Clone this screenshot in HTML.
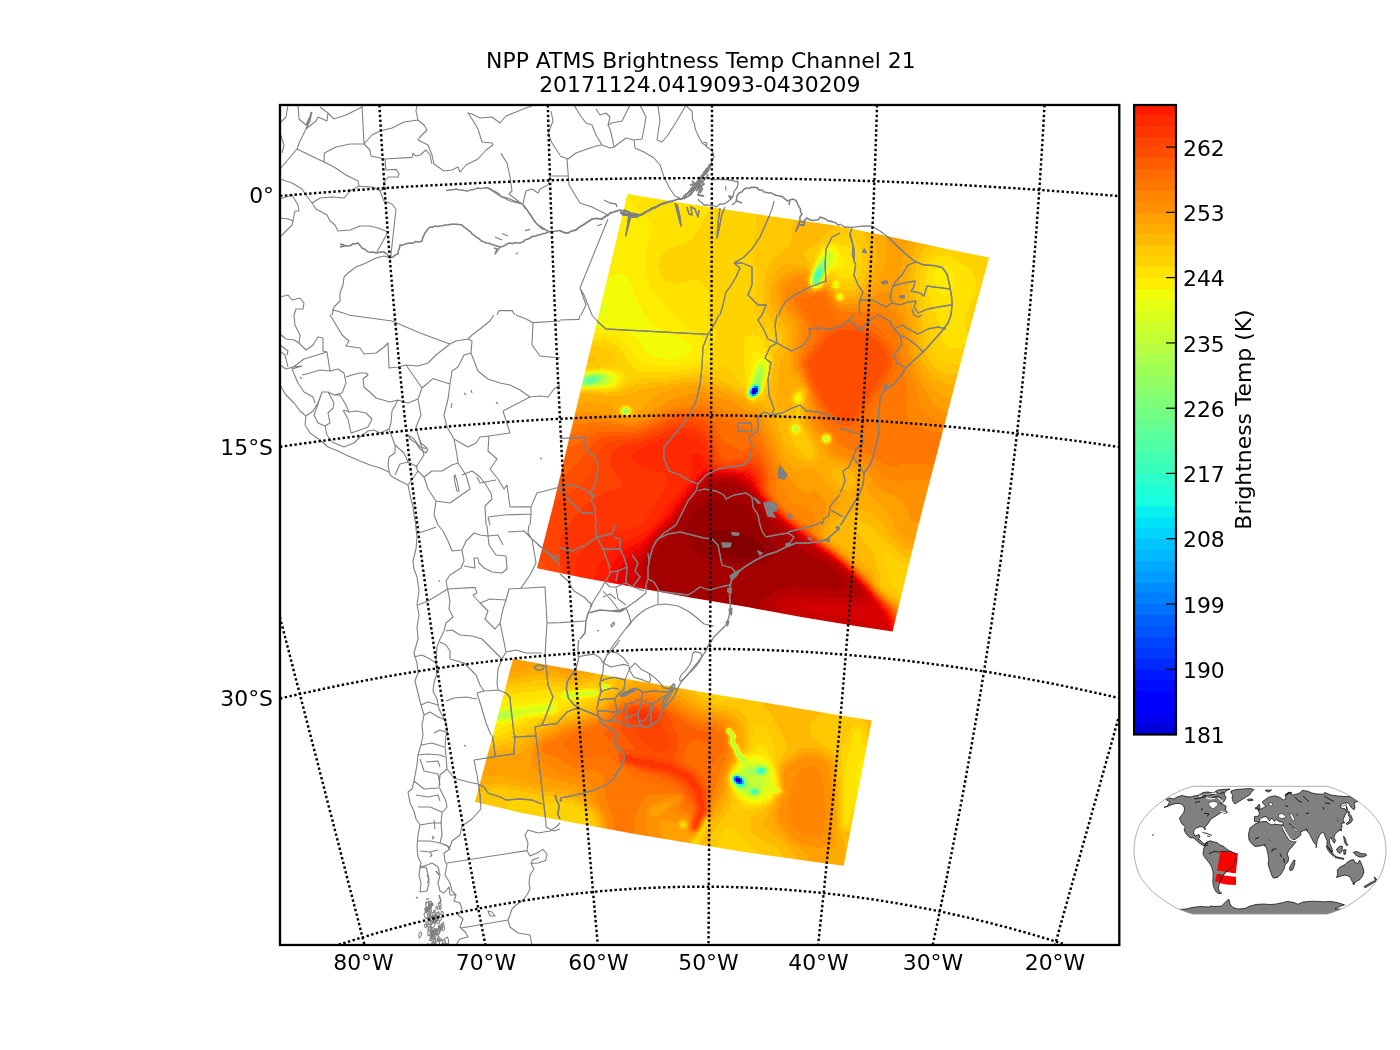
<!DOCTYPE html>
<html><head><meta charset="utf-8"><title>NPP ATMS Brightness Temp Channel 21</title>
<style>
html,body{margin:0;padding:0;background:#fff}
svg{display:block}
.t{font-family:"DejaVu Sans","Liberation Sans",sans-serif;font-size:21.9px;fill:#000}
</style></head><body>
<svg width="1400" height="1050" viewBox="0 0 1400 1050">
<rect width="1400" height="1050" fill="#fff"/>
<clipPath id="ax"><rect x="280" y="105" width="839.3" height="840"/></clipPath>
<g clip-path="url(#ax)">
<clipPath id="c1"><polygon points="627.3,194.0 674.3,201.8 728.6,210.0 782.9,218.1 837.2,225.7 891.4,237.1 945.7,248.8 989.2,257.6 966.8,339.2 944.5,424.6 918.5,524.9 892.6,631.6 855.7,626.1 801.4,616.9 747.2,607.1 692.9,597.9 638.6,588.1 584.3,578.1 537.0,568.2 553.4,504.5 572.0,426.5 590.6,348.4 609.2,270.4"/></clipPath>
<g clip-path="url(#c1)" shape-rendering="crispEdges">
<path fill="#0000bb" d="M754 390h2v2h-2z"/>
<path fill="#0000cd" d="M754 388h2v2h-2zM752 390h2v2h-2z"/>
<path fill="#0000da" d="M752 392h2v2h-2z"/>
<path fill="#0000ed" d="M754 392h2v2h-2z"/>
<path fill="#000cff" d="M756 388h2v2h-2zM756 390h2v2h-2z"/>
<path fill="#0028ff" d="M752 388h2v2h-2z"/>
<path fill="#0070ff" d="M754 386h2v2h-2z"/>
<path fill="#008cff" d="M756 386h2v2h-2zM750 392h2v2h-2zM752 394h2v2h-2z"/>
<path fill="#009cff" d="M750 390h2v2h-2zM756 392h2v2h-2z"/>
<path fill="#00c4ff" d="M754 394h2v2h-2z"/>
<path fill="#16ffe1" d="M752 386h2v2h-2zM758 388h2v2h-2zM750 394h2v2h-2z"/>
<path fill="#2cffca" d="M818 272h2v2h-2zM818 274h2v2h-2z"/>
<path fill="#39ffbe" d="M816 274h2v2h-2zM816 276h2v2h-2zM758 386h2v2h-2zM750 388h2v2h-2zM758 390h2v2h-2z"/>
<path fill="#43ffb4" d="M818 270h2v2h-2zM816 272h2v2h-2zM818 276h2v2h-2zM756 384h2v2h-2z"/>
<path fill="#50ffa7" d="M820 270h2v2h-2zM820 272h2v2h-2zM816 278h2v2h-2zM590 380h2v2h-2zM754 384h2v2h-2z"/>
<path fill="#5aff9d" d="M820 268h2v2h-2zM820 274h2v2h-2zM814 276h2v2h-2zM814 278h2v2h-2zM816 280h2v2h-2zM588 378h6v2h-6zM588 380h2v2h-2zM592 380h2v2h-2z"/>
<path fill="#66ff90" d="M818 268h2v2h-2zM818 278h2v2h-2zM814 280h2v2h-2zM586 378h2v2h-2zM594 378h2v2h-2zM586 380h2v2h-2zM594 380h2v2h-2z"/>
<path fill="#73ff83" d="M820 266h4v2h-4zM822 268h2v2h-2zM816 270h2v2h-2zM822 270h2v2h-2zM814 274h2v2h-2zM816 282h2v2h-2zM592 376h4v2h-4zM596 378h2v2h-2zM584 380h2v2h-2zM586 382h6v2h-6zM758 384h2v2h-2z"/>
<path fill="#7dff7a" d="M822 272h2v2h-2zM820 276h2v2h-2zM818 280h2v2h-2zM814 282h2v2h-2zM588 376h4v2h-4zM596 376h2v2h-2zM584 378h2v2h-2zM598 378h2v2h-2zM596 380h2v2h-2zM592 382h2v2h-2zM756 394h2v2h-2zM752 396h2v2h-2z"/>
<path fill="#8aff6d" d="M820 264h4v2h-4zM818 266h2v2h-2zM598 376h2v2h-2zM582 380h2v2h-2zM598 380h2v2h-2zM584 382h2v2h-2zM594 382h2v2h-2zM756 382h2v2h-2zM624 410h4v2h-4z"/>
<path fill="#94ff63" d="M822 262h2v2h-2zM824 264h2v2h-2zM824 266h2v2h-2zM816 268h2v2h-2zM814 272h2v2h-2zM818 282h2v2h-2zM586 376h2v2h-2zM600 376h2v2h-2zM758 376h2v2h-2zM582 378h2v2h-2zM600 378h2v2h-2zM758 378h2v2h-2zM582 382h2v2h-2zM596 382h2v2h-2zM758 382h2v2h-2zM752 384h2v2h-2zM748 392h2v2h-2zM758 392h2v2h-2z"/>
<path fill="#a0ff56" d="M824 262h2v2h-2zM824 268h2v2h-2zM822 274h2v2h-2zM812 278h2v2h-2zM820 278h2v2h-2zM812 280h2v2h-2zM816 284h2v2h-2zM760 372h2v2h-2zM592 374h6v2h-6zM758 374h4v2h-4zM602 376h2v2h-2zM760 376h2v2h-2zM602 378h2v2h-2zM756 378h2v2h-2zM580 380h2v2h-2zM600 380h2v2h-2zM756 380h4v2h-4zM754 382h2v2h-2zM586 384h6v2h-6zM750 386h2v2h-2zM750 396h2v2h-2z"/>
<path fill="#aaff4d" d="M822 260h4v2h-4zM820 262h2v2h-2zM818 264h2v2h-2zM824 270h2v2h-2zM812 276h2v2h-2zM812 282h2v2h-2zM814 284h2v2h-2zM760 370h2v2h-2zM758 372h2v2h-2zM590 374h2v2h-2zM598 374h4v2h-4zM584 376h2v2h-2zM756 376h2v2h-2zM760 378h2v2h-2zM602 380h2v2h-2zM580 382h2v2h-2zM598 382h2v2h-2zM584 384h2v2h-2zM592 384h2v2h-2zM748 390h2v2h-2zM748 394h2v2h-2zM754 396h2v2h-2zM794 428h2v2h-2z"/>
<path fill="#b7ff40" d="M824 258h2v2h-2zM826 260h2v2h-2zM826 262h2v2h-2zM826 264h2v2h-2zM814 270h2v2h-2zM820 280h2v2h-2zM818 284h2v2h-2zM760 368h4v2h-4zM758 370h2v2h-2zM762 370h2v2h-2zM762 372h2v2h-2zM588 374h2v2h-2zM602 374h2v2h-2zM756 374h2v2h-2zM762 374h2v2h-2zM582 376h2v2h-2zM604 376h2v2h-2zM580 378h2v2h-2zM604 378h2v2h-2zM754 378h2v2h-2zM578 380h2v2h-2zM604 380h2v2h-2zM754 380h2v2h-2zM760 380h2v2h-2zM600 382h2v2h-2zM760 382h2v2h-2zM582 384h2v2h-2zM594 384h2v2h-2zM760 384h2v2h-2zM760 386h2v2h-2zM624 408h4v2h-4zM624 412h4v2h-4zM796 428h2v2h-2zM826 438h2v2h-2z"/>
<path fill="#c4ff33" d="M826 256h2v2h-2zM822 258h2v2h-2zM826 258h4v2h-4zM820 260h2v2h-2zM816 266h2v2h-2zM826 266h2v2h-2zM824 272h2v2h-2zM822 276h2v2h-2zM760 366h4v2h-4zM758 368h2v2h-2zM756 372h2v2h-2zM586 374h2v2h-2zM604 374h2v2h-2zM606 376h2v2h-2zM754 376h2v2h-2zM762 376h2v2h-2zM606 378h2v2h-2zM606 380h2v2h-2zM578 382h2v2h-2zM602 382h2v2h-2zM752 382h2v2h-2zM580 384h2v2h-2zM596 384h4v2h-4zM760 388h2v2h-2zM622 410h2v2h-2zM628 410h2v2h-2zM826 436h2v2h-2zM824 438h2v2h-2z"/>
<path fill="#ceff29" d="M826 254h6v2h-6zM824 256h2v2h-2zM828 256h4v2h-4zM830 258h2v2h-2zM828 260h4v2h-4zM818 262h2v2h-2zM828 262h2v2h-2zM828 264h2v2h-2zM826 268h2v2h-2zM812 274h2v2h-2zM820 282h2v2h-2zM812 284h2v2h-2zM760 364h4v2h-4zM758 366h2v2h-2zM764 366h2v2h-2zM764 368h2v2h-2zM756 370h2v2h-2zM764 370h2v2h-2zM594 372h8v2h-8zM764 372h2v2h-2zM584 374h2v2h-2zM606 374h2v2h-2zM754 374h2v2h-2zM580 376h2v2h-2zM608 376h2v2h-2zM578 378h2v2h-2zM608 378h4v2h-4zM762 378h2v2h-2zM576 380h2v2h-2zM608 380h2v2h-2zM752 380h2v2h-2zM576 382h2v2h-2zM604 382h4v2h-4zM600 384h2v2h-2zM748 388h2v2h-2zM794 426h4v2h-4zM794 430h4v2h-4z"/>
<path fill="#dbff1c" d="M826 252h6v2h-6zM824 254h2v2h-2zM832 254h2v2h-2zM822 256h2v2h-2zM832 256h2v2h-2zM820 258h2v2h-2zM832 258h2v2h-2zM832 260h2v2h-2zM830 262h2v2h-2zM816 264h2v2h-2zM828 266h2v2h-2zM814 268h2v2h-2zM826 270h2v2h-2zM824 274h2v2h-2zM822 278h2v2h-2zM834 284h4v2h-4zM838 296h4v2h-4zM762 362h2v2h-2zM758 364h2v2h-2zM764 364h2v2h-2zM756 368h2v2h-2zM590 372h4v2h-4zM602 372h4v2h-4zM754 372h2v2h-2zM608 374h2v2h-2zM764 374h2v2h-2zM610 376h2v2h-2zM576 378h2v2h-2zM612 378h2v2h-2zM752 378h2v2h-2zM610 380h2v2h-2zM762 380h2v2h-2zM608 382h2v2h-2zM578 384h2v2h-2zM602 384h4v2h-4zM750 384h2v2h-2zM584 386h12v2h-12zM760 390h2v2h-2zM792 428h2v2h-2zM824 436h2v2h-2zM826 440h2v2h-2z"/>
<path fill="#e4ff13" d="M826 250h8v2h-8zM824 252h2v2h-2zM832 252h2v2h-2zM822 254h2v2h-2zM834 254h2v2h-2zM820 256h2v2h-2zM834 256h2v2h-2zM834 258h2v2h-2zM818 260h2v2h-2zM832 262h2v2h-2zM830 264h2v2h-2zM828 268h2v2h-2zM812 272h2v2h-2zM814 286h4v2h-4zM580 304h24v2h-24zM534 306h18v2h-18zM570 306h38v2h-38zM534 308h74v2h-74zM534 310h74v2h-74zM534 312h10v2h-10zM574 312h34v2h-34zM586 314h16v2h-16zM762 360h2v2h-2zM758 362h4v2h-4zM764 362h2v2h-2zM756 366h2v2h-2zM754 368h2v2h-2zM754 370h2v2h-2zM588 372h2v2h-2zM606 372h4v2h-4zM582 374h2v2h-2zM610 374h4v2h-4zM752 374h2v2h-2zM578 376h2v2h-2zM612 376h2v2h-2zM752 376h2v2h-2zM764 376h2v2h-2zM614 378h2v2h-2zM574 380h2v2h-2zM612 380h4v2h-4zM574 382h2v2h-2zM610 382h4v2h-4zM750 382h2v2h-2zM762 382h2v2h-2zM576 384h2v2h-2zM606 384h4v2h-4zM580 386h4v2h-4zM596 386h6v2h-6zM758 394h2v2h-2zM748 396h2v2h-2zM756 396h2v2h-2zM798 396h2v2h-2zM798 398h2v2h-2zM622 408h2v2h-2zM628 408h2v2h-2zM622 412h2v2h-2zM628 412h2v2h-2zM798 428h2v2h-2zM828 438h2v2h-2zM824 440h2v2h-2z"/>
<path fill="#f1fc06" d="M826 248h8v2h-8zM824 250h2v2h-2zM834 250h2v2h-2zM822 252h2v2h-2zM834 252h2v2h-2zM836 254h2v2h-2zM836 256h2v2h-2zM818 258h2v2h-2zM836 258h2v2h-2zM834 260h4v2h-4zM816 262h2v2h-2zM834 262h2v2h-2zM832 264h2v2h-2zM814 266h2v2h-2zM830 266h2v2h-2zM826 272h2v2h-2zM616 274h10v2h-10zM610 276h18v2h-18zM534 278h58v2h-58zM596 278h32v2h-32zM810 278h2v2h-2zM534 280h96v2h-96zM810 280h2v2h-2zM822 280h2v2h-2zM534 282h96v2h-96zM810 282h2v2h-2zM834 282h4v2h-4zM534 284h98v2h-98zM820 284h2v2h-2zM534 286h98v2h-98zM818 286h2v2h-2zM834 286h4v2h-4zM534 288h98v2h-98zM534 290h100v2h-100zM534 292h100v2h-100zM534 294h100v2h-100zM838 294h4v2h-4zM534 296h102v2h-102zM534 298h102v2h-102zM840 298h2v2h-2zM534 300h104v2h-104zM534 302h104v2h-104zM534 304h46v2h-46zM604 304h36v2h-36zM552 306h18v2h-18zM608 306h32v2h-32zM608 308h34v2h-34zM608 310h34v2h-34zM544 312h30v2h-30zM608 312h36v2h-36zM534 314h52v2h-52zM602 314h42v2h-42zM534 316h112v2h-112zM534 318h114v2h-114zM534 320h116v2h-116zM534 322h116v2h-116zM534 324h120v2h-120zM534 326h122v2h-122zM616 328h44v2h-44zM624 330h40v2h-40zM630 332h40v2h-40zM632 334h42v2h-42zM636 336h44v2h-44zM638 338h46v2h-46zM638 340h48v2h-48zM640 342h50v2h-50zM642 344h48v2h-48zM644 346h48v2h-48zM644 348h48v2h-48zM646 350h46v2h-46zM648 352h42v2h-42zM652 354h36v2h-36zM656 356h28v2h-28zM664 358h10v2h-10zM760 358h6v2h-6zM758 360h4v2h-4zM764 360h2v2h-2zM756 362h2v2h-2zM766 362h2v2h-2zM754 364h4v2h-4zM766 364h2v2h-2zM754 366h2v2h-2zM766 366h2v2h-2zM766 368h2v2h-2zM598 370h6v2h-6zM752 370h2v2h-2zM766 370h2v2h-2zM586 372h2v2h-2zM610 372h2v2h-2zM752 372h2v2h-2zM766 372h2v2h-2zM580 374h2v2h-2zM614 374h2v2h-2zM576 376h2v2h-2zM614 376h4v2h-4zM750 376h2v2h-2zM574 378h2v2h-2zM616 378h2v2h-2zM750 378h2v2h-2zM764 378h2v2h-2zM616 380h2v2h-2zM750 380h2v2h-2zM572 382h2v2h-2zM614 382h2v2h-2zM574 384h2v2h-2zM610 384h4v2h-4zM762 384h2v2h-2zM578 386h2v2h-2zM602 386h6v2h-6zM748 386h2v2h-2zM762 386h2v2h-2zM796 396h2v2h-2zM752 398h2v2h-2zM796 398h2v2h-2zM792 426h2v2h-2zM792 430h2v2h-2zM828 436h2v2h-2z"/>
<path fill="#feed00" d="M534 192h38v2h-38zM622 192h6v2h-6zM534 194h38v2h-38zM620 194h8v2h-8zM534 196h38v2h-38zM620 196h10v2h-10zM534 198h38v2h-38zM618 198h12v2h-12zM534 200h38v2h-38zM614 200h18v2h-18zM534 202h40v2h-40zM610 202h24v2h-24zM534 204h40v2h-40zM606 204h28v2h-28zM534 206h44v2h-44zM598 206h38v2h-38zM534 208h104v2h-104zM534 210h106v2h-106zM534 212h108v2h-108zM534 214h110v2h-110zM534 216h112v2h-112zM534 218h114v2h-114zM534 220h116v2h-116zM534 222h116v2h-116zM534 224h118v2h-118zM534 226h118v2h-118zM534 228h118v2h-118zM534 230h118v2h-118zM534 232h118v2h-118zM534 234h116v2h-116zM534 236h116v2h-116zM534 238h116v2h-116zM534 240h114v2h-114zM534 242h114v2h-114zM534 244h114v2h-114zM534 246h114v2h-114zM828 246h8v2h-8zM534 248h112v2h-112zM824 248h2v2h-2zM834 248h4v2h-4zM534 250h112v2h-112zM822 250h2v2h-2zM836 250h4v2h-4zM534 252h112v2h-112zM836 252h4v2h-4zM534 254h112v2h-112zM820 254h2v2h-2zM838 254h4v2h-4zM534 256h112v2h-112zM818 256h2v2h-2zM838 256h6v2h-6zM534 258h112v2h-112zM838 258h6v2h-6zM534 260h112v2h-112zM816 260h2v2h-2zM838 260h8v2h-8zM534 262h112v2h-112zM836 262h10v2h-10zM534 264h112v2h-112zM834 264h12v2h-12zM534 266h112v2h-112zM832 266h10v2h-10zM938 266h10v2h-10zM534 268h112v2h-112zM830 268h4v2h-4zM936 268h14v2h-14zM534 270h112v2h-112zM812 270h2v2h-2zM828 270h2v2h-2zM936 270h16v2h-16zM534 272h112v2h-112zM934 272h20v2h-20zM534 274h82v2h-82zM626 274h20v2h-20zM934 274h20v2h-20zM534 276h76v2h-76zM628 276h20v2h-20zM810 276h2v2h-2zM824 276h2v2h-2zM934 276h20v2h-20zM592 278h4v2h-4zM628 278h20v2h-20zM934 278h22v2h-22zM630 280h18v2h-18zM934 280h22v2h-22zM630 282h20v2h-20zM934 282h22v2h-22zM632 284h18v2h-18zM838 284h2v2h-2zM936 284h18v2h-18zM632 286h18v2h-18zM812 286h2v2h-2zM936 286h18v2h-18zM632 288h20v2h-20zM936 288h16v2h-16zM634 290h20v2h-20zM938 290h14v2h-14zM634 292h20v2h-20zM940 292h10v2h-10zM634 294h22v2h-22zM944 294h2v2h-2zM636 296h22v2h-22zM636 298h24v2h-24zM838 298h2v2h-2zM638 300h24v2h-24zM638 302h24v2h-24zM640 304h24v2h-24zM640 306h26v2h-26zM642 308h26v2h-26zM642 310h28v2h-28zM644 312h28v2h-28zM644 314h30v2h-30zM646 316h30v2h-30zM648 318h30v2h-30zM650 320h30v2h-30zM650 322h34v2h-34zM654 324h32v2h-32zM656 326h34v2h-34zM534 328h82v2h-82zM660 328h32v2h-32zM534 330h90v2h-90zM664 330h32v2h-32zM534 332h96v2h-96zM670 332h28v2h-28zM550 334h22v2h-22zM608 334h24v2h-24zM674 334h26v2h-26zM616 336h20v2h-20zM680 336h22v2h-22zM620 338h18v2h-18zM684 338h20v2h-20zM622 340h16v2h-16zM686 340h18v2h-18zM626 342h14v2h-14zM690 342h14v2h-14zM628 344h14v2h-14zM690 344h14v2h-14zM630 346h14v2h-14zM692 346h14v2h-14zM630 348h14v2h-14zM692 348h14v2h-14zM632 350h14v2h-14zM692 350h12v2h-12zM634 352h14v2h-14zM690 352h14v2h-14zM754 352h6v2h-6zM634 354h18v2h-18zM688 354h16v2h-16zM752 354h12v2h-12zM636 356h20v2h-20zM684 356h18v2h-18zM752 356h14v2h-14zM638 358h26v2h-26zM674 358h26v2h-26zM752 358h8v2h-8zM766 358h2v2h-2zM640 360h56v2h-56zM750 360h8v2h-8zM766 360h2v2h-2zM644 362h46v2h-46zM750 362h6v2h-6zM650 364h32v2h-32zM750 364h4v2h-4zM750 366h4v2h-4zM750 368h4v2h-4zM590 370h8v2h-8zM604 370h8v2h-8zM750 370h2v2h-2zM582 372h4v2h-4zM612 372h4v2h-4zM750 372h2v2h-2zM578 374h2v2h-2zM616 374h4v2h-4zM750 374h2v2h-2zM766 374h2v2h-2zM574 376h2v2h-2zM618 376h2v2h-2zM766 376h2v2h-2zM572 378h2v2h-2zM618 378h2v2h-2zM748 378h2v2h-2zM572 380h2v2h-2zM618 380h2v2h-2zM748 380h2v2h-2zM764 380h2v2h-2zM616 382h2v2h-2zM748 382h2v2h-2zM764 382h2v2h-2zM572 384h2v2h-2zM614 384h2v2h-2zM748 384h2v2h-2zM576 386h2v2h-2zM608 386h6v2h-6zM588 388h4v2h-4zM762 388h2v2h-2zM760 392h2v2h-2zM796 394h4v2h-4zM800 396h2v2h-2zM750 398h2v2h-2zM800 398h2v2h-2zM796 400h4v2h-4zM626 406h2v2h-2zM794 424h4v2h-4zM798 426h2v2h-2zM798 430h2v2h-2zM794 432h4v2h-4zM822 438h2v2h-2zM828 440h2v2h-2z"/>
<path fill="#ffe200" d="M572 192h50v2h-50zM628 192h84v2h-84zM572 194h48v2h-48zM628 194h84v2h-84zM572 196h48v2h-48zM630 196h82v2h-82zM572 198h46v2h-46zM630 198h82v2h-82zM572 200h42v2h-42zM632 200h80v2h-80zM574 202h36v2h-36zM634 202h78v2h-78zM574 204h32v2h-32zM634 204h76v2h-76zM578 206h20v2h-20zM636 206h74v2h-74zM638 208h72v2h-72zM640 210h68v2h-68zM642 212h66v2h-66zM644 214h62v2h-62zM646 216h60v2h-60zM648 218h56v2h-56zM650 220h54v2h-54zM650 222h52v2h-52zM652 224h50v2h-50zM652 226h48v2h-48zM652 228h48v2h-48zM652 230h46v2h-46zM652 232h44v2h-44zM650 234h44v2h-44zM650 236h44v2h-44zM650 238h42v2h-42zM648 240h40v2h-40zM648 242h36v2h-36zM648 244h32v2h-32zM828 244h14v2h-14zM648 246h26v2h-26zM824 246h4v2h-4zM836 246h12v2h-12zM646 248h24v2h-24zM822 248h2v2h-2zM838 248h14v2h-14zM646 250h20v2h-20zM820 250h2v2h-2zM840 250h12v2h-12zM646 252h18v2h-18zM820 252h2v2h-2zM840 252h14v2h-14zM646 254h16v2h-16zM818 254h2v2h-2zM842 254h12v2h-12zM646 256h14v2h-14zM844 256h12v2h-12zM936 256h14v2h-14zM646 258h14v2h-14zM816 258h2v2h-2zM844 258h12v2h-12zM934 258h22v2h-22zM646 260h14v2h-14zM846 260h10v2h-10zM932 260h28v2h-28zM646 262h12v2h-12zM814 262h2v2h-2zM846 262h10v2h-10zM930 262h32v2h-32zM646 264h12v2h-12zM814 264h2v2h-2zM846 264h10v2h-10zM928 264h36v2h-36zM646 266h12v2h-12zM842 266h14v2h-14zM928 266h10v2h-10zM948 266h20v2h-20zM646 268h14v2h-14zM812 268h2v2h-2zM834 268h22v2h-22zM928 268h8v2h-8zM950 268h20v2h-20zM646 270h14v2h-14zM830 270h24v2h-24zM926 270h10v2h-10zM952 270h20v2h-20zM646 272h14v2h-14zM828 272h2v2h-2zM836 272h18v2h-18zM926 272h8v2h-8zM954 272h18v2h-18zM646 274h16v2h-16zM826 274h2v2h-2zM838 274h14v2h-14zM926 274h8v2h-8zM954 274h20v2h-20zM648 276h14v2h-14zM842 276h8v2h-8zM926 276h8v2h-8zM954 276h20v2h-20zM648 278h16v2h-16zM824 278h2v2h-2zM926 278h8v2h-8zM956 278h20v2h-20zM648 280h18v2h-18zM688 280h10v2h-10zM834 280h4v2h-4zM926 280h8v2h-8zM956 280h20v2h-20zM650 282h22v2h-22zM678 282h24v2h-24zM822 282h2v2h-2zM832 282h2v2h-2zM838 282h2v2h-2zM926 282h8v2h-8zM956 282h20v2h-20zM650 284h54v2h-54zM810 284h2v2h-2zM832 284h2v2h-2zM926 284h10v2h-10zM954 284h22v2h-22zM650 286h56v2h-56zM838 286h2v2h-2zM926 286h10v2h-10zM954 286h22v2h-22zM652 288h54v2h-54zM928 288h8v2h-8zM952 288h24v2h-24zM654 290h54v2h-54zM928 290h10v2h-10zM952 290h24v2h-24zM654 292h54v2h-54zM928 292h12v2h-12zM950 292h26v2h-26zM656 294h52v2h-52zM928 294h16v2h-16zM946 294h28v2h-28zM658 296h52v2h-52zM836 296h2v2h-2zM842 296h2v2h-2zM930 296h44v2h-44zM660 298h48v2h-48zM930 298h44v2h-44zM662 300h46v2h-46zM930 300h42v2h-42zM662 302h46v2h-46zM932 302h40v2h-40zM664 304h44v2h-44zM932 304h38v2h-38zM666 306h42v2h-42zM932 306h38v2h-38zM668 308h40v2h-40zM934 308h36v2h-36zM670 310h38v2h-38zM934 310h34v2h-34zM672 312h36v2h-36zM936 312h32v2h-32zM674 314h34v2h-34zM936 314h30v2h-30zM676 316h32v2h-32zM936 316h30v2h-30zM678 318h30v2h-30zM938 318h28v2h-28zM680 320h30v2h-30zM938 320h28v2h-28zM684 322h26v2h-26zM940 322h26v2h-26zM686 324h26v2h-26zM940 324h24v2h-24zM690 326h24v2h-24zM940 326h26v2h-26zM692 328h22v2h-22zM940 328h26v2h-26zM696 330h20v2h-20zM942 330h24v2h-24zM698 332h18v2h-18zM942 332h24v2h-24zM534 334h16v2h-16zM572 334h36v2h-36zM700 334h16v2h-16zM750 334h4v2h-4zM942 334h26v2h-26zM534 336h82v2h-82zM702 336h14v2h-14zM746 336h14v2h-14zM942 336h26v2h-26zM534 338h86v2h-86zM704 338h12v2h-12zM744 338h18v2h-18zM942 338h26v2h-26zM534 340h44v2h-44zM606 340h16v2h-16zM704 340h12v2h-12zM744 340h20v2h-20zM944 340h24v2h-24zM612 342h14v2h-14zM704 342h10v2h-10zM744 342h20v2h-20zM944 342h24v2h-24zM616 344h12v2h-12zM704 344h10v2h-10zM744 344h20v2h-20zM946 344h18v2h-18zM618 346h12v2h-12zM706 346h8v2h-8zM744 346h20v2h-20zM948 346h14v2h-14zM620 348h10v2h-10zM706 348h8v2h-8zM744 348h22v2h-22zM622 350h10v2h-10zM704 350h10v2h-10zM744 350h22v2h-22zM624 352h10v2h-10zM704 352h8v2h-8zM744 352h10v2h-10zM760 352h8v2h-8zM624 354h10v2h-10zM704 354h8v2h-8zM744 354h8v2h-8zM764 354h4v2h-4zM626 356h10v2h-10zM702 356h10v2h-10zM744 356h8v2h-8zM766 356h4v2h-4zM626 358h12v2h-12zM700 358h10v2h-10zM744 358h8v2h-8zM768 358h2v2h-2zM628 360h12v2h-12zM696 360h14v2h-14zM744 360h6v2h-6zM768 360h2v2h-2zM628 362h16v2h-16zM690 362h16v2h-16zM744 362h6v2h-6zM768 362h2v2h-2zM630 364h20v2h-20zM682 364h22v2h-22zM744 364h6v2h-6zM768 364h2v2h-2zM632 366h66v2h-66zM744 366h6v2h-6zM768 366h2v2h-2zM600 368h8v2h-8zM634 368h56v2h-56zM744 368h6v2h-6zM768 368h2v2h-2zM586 370h4v2h-4zM612 370h8v2h-8zM638 370h42v2h-42zM744 370h6v2h-6zM768 370h2v2h-2zM580 372h2v2h-2zM616 372h6v2h-6zM744 372h6v2h-6zM576 374h2v2h-2zM620 374h4v2h-4zM746 374h4v2h-4zM572 376h2v2h-2zM620 376h4v2h-4zM746 376h4v2h-4zM570 378h2v2h-2zM620 378h4v2h-4zM746 378h2v2h-2zM766 378h2v2h-2zM568 380h4v2h-4zM620 380h4v2h-4zM746 380h2v2h-2zM568 382h4v2h-4zM618 382h4v2h-4zM746 382h2v2h-2zM570 384h2v2h-2zM616 384h4v2h-4zM746 384h2v2h-2zM764 384h2v2h-2zM572 386h4v2h-4zM614 386h4v2h-4zM746 386h2v2h-2zM578 388h10v2h-10zM592 388h20v2h-20zM746 388h2v2h-2zM746 390h2v2h-2zM762 390h2v2h-2zM746 392h2v2h-2zM798 392h2v2h-2zM746 394h2v2h-2zM800 394h2v2h-2zM794 396h2v2h-2zM754 398h2v2h-2zM794 398h2v2h-2zM794 400h2v2h-2zM800 400h2v2h-2zM796 402h4v2h-4zM624 406h2v2h-2zM620 410h2v2h-2zM630 410h2v2h-2zM624 414h4v2h-4zM792 424h2v2h-2zM790 428h2v2h-2zM792 432h2v2h-2zM798 432h2v2h-2zM826 434h2v2h-2zM822 436h2v2h-2zM948 572h12v2h-12zM944 574h20v2h-20zM912 576h14v2h-14zM944 576h20v2h-20zM910 578h20v2h-20zM944 578h22v2h-22zM910 580h20v2h-20zM946 580h20v2h-20zM912 582h18v2h-18zM954 582h8v2h-8zM912 584h16v2h-16zM914 586h12v2h-12z"/>
<path fill="#ffd300" d="M712 192h42v2h-42zM984 192h10v2h-10zM712 194h42v2h-42zM984 194h10v2h-10zM712 196h42v2h-42zM984 196h10v2h-10zM712 198h42v2h-42zM984 198h10v2h-10zM712 200h42v2h-42zM984 200h10v2h-10zM712 202h42v2h-42zM984 202h10v2h-10zM710 204h44v2h-44zM984 204h10v2h-10zM710 206h46v2h-46zM986 206h8v2h-8zM710 208h46v2h-46zM986 208h8v2h-8zM708 210h48v2h-48zM986 210h8v2h-8zM708 212h48v2h-48zM986 212h8v2h-8zM706 214h50v2h-50zM986 214h8v2h-8zM706 216h50v2h-50zM986 216h8v2h-8zM704 218h52v2h-52zM986 218h8v2h-8zM704 220h52v2h-52zM986 220h8v2h-8zM702 222h54v2h-54zM986 222h8v2h-8zM702 224h54v2h-54zM986 224h8v2h-8zM700 226h56v2h-56zM986 226h8v2h-8zM700 228h56v2h-56zM986 228h8v2h-8zM698 230h58v2h-58zM986 230h8v2h-8zM696 232h60v2h-60zM986 232h8v2h-8zM694 234h60v2h-60zM844 234h4v2h-4zM984 234h10v2h-10zM694 236h60v2h-60zM838 236h14v2h-14zM984 236h10v2h-10zM692 238h62v2h-62zM832 238h22v2h-22zM984 238h10v2h-10zM688 240h66v2h-66zM828 240h28v2h-28zM984 240h10v2h-10zM684 242h70v2h-70zM826 242h32v2h-32zM982 242h12v2h-12zM680 244h74v2h-74zM822 244h6v2h-6zM842 244h16v2h-16zM982 244h12v2h-12zM674 246h80v2h-80zM820 246h4v2h-4zM848 246h12v2h-12zM980 246h14v2h-14zM670 248h84v2h-84zM820 248h2v2h-2zM852 248h8v2h-8zM934 248h18v2h-18zM978 248h16v2h-16zM666 250h88v2h-88zM818 250h2v2h-2zM852 250h10v2h-10zM932 250h28v2h-28zM976 250h18v2h-18zM664 252h90v2h-90zM816 252h4v2h-4zM854 252h8v2h-8zM930 252h64v2h-64zM662 254h92v2h-92zM816 254h2v2h-2zM854 254h8v2h-8zM928 254h66v2h-66zM660 256h94v2h-94zM814 256h4v2h-4zM856 256h6v2h-6zM926 256h10v2h-10zM950 256h44v2h-44zM660 258h94v2h-94zM814 258h2v2h-2zM856 258h6v2h-6zM924 258h10v2h-10zM956 258h38v2h-38zM660 260h94v2h-94zM814 260h2v2h-2zM856 260h6v2h-6zM924 260h8v2h-8zM960 260h34v2h-34zM658 262h96v2h-96zM856 262h6v2h-6zM922 262h8v2h-8zM962 262h32v2h-32zM658 264h96v2h-96zM812 264h2v2h-2zM856 264h6v2h-6zM922 264h6v2h-6zM964 264h30v2h-30zM658 266h98v2h-98zM812 266h2v2h-2zM856 266h6v2h-6zM922 266h6v2h-6zM968 266h26v2h-26zM660 268h96v2h-96zM856 268h6v2h-6zM922 268h6v2h-6zM970 268h24v2h-24zM660 270h96v2h-96zM854 270h8v2h-8zM920 270h6v2h-6zM972 270h22v2h-22zM660 272h96v2h-96zM830 272h6v2h-6zM854 272h6v2h-6zM920 272h6v2h-6zM972 272h22v2h-22zM662 274h94v2h-94zM810 274h2v2h-2zM828 274h10v2h-10zM852 274h8v2h-8zM920 274h6v2h-6zM974 274h20v2h-20zM662 276h94v2h-94zM826 276h2v2h-2zM834 276h8v2h-8zM850 276h8v2h-8zM920 276h6v2h-6zM974 276h20v2h-20zM664 278h92v2h-92zM834 278h24v2h-24zM920 278h6v2h-6zM976 278h18v2h-18zM666 280h22v2h-22zM698 280h58v2h-58zM832 280h2v2h-2zM838 280h18v2h-18zM920 280h6v2h-6zM976 280h18v2h-18zM672 282h6v2h-6zM702 282h54v2h-54zM840 282h14v2h-14zM920 282h6v2h-6zM976 282h18v2h-18zM704 284h52v2h-52zM840 284h2v2h-2zM920 284h6v2h-6zM976 284h18v2h-18zM706 286h50v2h-50zM832 286h2v2h-2zM920 286h6v2h-6zM976 286h18v2h-18zM706 288h50v2h-50zM836 288h2v2h-2zM920 288h8v2h-8zM976 288h18v2h-18zM708 290h48v2h-48zM920 290h8v2h-8zM976 290h18v2h-18zM708 292h48v2h-48zM840 292h2v2h-2zM922 292h6v2h-6zM976 292h18v2h-18zM708 294h46v2h-46zM836 294h2v2h-2zM842 294h2v2h-2zM922 294h6v2h-6zM974 294h20v2h-20zM710 296h44v2h-44zM922 296h8v2h-8zM974 296h20v2h-20zM708 298h46v2h-46zM842 298h2v2h-2zM922 298h8v2h-8zM974 298h20v2h-20zM708 300h46v2h-46zM924 300h6v2h-6zM972 300h22v2h-22zM708 302h46v2h-46zM924 302h8v2h-8zM972 302h22v2h-22zM708 304h46v2h-46zM924 304h8v2h-8zM970 304h24v2h-24zM708 306h46v2h-46zM924 306h8v2h-8zM970 306h24v2h-24zM708 308h46v2h-46zM926 308h8v2h-8zM970 308h24v2h-24zM708 310h46v2h-46zM926 310h8v2h-8zM968 310h26v2h-26zM708 312h46v2h-46zM926 312h10v2h-10zM968 312h26v2h-26zM708 314h48v2h-48zM926 314h10v2h-10zM966 314h28v2h-28zM708 316h48v2h-48zM928 316h8v2h-8zM966 316h28v2h-28zM708 318h50v2h-50zM928 318h10v2h-10zM966 318h28v2h-28zM710 320h48v2h-48zM928 320h10v2h-10zM966 320h28v2h-28zM710 322h50v2h-50zM928 322h12v2h-12zM966 322h28v2h-28zM712 324h50v2h-50zM930 324h10v2h-10zM964 324h30v2h-30zM714 326h50v2h-50zM930 326h10v2h-10zM966 326h28v2h-28zM714 328h54v2h-54zM930 328h10v2h-10zM966 328h28v2h-28zM716 330h54v2h-54zM930 330h12v2h-12zM966 330h28v2h-28zM716 332h54v2h-54zM930 332h12v2h-12zM966 332h28v2h-28zM716 334h34v2h-34zM754 334h18v2h-18zM930 334h12v2h-12zM968 334h26v2h-26zM716 336h30v2h-30zM760 336h14v2h-14zM930 336h12v2h-12zM968 336h26v2h-26zM716 338h28v2h-28zM762 338h12v2h-12zM930 338h12v2h-12zM968 338h26v2h-26zM578 340h28v2h-28zM716 340h28v2h-28zM764 340h10v2h-10zM930 340h14v2h-14zM968 340h26v2h-26zM534 342h78v2h-78zM714 342h30v2h-30zM764 342h10v2h-10zM930 342h14v2h-14zM968 342h26v2h-26zM534 344h82v2h-82zM714 344h30v2h-30zM764 344h8v2h-8zM932 344h14v2h-14zM964 344h30v2h-30zM534 346h50v2h-50zM602 346h16v2h-16zM714 346h30v2h-30zM764 346h8v2h-8zM932 346h16v2h-16zM962 346h32v2h-32zM608 348h12v2h-12zM714 348h30v2h-30zM766 348h6v2h-6zM932 348h62v2h-62zM612 350h10v2h-10zM714 350h30v2h-30zM766 350h4v2h-4zM932 350h62v2h-62zM614 352h10v2h-10zM712 352h32v2h-32zM768 352h2v2h-2zM934 352h60v2h-60zM614 354h10v2h-10zM712 354h32v2h-32zM768 354h4v2h-4zM936 354h58v2h-58zM616 356h10v2h-10zM712 356h32v2h-32zM770 356h2v2h-2zM936 356h58v2h-58zM616 358h10v2h-10zM710 358h34v2h-34zM770 358h2v2h-2zM938 358h56v2h-56zM616 360h12v2h-12zM710 360h34v2h-34zM770 360h2v2h-2zM942 360h52v2h-52zM616 362h12v2h-12zM706 362h38v2h-38zM770 362h2v2h-2zM946 362h48v2h-48zM614 364h16v2h-16zM704 364h18v2h-18zM724 364h20v2h-20zM770 364h2v2h-2zM602 366h30v2h-30zM698 366h20v2h-20zM728 366h16v2h-16zM770 366h2v2h-2zM588 368h12v2h-12zM608 368h26v2h-26zM690 368h22v2h-22zM730 368h14v2h-14zM580 370h6v2h-6zM620 370h18v2h-18zM680 370h24v2h-24zM730 370h14v2h-14zM574 372h6v2h-6zM622 372h72v2h-72zM732 372h12v2h-12zM768 372h2v2h-2zM570 374h6v2h-6zM624 374h58v2h-58zM734 374h12v2h-12zM768 374h2v2h-2zM568 376h4v2h-4zM624 376h44v2h-44zM734 376h12v2h-12zM768 376h2v2h-2zM566 378h4v2h-4zM624 378h12v2h-12zM736 378h10v2h-10zM564 380h4v2h-4zM624 380h6v2h-6zM738 380h8v2h-8zM766 380h2v2h-2zM564 382h4v2h-4zM622 382h4v2h-4zM740 382h6v2h-6zM766 382h2v2h-2zM566 384h4v2h-4zM620 384h4v2h-4zM742 384h4v2h-4zM766 384h2v2h-2zM568 386h4v2h-4zM618 386h4v2h-4zM744 386h2v2h-2zM764 386h2v2h-2zM572 388h6v2h-6zM612 388h6v2h-6zM764 388h2v2h-2zM600 390h10v2h-10zM762 392h2v2h-2zM796 392h2v2h-2zM800 392h2v2h-2zM760 394h2v2h-2zM794 394h2v2h-2zM746 396h2v2h-2zM758 396h2v2h-2zM802 396h2v2h-2zM748 398h2v2h-2zM756 398h2v2h-2zM802 398h2v2h-2zM800 402h2v2h-2zM798 404h2v2h-2zM622 406h2v2h-2zM628 406h2v2h-2zM620 408h2v2h-2zM630 408h2v2h-2zM620 412h2v2h-2zM630 412h2v2h-2zM794 422h4v2h-4zM798 424h2v2h-2zM790 426h2v2h-2zM800 426h2v2h-2zM800 428h2v2h-2zM790 430h2v2h-2zM800 430h2v2h-2zM800 432h2v2h-2zM794 434h4v2h-4zM824 434h2v2h-2zM822 440h2v2h-2zM884 552h4v2h-4zM884 554h6v2h-6zM884 556h10v2h-10zM884 558h12v2h-12zM884 560h14v2h-14zM884 562h18v2h-18zM942 562h20v2h-20zM884 564h22v2h-22zM934 564h30v2h-30zM886 566h82v2h-82zM886 568h84v2h-84zM888 570h84v2h-84zM888 572h60v2h-60zM960 572h12v2h-12zM888 574h56v2h-56zM964 574h10v2h-10zM888 576h24v2h-24zM926 576h18v2h-18zM964 576h12v2h-12zM888 578h22v2h-22zM930 578h14v2h-14zM966 578h12v2h-12zM890 580h20v2h-20zM930 580h16v2h-16zM966 580h14v2h-14zM890 582h22v2h-22zM930 582h24v2h-24zM962 582h18v2h-18zM892 584h20v2h-20zM928 584h54v2h-54zM894 586h20v2h-20zM926 586h56v2h-56zM896 588h86v2h-86zM898 590h40v2h-40zM954 590h22v2h-22zM900 592h30v2h-30zM904 594h20v2h-20zM906 596h12v2h-12z"/>
<path fill="#ffc800" d="M754 192h76v2h-76zM972 192h12v2h-12zM754 194h76v2h-76zM972 194h12v2h-12zM754 196h76v2h-76zM972 196h12v2h-12zM754 198h76v2h-76zM972 198h12v2h-12zM754 200h76v2h-76zM972 200h12v2h-12zM754 202h76v2h-76zM972 202h12v2h-12zM754 204h74v2h-74zM972 204h12v2h-12zM756 206h70v2h-70zM972 206h14v2h-14zM756 208h68v2h-68zM972 208h14v2h-14zM756 210h62v2h-62zM972 210h14v2h-14zM756 212h52v2h-52zM974 212h12v2h-12zM756 214h46v2h-46zM974 214h12v2h-12zM756 216h42v2h-42zM974 216h12v2h-12zM756 218h40v2h-40zM844 218h14v2h-14zM974 218h12v2h-12zM756 220h40v2h-40zM840 220h20v2h-20zM974 220h12v2h-12zM756 222h38v2h-38zM836 222h24v2h-24zM974 222h12v2h-12zM756 224h38v2h-38zM834 224h28v2h-28zM974 224h12v2h-12zM756 226h36v2h-36zM834 226h28v2h-28zM974 226h12v2h-12zM756 228h36v2h-36zM832 228h30v2h-30zM974 228h12v2h-12zM756 230h36v2h-36zM830 230h34v2h-34zM974 230h12v2h-12zM756 232h36v2h-36zM828 232h36v2h-36zM972 232h14v2h-14zM754 234h38v2h-38zM826 234h18v2h-18zM848 234h16v2h-16zM972 234h12v2h-12zM754 236h38v2h-38zM824 236h14v2h-14zM852 236h14v2h-14zM970 236h14v2h-14zM754 238h38v2h-38zM822 238h10v2h-10zM854 238h12v2h-12zM936 238h14v2h-14zM968 238h16v2h-16zM754 240h38v2h-38zM820 240h8v2h-8zM856 240h10v2h-10zM932 240h52v2h-52zM754 242h36v2h-36zM818 242h8v2h-8zM858 242h8v2h-8zM930 242h52v2h-52zM754 244h36v2h-36zM814 244h8v2h-8zM858 244h10v2h-10zM928 244h54v2h-54zM754 246h34v2h-34zM810 246h10v2h-10zM860 246h8v2h-8zM926 246h54v2h-54zM754 248h32v2h-32zM808 248h12v2h-12zM860 248h8v2h-8zM924 248h10v2h-10zM952 248h26v2h-26zM754 250h30v2h-30zM806 250h12v2h-12zM862 250h6v2h-6zM922 250h10v2h-10zM960 250h16v2h-16zM754 252h26v2h-26zM804 252h12v2h-12zM862 252h6v2h-6zM922 252h8v2h-8zM754 254h24v2h-24zM804 254h12v2h-12zM862 254h6v2h-6zM920 254h8v2h-8zM754 256h22v2h-22zM806 256h8v2h-8zM862 256h6v2h-6zM920 256h6v2h-6zM754 258h20v2h-20zM806 258h8v2h-8zM862 258h6v2h-6zM918 258h6v2h-6zM754 260h18v2h-18zM808 260h6v2h-6zM862 260h6v2h-6zM918 260h6v2h-6zM754 262h16v2h-16zM810 262h4v2h-4zM862 262h6v2h-6zM916 262h6v2h-6zM754 264h16v2h-16zM810 264h2v2h-2zM862 264h6v2h-6zM916 264h6v2h-6zM756 266h12v2h-12zM810 266h2v2h-2zM862 266h6v2h-6zM916 266h6v2h-6zM756 268h12v2h-12zM810 268h2v2h-2zM862 268h6v2h-6zM916 268h6v2h-6zM756 270h10v2h-10zM810 270h2v2h-2zM862 270h6v2h-6zM916 270h4v2h-4zM756 272h10v2h-10zM810 272h2v2h-2zM860 272h6v2h-6zM914 272h6v2h-6zM756 274h10v2h-10zM860 274h6v2h-6zM914 274h6v2h-6zM756 276h10v2h-10zM828 276h6v2h-6zM858 276h8v2h-8zM914 276h6v2h-6zM756 278h8v2h-8zM826 278h8v2h-8zM858 278h6v2h-6zM914 278h6v2h-6zM756 280h8v2h-8zM824 280h2v2h-2zM856 280h8v2h-8zM914 280h6v2h-6zM756 282h8v2h-8zM854 282h8v2h-8zM914 282h6v2h-6zM756 284h8v2h-8zM822 284h2v2h-2zM842 284h18v2h-18zM914 284h6v2h-6zM756 286h8v2h-8zM810 286h2v2h-2zM820 286h2v2h-2zM840 286h18v2h-18zM914 286h6v2h-6zM756 288h8v2h-8zM814 288h4v2h-4zM834 288h2v2h-2zM838 288h18v2h-18zM914 288h6v2h-6zM756 290h8v2h-8zM914 290h6v2h-6zM756 292h8v2h-8zM838 292h2v2h-2zM842 292h2v2h-2zM916 292h6v2h-6zM754 294h10v2h-10zM916 294h6v2h-6zM754 296h10v2h-10zM916 296h6v2h-6zM754 298h10v2h-10zM836 298h2v2h-2zM916 298h6v2h-6zM754 300h10v2h-10zM916 300h8v2h-8zM754 302h10v2h-10zM918 302h6v2h-6zM754 304h10v2h-10zM918 304h6v2h-6zM754 306h12v2h-12zM918 306h6v2h-6zM754 308h12v2h-12zM918 308h8v2h-8zM754 310h12v2h-12zM920 310h6v2h-6zM754 312h14v2h-14zM920 312h6v2h-6zM756 314h12v2h-12zM920 314h6v2h-6zM756 316h14v2h-14zM920 316h8v2h-8zM758 318h12v2h-12zM922 318h6v2h-6zM758 320h14v2h-14zM922 320h6v2h-6zM760 322h14v2h-14zM922 322h6v2h-6zM762 324h14v2h-14zM922 324h8v2h-8zM764 326h14v2h-14zM922 326h8v2h-8zM768 328h10v2h-10zM922 328h8v2h-8zM770 330h10v2h-10zM924 330h6v2h-6zM770 332h10v2h-10zM924 332h6v2h-6zM772 334h10v2h-10zM924 334h6v2h-6zM774 336h8v2h-8zM924 336h6v2h-6zM774 338h8v2h-8zM924 338h6v2h-6zM774 340h8v2h-8zM924 340h6v2h-6zM774 342h8v2h-8zM924 342h6v2h-6zM772 344h8v2h-8zM924 344h8v2h-8zM584 346h18v2h-18zM772 346h8v2h-8zM924 346h8v2h-8zM534 348h74v2h-74zM772 348h6v2h-6zM924 348h8v2h-8zM534 350h78v2h-78zM770 350h6v2h-6zM926 350h6v2h-6zM534 352h80v2h-80zM770 352h4v2h-4zM926 352h8v2h-8zM534 354h80v2h-80zM772 354h2v2h-2zM926 354h10v2h-10zM534 356h82v2h-82zM772 356h2v2h-2zM928 356h8v2h-8zM534 358h54v2h-54zM596 358h20v2h-20zM772 358h2v2h-2zM928 358h10v2h-10zM534 360h54v2h-54zM594 360h22v2h-22zM772 360h2v2h-2zM930 360h12v2h-12zM534 362h82v2h-82zM772 362h2v2h-2zM930 362h16v2h-16zM534 364h80v2h-80zM722 364h2v2h-2zM772 364h2v2h-2zM932 364h62v2h-62zM534 366h68v2h-68zM718 366h10v2h-10zM772 366h2v2h-2zM934 366h60v2h-60zM534 368h54v2h-54zM712 368h18v2h-18zM770 368h2v2h-2zM936 368h58v2h-58zM534 370h46v2h-46zM704 370h26v2h-26zM770 370h2v2h-2zM940 370h54v2h-54zM534 372h40v2h-40zM694 372h38v2h-38zM770 372h2v2h-2zM944 372h50v2h-50zM534 374h36v2h-36zM682 374h52v2h-52zM770 374h2v2h-2zM986 374h8v2h-8zM534 376h34v2h-34zM668 376h30v2h-30zM712 376h22v2h-22zM770 376h2v2h-2zM534 378h32v2h-32zM636 378h46v2h-46zM718 378h18v2h-18zM768 378h4v2h-4zM534 380h30v2h-30zM630 380h38v2h-38zM722 380h16v2h-16zM768 380h2v2h-2zM534 382h30v2h-30zM626 382h22v2h-22zM726 382h14v2h-14zM768 382h2v2h-2zM534 384h32v2h-32zM624 384h10v2h-10zM730 384h12v2h-12zM768 384h2v2h-2zM534 386h34v2h-34zM622 386h6v2h-6zM734 386h10v2h-10zM766 386h4v2h-4zM534 388h38v2h-38zM618 388h6v2h-6zM738 388h8v2h-8zM766 388h4v2h-4zM564 390h36v2h-36zM610 390h10v2h-10zM744 390h2v2h-2zM764 390h4v2h-4zM796 390h8v2h-8zM604 392h6v2h-6zM744 392h2v2h-2zM764 392h4v2h-4zM794 392h2v2h-2zM802 392h2v2h-2zM762 394h4v2h-4zM802 394h2v2h-2zM760 396h6v2h-6zM792 396h2v2h-2zM758 398h6v2h-6zM792 398h2v2h-2zM750 400h6v2h-6zM792 400h2v2h-2zM802 400h2v2h-2zM794 402h2v2h-2zM802 402h2v2h-2zM794 404h4v2h-4zM800 404h2v2h-2zM796 406h6v2h-6zM796 408h4v2h-4zM796 410h4v2h-4zM796 412h4v2h-4zM622 414h2v2h-2zM628 414h2v2h-2zM794 414h6v2h-6zM794 416h6v2h-6zM792 418h8v2h-8zM792 420h8v2h-8zM790 422h4v2h-4zM798 422h2v2h-2zM788 424h4v2h-4zM800 424h2v2h-2zM788 426h2v2h-2zM788 428h2v2h-2zM802 428h2v2h-2zM788 430h2v2h-2zM802 430h2v2h-2zM788 432h4v2h-4zM802 432h4v2h-4zM790 434h4v2h-4zM798 434h8v2h-8zM828 434h2v2h-2zM790 436h18v2h-18zM792 438h16v2h-16zM830 438h2v2h-2zM792 440h18v2h-18zM794 442h16v2h-16zM824 442h4v2h-4zM794 444h18v2h-18zM796 446h16v2h-16zM798 448h14v2h-14zM800 450h14v2h-14zM802 452h12v2h-12zM804 454h10v2h-10zM806 456h8v2h-8zM858 522h4v2h-4zM854 524h14v2h-14zM854 526h18v2h-18zM854 528h20v2h-20zM856 530h20v2h-20zM856 532h22v2h-22zM860 534h20v2h-20zM862 536h20v2h-20zM864 538h20v2h-20zM864 540h22v2h-22zM866 542h22v2h-22zM868 544h22v2h-22zM868 546h26v2h-26zM870 548h26v2h-26zM872 550h26v2h-26zM872 552h12v2h-12zM888 552h12v2h-12zM874 554h10v2h-10zM890 554h12v2h-12zM942 554h14v2h-14zM874 556h10v2h-10zM894 556h12v2h-12zM932 556h32v2h-32zM874 558h10v2h-10zM896 558h18v2h-18zM924 558h42v2h-42zM876 560h8v2h-8zM898 560h72v2h-72zM876 562h8v2h-8zM902 562h40v2h-40zM962 562h10v2h-10zM876 564h8v2h-8zM906 564h28v2h-28zM964 564h10v2h-10zM876 566h10v2h-10zM968 566h8v2h-8zM878 568h8v2h-8zM970 568h6v2h-6zM878 570h10v2h-10zM972 570h6v2h-6zM878 572h10v2h-10zM972 572h8v2h-8zM880 574h8v2h-8zM974 574h8v2h-8zM880 576h8v2h-8zM976 576h8v2h-8zM880 578h8v2h-8zM978 578h10v2h-10zM880 580h10v2h-10zM980 580h12v2h-12zM880 582h10v2h-10zM980 582h14v2h-14zM880 584h12v2h-12zM982 584h12v2h-12zM882 586h12v2h-12zM982 586h12v2h-12zM884 588h12v2h-12zM982 588h12v2h-12zM886 590h12v2h-12zM938 590h16v2h-16zM976 590h18v2h-18zM890 592h10v2h-10zM930 592h64v2h-64zM892 594h12v2h-12zM924 594h70v2h-70zM896 596h10v2h-10zM918 596h14v2h-14zM984 596h10v2h-10zM898 598h28v2h-28zM900 600h22v2h-22zM904 602h16v2h-16zM906 604h12v2h-12zM906 606h10v2h-10zM910 608h2v2h-2z"/>
<path fill="#ffb900" d="M830 192h56v2h-56zM924 192h48v2h-48zM830 194h56v2h-56zM924 194h48v2h-48zM830 196h54v2h-54zM924 196h48v2h-48zM830 198h54v2h-54zM924 198h48v2h-48zM830 200h54v2h-54zM926 200h46v2h-46zM830 202h54v2h-54zM926 202h46v2h-46zM828 204h56v2h-56zM926 204h46v2h-46zM826 206h58v2h-58zM926 206h46v2h-46zM824 208h60v2h-60zM926 208h46v2h-46zM818 210h64v2h-64zM926 210h46v2h-46zM808 212h74v2h-74zM926 212h48v2h-48zM802 214h80v2h-80zM928 214h46v2h-46zM798 216h82v2h-82zM928 216h46v2h-46zM796 218h48v2h-48zM858 218h22v2h-22zM928 218h46v2h-46zM796 220h44v2h-44zM860 220h18v2h-18zM928 220h46v2h-46zM794 222h42v2h-42zM860 222h18v2h-18zM928 222h46v2h-46zM794 224h40v2h-40zM862 224h16v2h-16zM928 224h46v2h-46zM792 226h42v2h-42zM862 226h14v2h-14zM928 226h46v2h-46zM792 228h40v2h-40zM862 228h14v2h-14zM928 228h46v2h-46zM792 230h38v2h-38zM864 230h12v2h-12zM926 230h48v2h-48zM792 232h36v2h-36zM864 232h12v2h-12zM926 232h46v2h-46zM792 234h34v2h-34zM864 234h12v2h-12zM924 234h48v2h-48zM792 236h32v2h-32zM866 236h8v2h-8zM922 236h48v2h-48zM792 238h30v2h-30zM866 238h8v2h-8zM922 238h14v2h-14zM950 238h18v2h-18zM792 240h28v2h-28zM866 240h8v2h-8zM920 240h12v2h-12zM790 242h28v2h-28zM866 242h10v2h-10zM920 242h10v2h-10zM790 244h24v2h-24zM868 244h8v2h-8zM918 244h10v2h-10zM788 246h22v2h-22zM868 246h8v2h-8zM916 246h10v2h-10zM786 248h22v2h-22zM868 248h8v2h-8zM916 248h8v2h-8zM784 250h22v2h-22zM868 250h8v2h-8zM914 250h8v2h-8zM780 252h24v2h-24zM868 252h8v2h-8zM914 252h8v2h-8zM778 254h26v2h-26zM868 254h8v2h-8zM914 254h6v2h-6zM776 256h30v2h-30zM868 256h8v2h-8zM912 256h8v2h-8zM774 258h32v2h-32zM868 258h8v2h-8zM912 258h6v2h-6zM772 260h36v2h-36zM868 260h8v2h-8zM912 260h6v2h-6zM770 262h40v2h-40zM868 262h8v2h-8zM910 262h6v2h-6zM770 264h14v2h-14zM798 264h12v2h-12zM868 264h6v2h-6zM910 264h6v2h-6zM768 266h12v2h-12zM806 266h4v2h-4zM868 266h6v2h-6zM910 266h6v2h-6zM768 268h10v2h-10zM808 268h2v2h-2zM868 268h6v2h-6zM910 268h6v2h-6zM766 270h10v2h-10zM868 270h6v2h-6zM910 270h6v2h-6zM766 272h10v2h-10zM866 272h6v2h-6zM908 272h6v2h-6zM766 274h8v2h-8zM866 274h6v2h-6zM908 274h6v2h-6zM766 276h8v2h-8zM866 276h6v2h-6zM908 276h6v2h-6zM764 278h8v2h-8zM808 278h2v2h-2zM864 278h6v2h-6zM908 278h6v2h-6zM764 280h8v2h-8zM808 280h2v2h-2zM826 280h6v2h-6zM864 280h6v2h-6zM908 280h6v2h-6zM764 282h8v2h-8zM808 282h2v2h-2zM824 282h2v2h-2zM828 282h4v2h-4zM862 282h6v2h-6zM908 282h6v2h-6zM764 284h6v2h-6zM830 284h2v2h-2zM860 284h6v2h-6zM908 284h6v2h-6zM764 286h6v2h-6zM830 286h2v2h-2zM858 286h8v2h-8zM908 286h6v2h-6zM764 288h6v2h-6zM812 288h2v2h-2zM818 288h2v2h-2zM832 288h2v2h-2zM856 288h8v2h-8zM908 288h6v2h-6zM764 290h6v2h-6zM836 290h26v2h-26zM908 290h6v2h-6zM764 292h6v2h-6zM836 292h2v2h-2zM844 292h14v2h-14zM910 292h6v2h-6zM764 294h6v2h-6zM844 294h10v2h-10zM910 294h6v2h-6zM764 296h6v2h-6zM844 296h2v2h-2zM910 296h6v2h-6zM764 298h6v2h-6zM910 298h6v2h-6zM764 300h6v2h-6zM838 300h4v2h-4zM910 300h6v2h-6zM764 302h8v2h-8zM912 302h6v2h-6zM764 304h8v2h-8zM912 304h6v2h-6zM766 306h6v2h-6zM912 306h6v2h-6zM766 308h8v2h-8zM912 308h6v2h-6zM766 310h8v2h-8zM914 310h6v2h-6zM768 312h8v2h-8zM914 312h6v2h-6zM768 314h10v2h-10zM914 314h6v2h-6zM770 316h8v2h-8zM916 316h4v2h-4zM770 318h10v2h-10zM916 318h6v2h-6zM772 320h10v2h-10zM916 320h6v2h-6zM774 322h10v2h-10zM916 322h6v2h-6zM776 324h8v2h-8zM916 324h6v2h-6zM778 326h8v2h-8zM916 326h6v2h-6zM778 328h8v2h-8zM918 328h4v2h-4zM780 330h8v2h-8zM918 330h6v2h-6zM780 332h8v2h-8zM918 332h6v2h-6zM782 334h6v2h-6zM918 334h6v2h-6zM782 336h6v2h-6zM918 336h6v2h-6zM782 338h6v2h-6zM918 338h6v2h-6zM782 340h6v2h-6zM918 340h6v2h-6zM782 342h6v2h-6zM918 342h6v2h-6zM780 344h8v2h-8zM918 344h6v2h-6zM780 346h6v2h-6zM918 346h6v2h-6zM778 348h8v2h-8zM918 348h6v2h-6zM776 350h10v2h-10zM920 350h6v2h-6zM774 352h10v2h-10zM920 352h6v2h-6zM774 354h10v2h-10zM920 354h6v2h-6zM774 356h8v2h-8zM920 356h8v2h-8zM588 358h8v2h-8zM774 358h8v2h-8zM922 358h6v2h-6zM588 360h6v2h-6zM774 360h6v2h-6zM922 360h8v2h-8zM774 362h6v2h-6zM924 362h6v2h-6zM774 364h6v2h-6zM924 364h8v2h-8zM774 366h6v2h-6zM926 366h8v2h-8zM772 368h8v2h-8zM928 368h8v2h-8zM772 370h6v2h-6zM928 370h12v2h-12zM772 372h6v2h-6zM930 372h14v2h-14zM772 374h6v2h-6zM932 374h54v2h-54zM698 376h14v2h-14zM772 376h6v2h-6zM934 376h60v2h-60zM682 378h36v2h-36zM772 378h6v2h-6zM936 378h58v2h-58zM668 380h54v2h-54zM770 380h8v2h-8zM940 380h54v2h-54zM648 382h32v2h-32zM712 382h14v2h-14zM770 382h8v2h-8zM944 382h50v2h-50zM634 384h34v2h-34zM718 384h12v2h-12zM770 384h8v2h-8zM954 384h10v2h-10zM628 386h28v2h-28zM722 386h12v2h-12zM770 386h6v2h-6zM624 388h22v2h-22zM728 388h10v2h-10zM770 388h6v2h-6zM794 388h10v2h-10zM534 390h30v2h-30zM620 390h18v2h-18zM732 390h12v2h-12zM768 390h8v2h-8zM794 390h2v2h-2zM804 390h2v2h-2zM534 392h70v2h-70zM610 392h22v2h-22zM738 392h6v2h-6zM768 392h8v2h-8zM792 392h2v2h-2zM804 392h2v2h-2zM534 394h46v2h-46zM596 394h30v2h-30zM742 394h4v2h-4zM766 394h10v2h-10zM792 394h2v2h-2zM804 394h2v2h-2zM534 396h40v2h-40zM744 396h2v2h-2zM766 396h10v2h-10zM790 396h2v2h-2zM804 396h2v2h-2zM534 398h8v2h-8zM746 398h2v2h-2zM764 398h12v2h-12zM790 398h2v2h-2zM804 398h2v2h-2zM748 400h2v2h-2zM756 400h20v2h-20zM790 400h2v2h-2zM804 400h2v2h-2zM750 402h26v2h-26zM792 402h2v2h-2zM622 404h8v2h-8zM762 404h14v2h-14zM792 404h2v2h-2zM802 404h2v2h-2zM620 406h2v2h-2zM630 406h2v2h-2zM766 406h12v2h-12zM792 406h4v2h-4zM802 406h2v2h-2zM618 408h2v2h-2zM632 408h2v2h-2zM770 408h12v2h-12zM790 408h6v2h-6zM800 408h4v2h-4zM618 410h2v2h-2zM632 410h2v2h-2zM772 410h24v2h-24zM800 410h4v2h-4zM632 412h2v2h-2zM774 412h22v2h-22zM800 412h4v2h-4zM630 414h2v2h-2zM774 414h20v2h-20zM800 414h4v2h-4zM776 416h18v2h-18zM800 416h4v2h-4zM776 418h16v2h-16zM800 418h4v2h-4zM776 420h16v2h-16zM800 420h4v2h-4zM778 422h12v2h-12zM800 422h4v2h-4zM778 424h10v2h-10zM802 424h2v2h-2zM778 426h10v2h-10zM802 426h4v2h-4zM780 428h8v2h-8zM804 428h2v2h-2zM780 430h8v2h-8zM804 430h4v2h-4zM780 432h8v2h-8zM806 432h4v2h-4zM782 434h8v2h-8zM806 434h4v2h-4zM822 434h2v2h-2zM782 436h8v2h-8zM808 436h4v2h-4zM830 436h2v2h-2zM782 438h10v2h-10zM808 438h4v2h-4zM820 438h2v2h-2zM784 440h8v2h-8zM810 440h4v2h-4zM830 440h2v2h-2zM784 442h10v2h-10zM810 442h4v2h-4zM822 442h2v2h-2zM828 442h2v2h-2zM786 444h8v2h-8zM812 444h4v2h-4zM786 446h10v2h-10zM812 446h4v2h-4zM786 448h12v2h-12zM812 448h6v2h-6zM788 450h12v2h-12zM814 450h4v2h-4zM790 452h12v2h-12zM814 452h4v2h-4zM792 454h12v2h-12zM814 454h4v2h-4zM794 456h12v2h-12zM814 456h4v2h-4zM796 458h22v2h-22zM802 460h14v2h-14zM834 468h10v2h-10zM832 470h18v2h-18zM832 472h20v2h-20zM832 474h22v2h-22zM832 476h22v2h-22zM834 478h22v2h-22zM834 480h22v2h-22zM836 482h20v2h-20zM838 484h16v2h-16zM840 486h14v2h-14zM844 488h8v2h-8zM856 510h10v2h-10zM848 512h24v2h-24zM844 514h30v2h-30zM840 516h38v2h-38zM838 518h40v2h-40zM836 520h44v2h-44zM834 522h24v2h-24zM862 522h20v2h-20zM832 524h22v2h-22zM868 524h16v2h-16zM830 526h24v2h-24zM872 526h12v2h-12zM830 528h24v2h-24zM874 528h12v2h-12zM830 530h26v2h-26zM876 530h12v2h-12zM830 532h26v2h-26zM878 532h10v2h-10zM830 534h30v2h-30zM880 534h10v2h-10zM830 536h32v2h-32zM882 536h10v2h-10zM832 538h32v2h-32zM884 538h10v2h-10zM834 540h30v2h-30zM886 540h10v2h-10zM838 542h28v2h-28zM888 542h10v2h-10zM840 544h28v2h-28zM890 544h10v2h-10zM844 546h24v2h-24zM894 546h8v2h-8zM846 548h24v2h-24zM896 548h10v2h-10zM932 548h26v2h-26zM848 550h24v2h-24zM898 550h14v2h-14zM922 550h42v2h-42zM852 552h20v2h-20zM900 552h68v2h-68zM854 554h20v2h-20zM902 554h40v2h-40zM956 554h14v2h-14zM856 556h18v2h-18zM906 556h26v2h-26zM964 556h10v2h-10zM858 558h16v2h-16zM914 558h10v2h-10zM966 558h10v2h-10zM860 560h16v2h-16zM970 560h6v2h-6zM862 562h14v2h-14zM972 562h6v2h-6zM864 564h12v2h-12zM974 564h6v2h-6zM866 566h10v2h-10zM976 566h6v2h-6zM870 568h8v2h-8zM976 568h8v2h-8zM872 570h6v2h-6zM978 570h8v2h-8zM872 572h6v2h-6zM980 572h8v2h-8zM874 574h6v2h-6zM982 574h10v2h-10zM874 576h6v2h-6zM984 576h10v2h-10zM876 578h4v2h-4zM988 578h6v2h-6zM876 580h4v2h-4zM992 580h2v2h-2zM876 582h4v2h-4zM878 584h2v2h-2zM880 586h2v2h-2zM880 588h4v2h-4zM882 590h4v2h-4zM886 592h4v2h-4zM888 594h4v2h-4zM890 596h6v2h-6zM932 596h52v2h-52zM894 598h4v2h-4zM926 598h20v2h-20zM950 598h44v2h-44zM896 600h4v2h-4zM922 600h10v2h-10zM986 600h8v2h-8zM898 602h6v2h-6zM920 602h6v2h-6zM900 604h6v2h-6zM918 604h6v2h-6zM902 606h4v2h-4zM916 606h6v2h-6zM904 608h6v2h-6zM912 608h8v2h-8zM906 610h12v2h-12zM908 612h8v2h-8z"/>
<path fill="#ffab00" d="M886 192h10v2h-10zM914 192h10v2h-10zM886 194h10v2h-10zM914 194h10v2h-10zM884 196h12v2h-12zM914 196h10v2h-10zM884 198h12v2h-12zM914 198h10v2h-10zM884 200h12v2h-12zM914 200h12v2h-12zM884 202h12v2h-12zM914 202h12v2h-12zM884 204h12v2h-12zM914 204h12v2h-12zM884 206h12v2h-12zM914 206h12v2h-12zM884 208h12v2h-12zM914 208h12v2h-12zM882 210h12v2h-12zM914 210h12v2h-12zM882 212h12v2h-12zM914 212h12v2h-12zM882 214h12v2h-12zM914 214h14v2h-14zM880 216h14v2h-14zM914 216h14v2h-14zM880 218h12v2h-12zM914 218h14v2h-14zM878 220h14v2h-14zM914 220h14v2h-14zM878 222h14v2h-14zM914 222h14v2h-14zM878 224h12v2h-12zM914 224h14v2h-14zM876 226h14v2h-14zM914 226h14v2h-14zM876 228h14v2h-14zM914 228h14v2h-14zM876 230h12v2h-12zM912 230h14v2h-14zM876 232h12v2h-12zM912 232h14v2h-14zM876 234h12v2h-12zM912 234h12v2h-12zM874 236h14v2h-14zM910 236h12v2h-12zM874 238h12v2h-12zM910 238h12v2h-12zM874 240h12v2h-12zM910 240h10v2h-10zM876 242h10v2h-10zM908 242h12v2h-12zM876 244h10v2h-10zM908 244h10v2h-10zM876 246h10v2h-10zM906 246h10v2h-10zM876 248h10v2h-10zM906 248h10v2h-10zM876 250h10v2h-10zM906 250h8v2h-8zM876 252h10v2h-10zM904 252h10v2h-10zM876 254h10v2h-10zM904 254h10v2h-10zM876 256h10v2h-10zM904 256h8v2h-8zM876 258h10v2h-10zM902 258h10v2h-10zM876 260h10v2h-10zM902 260h10v2h-10zM876 262h10v2h-10zM902 262h8v2h-8zM784 264h14v2h-14zM874 264h10v2h-10zM902 264h8v2h-8zM780 266h26v2h-26zM874 266h10v2h-10zM900 266h10v2h-10zM778 268h30v2h-30zM874 268h10v2h-10zM900 268h10v2h-10zM776 270h16v2h-16zM806 270h4v2h-4zM874 270h8v2h-8zM900 270h10v2h-10zM776 272h10v2h-10zM808 272h2v2h-2zM872 272h10v2h-10zM900 272h8v2h-8zM774 274h10v2h-10zM808 274h2v2h-2zM872 274h8v2h-8zM900 274h8v2h-8zM774 276h8v2h-8zM808 276h2v2h-2zM872 276h8v2h-8zM900 276h8v2h-8zM772 278h8v2h-8zM870 278h8v2h-8zM900 278h8v2h-8zM772 280h6v2h-6zM870 280h8v2h-8zM900 280h8v2h-8zM772 282h6v2h-6zM826 282h2v2h-2zM868 282h8v2h-8zM900 282h8v2h-8zM770 284h6v2h-6zM808 284h2v2h-2zM824 284h6v2h-6zM866 284h8v2h-8zM900 284h8v2h-8zM770 286h6v2h-6zM822 286h2v2h-2zM866 286h6v2h-6zM900 286h8v2h-8zM770 288h6v2h-6zM810 288h2v2h-2zM830 288h2v2h-2zM864 288h8v2h-8zM902 288h6v2h-6zM770 290h6v2h-6zM834 290h2v2h-2zM862 290h8v2h-8zM902 290h6v2h-6zM770 292h6v2h-6zM834 292h2v2h-2zM858 292h10v2h-10zM902 292h8v2h-8zM770 294h6v2h-6zM834 294h2v2h-2zM854 294h10v2h-10zM902 294h8v2h-8zM770 296h6v2h-6zM834 296h2v2h-2zM846 296h16v2h-16zM904 296h6v2h-6zM770 298h6v2h-6zM844 298h12v2h-12zM904 298h6v2h-6zM770 300h6v2h-6zM842 300h2v2h-2zM904 300h6v2h-6zM772 302h6v2h-6zM904 302h8v2h-8zM772 304h6v2h-6zM906 304h6v2h-6zM772 306h8v2h-8zM906 306h6v2h-6zM774 308h6v2h-6zM906 308h6v2h-6zM774 310h8v2h-8zM908 310h6v2h-6zM776 312h6v2h-6zM908 312h6v2h-6zM778 314h6v2h-6zM908 314h6v2h-6zM778 316h8v2h-8zM910 316h6v2h-6zM780 318h8v2h-8zM910 318h6v2h-6zM782 320h8v2h-8zM910 320h6v2h-6zM784 322h6v2h-6zM910 322h6v2h-6zM784 324h8v2h-8zM912 324h4v2h-4zM786 326h6v2h-6zM912 326h4v2h-4zM786 328h6v2h-6zM912 328h6v2h-6zM788 330h4v2h-4zM912 330h6v2h-6zM788 332h4v2h-4zM912 332h6v2h-6zM788 334h4v2h-4zM912 334h6v2h-6zM788 336h4v2h-4zM912 336h6v2h-6zM788 338h4v2h-4zM914 338h4v2h-4zM788 340h4v2h-4zM914 340h4v2h-4zM788 342h4v2h-4zM914 342h4v2h-4zM788 344h4v2h-4zM914 344h4v2h-4zM786 346h6v2h-6zM914 346h4v2h-4zM786 348h6v2h-6zM914 348h4v2h-4zM786 350h6v2h-6zM914 350h6v2h-6zM784 352h6v2h-6zM914 352h6v2h-6zM784 354h6v2h-6zM916 354h4v2h-4zM782 356h8v2h-8zM916 356h4v2h-4zM782 358h8v2h-8zM916 358h6v2h-6zM780 360h10v2h-10zM916 360h6v2h-6zM780 362h10v2h-10zM918 362h6v2h-6zM780 364h10v2h-10zM918 364h6v2h-6zM780 366h10v2h-10zM920 366h6v2h-6zM780 368h10v2h-10zM920 368h8v2h-8zM778 370h14v2h-14zM922 370h6v2h-6zM778 372h14v2h-14zM922 372h8v2h-8zM778 374h16v2h-16zM924 374h8v2h-8zM778 376h18v2h-18zM926 376h8v2h-8zM778 378h20v2h-20zM926 378h10v2h-10zM778 380h20v2h-20zM928 380h12v2h-12zM680 382h32v2h-32zM778 382h22v2h-22zM930 382h14v2h-14zM668 384h50v2h-50zM778 384h24v2h-24zM932 384h22v2h-22zM964 384h30v2h-30zM656 386h30v2h-30zM706 386h16v2h-16zM776 386h28v2h-28zM932 386h62v2h-62zM646 388h28v2h-28zM714 388h14v2h-14zM776 388h18v2h-18zM804 388h2v2h-2zM934 388h60v2h-60zM638 390h30v2h-30zM720 390h12v2h-12zM776 390h18v2h-18zM936 390h58v2h-58zM632 392h30v2h-30zM726 392h12v2h-12zM776 392h16v2h-16zM940 392h54v2h-54zM580 394h16v2h-16zM626 394h32v2h-32zM732 394h10v2h-10zM776 394h16v2h-16zM942 394h52v2h-52zM574 396h80v2h-80zM738 396h6v2h-6zM776 396h14v2h-14zM946 396h40v2h-40zM542 398h110v2h-110zM742 398h4v2h-4zM776 398h14v2h-14zM950 398h26v2h-26zM534 400h116v2h-116zM744 400h4v2h-4zM776 400h14v2h-14zM534 402h50v2h-50zM594 402h54v2h-54zM746 402h4v2h-4zM776 402h16v2h-16zM804 402h2v2h-2zM534 404h28v2h-28zM606 404h16v2h-16zM630 404h16v2h-16zM746 404h16v2h-16zM776 404h16v2h-16zM804 404h4v2h-4zM610 406h10v2h-10zM632 406h12v2h-12zM752 406h14v2h-14zM778 406h14v2h-14zM804 406h4v2h-4zM614 408h4v2h-4zM634 408h8v2h-8zM758 408h12v2h-12zM782 408h8v2h-8zM804 408h2v2h-2zM616 410h2v2h-2zM634 410h4v2h-4zM760 410h12v2h-12zM804 410h2v2h-2zM618 412h2v2h-2zM634 412h2v2h-2zM762 412h12v2h-12zM804 412h2v2h-2zM620 414h2v2h-2zM632 414h2v2h-2zM764 414h10v2h-10zM804 414h2v2h-2zM624 416h6v2h-6zM766 416h10v2h-10zM804 416h2v2h-2zM768 418h8v2h-8zM804 418h2v2h-2zM770 420h6v2h-6zM804 420h2v2h-2zM770 422h8v2h-8zM804 422h2v2h-2zM772 424h6v2h-6zM804 424h4v2h-4zM772 426h6v2h-6zM806 426h4v2h-4zM774 428h6v2h-6zM806 428h4v2h-4zM774 430h6v2h-6zM808 430h4v2h-4zM774 432h6v2h-6zM810 432h2v2h-2zM776 434h6v2h-6zM810 434h4v2h-4zM776 436h6v2h-6zM812 436h4v2h-4zM820 436h2v2h-2zM776 438h6v2h-6zM812 438h4v2h-4zM778 440h6v2h-6zM814 440h8v2h-8zM778 442h6v2h-6zM814 442h8v2h-8zM780 444h6v2h-6zM816 444h4v2h-4zM824 444h2v2h-2zM780 446h6v2h-6zM816 446h6v2h-6zM780 448h6v2h-6zM818 448h4v2h-4zM782 450h6v2h-6zM818 450h6v2h-6zM782 452h8v2h-8zM818 452h6v2h-6zM784 454h8v2h-8zM818 454h8v2h-8zM784 456h10v2h-10zM818 456h10v2h-10zM786 458h10v2h-10zM818 458h12v2h-12zM786 460h16v2h-16zM816 460h18v2h-18zM788 462h54v2h-54zM790 464h58v2h-58zM792 466h60v2h-60zM794 468h40v2h-40zM844 468h12v2h-12zM816 470h16v2h-16zM850 470h8v2h-8zM818 472h14v2h-14zM852 472h8v2h-8zM820 474h12v2h-12zM854 474h8v2h-8zM822 476h10v2h-10zM854 476h8v2h-8zM824 478h10v2h-10zM856 478h8v2h-8zM824 480h10v2h-10zM856 480h8v2h-8zM826 482h10v2h-10zM856 482h8v2h-8zM828 484h10v2h-10zM854 484h12v2h-12zM828 486h12v2h-12zM854 486h12v2h-12zM830 488h14v2h-14zM852 488h14v2h-14zM832 490h34v2h-34zM834 492h34v2h-34zM834 494h36v2h-36zM836 496h36v2h-36zM838 498h36v2h-36zM838 500h38v2h-38zM840 502h40v2h-40zM838 504h44v2h-44zM838 506h46v2h-46zM836 508h50v2h-50zM834 510h22v2h-22zM866 510h22v2h-22zM834 512h14v2h-14zM872 512h16v2h-16zM832 514h12v2h-12zM874 514h16v2h-16zM830 516h10v2h-10zM878 516h12v2h-12zM830 518h8v2h-8zM878 518h14v2h-14zM828 520h8v2h-8zM880 520h12v2h-12zM826 522h8v2h-8zM882 522h12v2h-12zM826 524h6v2h-6zM884 524h10v2h-10zM824 526h6v2h-6zM884 526h10v2h-10zM824 528h6v2h-6zM886 528h10v2h-10zM824 530h6v2h-6zM888 530h10v2h-10zM824 532h6v2h-6zM888 532h10v2h-10zM824 534h6v2h-6zM890 534h10v2h-10zM824 536h6v2h-6zM892 536h10v2h-10zM826 538h6v2h-6zM894 538h10v2h-10zM828 540h6v2h-6zM896 540h12v2h-12zM926 540h26v2h-26zM832 542h6v2h-6zM898 542h62v2h-62zM834 544h6v2h-6zM900 544h66v2h-66zM838 546h6v2h-6zM902 546h68v2h-68zM840 548h6v2h-6zM906 548h26v2h-26zM958 548h16v2h-16zM842 550h6v2h-6zM912 550h10v2h-10zM964 550h12v2h-12zM844 552h8v2h-8zM968 552h10v2h-10zM848 554h6v2h-6zM970 554h10v2h-10zM850 556h6v2h-6zM974 556h6v2h-6zM852 558h6v2h-6zM976 558h6v2h-6zM854 560h6v2h-6zM976 560h8v2h-8zM856 562h6v2h-6zM978 562h6v2h-6zM858 564h6v2h-6zM980 564h6v2h-6zM860 566h6v2h-6zM982 566h6v2h-6zM862 568h8v2h-8zM984 568h6v2h-6zM866 570h6v2h-6zM986 570h8v2h-8zM868 572h4v2h-4zM988 572h6v2h-6zM870 574h4v2h-4zM992 574h2v2h-2zM872 576h2v2h-2zM872 578h4v2h-4zM874 580h2v2h-2zM874 582h2v2h-2zM876 584h2v2h-2zM878 586h2v2h-2zM878 588h2v2h-2zM880 590h2v2h-2zM882 592h4v2h-4zM886 594h2v2h-2zM888 596h2v2h-2zM890 598h4v2h-4zM946 598h4v2h-4zM892 600h4v2h-4zM932 600h54v2h-54zM896 602h2v2h-2zM926 602h10v2h-10zM966 602h28v2h-28zM898 604h2v2h-2zM924 604h6v2h-6zM900 606h2v2h-2zM922 606h4v2h-4zM902 608h2v2h-2zM920 608h4v2h-4zM902 610h4v2h-4zM918 610h4v2h-4zM904 612h4v2h-4zM916 612h4v2h-4zM906 614h10v2h-10zM906 616h8v2h-8z"/>
<path fill="#ff9f00" d="M896 192h18v2h-18zM896 194h18v2h-18zM896 196h18v2h-18zM896 198h18v2h-18zM896 200h18v2h-18zM896 202h18v2h-18zM896 204h18v2h-18zM896 206h18v2h-18zM896 208h18v2h-18zM894 210h20v2h-20zM894 212h20v2h-20zM894 214h20v2h-20zM894 216h20v2h-20zM892 218h22v2h-22zM892 220h22v2h-22zM892 222h22v2h-22zM890 224h24v2h-24zM890 226h24v2h-24zM890 228h24v2h-24zM888 230h24v2h-24zM888 232h24v2h-24zM888 234h24v2h-24zM888 236h22v2h-22zM886 238h24v2h-24zM886 240h24v2h-24zM886 242h22v2h-22zM886 244h22v2h-22zM886 246h20v2h-20zM886 248h20v2h-20zM886 250h20v2h-20zM886 252h18v2h-18zM886 254h18v2h-18zM886 256h18v2h-18zM886 258h16v2h-16zM886 260h16v2h-16zM886 262h16v2h-16zM884 264h18v2h-18zM884 266h16v2h-16zM884 268h16v2h-16zM792 270h14v2h-14zM882 270h18v2h-18zM786 272h22v2h-22zM882 272h18v2h-18zM784 274h12v2h-12zM806 274h2v2h-2zM880 274h20v2h-20zM782 276h8v2h-8zM806 276h2v2h-2zM880 276h20v2h-20zM780 278h8v2h-8zM806 278h2v2h-2zM878 278h22v2h-22zM778 280h8v2h-8zM806 280h2v2h-2zM878 280h22v2h-22zM778 282h6v2h-6zM876 282h24v2h-24zM776 284h6v2h-6zM874 284h26v2h-26zM776 286h6v2h-6zM808 286h2v2h-2zM824 286h6v2h-6zM872 286h28v2h-28zM776 288h4v2h-4zM820 288h2v2h-2zM828 288h2v2h-2zM872 288h30v2h-30zM776 290h4v2h-4zM812 290h4v2h-4zM830 290h4v2h-4zM870 290h12v2h-12zM888 290h14v2h-14zM776 292h4v2h-4zM832 292h2v2h-2zM868 292h10v2h-10zM890 292h12v2h-12zM776 294h4v2h-4zM864 294h10v2h-10zM892 294h10v2h-10zM776 296h4v2h-4zM862 296h10v2h-10zM894 296h10v2h-10zM776 298h6v2h-6zM834 298h2v2h-2zM856 298h12v2h-12zM894 298h10v2h-10zM776 300h6v2h-6zM836 300h2v2h-2zM844 300h20v2h-20zM896 300h8v2h-8zM778 302h4v2h-4zM840 302h18v2h-18zM896 302h8v2h-8zM778 304h6v2h-6zM898 304h8v2h-8zM780 306h6v2h-6zM898 306h8v2h-8zM780 308h6v2h-6zM900 308h6v2h-6zM782 310h6v2h-6zM900 310h8v2h-8zM782 312h8v2h-8zM902 312h6v2h-6zM784 314h6v2h-6zM902 314h6v2h-6zM786 316h6v2h-6zM904 316h6v2h-6zM788 318h6v2h-6zM904 318h6v2h-6zM790 320h6v2h-6zM904 320h6v2h-6zM790 322h6v2h-6zM906 322h4v2h-4zM792 324h6v2h-6zM906 324h6v2h-6zM792 326h6v2h-6zM906 326h6v2h-6zM792 328h6v2h-6zM908 328h4v2h-4zM792 330h6v2h-6zM908 330h4v2h-4zM792 332h6v2h-6zM908 332h4v2h-4zM792 334h6v2h-6zM908 334h4v2h-4zM792 336h6v2h-6zM908 336h4v2h-4zM792 338h4v2h-4zM908 338h6v2h-6zM792 340h4v2h-4zM908 340h6v2h-6zM792 342h4v2h-4zM910 342h4v2h-4zM792 344h4v2h-4zM910 344h4v2h-4zM792 346h4v2h-4zM910 346h4v2h-4zM792 348h4v2h-4zM910 348h4v2h-4zM792 350h4v2h-4zM910 350h4v2h-4zM790 352h6v2h-6zM910 352h4v2h-4zM790 354h4v2h-4zM910 354h6v2h-6zM790 356h4v2h-4zM912 356h4v2h-4zM790 358h4v2h-4zM912 358h4v2h-4zM790 360h4v2h-4zM912 360h4v2h-4zM790 362h4v2h-4zM912 362h6v2h-6zM790 364h4v2h-4zM914 364h4v2h-4zM790 366h6v2h-6zM914 366h6v2h-6zM790 368h6v2h-6zM914 368h6v2h-6zM792 370h4v2h-4zM916 370h6v2h-6zM792 372h6v2h-6zM916 372h6v2h-6zM794 374h6v2h-6zM918 374h6v2h-6zM796 376h4v2h-4zM918 376h8v2h-8zM798 378h4v2h-4zM918 378h8v2h-8zM798 380h4v2h-4zM920 380h8v2h-8zM800 382h4v2h-4zM922 382h8v2h-8zM802 384h2v2h-2zM922 384h10v2h-10zM686 386h20v2h-20zM804 386h2v2h-2zM924 386h8v2h-8zM674 388h40v2h-40zM806 388h2v2h-2zM924 388h10v2h-10zM668 390h52v2h-52zM806 390h2v2h-2zM926 390h10v2h-10zM662 392h36v2h-36zM706 392h20v2h-20zM806 392h2v2h-2zM926 392h14v2h-14zM658 394h30v2h-30zM714 394h18v2h-18zM806 394h2v2h-2zM928 394h14v2h-14zM654 396h26v2h-26zM718 396h20v2h-20zM806 396h2v2h-2zM928 396h18v2h-18zM986 396h8v2h-8zM652 398h22v2h-22zM724 398h18v2h-18zM806 398h2v2h-2zM930 398h20v2h-20zM976 398h18v2h-18zM650 400h18v2h-18zM730 400h14v2h-14zM806 400h2v2h-2zM932 400h62v2h-62zM584 402h10v2h-10zM648 402h16v2h-16zM734 402h12v2h-12zM806 402h4v2h-4zM932 402h62v2h-62zM562 404h44v2h-44zM646 404h16v2h-16zM738 404h8v2h-8zM808 404h2v2h-2zM934 404h60v2h-60zM534 406h76v2h-76zM644 406h14v2h-14zM740 406h12v2h-12zM808 406h2v2h-2zM938 406h56v2h-56zM534 408h80v2h-80zM642 408h12v2h-12zM744 408h14v2h-14zM806 408h4v2h-4zM940 408h54v2h-54zM534 410h82v2h-82zM638 410h14v2h-14zM748 410h12v2h-12zM806 410h4v2h-4zM944 410h50v2h-50zM598 412h20v2h-20zM636 412h12v2h-12zM754 412h8v2h-8zM806 412h4v2h-4zM952 412h42v2h-42zM612 414h8v2h-8zM634 414h10v2h-10zM758 414h6v2h-6zM806 414h4v2h-4zM966 414h28v2h-28zM618 416h6v2h-6zM630 416h10v2h-10zM760 416h6v2h-6zM806 416h4v2h-4zM762 418h6v2h-6zM806 418h4v2h-4zM764 420h6v2h-6zM806 420h4v2h-4zM764 422h6v2h-6zM806 422h4v2h-4zM766 424h6v2h-6zM808 424h4v2h-4zM766 426h6v2h-6zM810 426h4v2h-4zM768 428h6v2h-6zM810 428h4v2h-4zM768 430h6v2h-6zM812 430h4v2h-4zM770 432h4v2h-4zM812 432h6v2h-6zM824 432h4v2h-4zM770 434h6v2h-6zM814 434h8v2h-8zM830 434h2v2h-2zM772 436h4v2h-4zM816 436h4v2h-4zM772 438h4v2h-4zM816 438h4v2h-4zM772 440h6v2h-6zM774 442h4v2h-4zM830 442h2v2h-2zM774 444h6v2h-6zM820 444h4v2h-4zM826 444h4v2h-4zM774 446h6v2h-6zM822 446h6v2h-6zM776 448h4v2h-4zM822 448h6v2h-6zM776 450h6v2h-6zM824 450h4v2h-4zM778 452h4v2h-4zM824 452h6v2h-6zM778 454h6v2h-6zM826 454h8v2h-8zM778 456h6v2h-6zM828 456h10v2h-10zM780 458h6v2h-6zM830 458h12v2h-12zM780 460h6v2h-6zM834 460h14v2h-14zM782 462h6v2h-6zM842 462h12v2h-12zM782 464h8v2h-8zM848 464h12v2h-12zM784 466h8v2h-8zM852 466h10v2h-10zM784 468h10v2h-10zM856 468h8v2h-8zM786 470h30v2h-30zM858 470h8v2h-8zM788 472h30v2h-30zM860 472h8v2h-8zM788 474h32v2h-32zM862 474h8v2h-8zM790 476h32v2h-32zM862 476h8v2h-8zM790 478h34v2h-34zM864 478h8v2h-8zM792 480h32v2h-32zM864 480h8v2h-8zM794 482h32v2h-32zM864 482h10v2h-10zM796 484h32v2h-32zM866 484h10v2h-10zM796 486h32v2h-32zM866 486h12v2h-12zM800 488h30v2h-30zM866 488h14v2h-14zM802 490h10v2h-10zM816 490h16v2h-16zM866 490h18v2h-18zM818 492h16v2h-16zM868 492h20v2h-20zM820 494h14v2h-14zM870 494h22v2h-22zM822 496h14v2h-14zM872 496h24v2h-24zM824 498h14v2h-14zM874 498h24v2h-24zM824 500h14v2h-14zM876 500h26v2h-26zM826 502h14v2h-14zM880 502h24v2h-24zM942 502h22v2h-22zM826 504h12v2h-12zM882 504h22v2h-22zM936 504h28v2h-28zM826 506h12v2h-12zM884 506h22v2h-22zM932 506h26v2h-26zM974 506h20v2h-20zM826 508h10v2h-10zM886 508h22v2h-22zM928 508h26v2h-26zM976 508h18v2h-18zM826 510h8v2h-8zM888 510h20v2h-20zM928 510h22v2h-22zM976 510h18v2h-18zM826 512h8v2h-8zM888 512h20v2h-20zM926 512h22v2h-22zM978 512h16v2h-16zM824 514h8v2h-8zM890 514h18v2h-18zM924 514h24v2h-24zM978 514h16v2h-16zM824 516h6v2h-6zM890 516h20v2h-20zM924 516h22v2h-22zM980 516h14v2h-14zM824 518h6v2h-6zM892 518h18v2h-18zM922 518h24v2h-24zM980 518h14v2h-14zM822 520h6v2h-6zM892 520h18v2h-18zM920 520h26v2h-26zM982 520h12v2h-12zM822 522h4v2h-4zM894 522h54v2h-54zM982 522h12v2h-12zM820 524h6v2h-6zM894 524h54v2h-54zM984 524h10v2h-10zM820 526h4v2h-4zM894 526h56v2h-56zM984 526h10v2h-10zM820 528h4v2h-4zM896 528h56v2h-56zM984 528h10v2h-10zM820 530h4v2h-4zM898 530h56v2h-56zM986 530h8v2h-8zM820 532h4v2h-4zM898 532h60v2h-60zM988 532h6v2h-6zM820 534h4v2h-4zM900 534h64v2h-64zM822 536h2v2h-2zM902 536h72v2h-72zM824 538h2v2h-2zM904 538h76v2h-76zM826 540h2v2h-2zM908 540h18v2h-18zM952 540h30v2h-30zM828 542h4v2h-4zM960 542h24v2h-24zM832 544h2v2h-2zM966 544h18v2h-18zM834 546h4v2h-4zM970 546h14v2h-14zM838 548h2v2h-2zM974 548h12v2h-12zM840 550h2v2h-2zM976 550h10v2h-10zM842 552h2v2h-2zM978 552h8v2h-8zM844 554h4v2h-4zM980 554h8v2h-8zM848 556h2v2h-2zM980 556h8v2h-8zM850 558h2v2h-2zM982 558h8v2h-8zM852 560h2v2h-2zM984 560h6v2h-6zM854 562h2v2h-2zM984 562h8v2h-8zM856 564h2v2h-2zM986 564h8v2h-8zM858 566h2v2h-2zM988 566h6v2h-6zM860 568h2v2h-2zM990 568h4v2h-4zM862 570h4v2h-4zM864 572h4v2h-4zM866 574h4v2h-4zM868 576h4v2h-4zM870 578h2v2h-2zM872 580h2v2h-2zM872 582h2v2h-2zM874 584h2v2h-2zM876 586h2v2h-2zM884 594h2v2h-2zM886 596h2v2h-2zM888 598h2v2h-2zM890 600h2v2h-2zM894 602h2v2h-2zM936 602h30v2h-30zM896 604h2v2h-2zM930 604h64v2h-64zM898 606h2v2h-2zM926 606h6v2h-6zM986 606h8v2h-8zM900 608h2v2h-2zM924 608h4v2h-4zM900 610h2v2h-2zM922 610h4v2h-4zM902 612h2v2h-2zM920 612h2v2h-2zM902 614h4v2h-4zM916 614h4v2h-4zM904 616h2v2h-2zM914 616h4v2h-4zM906 618h8v2h-8z"/>
<path fill="#ff9100" d="M796 274h10v2h-10zM790 276h16v2h-16zM788 278h18v2h-18zM786 280h8v2h-8zM804 280h2v2h-2zM784 282h8v2h-8zM806 282h2v2h-2zM782 284h8v2h-8zM806 284h2v2h-2zM782 286h6v2h-6zM806 286h2v2h-2zM780 288h6v2h-6zM808 288h2v2h-2zM822 288h6v2h-6zM780 290h6v2h-6zM808 290h4v2h-4zM816 290h4v2h-4zM828 290h2v2h-2zM882 290h6v2h-6zM780 292h6v2h-6zM828 292h4v2h-4zM878 292h12v2h-12zM780 294h6v2h-6zM830 294h4v2h-4zM874 294h18v2h-18zM780 296h6v2h-6zM832 296h2v2h-2zM872 296h22v2h-22zM782 298h4v2h-4zM868 298h26v2h-26zM782 300h6v2h-6zM834 300h2v2h-2zM864 300h32v2h-32zM782 302h6v2h-6zM836 302h4v2h-4zM858 302h38v2h-38zM784 304h6v2h-6zM838 304h30v2h-30zM886 304h12v2h-12zM786 306h4v2h-4zM842 306h18v2h-18zM888 306h10v2h-10zM786 308h6v2h-6zM890 308h10v2h-10zM788 310h6v2h-6zM892 310h8v2h-8zM790 312h6v2h-6zM894 312h8v2h-8zM790 314h6v2h-6zM896 314h6v2h-6zM792 316h6v2h-6zM896 316h8v2h-8zM794 318h6v2h-6zM898 318h6v2h-6zM796 320h6v2h-6zM898 320h6v2h-6zM796 322h6v2h-6zM900 322h6v2h-6zM798 324h4v2h-4zM900 324h6v2h-6zM798 326h4v2h-4zM902 326h4v2h-4zM798 328h4v2h-4zM902 328h6v2h-6zM798 330h4v2h-4zM902 330h6v2h-6zM798 332h4v2h-4zM904 332h4v2h-4zM798 334h4v2h-4zM904 334h4v2h-4zM798 336h4v2h-4zM904 336h4v2h-4zM796 338h6v2h-6zM904 338h4v2h-4zM796 340h6v2h-6zM904 340h4v2h-4zM796 342h4v2h-4zM904 342h6v2h-6zM796 344h4v2h-4zM904 344h6v2h-6zM796 346h4v2h-4zM906 346h4v2h-4zM796 348h4v2h-4zM906 348h4v2h-4zM796 350h4v2h-4zM906 350h4v2h-4zM796 352h2v2h-2zM906 352h4v2h-4zM794 354h4v2h-4zM906 354h4v2h-4zM794 356h4v2h-4zM906 356h6v2h-6zM794 358h4v2h-4zM906 358h6v2h-6zM794 360h4v2h-4zM908 360h4v2h-4zM794 362h4v2h-4zM908 362h4v2h-4zM794 364h4v2h-4zM908 364h6v2h-6zM796 366h2v2h-2zM908 366h6v2h-6zM796 368h2v2h-2zM910 368h4v2h-4zM796 370h4v2h-4zM910 370h6v2h-6zM798 372h2v2h-2zM910 372h6v2h-6zM800 374h2v2h-2zM912 374h6v2h-6zM800 376h4v2h-4zM912 376h6v2h-6zM802 378h2v2h-2zM912 378h6v2h-6zM802 380h2v2h-2zM914 380h6v2h-6zM804 382h2v2h-2zM914 382h8v2h-8zM804 384h2v2h-2zM914 384h8v2h-8zM806 386h2v2h-2zM916 386h8v2h-8zM916 388h8v2h-8zM808 390h2v2h-2zM916 390h10v2h-10zM698 392h8v2h-8zM808 392h2v2h-2zM916 392h10v2h-10zM688 394h26v2h-26zM808 394h2v2h-2zM918 394h10v2h-10zM680 396h38v2h-38zM808 396h2v2h-2zM918 396h10v2h-10zM674 398h50v2h-50zM808 398h2v2h-2zM918 398h12v2h-12zM668 400h32v2h-32zM710 400h20v2h-20zM808 400h4v2h-4zM918 400h14v2h-14zM664 402h30v2h-30zM714 402h20v2h-20zM810 402h2v2h-2zM920 402h12v2h-12zM662 404h18v2h-18zM716 404h22v2h-22zM810 404h2v2h-2zM920 404h14v2h-14zM658 406h14v2h-14zM720 406h20v2h-20zM810 406h2v2h-2zM922 406h16v2h-16zM654 408h12v2h-12zM724 408h20v2h-20zM810 408h4v2h-4zM922 408h18v2h-18zM652 410h8v2h-8zM730 410h18v2h-18zM810 410h4v2h-4zM924 410h20v2h-20zM534 412h64v2h-64zM648 412h8v2h-8zM740 412h14v2h-14zM810 412h4v2h-4zM926 412h26v2h-26zM534 414h78v2h-78zM644 414h8v2h-8zM748 414h10v2h-10zM810 414h4v2h-4zM928 414h38v2h-38zM548 416h70v2h-70zM640 416h8v2h-8zM752 416h8v2h-8zM810 416h4v2h-4zM930 416h64v2h-64zM610 418h34v2h-34zM756 418h6v2h-6zM810 418h4v2h-4zM934 418h60v2h-60zM620 420h18v2h-18zM758 420h6v2h-6zM810 420h4v2h-4zM942 420h52v2h-52zM760 422h4v2h-4zM810 422h6v2h-6zM954 422h40v2h-40zM760 424h6v2h-6zM812 424h4v2h-4zM966 424h28v2h-28zM762 426h4v2h-4zM814 426h4v2h-4zM972 426h22v2h-22zM762 428h6v2h-6zM814 428h6v2h-6zM974 428h20v2h-20zM764 430h4v2h-4zM816 430h4v2h-4zM976 430h18v2h-18zM764 432h6v2h-6zM818 432h6v2h-6zM828 432h2v2h-2zM978 432h16v2h-16zM766 434h4v2h-4zM980 434h14v2h-14zM766 436h6v2h-6zM832 436h2v2h-2zM980 436h14v2h-14zM768 438h4v2h-4zM832 438h2v2h-2zM982 438h12v2h-12zM768 440h4v2h-4zM832 440h2v2h-2zM982 440h12v2h-12zM768 442h6v2h-6zM982 442h12v2h-12zM770 444h4v2h-4zM830 444h2v2h-2zM984 444h10v2h-10zM770 446h4v2h-4zM828 446h4v2h-4zM984 446h10v2h-10zM770 448h6v2h-6zM828 448h6v2h-6zM984 448h10v2h-10zM772 450h4v2h-4zM828 450h8v2h-8zM986 450h8v2h-8zM772 452h6v2h-6zM830 452h10v2h-10zM986 452h8v2h-8zM774 454h4v2h-4zM834 454h10v2h-10zM986 454h8v2h-8zM774 456h4v2h-4zM838 456h12v2h-12zM988 456h6v2h-6zM774 458h6v2h-6zM842 458h16v2h-16zM988 458h6v2h-6zM776 460h4v2h-4zM848 460h16v2h-16zM990 460h4v2h-4zM776 462h6v2h-6zM854 462h14v2h-14zM992 462h2v2h-2zM778 464h4v2h-4zM860 464h10v2h-10zM778 466h6v2h-6zM862 466h10v2h-10zM778 468h6v2h-6zM864 468h10v2h-10zM780 470h6v2h-6zM866 470h10v2h-10zM780 472h8v2h-8zM868 472h10v2h-10zM780 474h8v2h-8zM870 474h10v2h-10zM782 476h8v2h-8zM870 476h12v2h-12zM782 478h8v2h-8zM872 478h14v2h-14zM782 480h10v2h-10zM872 480h22v2h-22zM900 480h74v2h-74zM784 482h10v2h-10zM874 482h108v2h-108zM784 484h12v2h-12zM876 484h112v2h-112zM784 486h12v2h-12zM878 486h116v2h-116zM786 488h14v2h-14zM880 488h114v2h-114zM786 490h16v2h-16zM812 490h4v2h-4zM884 490h110v2h-110zM788 492h30v2h-30zM888 492h106v2h-106zM788 494h32v2h-32zM892 494h102v2h-102zM790 496h32v2h-32zM896 496h98v2h-98zM790 498h34v2h-34zM898 498h96v2h-96zM792 500h32v2h-32zM902 500h92v2h-92zM794 502h32v2h-32zM904 502h38v2h-38zM964 502h30v2h-30zM798 504h28v2h-28zM904 504h32v2h-32zM964 504h30v2h-30zM802 506h24v2h-24zM906 506h26v2h-26zM958 506h16v2h-16zM808 508h18v2h-18zM908 508h20v2h-20zM954 508h22v2h-22zM812 510h14v2h-14zM908 510h20v2h-20zM950 510h26v2h-26zM814 512h12v2h-12zM908 512h18v2h-18zM948 512h30v2h-30zM814 514h10v2h-10zM908 514h16v2h-16zM948 514h30v2h-30zM814 516h10v2h-10zM910 516h14v2h-14zM946 516h34v2h-34zM814 518h10v2h-10zM910 518h12v2h-12zM946 518h34v2h-34zM814 520h8v2h-8zM910 520h10v2h-10zM946 520h36v2h-36zM814 522h8v2h-8zM948 522h34v2h-34zM814 524h6v2h-6zM948 524h36v2h-36zM814 526h6v2h-6zM950 526h34v2h-34zM814 528h6v2h-6zM952 528h32v2h-32zM816 530h4v2h-4zM954 530h32v2h-32zM816 532h4v2h-4zM958 532h30v2h-30zM818 534h2v2h-2zM964 534h30v2h-30zM820 536h2v2h-2zM974 536h20v2h-20zM822 538h2v2h-2zM980 538h14v2h-14zM824 540h2v2h-2zM982 540h12v2h-12zM826 542h2v2h-2zM984 542h10v2h-10zM830 544h2v2h-2zM984 544h10v2h-10zM832 546h2v2h-2zM984 546h10v2h-10zM836 548h2v2h-2zM986 548h8v2h-8zM838 550h2v2h-2zM986 550h8v2h-8zM840 552h2v2h-2zM986 552h8v2h-8zM842 554h2v2h-2zM988 554h6v2h-6zM846 556h2v2h-2zM988 556h6v2h-6zM848 558h2v2h-2zM990 558h4v2h-4zM850 560h2v2h-2zM990 560h4v2h-4zM852 562h2v2h-2zM992 562h2v2h-2zM854 564h2v2h-2zM856 566h2v2h-2zM858 568h2v2h-2zM860 570h2v2h-2zM862 572h2v2h-2zM864 574h2v2h-2zM866 576h2v2h-2zM868 578h2v2h-2zM870 580h2v2h-2zM874 586h2v2h-2zM876 588h2v2h-2zM878 590h2v2h-2zM880 592h2v2h-2zM882 594h2v2h-2zM884 596h2v2h-2zM886 598h2v2h-2zM888 600h2v2h-2zM892 602h2v2h-2zM894 604h2v2h-2zM896 606h2v2h-2zM932 606h54v2h-54zM898 608h2v2h-2zM928 608h6v2h-6zM972 608h22v2h-22zM898 610h2v2h-2zM926 610h4v2h-4zM900 612h2v2h-2zM922 612h4v2h-4zM900 614h2v2h-2zM920 614h4v2h-4zM902 616h2v2h-2zM918 616h4v2h-4zM902 618h4v2h-4zM914 618h4v2h-4zM904 620h10v2h-10z"/>
<path fill="#ff8600" d="M794 280h10v2h-10zM792 282h14v2h-14zM790 284h16v2h-16zM788 286h18v2h-18zM786 288h22v2h-22zM786 290h16v2h-16zM804 290h4v2h-4zM820 290h8v2h-8zM786 292h12v2h-12zM808 292h8v2h-8zM826 292h2v2h-2zM786 294h10v2h-10zM828 294h2v2h-2zM786 296h8v2h-8zM828 296h4v2h-4zM786 298h8v2h-8zM830 298h4v2h-4zM788 300h6v2h-6zM832 300h2v2h-2zM788 302h6v2h-6zM832 302h4v2h-4zM790 304h4v2h-4zM834 304h4v2h-4zM868 304h18v2h-18zM790 306h6v2h-6zM836 306h6v2h-6zM860 306h28v2h-28zM792 308h6v2h-6zM838 308h52v2h-52zM794 310h4v2h-4zM840 310h52v2h-52zM796 312h4v2h-4zM880 312h14v2h-14zM796 314h6v2h-6zM884 314h12v2h-12zM798 316h6v2h-6zM886 316h10v2h-10zM800 318h4v2h-4zM888 318h10v2h-10zM802 320h4v2h-4zM890 320h8v2h-8zM802 322h4v2h-4zM892 322h8v2h-8zM802 324h6v2h-6zM892 324h8v2h-8zM802 326h6v2h-6zM894 326h8v2h-8zM802 328h6v2h-6zM896 328h6v2h-6zM802 330h6v2h-6zM896 330h6v2h-6zM802 332h6v2h-6zM896 332h8v2h-8zM802 334h6v2h-6zM898 334h6v2h-6zM802 336h6v2h-6zM898 336h6v2h-6zM802 338h6v2h-6zM898 338h6v2h-6zM802 340h6v2h-6zM898 340h6v2h-6zM800 342h8v2h-8zM900 342h4v2h-4zM800 344h6v2h-6zM900 344h4v2h-4zM800 346h6v2h-6zM900 346h6v2h-6zM800 348h4v2h-4zM900 348h6v2h-6zM800 350h4v2h-4zM900 350h6v2h-6zM798 352h4v2h-4zM900 352h6v2h-6zM798 354h4v2h-4zM900 354h6v2h-6zM798 356h4v2h-4zM902 356h4v2h-4zM798 358h2v2h-2zM902 358h4v2h-4zM798 360h2v2h-2zM902 360h6v2h-6zM798 362h2v2h-2zM902 362h6v2h-6zM798 364h2v2h-2zM902 364h6v2h-6zM798 366h2v2h-2zM902 366h6v2h-6zM798 368h4v2h-4zM904 368h6v2h-6zM800 370h2v2h-2zM904 370h6v2h-6zM800 372h4v2h-4zM904 372h6v2h-6zM802 374h2v2h-2zM904 374h8v2h-8zM904 376h8v2h-8zM804 378h2v2h-2zM906 378h6v2h-6zM804 380h2v2h-2zM906 380h8v2h-8zM806 382h2v2h-2zM906 382h8v2h-8zM806 384h2v2h-2zM906 384h8v2h-8zM808 386h2v2h-2zM906 386h10v2h-10zM808 388h2v2h-2zM908 388h8v2h-8zM908 390h8v2h-8zM810 392h2v2h-2zM908 392h8v2h-8zM810 394h2v2h-2zM908 394h10v2h-10zM810 396h2v2h-2zM908 396h10v2h-10zM810 398h4v2h-4zM906 398h12v2h-12zM700 400h10v2h-10zM812 400h2v2h-2zM906 400h12v2h-12zM694 402h20v2h-20zM812 402h2v2h-2zM906 402h14v2h-14zM680 404h36v2h-36zM812 404h4v2h-4zM906 404h14v2h-14zM672 406h26v2h-26zM708 406h12v2h-12zM812 406h4v2h-4zM906 406h16v2h-16zM666 408h14v2h-14zM712 408h12v2h-12zM814 408h2v2h-2zM906 408h16v2h-16zM660 410h10v2h-10zM716 410h14v2h-14zM814 410h2v2h-2zM906 410h18v2h-18zM656 412h8v2h-8zM718 412h22v2h-22zM814 412h4v2h-4zM906 412h20v2h-20zM652 414h8v2h-8zM724 414h24v2h-24zM814 414h4v2h-4zM906 414h22v2h-22zM534 416h14v2h-14zM648 416h8v2h-8zM736 416h16v2h-16zM814 416h4v2h-4zM906 416h24v2h-24zM534 418h76v2h-76zM644 418h8v2h-8zM746 418h10v2h-10zM814 418h6v2h-6zM908 418h26v2h-26zM534 420h86v2h-86zM638 420h10v2h-10zM750 420h8v2h-8zM814 420h6v2h-6zM910 420h32v2h-32zM548 422h40v2h-40zM612 422h30v2h-30zM752 422h8v2h-8zM816 422h6v2h-6zM912 422h42v2h-42zM624 424h10v2h-10zM754 424h6v2h-6zM816 424h8v2h-8zM914 424h52v2h-52zM756 426h6v2h-6zM818 426h6v2h-6zM918 426h54v2h-54zM758 428h4v2h-4zM820 428h6v2h-6zM924 428h50v2h-50zM758 430h6v2h-6zM820 430h10v2h-10zM932 430h44v2h-44zM760 432h4v2h-4zM830 432h2v2h-2zM962 432h16v2h-16zM760 434h6v2h-6zM832 434h2v2h-2zM966 434h14v2h-14zM762 436h4v2h-4zM834 436h2v2h-2zM968 436h12v2h-12zM762 438h6v2h-6zM834 438h2v2h-2zM970 438h12v2h-12zM764 440h4v2h-4zM834 440h2v2h-2zM972 440h10v2h-10zM764 442h4v2h-4zM832 442h6v2h-6zM972 442h10v2h-10zM764 444h6v2h-6zM832 444h8v2h-8zM974 444h10v2h-10zM766 446h4v2h-4zM832 446h12v2h-12zM974 446h10v2h-10zM766 448h4v2h-4zM834 448h14v2h-14zM974 448h10v2h-10zM768 450h4v2h-4zM836 450h18v2h-18zM974 450h12v2h-12zM768 452h4v2h-4zM840 452h22v2h-22zM974 452h12v2h-12zM770 454h4v2h-4zM844 454h26v2h-26zM974 454h12v2h-12zM770 456h4v2h-4zM850 456h24v2h-24zM974 456h14v2h-14zM770 458h4v2h-4zM858 458h18v2h-18zM974 458h14v2h-14zM772 460h4v2h-4zM864 460h16v2h-16zM972 460h18v2h-18zM772 462h4v2h-4zM868 462h14v2h-14zM972 462h20v2h-20zM772 464h6v2h-6zM870 464h18v2h-18zM900 464h34v2h-34zM968 464h26v2h-26zM774 466h4v2h-4zM872 466h78v2h-78zM960 466h34v2h-34zM774 468h4v2h-4zM874 468h120v2h-120zM774 470h6v2h-6zM876 470h118v2h-118zM774 472h6v2h-6zM878 472h116v2h-116zM776 474h4v2h-4zM880 474h114v2h-114zM776 476h6v2h-6zM882 476h112v2h-112zM776 478h6v2h-6zM886 478h108v2h-108zM776 480h6v2h-6zM894 480h6v2h-6zM974 480h20v2h-20zM776 482h8v2h-8zM982 482h12v2h-12zM776 484h8v2h-8zM988 484h6v2h-6zM776 486h8v2h-8zM776 488h10v2h-10zM776 490h10v2h-10zM776 492h12v2h-12zM776 494h12v2h-12zM778 496h12v2h-12zM778 498h12v2h-12zM780 500h12v2h-12zM782 502h12v2h-12zM782 504h16v2h-16zM784 506h18v2h-18zM786 508h22v2h-22zM788 510h24v2h-24zM792 512h22v2h-22zM794 514h20v2h-20zM796 516h18v2h-18zM798 518h16v2h-16zM802 520h12v2h-12zM804 522h10v2h-10zM806 524h8v2h-8zM810 526h4v2h-4zM812 528h2v2h-2zM812 530h4v2h-4zM814 532h2v2h-2zM816 534h2v2h-2zM818 536h2v2h-2zM820 538h2v2h-2zM822 540h2v2h-2zM824 542h2v2h-2zM828 544h2v2h-2zM830 546h2v2h-2zM834 548h2v2h-2zM836 550h2v2h-2zM838 552h2v2h-2zM844 556h2v2h-2zM846 558h2v2h-2zM848 560h2v2h-2zM850 562h2v2h-2zM852 564h2v2h-2zM854 566h2v2h-2zM856 568h2v2h-2zM858 570h2v2h-2zM860 572h2v2h-2zM868 580h2v2h-2zM870 582h2v2h-2zM872 584h2v2h-2zM876 590h2v2h-2zM878 592h2v2h-2zM880 594h2v2h-2zM882 596h2v2h-2zM884 598h2v2h-2zM890 602h2v2h-2zM892 604h2v2h-2zM894 606h2v2h-2zM896 608h2v2h-2zM934 608h38v2h-38zM930 610h10v2h-10zM958 610h36v2h-36zM898 612h2v2h-2zM926 612h6v2h-6zM924 614h4v2h-4zM900 616h2v2h-2zM922 616h2v2h-2zM918 618h4v2h-4zM902 620h2v2h-2zM914 620h4v2h-4zM904 622h10v2h-10z"/>
<path fill="#ff7700" d="M802 290h2v2h-2zM798 292h10v2h-10zM816 292h10v2h-10zM796 294h22v2h-22zM822 294h6v2h-6zM794 296h18v2h-18zM824 296h4v2h-4zM794 298h8v2h-8zM826 298h4v2h-4zM794 300h6v2h-6zM826 300h6v2h-6zM794 302h6v2h-6zM828 302h4v2h-4zM794 304h6v2h-6zM828 304h6v2h-6zM796 306h6v2h-6zM830 306h6v2h-6zM798 308h6v2h-6zM830 308h8v2h-8zM798 310h6v2h-6zM832 310h8v2h-8zM800 312h6v2h-6zM832 312h48v2h-48zM802 314h6v2h-6zM832 314h52v2h-52zM804 316h6v2h-6zM834 316h52v2h-52zM804 318h6v2h-6zM834 318h54v2h-54zM806 320h6v2h-6zM864 320h26v2h-26zM806 322h6v2h-6zM870 322h22v2h-22zM808 324h6v2h-6zM874 324h18v2h-18zM808 326h6v2h-6zM878 326h16v2h-16zM808 328h6v2h-6zM880 328h16v2h-16zM808 330h8v2h-8zM882 330h14v2h-14zM808 332h8v2h-8zM884 332h12v2h-12zM808 334h8v2h-8zM886 334h12v2h-12zM808 336h8v2h-8zM886 336h12v2h-12zM808 338h8v2h-8zM888 338h10v2h-10zM808 340h6v2h-6zM890 340h8v2h-8zM808 342h6v2h-6zM890 342h10v2h-10zM806 344h6v2h-6zM892 344h8v2h-8zM806 346h4v2h-4zM892 346h8v2h-8zM804 348h6v2h-6zM894 348h6v2h-6zM804 350h4v2h-4zM894 350h6v2h-6zM802 352h4v2h-4zM894 352h6v2h-6zM802 354h4v2h-4zM896 354h4v2h-4zM802 356h2v2h-2zM896 356h6v2h-6zM800 358h2v2h-2zM896 358h6v2h-6zM800 360h2v2h-2zM896 360h6v2h-6zM800 362h2v2h-2zM896 362h6v2h-6zM800 364h2v2h-2zM896 364h6v2h-6zM800 366h2v2h-2zM896 366h6v2h-6zM802 368h2v2h-2zM896 368h8v2h-8zM802 370h2v2h-2zM894 370h10v2h-10zM804 372h2v2h-2zM894 372h10v2h-10zM804 374h2v2h-2zM894 374h10v2h-10zM804 376h2v2h-2zM892 376h12v2h-12zM806 378h2v2h-2zM892 378h14v2h-14zM806 380h2v2h-2zM890 380h16v2h-16zM890 382h16v2h-16zM808 384h2v2h-2zM888 384h18v2h-18zM886 386h20v2h-20zM810 388h2v2h-2zM886 388h22v2h-22zM810 390h2v2h-2zM884 390h24v2h-24zM882 392h26v2h-26zM812 394h2v2h-2zM882 394h26v2h-26zM812 396h2v2h-2zM880 396h28v2h-28zM814 398h2v2h-2zM878 398h28v2h-28zM814 400h2v2h-2zM878 400h28v2h-28zM814 402h4v2h-4zM876 402h30v2h-30zM816 404h2v2h-2zM876 404h30v2h-30zM698 406h10v2h-10zM816 406h4v2h-4zM874 406h32v2h-32zM680 408h32v2h-32zM816 408h4v2h-4zM874 408h32v2h-32zM670 410h24v2h-24zM702 410h14v2h-14zM816 410h6v2h-6zM872 410h34v2h-34zM664 412h10v2h-10zM710 412h8v2h-8zM818 412h4v2h-4zM872 412h34v2h-34zM660 414h8v2h-8zM712 414h12v2h-12zM818 414h6v2h-6zM872 414h34v2h-34zM656 416h6v2h-6zM716 416h20v2h-20zM818 416h8v2h-8zM870 416h36v2h-36zM652 418h6v2h-6zM720 418h26v2h-26zM820 418h6v2h-6zM870 418h38v2h-38zM648 420h6v2h-6zM724 420h26v2h-26zM820 420h8v2h-8zM870 420h40v2h-40zM534 422h14v2h-14zM588 422h24v2h-24zM642 422h8v2h-8zM730 422h22v2h-22zM822 422h8v2h-8zM870 422h42v2h-42zM534 424h90v2h-90zM634 424h12v2h-12zM738 424h16v2h-16zM824 424h8v2h-8zM868 424h46v2h-46zM534 426h62v2h-62zM612 426h28v2h-28zM744 426h12v2h-12zM824 426h10v2h-10zM868 426h50v2h-50zM544 428h44v2h-44zM748 428h10v2h-10zM826 428h12v2h-12zM866 428h58v2h-58zM556 430h26v2h-26zM750 430h8v2h-8zM830 430h12v2h-12zM864 430h68v2h-68zM564 432h12v2h-12zM752 432h8v2h-8zM832 432h16v2h-16zM860 432h102v2h-102zM754 434h6v2h-6zM834 434h132v2h-132zM756 436h6v2h-6zM836 436h132v2h-132zM756 438h6v2h-6zM836 438h134v2h-134zM758 440h6v2h-6zM836 440h136v2h-136zM760 442h4v2h-4zM838 442h134v2h-134zM760 444h4v2h-4zM840 444h134v2h-134zM762 446h4v2h-4zM844 446h130v2h-130zM762 448h4v2h-4zM848 448h126v2h-126zM764 450h4v2h-4zM854 450h120v2h-120zM764 452h4v2h-4zM862 452h112v2h-112zM764 454h6v2h-6zM870 454h104v2h-104zM766 456h4v2h-4zM874 456h100v2h-100zM766 458h4v2h-4zM876 458h98v2h-98zM768 460h4v2h-4zM880 460h92v2h-92zM768 462h4v2h-4zM882 462h90v2h-90zM768 464h4v2h-4zM888 464h12v2h-12zM934 464h34v2h-34zM770 466h4v2h-4zM950 466h10v2h-10zM770 468h4v2h-4zM770 470h4v2h-4zM770 472h4v2h-4zM772 474h4v2h-4zM772 476h4v2h-4zM772 478h4v2h-4zM772 480h4v2h-4zM770 482h6v2h-6zM770 484h6v2h-6zM770 486h6v2h-6zM770 488h6v2h-6zM770 490h6v2h-6zM772 492h4v2h-4zM772 494h4v2h-4zM774 496h4v2h-4zM774 498h4v2h-4zM776 500h4v2h-4zM778 502h4v2h-4zM780 504h2v2h-2zM782 506h2v2h-2zM784 508h2v2h-2zM786 510h2v2h-2zM788 512h4v2h-4zM790 514h4v2h-4zM792 516h4v2h-4zM794 518h4v2h-4zM798 520h4v2h-4zM800 522h4v2h-4zM804 524h2v2h-2zM806 526h4v2h-4zM808 528h4v2h-4zM810 530h2v2h-2zM812 532h2v2h-2zM814 534h2v2h-2zM816 536h2v2h-2zM818 538h2v2h-2zM826 544h2v2h-2zM832 548h2v2h-2zM834 550h2v2h-2zM840 554h2v2h-2zM842 556h2v2h-2zM844 558h2v2h-2zM862 574h2v2h-2zM864 576h2v2h-2zM866 578h2v2h-2zM870 584h2v2h-2zM872 586h2v2h-2zM874 588h2v2h-2zM886 600h2v2h-2zM888 602h2v2h-2zM890 604h2v2h-2zM892 606h2v2h-2zM894 608h2v2h-2zM896 610h2v2h-2zM940 610h18v2h-18zM896 612h2v2h-2zM932 612h62v2h-62zM898 614h2v2h-2zM928 614h6v2h-6zM984 614h10v2h-10zM898 616h2v2h-2zM924 616h4v2h-4zM900 618h2v2h-2zM922 618h4v2h-4zM900 620h2v2h-2zM918 620h4v2h-4zM902 622h2v2h-2zM914 622h4v2h-4zM904 624h10v2h-10z"/>
<path fill="#ff6c00" d="M818 294h4v2h-4zM812 296h12v2h-12zM802 298h24v2h-24zM800 300h26v2h-26zM800 302h28v2h-28zM800 304h28v2h-28zM802 306h28v2h-28zM804 308h26v2h-26zM804 310h28v2h-28zM806 312h26v2h-26zM808 314h24v2h-24zM810 316h24v2h-24zM810 318h24v2h-24zM812 320h52v2h-52zM812 322h58v2h-58zM814 324h30v2h-30zM856 324h18v2h-18zM814 326h22v2h-22zM864 326h14v2h-14zM814 328h16v2h-16zM868 328h12v2h-12zM816 330h12v2h-12zM872 330h10v2h-10zM816 332h8v2h-8zM874 332h10v2h-10zM816 334h6v2h-6zM878 334h8v2h-8zM816 336h6v2h-6zM880 336h6v2h-6zM816 338h4v2h-4zM882 338h6v2h-6zM814 340h4v2h-4zM884 340h6v2h-6zM814 342h4v2h-4zM886 342h4v2h-4zM812 344h4v2h-4zM886 344h6v2h-6zM810 346h4v2h-4zM888 346h4v2h-4zM810 348h4v2h-4zM890 348h4v2h-4zM808 350h4v2h-4zM890 350h4v2h-4zM806 352h4v2h-4zM890 352h4v2h-4zM806 354h2v2h-2zM892 354h4v2h-4zM804 356h4v2h-4zM892 356h4v2h-4zM802 358h4v2h-4zM892 358h4v2h-4zM802 360h2v2h-2zM892 360h4v2h-4zM802 362h2v2h-2zM892 362h4v2h-4zM802 364h2v2h-2zM892 364h4v2h-4zM802 366h2v2h-2zM892 366h4v2h-4zM804 368h2v2h-2zM890 368h6v2h-6zM804 370h2v2h-2zM890 370h4v2h-4zM806 372h2v2h-2zM888 372h6v2h-6zM806 374h2v2h-2zM888 374h6v2h-6zM806 376h2v2h-2zM886 376h6v2h-6zM808 378h2v2h-2zM886 378h6v2h-6zM808 380h2v2h-2zM884 380h6v2h-6zM808 382h4v2h-4zM882 382h8v2h-8zM810 384h2v2h-2zM882 384h6v2h-6zM810 386h2v2h-2zM880 386h6v2h-6zM812 388h2v2h-2zM878 388h8v2h-8zM812 390h2v2h-2zM878 390h6v2h-6zM812 392h4v2h-4zM876 392h6v2h-6zM814 394h2v2h-2zM874 394h8v2h-8zM814 396h4v2h-4zM874 396h6v2h-6zM816 398h2v2h-2zM872 398h6v2h-6zM816 400h4v2h-4zM872 400h6v2h-6zM818 402h2v2h-2zM870 402h6v2h-6zM818 404h4v2h-4zM868 404h8v2h-8zM820 406h2v2h-2zM868 406h6v2h-6zM820 408h4v2h-4zM866 408h8v2h-8zM694 410h8v2h-8zM822 410h4v2h-4zM864 410h8v2h-8zM674 412h36v2h-36zM822 412h4v2h-4zM864 412h8v2h-8zM668 414h12v2h-12zM702 414h10v2h-10zM824 414h4v2h-4zM862 414h10v2h-10zM662 416h10v2h-10zM706 416h10v2h-10zM826 416h4v2h-4zM860 416h10v2h-10zM658 418h8v2h-8zM710 418h10v2h-10zM826 418h6v2h-6zM858 418h12v2h-12zM654 420h8v2h-8zM712 420h12v2h-12zM828 420h6v2h-6zM856 420h14v2h-14zM650 422h8v2h-8zM712 422h18v2h-18zM830 422h6v2h-6zM854 422h16v2h-16zM646 424h8v2h-8zM714 424h24v2h-24zM832 424h8v2h-8zM852 424h16v2h-16zM596 426h16v2h-16zM640 426h10v2h-10zM716 426h28v2h-28zM834 426h34v2h-34zM534 428h10v2h-10zM588 428h56v2h-56zM716 428h32v2h-32zM838 428h28v2h-28zM534 430h22v2h-22zM582 430h54v2h-54zM718 430h32v2h-32zM842 430h22v2h-22zM534 432h30v2h-30zM576 432h20v2h-20zM718 432h34v2h-34zM848 432h12v2h-12zM534 434h58v2h-58zM720 434h34v2h-34zM546 436h42v2h-42zM720 436h36v2h-36zM552 438h34v2h-34zM722 438h34v2h-34zM556 440h26v2h-26zM724 440h34v2h-34zM560 442h20v2h-20zM726 442h34v2h-34zM566 444h8v2h-8zM730 444h30v2h-30zM734 446h28v2h-28zM738 448h8v2h-8zM756 448h6v2h-6zM758 450h6v2h-6zM760 452h4v2h-4zM760 454h4v2h-4zM762 456h4v2h-4zM762 458h4v2h-4zM764 460h4v2h-4zM764 462h4v2h-4zM766 464h2v2h-2zM766 466h4v2h-4zM766 468h4v2h-4zM768 470h2v2h-2zM768 472h2v2h-2zM768 474h4v2h-4zM768 476h4v2h-4zM768 478h4v2h-4zM768 480h4v2h-4zM768 482h2v2h-2zM768 484h2v2h-2zM768 486h2v2h-2zM768 488h2v2h-2zM768 490h2v2h-2zM770 492h2v2h-2zM770 494h2v2h-2zM772 496h2v2h-2zM772 498h2v2h-2zM774 500h2v2h-2zM776 502h2v2h-2zM778 504h2v2h-2zM780 506h2v2h-2zM782 508h2v2h-2zM784 510h2v2h-2zM786 512h2v2h-2zM788 514h2v2h-2zM790 516h2v2h-2zM792 518h2v2h-2zM796 520h2v2h-2zM798 522h2v2h-2zM800 524h4v2h-4zM804 526h2v2h-2zM806 528h2v2h-2zM808 530h2v2h-2zM810 532h2v2h-2zM812 534h2v2h-2zM820 540h2v2h-2zM822 542h2v2h-2zM828 546h2v2h-2zM830 548h2v2h-2zM836 552h2v2h-2zM838 554h2v2h-2zM846 560h2v2h-2zM848 562h2v2h-2zM850 564h2v2h-2zM852 566h2v2h-2zM854 568h2v2h-2zM856 570h2v2h-2zM858 572h2v2h-2zM860 574h2v2h-2zM862 576h2v2h-2zM864 578h2v2h-2zM866 580h2v2h-2zM868 582h2v2h-2zM874 590h2v2h-2zM876 592h2v2h-2zM878 594h2v2h-2zM880 596h2v2h-2zM882 598h2v2h-2zM884 600h2v2h-2zM886 602h2v2h-2zM888 604h2v2h-2zM890 606h2v2h-2zM892 608h2v2h-2zM894 610h2v2h-2zM896 614h2v2h-2zM934 614h50v2h-50zM928 616h12v2h-12zM960 616h34v2h-34zM898 618h2v2h-2zM926 618h4v2h-4zM922 620h4v2h-4zM900 622h2v2h-2zM918 622h4v2h-4zM900 624h4v2h-4zM914 624h4v2h-4zM902 626h12v2h-12z"/>
<path fill="#ff5d00" d="M844 324h12v2h-12zM836 326h28v2h-28zM830 328h38v2h-38zM828 330h10v2h-10zM862 330h10v2h-10zM824 332h10v2h-10zM866 332h8v2h-8zM822 334h8v2h-8zM870 334h8v2h-8zM822 336h6v2h-6zM872 336h8v2h-8zM820 338h6v2h-6zM874 338h8v2h-8zM818 340h6v2h-6zM878 340h6v2h-6zM818 342h4v2h-4zM880 342h6v2h-6zM816 344h6v2h-6zM880 344h6v2h-6zM814 346h6v2h-6zM882 346h6v2h-6zM814 348h4v2h-4zM884 348h6v2h-6zM812 350h6v2h-6zM886 350h4v2h-4zM810 352h6v2h-6zM886 352h4v2h-4zM808 354h6v2h-6zM886 354h6v2h-6zM808 356h4v2h-4zM888 356h4v2h-4zM806 358h4v2h-4zM888 358h4v2h-4zM804 360h6v2h-6zM888 360h4v2h-4zM804 362h4v2h-4zM888 362h4v2h-4zM804 364h4v2h-4zM888 364h4v2h-4zM804 366h4v2h-4zM886 366h6v2h-6zM806 368h4v2h-4zM886 368h4v2h-4zM806 370h4v2h-4zM886 370h4v2h-4zM808 372h2v2h-2zM884 372h4v2h-4zM808 374h4v2h-4zM882 374h6v2h-6zM808 376h4v2h-4zM882 376h4v2h-4zM810 378h4v2h-4zM880 378h6v2h-6zM810 380h4v2h-4zM878 380h6v2h-6zM812 382h2v2h-2zM878 382h4v2h-4zM812 384h4v2h-4zM876 384h6v2h-6zM812 386h4v2h-4zM874 386h6v2h-6zM814 388h4v2h-4zM874 388h4v2h-4zM814 390h4v2h-4zM872 390h6v2h-6zM816 392h4v2h-4zM870 392h6v2h-6zM816 394h4v2h-4zM870 394h4v2h-4zM818 396h4v2h-4zM868 396h6v2h-6zM818 398h4v2h-4zM866 398h6v2h-6zM820 400h4v2h-4zM866 400h6v2h-6zM820 402h4v2h-4zM864 402h6v2h-6zM822 404h4v2h-4zM864 404h4v2h-4zM822 406h6v2h-6zM862 406h6v2h-6zM824 408h6v2h-6zM860 408h6v2h-6zM826 410h4v2h-4zM860 410h4v2h-4zM826 412h6v2h-6zM858 412h6v2h-6zM680 414h22v2h-22zM828 414h6v2h-6zM856 414h6v2h-6zM672 416h34v2h-34zM830 416h6v2h-6zM854 416h6v2h-6zM666 418h10v2h-10zM698 418h12v2h-12zM832 418h6v2h-6zM852 418h6v2h-6zM662 420h8v2h-8zM704 420h8v2h-8zM834 420h8v2h-8zM848 420h8v2h-8zM658 422h8v2h-8zM706 422h6v2h-6zM836 422h18v2h-18zM654 424h8v2h-8zM708 424h6v2h-6zM840 424h12v2h-12zM650 426h8v2h-8zM710 426h6v2h-6zM644 428h8v2h-8zM710 428h6v2h-6zM636 430h12v2h-12zM712 430h6v2h-6zM596 432h46v2h-46zM712 432h6v2h-6zM592 434h40v2h-40zM714 434h6v2h-6zM534 436h12v2h-12zM588 436h18v2h-18zM714 436h6v2h-6zM534 438h18v2h-18zM586 438h14v2h-14zM714 438h8v2h-8zM534 440h22v2h-22zM582 440h14v2h-14zM716 440h8v2h-8zM534 442h26v2h-26zM580 442h14v2h-14zM716 442h10v2h-10zM534 444h32v2h-32zM574 444h18v2h-18zM716 444h14v2h-14zM534 446h56v2h-56zM718 446h16v2h-16zM534 448h54v2h-54zM718 448h20v2h-20zM746 448h10v2h-10zM534 450h54v2h-54zM718 450h40v2h-40zM534 452h52v2h-52zM720 452h40v2h-40zM534 454h50v2h-50zM720 454h40v2h-40zM534 456h48v2h-48zM722 456h24v2h-24zM756 456h6v2h-6zM534 458h48v2h-48zM726 458h8v2h-8zM758 458h4v2h-4zM534 460h46v2h-46zM760 460h4v2h-4zM534 462h44v2h-44zM760 462h4v2h-4zM534 464h42v2h-42zM762 464h4v2h-4zM534 466h40v2h-40zM762 466h4v2h-4zM534 468h38v2h-38zM764 468h2v2h-2zM534 470h36v2h-36zM764 470h4v2h-4zM534 472h34v2h-34zM764 472h4v2h-4zM534 474h30v2h-30zM766 474h2v2h-2zM534 476h28v2h-28zM766 476h2v2h-2zM534 478h26v2h-26zM766 478h2v2h-2zM534 480h22v2h-22zM766 480h2v2h-2zM534 482h20v2h-20zM766 482h2v2h-2zM534 484h16v2h-16zM766 484h2v2h-2zM534 486h10v2h-10zM766 486h2v2h-2zM766 488h2v2h-2zM766 490h2v2h-2zM768 492h2v2h-2zM768 494h2v2h-2zM770 496h2v2h-2zM772 500h2v2h-2zM774 502h2v2h-2zM776 504h2v2h-2zM778 506h2v2h-2zM780 508h2v2h-2zM782 510h2v2h-2zM784 512h2v2h-2zM786 514h2v2h-2zM788 516h2v2h-2zM790 518h2v2h-2zM794 520h2v2h-2zM796 522h2v2h-2zM798 524h2v2h-2zM802 526h2v2h-2zM804 528h2v2h-2zM806 530h2v2h-2zM814 536h2v2h-2zM816 538h2v2h-2zM818 540h2v2h-2zM824 544h2v2h-2zM826 546h2v2h-2zM832 550h2v2h-2zM840 556h2v2h-2zM842 558h2v2h-2zM870 586h2v2h-2zM872 588h2v2h-2zM892 610h2v2h-2zM894 612h2v2h-2zM896 616h2v2h-2zM940 616h20v2h-20zM896 618h2v2h-2zM930 618h64v2h-64zM898 620h2v2h-2zM926 620h10v2h-10zM978 620h16v2h-16zM898 622h2v2h-2zM922 622h6v2h-6zM918 624h6v2h-6zM900 626h2v2h-2zM914 626h6v2h-6zM902 628h14v2h-14zM906 630h4v2h-4z"/>
<path fill="#ff4e00" d="M838 330h24v2h-24zM834 332h32v2h-32zM830 334h40v2h-40zM828 336h44v2h-44zM826 338h48v2h-48zM824 340h54v2h-54zM822 342h58v2h-58zM822 344h58v2h-58zM820 346h62v2h-62zM818 348h66v2h-66zM818 350h68v2h-68zM816 352h70v2h-70zM814 354h72v2h-72zM812 356h76v2h-76zM810 358h78v2h-78zM810 360h78v2h-78zM808 362h80v2h-80zM808 364h80v2h-80zM808 366h78v2h-78zM810 368h76v2h-76zM810 370h76v2h-76zM810 372h74v2h-74zM812 374h70v2h-70zM812 376h70v2h-70zM814 378h66v2h-66zM814 380h64v2h-64zM814 382h64v2h-64zM816 384h60v2h-60zM816 386h58v2h-58zM818 388h56v2h-56zM818 390h54v2h-54zM820 392h50v2h-50zM820 394h50v2h-50zM822 396h46v2h-46zM822 398h44v2h-44zM824 400h42v2h-42zM824 402h40v2h-40zM826 404h38v2h-38zM828 406h34v2h-34zM830 408h30v2h-30zM830 410h30v2h-30zM832 412h26v2h-26zM834 414h22v2h-22zM836 416h18v2h-18zM676 418h22v2h-22zM838 418h14v2h-14zM670 420h34v2h-34zM842 420h6v2h-6zM666 422h12v2h-12zM694 422h12v2h-12zM662 424h8v2h-8zM700 424h8v2h-8zM658 426h8v2h-8zM702 426h8v2h-8zM652 428h10v2h-10zM704 428h6v2h-6zM648 430h10v2h-10zM706 430h6v2h-6zM642 432h12v2h-12zM708 432h4v2h-4zM632 434h16v2h-16zM708 434h6v2h-6zM606 436h36v2h-36zM710 436h4v2h-4zM600 438h32v2h-32zM710 438h4v2h-4zM596 440h20v2h-20zM712 440h4v2h-4zM594 442h14v2h-14zM712 442h4v2h-4zM592 444h12v2h-12zM712 444h4v2h-4zM590 446h12v2h-12zM714 446h4v2h-4zM588 448h12v2h-12zM714 448h4v2h-4zM588 450h12v2h-12zM714 450h4v2h-4zM586 452h12v2h-12zM714 452h6v2h-6zM584 454h14v2h-14zM716 454h4v2h-4zM582 456h14v2h-14zM716 456h6v2h-6zM746 456h10v2h-10zM582 458h14v2h-14zM716 458h10v2h-10zM734 458h24v2h-24zM580 460h16v2h-16zM718 460h30v2h-30zM752 460h8v2h-8zM578 462h16v2h-16zM722 462h8v2h-8zM756 462h4v2h-4zM576 464h18v2h-18zM758 464h4v2h-4zM574 466h20v2h-20zM760 466h2v2h-2zM572 468h20v2h-20zM760 468h4v2h-4zM570 470h22v2h-22zM762 470h2v2h-2zM568 472h22v2h-22zM762 472h2v2h-2zM564 474h26v2h-26zM762 474h4v2h-4zM562 476h26v2h-26zM764 476h2v2h-2zM560 478h26v2h-26zM764 478h2v2h-2zM556 480h28v2h-28zM764 480h2v2h-2zM554 482h28v2h-28zM764 482h2v2h-2zM550 484h30v2h-30zM764 484h2v2h-2zM544 486h34v2h-34zM764 486h2v2h-2zM534 488h42v2h-42zM764 488h2v2h-2zM534 490h38v2h-38zM534 492h36v2h-36zM766 492h2v2h-2zM534 494h34v2h-34zM534 496h30v2h-30zM768 496h2v2h-2zM534 498h26v2h-26zM770 498h2v2h-2zM534 500h22v2h-22zM534 502h18v2h-18zM534 504h10v2h-10zM774 504h2v2h-2zM776 506h2v2h-2zM778 508h2v2h-2zM780 510h2v2h-2zM782 512h2v2h-2zM784 514h2v2h-2zM786 516h2v2h-2zM792 520h2v2h-2zM794 522h2v2h-2zM796 524h2v2h-2zM800 526h2v2h-2zM802 528h2v2h-2zM808 532h2v2h-2zM810 534h2v2h-2zM812 536h2v2h-2zM820 542h2v2h-2zM822 544h2v2h-2zM828 548h2v2h-2zM834 552h2v2h-2zM836 554h2v2h-2zM534 556h2v2h-2zM838 556h2v2h-2zM534 558h6v2h-6zM534 560h8v2h-8zM844 560h2v2h-2zM534 562h10v2h-10zM846 562h2v2h-2zM534 564h10v2h-10zM848 564h2v2h-2zM534 566h12v2h-12zM850 566h2v2h-2zM534 568h12v2h-12zM852 568h2v2h-2zM534 570h12v2h-12zM854 570h2v2h-2zM534 572h12v2h-12zM856 572h2v2h-2zM534 574h12v2h-12zM858 574h2v2h-2zM534 576h14v2h-14zM860 576h2v2h-2zM534 578h14v2h-14zM862 578h2v2h-2zM534 580h12v2h-12zM864 580h2v2h-2zM534 582h12v2h-12zM866 582h2v2h-2zM534 584h12v2h-12zM868 584h2v2h-2zM534 586h12v2h-12zM534 588h12v2h-12zM534 590h12v2h-12zM534 592h12v2h-12zM874 592h2v2h-2zM534 594h10v2h-10zM876 594h2v2h-2zM534 596h10v2h-10zM878 596h2v2h-2zM534 598h10v2h-10zM880 598h2v2h-2zM534 600h10v2h-10zM882 600h2v2h-2zM534 602h10v2h-10zM884 602h2v2h-2zM534 604h10v2h-10zM886 604h2v2h-2zM534 606h10v2h-10zM888 606h2v2h-2zM534 608h10v2h-10zM890 608h2v2h-2zM534 610h10v2h-10zM534 612h10v2h-10zM892 612h2v2h-2zM534 614h10v2h-10zM894 614h2v2h-2zM534 616h10v2h-10zM894 616h2v2h-2zM534 618h10v2h-10zM534 620h10v2h-10zM896 620h2v2h-2zM936 620h42v2h-42zM534 622h10v2h-10zM928 622h66v2h-66zM534 624h10v2h-10zM898 624h2v2h-2zM924 624h12v2h-12zM966 624h28v2h-28zM534 626h12v2h-12zM898 626h2v2h-2zM920 626h8v2h-8zM534 628h12v2h-12zM900 628h2v2h-2zM916 628h8v2h-8zM534 630h12v2h-12zM902 630h4v2h-4zM910 630h10v2h-10zM534 632h12v2h-12zM904 632h12v2h-12zM534 634h12v2h-12z"/>
<path fill="#ff4300" d="M678 422h16v2h-16zM670 424h30v2h-30zM666 426h36v2h-36zM662 428h12v2h-12zM694 428h10v2h-10zM658 430h10v2h-10zM698 430h8v2h-8zM654 432h10v2h-10zM702 432h6v2h-6zM648 434h12v2h-12zM704 434h4v2h-4zM642 436h12v2h-12zM706 436h4v2h-4zM632 438h16v2h-16zM706 438h4v2h-4zM616 440h26v2h-26zM708 440h4v2h-4zM608 442h28v2h-28zM708 442h4v2h-4zM604 444h22v2h-22zM708 444h4v2h-4zM602 446h18v2h-18zM710 446h4v2h-4zM600 448h16v2h-16zM710 448h4v2h-4zM600 450h14v2h-14zM710 450h4v2h-4zM598 452h14v2h-14zM712 452h2v2h-2zM598 454h14v2h-14zM712 454h4v2h-4zM596 456h14v2h-14zM712 456h4v2h-4zM596 458h14v2h-14zM712 458h4v2h-4zM596 460h14v2h-14zM714 460h4v2h-4zM748 460h4v2h-4zM594 462h16v2h-16zM714 462h8v2h-8zM730 462h26v2h-26zM594 464h16v2h-16zM718 464h20v2h-20zM752 464h6v2h-6zM594 466h18v2h-18zM754 466h6v2h-6zM592 468h20v2h-20zM756 468h4v2h-4zM592 470h22v2h-22zM758 470h4v2h-4zM590 472h26v2h-26zM760 472h2v2h-2zM590 474h26v2h-26zM760 474h2v2h-2zM588 476h30v2h-30zM760 476h4v2h-4zM586 478h34v2h-34zM762 478h2v2h-2zM584 480h38v2h-38zM762 480h2v2h-2zM582 482h40v2h-40zM762 482h2v2h-2zM580 484h42v2h-42zM762 484h2v2h-2zM578 486h42v2h-42zM762 486h2v2h-2zM576 488h40v2h-40zM762 488h2v2h-2zM572 490h38v2h-38zM764 490h2v2h-2zM570 492h34v2h-34zM764 492h2v2h-2zM568 494h32v2h-32zM766 494h2v2h-2zM564 496h34v2h-34zM560 498h34v2h-34zM768 498h2v2h-2zM556 500h36v2h-36zM770 500h2v2h-2zM552 502h36v2h-36zM772 502h2v2h-2zM544 504h42v2h-42zM534 506h50v2h-50zM534 508h48v2h-48zM534 510h46v2h-46zM534 512h46v2h-46zM780 512h2v2h-2zM534 514h44v2h-44zM534 516h42v2h-42zM534 518h40v2h-40zM788 518h2v2h-2zM534 520h38v2h-38zM790 520h2v2h-2zM534 522h38v2h-38zM792 522h2v2h-2zM534 524h36v2h-36zM534 526h34v2h-34zM798 526h2v2h-2zM534 528h32v2h-32zM800 528h2v2h-2zM534 530h30v2h-30zM804 530h2v2h-2zM534 532h30v2h-30zM806 532h2v2h-2zM534 534h28v2h-28zM808 534h2v2h-2zM534 536h28v2h-28zM534 538h26v2h-26zM814 538h2v2h-2zM534 540h26v2h-26zM816 540h2v2h-2zM534 542h26v2h-26zM818 542h2v2h-2zM534 544h26v2h-26zM534 546h26v2h-26zM824 546h2v2h-2zM534 548h26v2h-26zM534 550h26v2h-26zM830 550h2v2h-2zM534 552h26v2h-26zM832 552h2v2h-2zM534 554h26v2h-26zM536 556h24v2h-24zM540 558h20v2h-20zM840 558h2v2h-2zM542 560h18v2h-18zM842 560h2v2h-2zM544 562h16v2h-16zM544 564h16v2h-16zM546 566h16v2h-16zM546 568h16v2h-16zM546 570h16v2h-16zM546 572h16v2h-16zM546 574h16v2h-16zM548 576h14v2h-14zM548 578h16v2h-16zM546 580h18v2h-18zM546 582h18v2h-18zM546 584h18v2h-18zM546 586h18v2h-18zM546 588h18v2h-18zM870 588h2v2h-2zM546 590h18v2h-18zM872 590h2v2h-2zM546 592h16v2h-16zM544 594h18v2h-18zM544 596h18v2h-18zM544 598h16v2h-16zM544 600h16v2h-16zM544 602h14v2h-14zM544 604h14v2h-14zM544 606h14v2h-14zM886 606h2v2h-2zM544 608h12v2h-12zM888 608h2v2h-2zM544 610h12v2h-12zM890 610h2v2h-2zM544 612h12v2h-12zM544 614h10v2h-10zM892 614h2v2h-2zM544 616h10v2h-10zM544 618h10v2h-10zM894 618h2v2h-2zM544 620h10v2h-10zM544 622h10v2h-10zM896 622h2v2h-2zM544 624h10v2h-10zM896 624h2v2h-2zM936 624h30v2h-30zM546 626h8v2h-8zM928 626h66v2h-66zM546 628h8v2h-8zM898 628h2v2h-2zM924 628h70v2h-70zM546 630h6v2h-6zM900 630h2v2h-2zM920 630h74v2h-74zM546 632h6v2h-6zM900 632h4v2h-4zM916 632h76v2h-76zM546 634h6v2h-6zM902 634h38v2h-38zM952 634h28v2h-28z"/>
<path fill="#ff3400" d="M674 428h20v2h-20zM668 430h30v2h-30zM664 432h38v2h-38zM660 434h18v2h-18zM686 434h18v2h-18zM654 436h16v2h-16zM694 436h12v2h-12zM648 438h16v2h-16zM698 438h8v2h-8zM642 440h16v2h-16zM700 440h8v2h-8zM636 442h18v2h-18zM702 442h6v2h-6zM626 444h22v2h-22zM704 444h4v2h-4zM620 446h24v2h-24zM706 446h4v2h-4zM616 448h24v2h-24zM706 448h4v2h-4zM614 450h22v2h-22zM706 450h4v2h-4zM612 452h22v2h-22zM708 452h4v2h-4zM612 454h20v2h-20zM708 454h4v2h-4zM610 456h22v2h-22zM708 456h4v2h-4zM610 458h22v2h-22zM710 458h2v2h-2zM610 460h24v2h-24zM710 460h4v2h-4zM610 462h26v2h-26zM712 462h2v2h-2zM610 464h30v2h-30zM712 464h6v2h-6zM738 464h14v2h-14zM612 466h34v2h-34zM716 466h38v2h-38zM612 468h40v2h-40zM752 468h4v2h-4zM614 470h42v2h-42zM754 470h4v2h-4zM616 472h46v2h-46zM756 472h4v2h-4zM616 474h48v2h-48zM756 474h4v2h-4zM618 476h48v2h-48zM758 476h2v2h-2zM620 478h48v2h-48zM758 478h4v2h-4zM622 480h46v2h-46zM760 480h2v2h-2zM622 482h46v2h-46zM760 482h2v2h-2zM622 484h46v2h-46zM760 484h2v2h-2zM620 486h46v2h-46zM760 486h2v2h-2zM616 488h50v2h-50zM610 490h54v2h-54zM762 490h2v2h-2zM604 492h58v2h-58zM600 494h62v2h-62zM764 494h2v2h-2zM598 496h62v2h-62zM766 496h2v2h-2zM594 498h66v2h-66zM592 500h66v2h-66zM588 502h68v2h-68zM770 502h2v2h-2zM586 504h70v2h-70zM772 504h2v2h-2zM584 506h70v2h-70zM774 506h2v2h-2zM582 508h70v2h-70zM776 508h2v2h-2zM580 510h72v2h-72zM778 510h2v2h-2zM580 512h70v2h-70zM578 514h72v2h-72zM782 514h2v2h-2zM576 516h72v2h-72zM784 516h2v2h-2zM574 518h72v2h-72zM786 518h2v2h-2zM572 520h72v2h-72zM572 522h70v2h-70zM570 524h70v2h-70zM794 524h2v2h-2zM568 526h68v2h-68zM796 526h2v2h-2zM566 528h66v2h-66zM564 530h60v2h-60zM802 530h2v2h-2zM564 532h48v2h-48zM804 532h2v2h-2zM562 534h42v2h-42zM562 536h40v2h-40zM810 536h2v2h-2zM560 538h38v2h-38zM812 538h2v2h-2zM560 540h36v2h-36zM560 542h32v2h-32zM560 544h30v2h-30zM820 544h2v2h-2zM560 546h26v2h-26zM560 548h24v2h-24zM826 548h2v2h-2zM560 550h22v2h-22zM560 552h20v2h-20zM560 554h18v2h-18zM834 554h2v2h-2zM560 556h16v2h-16zM836 556h2v2h-2zM560 558h16v2h-16zM560 560h16v2h-16zM560 562h16v2h-16zM844 562h2v2h-2zM560 564h14v2h-14zM846 564h2v2h-2zM562 566h14v2h-14zM848 566h2v2h-2zM562 568h14v2h-14zM850 568h2v2h-2zM562 570h14v2h-14zM852 570h2v2h-2zM562 572h14v2h-14zM854 572h2v2h-2zM562 574h14v2h-14zM856 574h2v2h-2zM562 576h14v2h-14zM858 576h2v2h-2zM564 578h14v2h-14zM860 578h2v2h-2zM564 580h14v2h-14zM862 580h2v2h-2zM564 582h14v2h-14zM864 582h2v2h-2zM564 584h14v2h-14zM866 584h2v2h-2zM564 586h14v2h-14zM868 586h2v2h-2zM564 588h14v2h-14zM564 590h12v2h-12zM562 592h14v2h-14zM562 594h12v2h-12zM874 594h2v2h-2zM562 596h12v2h-12zM876 596h2v2h-2zM560 598h12v2h-12zM878 598h2v2h-2zM560 600h12v2h-12zM880 600h2v2h-2zM558 602h12v2h-12zM882 602h2v2h-2zM558 604h10v2h-10zM884 604h2v2h-2zM558 606h8v2h-8zM556 608h10v2h-10zM556 610h8v2h-8zM888 610h2v2h-2zM556 612h8v2h-8zM890 612h2v2h-2zM554 614h8v2h-8zM554 616h8v2h-8zM892 616h2v2h-2zM554 618h8v2h-8zM554 620h6v2h-6zM894 620h2v2h-2zM554 622h6v2h-6zM894 622h2v2h-2zM554 624h6v2h-6zM554 626h6v2h-6zM896 626h2v2h-2zM554 628h6v2h-6zM552 630h8v2h-8zM898 630h2v2h-2zM552 632h8v2h-8zM898 632h2v2h-2zM992 632h2v2h-2zM552 634h6v2h-6zM900 634h2v2h-2zM940 634h12v2h-12zM980 634h14v2h-14z"/>
<path fill="#ff2900" d="M678 434h8v2h-8zM670 436h24v2h-24zM664 438h34v2h-34zM658 440h42v2h-42zM654 442h48v2h-48zM648 444h56v2h-56zM644 446h62v2h-62zM640 448h66v2h-66zM636 450h70v2h-70zM634 452h74v2h-74zM632 454h58v2h-58zM700 454h8v2h-8zM632 456h58v2h-58zM702 456h6v2h-6zM632 458h60v2h-60zM704 458h6v2h-6zM634 460h58v2h-58zM704 460h6v2h-6zM636 462h56v2h-56zM706 462h6v2h-6zM640 464h52v2h-52zM708 464h4v2h-4zM646 466h46v2h-46zM710 466h6v2h-6zM652 468h40v2h-40zM730 468h22v2h-22zM656 470h36v2h-36zM748 470h6v2h-6zM662 472h30v2h-30zM752 472h4v2h-4zM664 474h26v2h-26zM754 474h2v2h-2zM666 476h24v2h-24zM754 476h4v2h-4zM668 478h20v2h-20zM756 478h2v2h-2zM668 480h20v2h-20zM758 480h2v2h-2zM668 482h18v2h-18zM758 482h2v2h-2zM668 484h16v2h-16zM758 484h2v2h-2zM666 486h16v2h-16zM666 488h16v2h-16zM760 488h2v2h-2zM664 490h16v2h-16zM760 490h2v2h-2zM662 492h16v2h-16zM762 492h2v2h-2zM662 494h14v2h-14zM660 496h14v2h-14zM764 496h2v2h-2zM660 498h14v2h-14zM766 498h2v2h-2zM658 500h14v2h-14zM768 500h2v2h-2zM656 502h14v2h-14zM656 504h12v2h-12zM654 506h14v2h-14zM652 508h14v2h-14zM774 508h2v2h-2zM652 510h12v2h-12zM776 510h2v2h-2zM650 512h14v2h-14zM778 512h2v2h-2zM650 514h12v2h-12zM780 514h2v2h-2zM648 516h12v2h-12zM782 516h2v2h-2zM646 518h12v2h-12zM644 520h12v2h-12zM788 520h2v2h-2zM642 522h14v2h-14zM790 522h2v2h-2zM640 524h14v2h-14zM792 524h2v2h-2zM636 526h16v2h-16zM632 528h16v2h-16zM798 528h2v2h-2zM624 530h22v2h-22zM800 530h2v2h-2zM612 532h32v2h-32zM604 534h36v2h-36zM806 534h2v2h-2zM602 536h34v2h-34zM808 536h2v2h-2zM598 538h34v2h-34zM596 540h30v2h-30zM814 540h2v2h-2zM592 542h30v2h-30zM816 542h2v2h-2zM590 544h28v2h-28zM586 546h30v2h-30zM822 546h2v2h-2zM584 548h28v2h-28zM824 548h2v2h-2zM582 550h28v2h-28zM828 550h2v2h-2zM580 552h28v2h-28zM830 552h2v2h-2zM578 554h28v2h-28zM576 556h30v2h-30zM576 558h28v2h-28zM838 558h2v2h-2zM576 560h26v2h-26zM840 560h2v2h-2zM576 562h24v2h-24zM574 564h26v2h-26zM576 566h22v2h-22zM576 568h22v2h-22zM576 570h20v2h-20zM576 572h20v2h-20zM576 574h20v2h-20zM576 576h18v2h-18zM578 578h16v2h-16zM578 580h16v2h-16zM578 582h16v2h-16zM578 584h14v2h-14zM578 586h14v2h-14zM578 588h14v2h-14zM868 588h2v2h-2zM576 590h16v2h-16zM870 590h2v2h-2zM576 592h14v2h-14zM872 592h2v2h-2zM574 594h16v2h-16zM574 596h14v2h-14zM572 598h16v2h-16zM572 600h14v2h-14zM570 602h14v2h-14zM568 604h14v2h-14zM882 604h2v2h-2zM566 606h12v2h-12zM884 606h2v2h-2zM566 608h10v2h-10zM886 608h2v2h-2zM564 610h10v2h-10zM564 612h8v2h-8zM888 612h2v2h-2zM562 614h8v2h-8zM890 614h2v2h-2zM562 616h8v2h-8zM562 618h6v2h-6zM892 618h2v2h-2zM560 620h8v2h-8zM892 620h2v2h-2zM560 622h6v2h-6zM560 624h6v2h-6zM894 624h2v2h-2zM560 626h6v2h-6zM894 626h2v2h-2zM560 628h6v2h-6zM896 628h2v2h-2zM560 630h6v2h-6zM896 630h2v2h-2zM560 632h6v2h-6zM558 634h8v2h-8zM898 634h2v2h-2z"/>
<path fill="#ff1a00" d="M690 454h10v2h-10zM690 456h12v2h-12zM692 458h12v2h-12zM692 460h12v2h-12zM692 462h14v2h-14zM692 464h16v2h-16zM692 466h18v2h-18zM692 468h38v2h-38zM692 470h10v2h-10zM736 470h12v2h-12zM692 472h8v2h-8zM746 472h6v2h-6zM690 474h8v2h-8zM750 474h4v2h-4zM690 476h6v2h-6zM752 476h2v2h-2zM688 478h8v2h-8zM754 478h2v2h-2zM688 480h6v2h-6zM754 480h4v2h-4zM686 482h6v2h-6zM756 482h2v2h-2zM684 484h6v2h-6zM756 484h2v2h-2zM682 486h6v2h-6zM758 486h2v2h-2zM682 488h4v2h-4zM758 488h2v2h-2zM680 490h6v2h-6zM678 492h6v2h-6zM760 492h2v2h-2zM676 494h6v2h-6zM762 494h2v2h-2zM674 496h6v2h-6zM674 498h6v2h-6zM672 500h6v2h-6zM766 500h2v2h-2zM670 502h6v2h-6zM768 502h2v2h-2zM668 504h6v2h-6zM770 504h2v2h-2zM668 506h6v2h-6zM772 506h2v2h-2zM666 508h6v2h-6zM664 510h6v2h-6zM664 512h6v2h-6zM662 514h6v2h-6zM660 516h6v2h-6zM658 518h6v2h-6zM784 518h2v2h-2zM656 520h6v2h-6zM786 520h2v2h-2zM656 522h4v2h-4zM788 522h2v2h-2zM654 524h4v2h-4zM652 526h4v2h-4zM794 526h2v2h-2zM648 528h6v2h-6zM796 528h2v2h-2zM646 530h6v2h-6zM644 532h6v2h-6zM802 532h2v2h-2zM640 534h8v2h-8zM804 534h2v2h-2zM636 536h10v2h-10zM632 538h12v2h-12zM810 538h2v2h-2zM626 540h16v2h-16zM812 540h2v2h-2zM622 542h16v2h-16zM618 544h16v2h-16zM818 544h2v2h-2zM616 546h14v2h-14zM820 546h2v2h-2zM612 548h14v2h-14zM610 550h14v2h-14zM826 550h2v2h-2zM608 552h14v2h-14zM606 554h14v2h-14zM832 554h2v2h-2zM606 556h12v2h-12zM834 556h2v2h-2zM604 558h12v2h-12zM602 560h12v2h-12zM600 562h14v2h-14zM842 562h2v2h-2zM600 564h12v2h-12zM844 564h2v2h-2zM598 566h14v2h-14zM846 566h2v2h-2zM598 568h12v2h-12zM848 568h2v2h-2zM596 570h14v2h-14zM850 570h2v2h-2zM596 572h14v2h-14zM852 572h2v2h-2zM596 574h12v2h-12zM854 574h2v2h-2zM594 576h14v2h-14zM856 576h2v2h-2zM594 578h14v2h-14zM858 578h2v2h-2zM594 580h14v2h-14zM860 580h2v2h-2zM594 582h12v2h-12zM862 582h2v2h-2zM592 584h14v2h-14zM864 584h2v2h-2zM592 586h14v2h-14zM866 586h2v2h-2zM592 588h14v2h-14zM592 590h14v2h-14zM590 592h16v2h-16zM590 594h14v2h-14zM872 594h2v2h-2zM588 596h16v2h-16zM874 596h2v2h-2zM588 598h16v2h-16zM876 598h2v2h-2zM586 600h18v2h-18zM878 600h2v2h-2zM584 602h20v2h-20zM880 602h2v2h-2zM582 604h22v2h-22zM578 606h26v2h-26zM882 606h2v2h-2zM576 608h28v2h-28zM884 608h2v2h-2zM574 610h30v2h-30zM886 610h2v2h-2zM572 612h32v2h-32zM570 614h34v2h-34zM888 614h2v2h-2zM570 616h34v2h-34zM890 616h2v2h-2zM568 618h14v2h-14zM596 618h8v2h-8zM890 618h2v2h-2zM568 620h10v2h-10zM598 620h6v2h-6zM566 622h10v2h-10zM600 622h4v2h-4zM892 622h2v2h-2zM566 624h8v2h-8zM602 624h2v2h-2zM892 624h2v2h-2zM566 626h8v2h-8zM602 626h4v2h-4zM566 628h8v2h-8zM602 628h4v2h-4zM894 628h2v2h-2zM566 630h6v2h-6zM602 630h4v2h-4zM894 630h2v2h-2zM566 632h6v2h-6zM602 632h4v2h-4zM896 632h2v2h-2zM566 634h6v2h-6zM602 634h4v2h-4zM896 634h2v2h-2z"/>
<path fill="#f60b00" d="M702 470h34v2h-34zM700 472h4v2h-4zM736 472h10v2h-10zM698 474h4v2h-4zM744 474h6v2h-6zM696 476h4v2h-4zM746 476h6v2h-6zM696 478h2v2h-2zM750 478h4v2h-4zM694 480h2v2h-2zM752 480h2v2h-2zM692 482h4v2h-4zM754 482h2v2h-2zM690 484h4v2h-4zM754 484h2v2h-2zM688 486h4v2h-4zM756 486h2v2h-2zM686 488h4v2h-4zM686 490h2v2h-2zM758 490h2v2h-2zM684 492h2v2h-2zM682 494h4v2h-4zM760 494h2v2h-2zM680 496h4v2h-4zM762 496h2v2h-2zM680 498h2v2h-2zM764 498h2v2h-2zM678 500h4v2h-4zM676 502h4v2h-4zM674 504h4v2h-4zM674 506h2v2h-2zM770 506h2v2h-2zM672 508h4v2h-4zM772 508h2v2h-2zM670 510h4v2h-4zM774 510h2v2h-2zM670 512h2v2h-2zM776 512h2v2h-2zM668 514h4v2h-4zM778 514h2v2h-2zM666 516h4v2h-4zM780 516h2v2h-2zM664 518h4v2h-4zM782 518h2v2h-2zM662 520h4v2h-4zM784 520h2v2h-2zM660 522h4v2h-4zM658 524h4v2h-4zM790 524h2v2h-2zM656 526h4v2h-4zM792 526h2v2h-2zM654 528h4v2h-4zM794 528h2v2h-2zM652 530h4v2h-4zM798 530h2v2h-2zM650 532h4v2h-4zM800 532h2v2h-2zM648 534h4v2h-4zM646 536h4v2h-4zM806 536h2v2h-2zM644 538h4v2h-4zM808 538h2v2h-2zM642 540h4v2h-4zM638 542h6v2h-6zM814 542h2v2h-2zM634 544h8v2h-8zM816 544h2v2h-2zM630 546h10v2h-10zM626 548h12v2h-12zM822 548h2v2h-2zM624 550h10v2h-10zM824 550h2v2h-2zM622 552h10v2h-10zM828 552h2v2h-2zM620 554h10v2h-10zM830 554h2v2h-2zM618 556h10v2h-10zM616 558h10v2h-10zM836 558h2v2h-2zM614 560h10v2h-10zM838 560h2v2h-2zM614 562h8v2h-8zM840 562h2v2h-2zM612 564h10v2h-10zM612 566h8v2h-8zM610 568h10v2h-10zM610 570h10v2h-10zM610 572h8v2h-8zM608 574h10v2h-10zM608 576h10v2h-10zM608 578h10v2h-10zM608 580h10v2h-10zM606 582h12v2h-12zM606 584h12v2h-12zM606 586h12v2h-12zM606 588h12v2h-12zM866 588h2v2h-2zM606 590h12v2h-12zM868 590h2v2h-2zM606 592h14v2h-14zM870 592h2v2h-2zM604 594h16v2h-16zM604 596h16v2h-16zM604 598h16v2h-16zM874 598h2v2h-2zM604 600h16v2h-16zM876 600h2v2h-2zM604 602h18v2h-18zM878 602h2v2h-2zM604 604h18v2h-18zM880 604h2v2h-2zM604 606h18v2h-18zM880 606h2v2h-2zM604 608h18v2h-18zM882 608h2v2h-2zM604 610h18v2h-18zM884 610h2v2h-2zM604 612h18v2h-18zM886 612h2v2h-2zM604 614h18v2h-18zM886 614h2v2h-2zM604 616h18v2h-18zM888 616h2v2h-2zM582 618h14v2h-14zM604 618h18v2h-18zM888 618h2v2h-2zM578 620h20v2h-20zM604 620h20v2h-20zM890 620h2v2h-2zM576 622h24v2h-24zM604 622h20v2h-20zM890 622h2v2h-2zM574 624h28v2h-28zM604 624h20v2h-20zM890 624h2v2h-2zM574 626h28v2h-28zM606 626h18v2h-18zM892 626h2v2h-2zM574 628h28v2h-28zM606 628h18v2h-18zM892 628h2v2h-2zM572 630h30v2h-30zM606 630h18v2h-18zM572 632h30v2h-30zM606 632h18v2h-18zM894 632h2v2h-2zM572 634h30v2h-30zM606 634h18v2h-18zM894 634h2v2h-2z"/>
<path fill="#e80000" d="M704 472h32v2h-32zM702 474h4v2h-4zM736 474h8v2h-8zM700 476h2v2h-2zM742 476h4v2h-4zM698 478h4v2h-4zM746 478h4v2h-4zM696 480h4v2h-4zM748 480h4v2h-4zM696 482h2v2h-2zM750 482h4v2h-4zM694 484h2v2h-2zM752 484h2v2h-2zM692 486h2v2h-2zM754 486h2v2h-2zM690 488h2v2h-2zM756 488h2v2h-2zM688 490h4v2h-4zM756 490h2v2h-2zM686 492h4v2h-4zM758 492h2v2h-2zM686 494h2v2h-2zM684 496h2v2h-2zM682 498h4v2h-4zM762 498h2v2h-2zM682 500h2v2h-2zM764 500h2v2h-2zM680 502h2v2h-2zM766 502h2v2h-2zM678 504h2v2h-2zM768 504h2v2h-2zM676 506h4v2h-4zM676 508h2v2h-2zM674 510h2v2h-2zM772 510h2v2h-2zM672 512h4v2h-4zM774 512h2v2h-2zM672 514h2v2h-2zM776 514h2v2h-2zM670 516h2v2h-2zM778 516h2v2h-2zM668 518h4v2h-4zM780 518h2v2h-2zM666 520h4v2h-4zM664 522h4v2h-4zM786 522h2v2h-2zM662 524h4v2h-4zM788 524h2v2h-2zM660 526h2v2h-2zM790 526h2v2h-2zM658 528h2v2h-2zM656 530h2v2h-2zM796 530h2v2h-2zM654 532h2v2h-2zM798 532h2v2h-2zM652 534h2v2h-2zM802 534h2v2h-2zM650 536h2v2h-2zM804 536h2v2h-2zM648 538h2v2h-2zM806 538h2v2h-2zM646 540h4v2h-4zM810 540h2v2h-2zM644 542h4v2h-4zM812 542h2v2h-2zM642 544h4v2h-4zM814 544h2v2h-2zM640 546h4v2h-4zM818 546h2v2h-2zM638 548h6v2h-6zM820 548h2v2h-2zM634 550h8v2h-8zM632 552h8v2h-8zM826 552h2v2h-2zM630 554h8v2h-8zM628 556h8v2h-8zM832 556h2v2h-2zM626 558h8v2h-8zM834 558h2v2h-2zM624 560h8v2h-8zM836 560h2v2h-2zM622 562h8v2h-8zM622 564h8v2h-8zM842 564h2v2h-2zM620 566h8v2h-8zM844 566h2v2h-2zM620 568h8v2h-8zM846 568h2v2h-2zM620 570h8v2h-8zM848 570h2v2h-2zM618 572h10v2h-10zM850 572h2v2h-2zM618 574h10v2h-10zM852 574h2v2h-2zM618 576h10v2h-10zM854 576h2v2h-2zM618 578h10v2h-10zM856 578h2v2h-2zM618 580h10v2h-10zM858 580h2v2h-2zM618 582h10v2h-10zM860 582h2v2h-2zM618 584h12v2h-12zM862 584h2v2h-2zM618 586h12v2h-12zM864 586h2v2h-2zM618 588h14v2h-14zM618 590h14v2h-14zM620 592h14v2h-14zM868 592h2v2h-2zM620 594h14v2h-14zM870 594h2v2h-2zM620 596h16v2h-16zM872 596h2v2h-2zM620 598h16v2h-16zM620 600h18v2h-18zM874 600h2v2h-2zM622 602h16v2h-16zM876 602h2v2h-2zM622 604h16v2h-16zM878 604h2v2h-2zM622 606h16v2h-16zM878 606h2v2h-2zM622 608h16v2h-16zM880 608h2v2h-2zM622 610h14v2h-14zM880 610h4v2h-4zM622 612h14v2h-14zM882 612h4v2h-4zM622 614h14v2h-14zM882 614h4v2h-4zM622 616h14v2h-14zM884 616h4v2h-4zM622 618h14v2h-14zM884 618h4v2h-4zM624 620h10v2h-10zM886 620h4v2h-4zM624 622h10v2h-10zM888 622h2v2h-2zM624 624h10v2h-10zM888 624h2v2h-2zM624 626h10v2h-10zM890 626h2v2h-2zM624 628h10v2h-10zM890 628h2v2h-2zM624 630h10v2h-10zM892 630h2v2h-2zM624 632h10v2h-10zM892 632h2v2h-2zM624 634h10v2h-10zM892 634h2v2h-2z"/>
<path fill="#d60000" d="M706 474h12v2h-12zM726 474h10v2h-10zM702 476h4v2h-4zM736 476h6v2h-6zM702 478h2v2h-2zM740 478h6v2h-6zM700 480h2v2h-2zM744 480h4v2h-4zM698 482h2v2h-2zM746 482h4v2h-4zM696 484h2v2h-2zM750 484h2v2h-2zM694 486h4v2h-4zM752 486h2v2h-2zM692 488h4v2h-4zM754 488h2v2h-2zM692 490h2v2h-2zM754 490h2v2h-2zM690 492h2v2h-2zM756 492h2v2h-2zM688 494h2v2h-2zM758 494h2v2h-2zM686 496h2v2h-2zM760 496h2v2h-2zM686 498h2v2h-2zM684 500h2v2h-2zM762 500h2v2h-2zM682 502h2v2h-2zM764 502h2v2h-2zM680 504h4v2h-4zM766 504h2v2h-2zM680 506h2v2h-2zM768 506h2v2h-2zM678 508h2v2h-2zM770 508h2v2h-2zM676 510h4v2h-4zM676 512h2v2h-2zM674 514h2v2h-2zM774 514h2v2h-2zM672 516h2v2h-2zM776 516h2v2h-2zM672 518h2v2h-2zM778 518h2v2h-2zM670 520h2v2h-2zM782 520h2v2h-2zM668 522h2v2h-2zM784 522h2v2h-2zM666 524h2v2h-2zM786 524h2v2h-2zM662 526h4v2h-4zM788 526h2v2h-2zM660 528h4v2h-4zM790 528h4v2h-4zM658 530h4v2h-4zM794 530h2v2h-2zM656 532h4v2h-4zM796 532h2v2h-2zM654 534h4v2h-4zM800 534h2v2h-2zM652 536h2v2h-2zM802 536h2v2h-2zM650 538h4v2h-4zM804 538h2v2h-2zM650 540h2v2h-2zM808 540h2v2h-2zM648 542h2v2h-2zM810 542h2v2h-2zM646 544h4v2h-4zM812 544h2v2h-2zM644 546h4v2h-4zM816 546h2v2h-2zM644 548h2v2h-2zM818 548h2v2h-2zM642 550h4v2h-4zM822 550h2v2h-2zM640 552h4v2h-4zM824 552h2v2h-2zM638 554h4v2h-4zM828 554h2v2h-2zM636 556h6v2h-6zM830 556h2v2h-2zM634 558h6v2h-6zM832 558h2v2h-2zM632 560h6v2h-6zM834 560h2v2h-2zM630 562h8v2h-8zM838 562h2v2h-2zM630 564h8v2h-8zM840 564h2v2h-2zM628 566h8v2h-8zM842 566h2v2h-2zM628 568h8v2h-8zM844 568h2v2h-2zM628 570h8v2h-8zM846 570h2v2h-2zM628 572h8v2h-8zM848 572h2v2h-2zM628 574h8v2h-8zM850 574h2v2h-2zM628 576h8v2h-8zM852 576h2v2h-2zM628 578h10v2h-10zM854 578h2v2h-2zM628 580h10v2h-10zM856 580h2v2h-2zM628 582h12v2h-12zM858 582h2v2h-2zM630 584h12v2h-12zM860 584h2v2h-2zM630 586h12v2h-12zM862 586h2v2h-2zM632 588h12v2h-12zM864 588h2v2h-2zM632 590h12v2h-12zM866 590h2v2h-2zM634 592h10v2h-10zM866 592h2v2h-2zM634 594h12v2h-12zM868 594h2v2h-2zM636 596h10v2h-10zM870 596h2v2h-2zM636 598h10v2h-10zM870 598h4v2h-4zM638 600h6v2h-6zM872 600h2v2h-2zM638 602h6v2h-6zM870 602h6v2h-6zM638 604h6v2h-6zM810 604h14v2h-14zM866 604h12v2h-12zM638 606h6v2h-6zM804 606h74v2h-74zM638 608h6v2h-6zM808 608h72v2h-72zM636 610h8v2h-8zM814 610h66v2h-66zM636 612h8v2h-8zM822 612h60v2h-60zM636 614h6v2h-6zM830 614h52v2h-52zM636 616h6v2h-6zM840 616h44v2h-44zM636 618h6v2h-6zM848 618h36v2h-36zM634 620h8v2h-8zM856 620h30v2h-30zM634 622h6v2h-6zM864 622h24v2h-24zM634 624h6v2h-6zM872 624h16v2h-16zM634 626h6v2h-6zM880 626h10v2h-10zM634 628h6v2h-6zM884 628h6v2h-6zM634 630h6v2h-6zM888 630h4v2h-4zM634 632h6v2h-6zM888 632h4v2h-4zM634 634h6v2h-6zM890 634h2v2h-2z"/>
<path fill="#c80000" d="M718 474h8v2h-8zM706 476h30v2h-30zM704 478h4v2h-4zM734 478h6v2h-6zM702 480h4v2h-4zM738 480h6v2h-6zM700 482h4v2h-4zM742 482h4v2h-4zM698 484h4v2h-4zM746 484h4v2h-4zM698 486h2v2h-2zM748 486h4v2h-4zM696 488h2v2h-2zM750 488h4v2h-4zM694 490h2v2h-2zM752 490h2v2h-2zM692 492h4v2h-4zM754 492h2v2h-2zM690 494h4v2h-4zM756 494h2v2h-2zM688 496h4v2h-4zM758 496h2v2h-2zM688 498h2v2h-2zM758 498h4v2h-4zM686 500h2v2h-2zM760 500h2v2h-2zM684 502h4v2h-4zM762 502h2v2h-2zM684 504h2v2h-2zM764 504h2v2h-2zM682 506h2v2h-2zM766 506h2v2h-2zM680 508h4v2h-4zM768 508h2v2h-2zM680 510h2v2h-2zM768 510h4v2h-4zM678 512h2v2h-2zM770 512h4v2h-4zM676 514h4v2h-4zM772 514h2v2h-2zM674 516h4v2h-4zM774 516h2v2h-2zM674 518h2v2h-2zM776 518h2v2h-2zM672 520h2v2h-2zM778 520h4v2h-4zM670 522h4v2h-4zM780 522h4v2h-4zM668 524h4v2h-4zM784 524h2v2h-2zM666 526h4v2h-4zM786 526h2v2h-2zM664 528h4v2h-4zM788 528h2v2h-2zM662 530h2v2h-2zM790 530h4v2h-4zM660 532h2v2h-2zM792 532h4v2h-4zM658 534h2v2h-2zM796 534h4v2h-4zM654 536h4v2h-4zM798 536h4v2h-4zM654 538h2v2h-2zM802 538h2v2h-2zM652 540h2v2h-2zM804 540h4v2h-4zM650 542h4v2h-4zM806 542h4v2h-4zM650 544h2v2h-2zM810 544h2v2h-2zM648 546h4v2h-4zM812 546h4v2h-4zM646 548h4v2h-4zM816 548h2v2h-2zM646 550h2v2h-2zM818 550h4v2h-4zM644 552h4v2h-4zM820 552h4v2h-4zM642 554h4v2h-4zM824 554h4v2h-4zM642 556h4v2h-4zM826 556h4v2h-4zM640 558h4v2h-4zM830 558h2v2h-2zM638 560h6v2h-6zM832 560h2v2h-2zM638 562h6v2h-6zM834 562h4v2h-4zM638 564h4v2h-4zM838 564h2v2h-2zM636 566h6v2h-6zM840 566h2v2h-2zM636 568h6v2h-6zM842 568h2v2h-2zM636 570h6v2h-6zM844 570h2v2h-2zM636 572h6v2h-6zM846 572h2v2h-2zM636 574h8v2h-8zM848 574h2v2h-2zM636 576h8v2h-8zM850 576h2v2h-2zM638 578h6v2h-6zM852 578h2v2h-2zM638 580h8v2h-8zM854 580h2v2h-2zM640 582h6v2h-6zM856 582h2v2h-2zM642 584h6v2h-6zM858 584h2v2h-2zM642 586h6v2h-6zM860 586h2v2h-2zM644 588h4v2h-4zM860 588h4v2h-4zM644 590h6v2h-6zM862 590h4v2h-4zM644 592h6v2h-6zM864 592h2v2h-2zM646 594h4v2h-4zM864 594h4v2h-4zM646 596h4v2h-4zM786 596h32v2h-32zM862 596h8v2h-8zM646 598h4v2h-4zM782 598h88v2h-88zM644 600h4v2h-4zM778 600h94v2h-94zM644 602h4v2h-4zM776 602h94v2h-94zM644 604h4v2h-4zM776 604h34v2h-34zM824 604h42v2h-42zM644 606h4v2h-4zM776 606h28v2h-28zM644 608h4v2h-4zM778 608h30v2h-30zM644 610h4v2h-4zM782 610h32v2h-32zM644 612h2v2h-2zM786 612h36v2h-36zM642 614h4v2h-4zM794 614h36v2h-36zM642 616h4v2h-4zM804 616h36v2h-36zM642 618h4v2h-4zM814 618h34v2h-34zM642 620h4v2h-4zM822 620h34v2h-34zM640 622h6v2h-6zM832 622h32v2h-32zM640 624h4v2h-4zM840 624h32v2h-32zM640 626h4v2h-4zM848 626h32v2h-32zM640 628h4v2h-4zM858 628h26v2h-26zM640 630h4v2h-4zM866 630h22v2h-22zM640 632h4v2h-4zM874 632h14v2h-14zM640 634h4v2h-4zM882 634h8v2h-8z"/>
<path fill="#b60000" d="M708 478h26v2h-26zM706 480h32v2h-32zM704 482h12v2h-12zM730 482h12v2h-12zM702 484h8v2h-8zM736 484h10v2h-10zM700 486h8v2h-8zM740 486h8v2h-8zM698 488h8v2h-8zM744 488h6v2h-6zM696 490h8v2h-8zM748 490h4v2h-4zM696 492h6v2h-6zM750 492h4v2h-4zM694 494h6v2h-6zM752 494h4v2h-4zM692 496h6v2h-6zM754 496h4v2h-4zM690 498h6v2h-6zM754 498h4v2h-4zM688 500h6v2h-6zM756 500h4v2h-4zM688 502h4v2h-4zM758 502h4v2h-4zM686 504h4v2h-4zM760 504h4v2h-4zM684 506h4v2h-4zM760 506h6v2h-6zM684 508h4v2h-4zM762 508h6v2h-6zM682 510h4v2h-4zM764 510h4v2h-4zM680 512h4v2h-4zM766 512h4v2h-4zM680 514h4v2h-4zM766 514h6v2h-6zM678 516h4v2h-4zM768 516h6v2h-6zM676 518h4v2h-4zM770 518h6v2h-6zM674 520h6v2h-6zM772 520h6v2h-6zM674 522h4v2h-4zM774 522h6v2h-6zM672 524h4v2h-4zM774 524h10v2h-10zM670 526h6v2h-6zM776 526h10v2h-10zM668 528h6v2h-6zM778 528h10v2h-10zM664 530h8v2h-8zM780 530h10v2h-10zM662 532h8v2h-8zM782 532h10v2h-10zM660 534h8v2h-8zM784 534h12v2h-12zM658 536h10v2h-10zM786 536h12v2h-12zM656 538h8v2h-8zM788 538h14v2h-14zM654 540h8v2h-8zM792 540h12v2h-12zM654 542h6v2h-6zM794 542h12v2h-12zM652 544h6v2h-6zM796 544h14v2h-14zM652 546h6v2h-6zM798 546h14v2h-14zM650 548h6v2h-6zM802 548h14v2h-14zM648 550h6v2h-6zM804 550h14v2h-14zM648 552h6v2h-6zM808 552h12v2h-12zM646 554h6v2h-6zM812 554h12v2h-12zM646 556h6v2h-6zM816 556h10v2h-10zM644 558h6v2h-6zM818 558h12v2h-12zM644 560h6v2h-6zM822 560h10v2h-10zM644 562h6v2h-6zM826 562h8v2h-8zM642 564h6v2h-6zM830 564h8v2h-8zM642 566h6v2h-6zM832 566h8v2h-8zM642 568h6v2h-6zM834 568h8v2h-8zM642 570h8v2h-8zM836 570h8v2h-8zM642 572h8v2h-8zM838 572h8v2h-8zM644 574h6v2h-6zM840 574h8v2h-8zM644 576h8v2h-8zM842 576h8v2h-8zM644 578h8v2h-8zM844 578h8v2h-8zM646 580h6v2h-6zM846 580h8v2h-8zM646 582h8v2h-8zM846 582h10v2h-10zM648 584h6v2h-6zM846 584h12v2h-12zM648 586h6v2h-6zM792 586h8v2h-8zM846 586h14v2h-14zM648 588h8v2h-8zM782 588h44v2h-44zM840 588h20v2h-20zM650 590h6v2h-6zM776 590h86v2h-86zM650 592h6v2h-6zM772 592h92v2h-92zM650 594h6v2h-6zM770 594h94v2h-94zM650 596h6v2h-6zM766 596h20v2h-20zM818 596h44v2h-44zM650 598h6v2h-6zM764 598h18v2h-18zM648 600h8v2h-8zM762 600h16v2h-16zM648 602h8v2h-8zM762 602h14v2h-14zM648 604h6v2h-6zM760 604h16v2h-16zM648 606h6v2h-6zM760 606h16v2h-16zM648 608h6v2h-6zM760 608h18v2h-18zM648 610h6v2h-6zM762 610h20v2h-20zM646 612h8v2h-8zM762 612h24v2h-24zM646 614h8v2h-8zM764 614h30v2h-30zM646 616h6v2h-6zM766 616h38v2h-38zM646 618h6v2h-6zM768 618h46v2h-46zM646 620h6v2h-6zM772 620h50v2h-50zM646 622h6v2h-6zM778 622h54v2h-54zM644 624h6v2h-6zM784 624h56v2h-56zM644 626h6v2h-6zM792 626h56v2h-56zM644 628h6v2h-6zM802 628h56v2h-56zM644 630h6v2h-6zM812 630h54v2h-54zM644 632h6v2h-6zM818 632h56v2h-56zM644 634h6v2h-6zM826 634h56v2h-56z"/>
<path fill="#a40000" d="M716 482h14v2h-14zM710 484h26v2h-26zM708 486h32v2h-32zM706 488h38v2h-38zM704 490h44v2h-44zM702 492h48v2h-48zM700 494h52v2h-52zM698 496h56v2h-56zM696 498h20v2h-20zM728 498h26v2h-26zM694 500h16v2h-16zM734 500h22v2h-22zM692 502h14v2h-14zM738 502h20v2h-20zM690 504h14v2h-14zM740 504h20v2h-20zM688 506h12v2h-12zM744 506h16v2h-16zM688 508h10v2h-10zM746 508h16v2h-16zM686 510h10v2h-10zM748 510h16v2h-16zM684 512h10v2h-10zM750 512h16v2h-16zM684 514h8v2h-8zM752 514h14v2h-14zM682 516h10v2h-10zM752 516h16v2h-16zM680 518h10v2h-10zM754 518h16v2h-16zM680 520h8v2h-8zM756 520h16v2h-16zM678 522h10v2h-10zM758 522h16v2h-16zM676 524h10v2h-10zM760 524h14v2h-14zM676 526h10v2h-10zM760 526h16v2h-16zM674 528h10v2h-10zM762 528h16v2h-16zM672 530h12v2h-12zM764 530h16v2h-16zM670 532h14v2h-14zM766 532h16v2h-16zM668 534h16v2h-16zM768 534h16v2h-16zM668 536h18v2h-18zM768 536h18v2h-18zM664 538h22v2h-22zM770 538h18v2h-18zM662 540h26v2h-26zM772 540h20v2h-20zM660 542h30v2h-30zM772 542h22v2h-22zM658 544h32v2h-32zM774 544h22v2h-22zM658 546h34v2h-34zM774 546h24v2h-24zM656 548h38v2h-38zM774 548h28v2h-28zM654 550h42v2h-42zM774 550h30v2h-30zM654 552h44v2h-44zM774 552h34v2h-34zM652 554h48v2h-48zM774 554h38v2h-38zM652 556h52v2h-52zM772 556h44v2h-44zM650 558h60v2h-60zM770 558h48v2h-48zM650 560h68v2h-68zM768 560h54v2h-54zM650 562h76v2h-76zM764 562h62v2h-62zM648 564h94v2h-94zM756 564h74v2h-74zM648 566h184v2h-184zM648 568h186v2h-186zM650 570h186v2h-186zM650 572h188v2h-188zM650 574h190v2h-190zM652 576h190v2h-190zM652 578h192v2h-192zM652 580h194v2h-194zM654 582h192v2h-192zM654 584h192v2h-192zM654 586h138v2h-138zM800 586h46v2h-46zM656 588h126v2h-126zM826 588h14v2h-14zM656 590h120v2h-120zM656 592h116v2h-116zM656 594h114v2h-114zM656 596h110v2h-110zM656 598h108v2h-108zM656 600h106v2h-106zM656 602h106v2h-106zM654 604h106v2h-106zM654 606h106v2h-106zM654 608h106v2h-106zM654 610h108v2h-108zM654 612h108v2h-108zM654 614h110v2h-110zM652 616h114v2h-114zM652 618h116v2h-116zM652 620h120v2h-120zM652 622h126v2h-126zM650 624h134v2h-134zM650 626h142v2h-142zM650 628h152v2h-152zM650 630h162v2h-162zM650 632h168v2h-168zM650 634h176v2h-176z"/>
<path fill="#960000" d="M716 498h12v2h-12zM710 500h24v2h-24zM706 502h32v2h-32zM704 504h36v2h-36zM700 506h44v2h-44zM698 508h48v2h-48zM696 510h52v2h-52zM694 512h56v2h-56zM692 514h60v2h-60zM692 516h60v2h-60zM690 518h64v2h-64zM688 520h68v2h-68zM688 522h70v2h-70zM686 524h74v2h-74zM686 526h74v2h-74zM684 528h78v2h-78zM684 530h30v2h-30zM732 530h32v2h-32zM684 532h26v2h-26zM740 532h26v2h-26zM684 534h24v2h-24zM746 534h22v2h-22zM686 536h22v2h-22zM750 536h18v2h-18zM686 538h22v2h-22zM754 538h16v2h-16zM688 540h20v2h-20zM758 540h14v2h-14zM690 542h20v2h-20zM760 542h12v2h-12zM690 544h20v2h-20zM762 544h12v2h-12zM692 546h22v2h-22zM762 546h12v2h-12zM694 548h22v2h-22zM764 548h10v2h-10zM696 550h24v2h-24zM764 550h10v2h-10zM698 552h26v2h-26zM762 552h12v2h-12zM700 554h28v2h-28zM762 554h12v2h-12zM704 556h32v2h-32zM758 556h14v2h-14zM710 558h60v2h-60zM718 560h50v2h-50zM726 562h38v2h-38zM742 564h14v2h-14z"/>
<path fill="#840000" d="M714 530h18v2h-18zM710 532h30v2h-30zM708 534h38v2h-38zM708 536h42v2h-42zM708 538h46v2h-46zM708 540h50v2h-50zM710 542h50v2h-50zM710 544h22v2h-22zM742 544h20v2h-20zM714 546h20v2h-20zM744 546h18v2h-18zM716 548h48v2h-48zM720 550h44v2h-44zM724 552h38v2h-38zM728 554h34v2h-34zM736 556h22v2h-22z"/>
<path fill="#800000" d="M732 544h10v2h-10zM734 546h10v2h-10z"/>
</g>
<clipPath id="c2"><polygon points="513.1,658.8 554.3,666.3 608.6,675.8 662.9,685.3 717.2,694.8 771.4,703.7 825.7,713.0 871.8,720.5 843.7,865.7 807.9,860.9 750.7,852.9 693.6,843.7 636.4,834.3 579.3,823.7 522.1,812.9 475.0,802.0"/></clipPath>
<g clip-path="url(#c2)" shape-rendering="crispEdges">
<path fill="#0000bb" d="M738 780h2v2h-2z"/>
<path fill="#0000cd" d="M736 778h4v2h-4z"/>
<path fill="#0000da" d="M736 780h2v2h-2z"/>
<path fill="#0000ff" d="M740 780h2v2h-2z"/>
<path fill="#0028ff" d="M738 782h2v2h-2z"/>
<path fill="#0044ff" d="M734 778h2v2h-2zM740 782h2v2h-2z"/>
<path fill="#0054ff" d="M740 778h2v2h-2z"/>
<path fill="#0060ff" d="M736 776h2v2h-2z"/>
<path fill="#009cff" d="M734 780h2v2h-2zM736 782h2v2h-2z"/>
<path fill="#00a8ff" d="M738 776h2v2h-2z"/>
<path fill="#00b8ff" d="M734 776h2v2h-2z"/>
<path fill="#00c4ff" d="M742 780h2v2h-2zM742 782h2v2h-2z"/>
<path fill="#16ffe1" d="M740 784h2v2h-2z"/>
<path fill="#1fffd7" d="M760 770h2v2h-2z"/>
<path fill="#2cffca" d="M762 770h2v2h-2zM738 784h2v2h-2zM742 784h2v2h-2zM754 790h2v2h-2z"/>
<path fill="#39ffbe" d="M760 768h2v2h-2zM758 770h2v2h-2zM742 778h2v2h-2zM754 792h2v2h-2z"/>
<path fill="#43ffb4" d="M762 768h2v2h-2zM740 776h2v2h-2zM752 790h2v2h-2z"/>
<path fill="#50ffa7" d="M758 768h2v2h-2zM760 772h2v2h-2zM744 782h2v2h-2zM756 790h2v2h-2zM752 792h2v2h-2z"/>
<path fill="#5aff9d" d="M762 772h2v2h-2zM732 778h2v2h-2zM734 782h2v2h-2zM744 784h2v2h-2zM756 792h2v2h-2z"/>
<path fill="#66ff90" d="M756 770h2v2h-2zM764 770h2v2h-2zM758 772h2v2h-2zM744 780h2v2h-2z"/>
<path fill="#73ff83" d="M764 768h2v2h-2zM736 774h2v2h-2zM732 776h2v2h-2zM736 784h2v2h-2zM740 786h4v2h-4zM754 788h2v2h-2z"/>
<path fill="#7dff7a" d="M756 768h2v2h-2zM756 772h2v2h-2zM764 772h2v2h-2zM744 786h2v2h-2zM750 790h2v2h-2z"/>
<path fill="#8aff6d" d="M760 766h4v2h-4zM734 774h2v2h-2zM738 774h2v2h-2zM732 780h2v2h-2zM746 782h2v2h-2zM746 784h2v2h-2zM738 786h2v2h-2zM752 788h2v2h-2zM756 788h2v2h-2zM758 790h2v2h-2zM750 792h2v2h-2z"/>
<path fill="#94ff63" d="M758 766h2v2h-2zM754 770h2v2h-2zM766 770h2v2h-2zM760 774h2v2h-2zM742 776h2v2h-2zM744 778h2v2h-2zM746 786h2v2h-2zM758 792h2v2h-2zM754 794h2v2h-2z"/>
<path fill="#a0ff56" d="M756 766h2v2h-2zM754 768h2v2h-2zM766 768h2v2h-2zM752 770h2v2h-2zM754 772h2v2h-2zM758 774h2v2h-2zM762 774h2v2h-2zM746 780h2v2h-2zM742 788h4v2h-4zM750 788h2v2h-2zM752 794h2v2h-2zM756 794h2v2h-2z"/>
<path fill="#aaff4d" d="M502 714h6v2h-6zM728 730h2v2h-2zM732 736h2v2h-2zM734 746h2v2h-2zM736 750h2v2h-2zM738 754h2v2h-2zM740 756h2v2h-2zM742 758h2v2h-2zM764 766h2v2h-2zM750 768h4v2h-4zM748 770h4v2h-4zM748 772h6v2h-6zM766 772h2v2h-2zM740 774h2v2h-2zM754 774h4v2h-4zM764 774h2v2h-2zM744 776h2v2h-2zM746 778h2v2h-2zM748 782h2v2h-2zM734 784h2v2h-2zM748 784h2v2h-2zM736 786h2v2h-2zM748 786h2v2h-2zM740 788h2v2h-2zM746 788h4v2h-4zM758 788h2v2h-2zM748 790h2v2h-2z"/>
<path fill="#b7ff40" d="M502 712h8v2h-8zM498 714h4v2h-4zM508 714h4v2h-4zM498 716h10v2h-10zM730 732h2v2h-2zM732 734h2v2h-2zM732 738h2v2h-2zM732 742h2v2h-2zM734 744h2v2h-2zM736 748h2v2h-2zM736 752h2v2h-2zM744 758h2v2h-2zM742 760h4v2h-4zM752 766h4v2h-4zM746 768h4v2h-4zM744 770h4v2h-4zM744 772h4v2h-4zM742 774h12v2h-12zM746 776h6v2h-6zM748 778h2v2h-2zM748 780h2v2h-2zM758 782h4v2h-4zM750 784h2v2h-2zM756 784h6v2h-6zM750 786h10v2h-10zM738 788h2v2h-2zM744 790h4v2h-4zM760 790h2v2h-2zM748 792h2v2h-2zM750 794h2v2h-2z"/>
<path fill="#c4ff33" d="M604 686h4v2h-4zM498 712h4v2h-4zM510 712h4v2h-4zM496 714h2v2h-2zM512 714h2v2h-2zM496 716h2v2h-2zM508 716h2v2h-2zM730 734h2v2h-2zM732 740h2v2h-2zM732 744h2v2h-2zM738 752h2v2h-2zM740 754h2v2h-2zM742 756h2v2h-2zM740 758h2v2h-2zM756 764h8v2h-8zM746 766h6v2h-6zM766 766h2v2h-2zM744 768h2v2h-2zM742 770h2v2h-2zM768 770h2v2h-2zM740 772h4v2h-4zM732 774h2v2h-2zM766 774h2v2h-2zM752 776h12v2h-12zM750 778h12v2h-12zM750 780h14v2h-14zM732 782h2v2h-2zM750 782h8v2h-8zM762 782h2v2h-2zM752 784h4v2h-4zM762 784h2v2h-2zM760 786h4v2h-4zM760 788h2v2h-2zM742 790h2v2h-2zM760 792h2v2h-2zM758 794h2v2h-2z"/>
<path fill="#ceff29" d="M582 692h12v2h-12zM566 694h14v2h-14zM502 710h12v2h-12zM496 712h2v2h-2zM514 712h8v2h-8zM494 714h2v2h-2zM514 714h4v2h-4zM494 716h2v2h-2zM510 716h4v2h-4zM496 718h12v2h-12zM728 732h2v2h-2zM730 740h2v2h-2zM736 746h2v2h-2zM734 748h2v2h-2zM736 754h2v2h-2zM738 756h2v2h-2zM744 762h2v2h-2zM746 764h10v2h-10zM764 764h2v2h-2zM744 766h2v2h-2zM742 768h2v2h-2zM768 768h2v2h-2zM740 770h2v2h-2zM736 772h4v2h-4zM768 772h2v2h-2zM764 776h2v2h-2zM762 778h4v2h-4zM764 780h2v2h-2zM764 782h4v2h-4zM764 784h4v2h-4zM764 786h2v2h-2zM736 788h2v2h-2zM762 788h2v2h-2zM740 790h2v2h-2zM762 790h2v2h-2zM744 792h4v2h-4zM748 794h2v2h-2zM752 796h4v2h-4z"/>
<path fill="#dbff1c" d="M574 692h8v2h-8zM594 692h2v2h-2zM564 694h2v2h-2zM580 694h10v2h-10zM564 696h10v2h-10zM540 706h14v2h-14zM526 708h28v2h-28zM498 710h4v2h-4zM514 710h32v2h-32zM494 712h2v2h-2zM522 712h12v2h-12zM492 714h2v2h-2zM518 714h4v2h-4zM492 716h2v2h-2zM514 716h2v2h-2zM494 718h2v2h-2zM508 718h2v2h-2zM730 730h2v2h-2zM730 738h2v2h-2zM730 742h2v2h-2zM746 758h2v2h-2zM746 760h2v2h-2zM742 762h2v2h-2zM746 762h16v2h-16zM742 764h4v2h-4zM766 764h2v2h-2zM742 766h2v2h-2zM768 766h2v2h-2zM740 768h2v2h-2zM738 770h2v2h-2zM734 772h2v2h-2zM768 774h2v2h-2zM766 776h4v2h-4zM766 778h4v2h-4zM766 780h4v2h-4zM768 782h2v2h-2zM768 784h2v2h-2zM734 786h2v2h-2zM766 786h4v2h-4zM764 788h6v2h-6zM772 788h4v2h-4zM738 790h2v2h-2zM764 790h4v2h-4zM774 790h4v2h-4zM740 792h4v2h-4zM762 792h4v2h-4zM746 794h2v2h-2zM760 794h2v2h-2zM750 796h2v2h-2zM756 796h4v2h-4z"/>
<path fill="#e4ff13" d="M604 684h4v2h-4zM602 686h2v2h-2zM608 686h2v2h-2zM604 688h4v2h-4zM588 690h8v2h-8zM568 692h6v2h-6zM590 694h6v2h-6zM574 696h4v2h-4zM544 704h10v2h-10zM528 706h12v2h-12zM554 706h2v2h-2zM500 708h26v2h-26zM554 708h2v2h-2zM492 710h6v2h-6zM546 710h8v2h-8zM472 712h6v2h-6zM490 712h4v2h-4zM534 712h8v2h-8zM472 714h10v2h-10zM490 714h2v2h-2zM522 714h6v2h-6zM472 716h8v2h-8zM490 716h2v2h-2zM516 716h4v2h-4zM490 718h4v2h-4zM510 718h4v2h-4zM494 720h12v2h-12zM732 732h2v2h-2zM730 736h2v2h-2zM734 742h2v2h-2zM734 750h2v2h-2zM738 750h2v2h-2zM744 756h2v2h-2zM740 760h2v2h-2zM748 760h14v2h-14zM762 762h4v2h-4zM740 764h2v2h-2zM740 766h2v2h-2zM738 768h2v2h-2zM770 768h2v2h-2zM736 770h2v2h-2zM770 770h2v2h-2zM770 772h2v2h-2zM770 774h2v2h-2zM730 776h2v2h-2zM770 776h2v2h-2zM730 778h2v2h-2zM770 778h2v2h-2zM770 780h4v2h-4zM770 782h4v2h-4zM732 784h2v2h-2zM770 784h4v2h-4zM770 786h4v2h-4zM770 788h2v2h-2zM776 788h2v2h-2zM736 790h2v2h-2zM768 790h6v2h-6zM778 790h2v2h-2zM738 792h2v2h-2zM766 792h4v2h-4zM742 794h4v2h-4zM762 794h6v2h-6zM744 796h6v2h-6zM760 796h6v2h-6zM748 798h12v2h-12z"/>
<path fill="#f1fc06" d="M578 690h10v2h-10zM564 692h4v2h-4zM596 692h2v2h-2zM562 694h2v2h-2zM562 696h2v2h-2zM578 696h8v2h-8zM564 698h8v2h-8zM472 702h18v2h-18zM546 702h8v2h-8zM472 704h26v2h-26zM530 704h14v2h-14zM554 704h2v2h-2zM472 706h56v2h-56zM556 706h2v2h-2zM472 708h28v2h-28zM472 710h20v2h-20zM554 710h2v2h-2zM478 712h12v2h-12zM542 712h8v2h-8zM482 714h8v2h-8zM528 714h8v2h-8zM480 716h10v2h-10zM520 716h6v2h-6zM472 718h18v2h-18zM514 718h4v2h-4zM472 720h22v2h-22zM506 720h6v2h-6zM472 722h32v2h-32zM472 724h22v2h-22zM472 726h16v2h-16zM728 728h2v2h-2zM726 730h2v2h-2zM734 736h2v2h-2zM732 746h2v2h-2zM742 754h2v2h-2zM752 756h6v2h-6zM738 758h2v2h-2zM748 758h16v2h-16zM762 760h4v2h-4zM740 762h2v2h-2zM766 762h2v2h-2zM768 764h2v2h-2zM738 766h2v2h-2zM770 766h2v2h-2zM874 766h2v2h-2zM736 768h2v2h-2zM872 768h4v2h-4zM772 770h2v2h-2zM872 770h4v2h-4zM732 772h2v2h-2zM772 772h2v2h-2zM872 772h4v2h-4zM772 774h2v2h-2zM772 776h2v2h-2zM772 778h2v2h-2zM730 780h2v2h-2zM774 782h2v2h-2zM774 784h2v2h-2zM774 786h2v2h-2zM734 788h2v2h-2zM770 792h4v2h-4zM740 794h2v2h-2zM768 794h2v2h-2zM742 796h2v2h-2zM766 796h4v2h-4zM744 798h4v2h-4zM760 798h6v2h-6zM748 800h14v2h-14z"/>
<path fill="#feed00" d="M602 684h2v2h-2zM608 684h2v2h-2zM602 688h2v2h-2zM608 688h2v2h-2zM572 690h6v2h-6zM596 690h2v2h-2zM562 692h2v2h-2zM560 694h2v2h-2zM596 694h2v2h-2zM472 696h20v2h-20zM560 696h2v2h-2zM586 696h8v2h-8zM472 698h36v2h-36zM540 698h14v2h-14zM560 698h4v2h-4zM572 698h6v2h-6zM472 700h86v2h-86zM562 700h8v2h-8zM490 702h56v2h-56zM554 702h4v2h-4zM498 704h32v2h-32zM556 704h4v2h-4zM556 708h2v2h-2zM556 710h2v2h-2zM550 712h4v2h-4zM536 714h8v2h-8zM526 716h8v2h-8zM518 718h6v2h-6zM512 720h6v2h-6zM504 722h8v2h-8zM494 724h14v2h-14zM488 726h16v2h-16zM472 728h28v2h-28zM472 730h24v2h-24zM472 732h16v2h-16zM734 734h2v2h-2zM736 744h2v2h-2zM738 748h2v2h-2zM740 752h2v2h-2zM752 754h12v2h-12zM868 754h8v2h-8zM746 756h6v2h-6zM758 756h8v2h-8zM864 756h12v2h-12zM764 758h4v2h-4zM862 758h14v2h-14zM766 760h4v2h-4zM860 760h16v2h-16zM768 762h4v2h-4zM860 762h16v2h-16zM738 764h2v2h-2zM770 764h2v2h-2zM858 764h18v2h-18zM736 766h2v2h-2zM772 766h2v2h-2zM858 766h16v2h-16zM772 768h2v2h-2zM858 768h14v2h-14zM734 770h2v2h-2zM858 770h14v2h-14zM856 772h16v2h-16zM730 774h2v2h-2zM774 774h2v2h-2zM856 774h20v2h-20zM774 776h2v2h-2zM856 776h20v2h-20zM774 778h2v2h-2zM856 778h20v2h-20zM774 780h2v2h-2zM856 780h20v2h-20zM730 782h2v2h-2zM856 782h20v2h-20zM854 784h22v2h-22zM732 786h2v2h-2zM776 786h2v2h-2zM856 786h20v2h-20zM778 788h2v2h-2zM856 788h20v2h-20zM734 790h2v2h-2zM856 790h16v2h-16zM736 792h2v2h-2zM774 792h4v2h-4zM858 792h8v2h-8zM738 794h2v2h-2zM770 794h2v2h-2zM738 796h4v2h-4zM770 796h2v2h-2zM740 798h4v2h-4zM766 798h4v2h-4zM744 800h4v2h-4zM762 800h4v2h-4zM748 802h14v2h-14z"/>
<path fill="#ffe200" d="M600 686h2v2h-2zM610 686h2v2h-2zM582 688h14v2h-14zM538 690h16v2h-16zM562 690h10v2h-10zM472 692h34v2h-34zM520 692h42v2h-42zM472 694h88v2h-88zM492 696h68v2h-68zM594 696h2v2h-2zM508 698h32v2h-32zM554 698h6v2h-6zM578 698h10v2h-10zM558 700h4v2h-4zM570 700h12v2h-12zM558 702h20v2h-20zM560 704h14v2h-14zM558 706h10v2h-10zM558 708h4v2h-4zM558 710h2v2h-2zM554 712h4v2h-4zM544 714h10v2h-10zM534 716h10v2h-10zM524 718h10v2h-10zM518 720h10v2h-10zM512 722h12v2h-12zM508 724h12v2h-12zM504 726h12v2h-12zM500 728h12v2h-12zM856 728h4v2h-4zM496 730h14v2h-14zM854 730h6v2h-6zM488 732h18v2h-18zM854 732h8v2h-8zM472 734h28v2h-28zM854 734h8v2h-8zM472 736h20v2h-20zM854 736h8v2h-8zM734 738h2v2h-2zM852 738h10v2h-10zM852 740h10v2h-10zM852 742h10v2h-10zM730 744h2v2h-2zM760 744h2v2h-2zM852 744h12v2h-12zM758 746h8v2h-8zM850 746h22v2h-22zM756 748h10v2h-10zM850 748h26v2h-26zM754 750h14v2h-14zM850 750h26v2h-26zM734 752h2v2h-2zM750 752h18v2h-18zM848 752h28v2h-28zM744 754h8v2h-8zM764 754h6v2h-6zM848 754h20v2h-20zM736 756h2v2h-2zM766 756h4v2h-4zM848 756h16v2h-16zM768 758h4v2h-4zM846 758h16v2h-16zM738 760h2v2h-2zM770 760h2v2h-2zM846 760h14v2h-14zM738 762h2v2h-2zM772 762h2v2h-2zM846 762h14v2h-14zM736 764h2v2h-2zM772 764h2v2h-2zM846 764h12v2h-12zM846 766h12v2h-12zM734 768h2v2h-2zM774 768h2v2h-2zM846 768h12v2h-12zM732 770h2v2h-2zM774 770h2v2h-2zM844 770h14v2h-14zM774 772h2v2h-2zM844 772h12v2h-12zM844 774h12v2h-12zM844 776h12v2h-12zM776 778h2v2h-2zM844 778h12v2h-12zM776 780h2v2h-2zM844 780h12v2h-12zM776 782h2v2h-2zM844 782h12v2h-12zM730 784h2v2h-2zM776 784h2v2h-2zM844 784h10v2h-10zM844 786h12v2h-12zM732 788h2v2h-2zM844 788h12v2h-12zM780 790h2v2h-2zM844 790h12v2h-12zM872 790h4v2h-4zM734 792h2v2h-2zM778 792h2v2h-2zM844 792h14v2h-14zM866 792h10v2h-10zM736 794h2v2h-2zM772 794h2v2h-2zM844 794h32v2h-32zM736 796h2v2h-2zM772 796h2v2h-2zM844 796h32v2h-32zM738 798h2v2h-2zM770 798h2v2h-2zM844 798h32v2h-32zM740 800h4v2h-4zM766 800h4v2h-4zM844 800h30v2h-30zM742 802h6v2h-6zM762 802h4v2h-4zM844 802h22v2h-22zM746 804h16v2h-16zM844 804h16v2h-16zM844 806h12v2h-12zM844 808h10v2h-10zM844 810h8v2h-8zM844 812h8v2h-8zM844 814h6v2h-6zM844 816h6v2h-6zM844 818h6v2h-6zM844 820h4v2h-4zM522 822h8v2h-8zM844 822h4v2h-4zM520 824h16v2h-16zM682 824h4v2h-4zM518 826h20v2h-20zM518 828h22v2h-22zM518 830h24v2h-24zM518 832h24v2h-24zM520 834h20v2h-20zM522 836h16v2h-16zM472 858h6v2h-6zM472 860h10v2h-10zM472 862h8v2h-8z"/>
<path fill="#ffd300" d="M622 656h74v2h-74zM622 658h74v2h-74zM622 660h74v2h-74zM622 662h74v2h-74zM624 664h72v2h-72zM626 666h70v2h-70zM630 668h66v2h-66zM680 670h14v2h-14zM706 680h22v2h-22zM602 682h6v2h-6zM706 682h28v2h-28zM600 684h2v2h-2zM610 684h2v2h-2zM706 684h30v2h-30zM526 686h38v2h-38zM590 686h6v2h-6zM598 686h2v2h-2zM706 686h32v2h-32zM472 688h110v2h-110zM596 688h6v2h-6zM610 688h2v2h-2zM708 688h32v2h-32zM472 690h66v2h-66zM554 690h8v2h-8zM598 690h10v2h-10zM708 690h32v2h-32zM506 692h14v2h-14zM598 692h2v2h-2zM710 692h32v2h-32zM598 694h2v2h-2zM712 694h30v2h-30zM596 696h2v2h-2zM716 696h24v2h-24zM588 698h8v2h-8zM720 698h18v2h-18zM582 700h12v2h-12zM578 702h12v2h-12zM574 704h12v2h-12zM568 706h14v2h-14zM562 708h16v2h-16zM560 710h12v2h-12zM558 712h8v2h-8zM554 714h6v2h-6zM544 716h10v2h-10zM534 718h12v2h-12zM528 720h12v2h-12zM524 722h12v2h-12zM520 724h12v2h-12zM854 724h8v2h-8zM516 726h12v2h-12zM756 726h8v2h-8zM852 726h12v2h-12zM512 728h12v2h-12zM730 728h2v2h-2zM756 728h10v2h-10zM850 728h6v2h-6zM860 728h4v2h-4zM510 730h12v2h-12zM754 730h14v2h-14zM850 730h4v2h-4zM860 730h6v2h-6zM506 732h12v2h-12zM754 732h14v2h-14zM848 732h6v2h-6zM862 732h4v2h-4zM500 734h14v2h-14zM728 734h2v2h-2zM754 734h16v2h-16zM848 734h6v2h-6zM862 734h4v2h-4zM492 736h18v2h-18zM754 736h16v2h-16zM848 736h6v2h-6zM862 736h6v2h-6zM472 738h32v2h-32zM752 738h20v2h-20zM846 738h6v2h-6zM862 738h8v2h-8zM472 740h24v2h-24zM734 740h2v2h-2zM752 740h20v2h-20zM846 740h6v2h-6zM862 740h14v2h-14zM752 742h20v2h-20zM846 742h6v2h-6zM862 742h14v2h-14zM752 744h8v2h-8zM762 744h12v2h-12zM844 744h8v2h-8zM864 744h12v2h-12zM738 746h2v2h-2zM750 746h8v2h-8zM766 746h8v2h-8zM844 746h6v2h-6zM872 746h4v2h-4zM750 748h6v2h-6zM766 748h8v2h-8zM842 748h8v2h-8zM748 750h6v2h-6zM768 750h6v2h-6zM842 750h8v2h-8zM746 752h4v2h-4zM768 752h8v2h-8zM842 752h6v2h-6zM770 754h6v2h-6zM842 754h6v2h-6zM770 756h6v2h-6zM842 756h6v2h-6zM772 758h4v2h-4zM842 758h4v2h-4zM772 760h4v2h-4zM842 760h4v2h-4zM736 762h2v2h-2zM774 762h2v2h-2zM842 762h4v2h-4zM774 764h2v2h-2zM842 764h4v2h-4zM734 766h2v2h-2zM774 766h2v2h-2zM842 766h4v2h-4zM732 768h2v2h-2zM842 768h4v2h-4zM842 770h2v2h-2zM730 772h2v2h-2zM776 772h2v2h-2zM842 772h2v2h-2zM776 774h2v2h-2zM842 774h2v2h-2zM776 776h2v2h-2zM842 776h2v2h-2zM728 778h2v2h-2zM842 778h2v2h-2zM842 780h2v2h-2zM842 782h2v2h-2zM842 784h2v2h-2zM730 786h2v2h-2zM778 786h2v2h-2zM842 786h2v2h-2zM842 788h2v2h-2zM732 790h2v2h-2zM842 790h2v2h-2zM732 792h2v2h-2zM842 792h2v2h-2zM734 794h2v2h-2zM774 794h2v2h-2zM842 794h2v2h-2zM734 796h2v2h-2zM842 796h2v2h-2zM736 798h2v2h-2zM772 798h2v2h-2zM842 798h2v2h-2zM510 800h16v2h-16zM736 800h4v2h-4zM770 800h2v2h-2zM842 800h2v2h-2zM874 800h2v2h-2zM508 802h28v2h-28zM546 802h16v2h-16zM738 802h4v2h-4zM766 802h4v2h-4zM842 802h2v2h-2zM866 802h10v2h-10zM508 804h64v2h-64zM738 804h8v2h-8zM762 804h4v2h-4zM842 804h2v2h-2zM860 804h16v2h-16zM508 806h68v2h-68zM740 806h22v2h-22zM842 806h2v2h-2zM856 806h20v2h-20zM508 808h72v2h-72zM744 808h12v2h-12zM842 808h2v2h-2zM854 808h22v2h-22zM508 810h74v2h-74zM842 810h2v2h-2zM852 810h24v2h-24zM508 812h76v2h-76zM842 812h2v2h-2zM852 812h12v2h-12zM508 814h78v2h-78zM842 814h2v2h-2zM850 814h10v2h-10zM508 816h80v2h-80zM842 816h2v2h-2zM850 816h8v2h-8zM506 818h84v2h-84zM842 818h2v2h-2zM850 818h6v2h-6zM506 820h84v2h-84zM842 820h2v2h-2zM848 820h6v2h-6zM506 822h16v2h-16zM530 822h60v2h-60zM682 822h4v2h-4zM706 822h2v2h-2zM842 822h2v2h-2zM848 822h6v2h-6zM504 824h16v2h-16zM536 824h54v2h-54zM680 824h2v2h-2zM704 824h4v2h-4zM842 824h10v2h-10zM504 826h14v2h-14zM538 826h48v2h-48zM682 826h2v2h-2zM704 826h2v2h-2zM844 826h6v2h-6zM502 828h16v2h-16zM540 828h38v2h-38zM702 828h4v2h-4zM728 828h6v2h-6zM502 830h16v2h-16zM542 830h32v2h-32zM702 830h2v2h-2zM724 830h12v2h-12zM500 832h18v2h-18zM542 832h30v2h-30zM700 832h4v2h-4zM722 832h16v2h-16zM500 834h20v2h-20zM540 834h32v2h-32zM698 834h4v2h-4zM722 834h18v2h-18zM498 836h24v2h-24zM538 836h32v2h-32zM698 836h4v2h-4zM720 836h22v2h-22zM494 838h76v2h-76zM696 838h4v2h-4zM720 838h24v2h-24zM490 840h80v2h-80zM694 840h6v2h-6zM718 840h28v2h-28zM472 842h98v2h-98zM694 842h4v2h-4zM718 842h30v2h-30zM472 844h96v2h-96zM716 844h34v2h-34zM472 846h96v2h-96zM716 846h36v2h-36zM472 848h96v2h-96zM716 848h38v2h-38zM472 850h96v2h-96zM714 850h42v2h-42zM472 852h96v2h-96zM714 852h44v2h-44zM472 854h96v2h-96zM714 854h46v2h-46zM472 856h96v2h-96zM714 856h46v2h-46zM478 858h90v2h-90zM714 858h48v2h-48zM482 860h86v2h-86zM714 860h48v2h-48zM480 862h88v2h-88zM714 862h48v2h-48zM472 864h96v2h-96zM714 864h48v2h-48zM472 866h96v2h-96zM714 866h46v2h-46zM472 868h96v2h-96zM714 868h46v2h-46z"/>
<path fill="#ffc800" d="M610 656h12v2h-12zM696 656h80v2h-80zM610 658h12v2h-12zM696 658h80v2h-80zM610 660h12v2h-12zM696 660h80v2h-80zM610 662h12v2h-12zM696 662h80v2h-80zM610 664h14v2h-14zM696 664h80v2h-80zM610 666h16v2h-16zM696 666h80v2h-80zM610 668h20v2h-20zM696 668h78v2h-78zM608 670h72v2h-72zM694 670h78v2h-78zM608 672h164v2h-164zM606 674h164v2h-164zM604 676h34v2h-34zM654 676h114v2h-114zM602 678h20v2h-20zM670 678h96v2h-96zM532 680h20v2h-20zM596 680h20v2h-20zM676 680h30v2h-30zM728 680h36v2h-36zM472 682h18v2h-18zM518 682h48v2h-48zM586 682h16v2h-16zM608 682h6v2h-6zM682 682h24v2h-24zM734 682h30v2h-30zM472 684h128v2h-128zM612 684h2v2h-2zM686 684h20v2h-20zM736 684h26v2h-26zM472 686h54v2h-54zM564 686h26v2h-26zM596 686h2v2h-2zM612 686h2v2h-2zM688 686h18v2h-18zM738 686h24v2h-24zM612 688h2v2h-2zM692 688h16v2h-16zM740 688h22v2h-22zM608 690h4v2h-4zM694 690h14v2h-14zM740 690h20v2h-20zM600 692h8v2h-8zM696 692h14v2h-14zM742 692h18v2h-18zM600 694h6v2h-6zM698 694h14v2h-14zM742 694h18v2h-18zM598 696h6v2h-6zM702 696h14v2h-14zM740 696h20v2h-20zM596 698h6v2h-6zM704 698h16v2h-16zM738 698h24v2h-24zM594 700h6v2h-6zM708 700h54v2h-54zM590 702h8v2h-8zM712 702h50v2h-50zM586 704h10v2h-10zM718 704h46v2h-46zM582 706h10v2h-10zM728 706h36v2h-36zM578 708h10v2h-10zM734 708h32v2h-32zM572 710h12v2h-12zM740 710h28v2h-28zM566 712h12v2h-12zM742 712h28v2h-28zM824 712h28v2h-28zM560 714h12v2h-12zM744 714h26v2h-26zM820 714h38v2h-38zM554 716h10v2h-10zM746 716h26v2h-26zM816 716h44v2h-44zM546 718h12v2h-12zM746 718h28v2h-28zM814 718h48v2h-48zM540 720h14v2h-14zM746 720h28v2h-28zM812 720h52v2h-52zM536 722h12v2h-12zM748 722h28v2h-28zM812 722h54v2h-54zM532 724h12v2h-12zM748 724h30v2h-30zM810 724h44v2h-44zM862 724h6v2h-6zM528 726h12v2h-12zM748 726h8v2h-8zM764 726h14v2h-14zM810 726h42v2h-42zM864 726h4v2h-4zM524 728h12v2h-12zM726 728h2v2h-2zM748 728h8v2h-8zM766 728h14v2h-14zM810 728h40v2h-40zM864 728h6v2h-6zM522 730h10v2h-10zM732 730h2v2h-2zM748 730h6v2h-6zM768 730h12v2h-12zM810 730h40v2h-40zM866 730h6v2h-6zM518 732h10v2h-10zM726 732h2v2h-2zM748 732h6v2h-6zM768 732h14v2h-14zM810 732h38v2h-38zM866 732h8v2h-8zM514 734h12v2h-12zM748 734h6v2h-6zM770 734h12v2h-12zM812 734h36v2h-36zM866 734h10v2h-10zM510 736h12v2h-12zM748 736h6v2h-6zM770 736h14v2h-14zM812 736h36v2h-36zM868 736h8v2h-8zM504 738h14v2h-14zM748 738h4v2h-4zM772 738h12v2h-12zM814 738h32v2h-32zM870 738h6v2h-6zM496 740h18v2h-18zM748 740h4v2h-4zM772 740h14v2h-14zM818 740h28v2h-28zM472 742h36v2h-36zM748 742h4v2h-4zM772 742h14v2h-14zM820 742h26v2h-26zM472 744h28v2h-28zM748 744h4v2h-4zM774 744h12v2h-12zM822 744h22v2h-22zM746 746h4v2h-4zM774 746h12v2h-12zM826 746h18v2h-18zM732 748h2v2h-2zM746 748h4v2h-4zM774 748h12v2h-12zM828 748h14v2h-14zM740 750h2v2h-2zM744 750h4v2h-4zM774 750h12v2h-12zM832 750h10v2h-10zM742 752h4v2h-4zM776 752h8v2h-8zM834 752h8v2h-8zM734 754h2v2h-2zM776 754h8v2h-8zM836 754h6v2h-6zM776 756h6v2h-6zM836 756h6v2h-6zM736 758h2v2h-2zM776 758h6v2h-6zM838 758h4v2h-4zM736 760h2v2h-2zM776 760h4v2h-4zM838 760h4v2h-4zM776 762h2v2h-2zM838 762h4v2h-4zM734 764h2v2h-2zM776 764h2v2h-2zM838 764h4v2h-4zM732 766h2v2h-2zM776 766h2v2h-2zM838 766h4v2h-4zM776 768h2v2h-2zM838 768h4v2h-4zM730 770h2v2h-2zM776 770h2v2h-2zM838 770h4v2h-4zM838 772h4v2h-4zM728 774h2v2h-2zM838 774h4v2h-4zM728 776h2v2h-2zM778 776h2v2h-2zM838 776h4v2h-4zM778 778h2v2h-2zM840 778h2v2h-2zM728 780h2v2h-2zM778 780h2v2h-2zM840 780h2v2h-2zM728 782h2v2h-2zM778 782h2v2h-2zM840 782h2v2h-2zM728 784h2v2h-2zM778 784h2v2h-2zM840 784h2v2h-2zM840 786h2v2h-2zM492 788h16v2h-16zM730 788h2v2h-2zM780 788h2v2h-2zM840 788h2v2h-2zM484 790h36v2h-36zM730 790h2v2h-2zM840 790h2v2h-2zM480 792h48v2h-48zM730 792h2v2h-2zM780 792h2v2h-2zM840 792h2v2h-2zM478 794h60v2h-60zM730 794h4v2h-4zM776 794h2v2h-2zM840 794h2v2h-2zM478 796h76v2h-76zM732 796h2v2h-2zM774 796h2v2h-2zM840 796h2v2h-2zM478 798h88v2h-88zM732 798h4v2h-4zM840 798h2v2h-2zM478 800h32v2h-32zM526 800h48v2h-48zM732 800h4v2h-4zM772 800h2v2h-2zM840 800h2v2h-2zM480 802h28v2h-28zM536 802h10v2h-10zM562 802h16v2h-16zM732 802h6v2h-6zM770 802h2v2h-2zM840 802h2v2h-2zM484 804h24v2h-24zM572 804h10v2h-10zM730 804h8v2h-8zM766 804h4v2h-4zM840 804h2v2h-2zM488 806h20v2h-20zM576 806h8v2h-8zM730 806h10v2h-10zM762 806h6v2h-6zM840 806h2v2h-2zM492 808h16v2h-16zM580 808h6v2h-6zM730 808h14v2h-14zM756 808h10v2h-10zM840 808h2v2h-2zM494 810h14v2h-14zM582 810h8v2h-8zM728 810h34v2h-34zM840 810h2v2h-2zM496 812h12v2h-12zM584 812h8v2h-8zM726 812h34v2h-34zM840 812h2v2h-2zM864 812h12v2h-12zM496 814h12v2h-12zM586 814h8v2h-8zM726 814h30v2h-30zM840 814h2v2h-2zM860 814h16v2h-16zM498 816h10v2h-10zM588 816h6v2h-6zM724 816h28v2h-28zM840 816h2v2h-2zM858 816h18v2h-18zM496 818h10v2h-10zM590 818h6v2h-6zM722 818h28v2h-28zM840 818h2v2h-2zM856 818h20v2h-20zM496 820h10v2h-10zM590 820h6v2h-6zM706 820h4v2h-4zM720 820h30v2h-30zM840 820h2v2h-2zM854 820h22v2h-22zM496 822h10v2h-10zM590 822h8v2h-8zM680 822h2v2h-2zM704 822h2v2h-2zM708 822h2v2h-2zM720 822h30v2h-30zM840 822h2v2h-2zM854 822h22v2h-22zM494 824h10v2h-10zM590 824h8v2h-8zM708 824h2v2h-2zM718 824h32v2h-32zM840 824h2v2h-2zM852 824h14v2h-14zM492 826h12v2h-12zM586 826h10v2h-10zM680 826h2v2h-2zM684 826h2v2h-2zM702 826h2v2h-2zM706 826h2v2h-2zM716 826h34v2h-34zM840 826h4v2h-4zM850 826h10v2h-10zM490 828h12v2h-12zM578 828h18v2h-18zM706 828h2v2h-2zM716 828h12v2h-12zM734 828h16v2h-16zM842 828h16v2h-16zM488 830h14v2h-14zM574 830h18v2h-18zM700 830h2v2h-2zM704 830h2v2h-2zM714 830h10v2h-10zM736 830h16v2h-16zM844 830h10v2h-10zM484 832h16v2h-16zM572 832h12v2h-12zM698 832h2v2h-2zM704 832h2v2h-2zM712 832h10v2h-10zM738 832h14v2h-14zM472 834h28v2h-28zM572 834h10v2h-10zM702 834h4v2h-4zM712 834h10v2h-10zM740 834h14v2h-14zM472 836h26v2h-26zM570 836h10v2h-10zM696 836h2v2h-2zM702 836h2v2h-2zM710 836h10v2h-10zM742 836h16v2h-16zM472 838h22v2h-22zM570 838h8v2h-8zM694 838h2v2h-2zM700 838h4v2h-4zM710 838h10v2h-10zM744 838h16v2h-16zM472 840h18v2h-18zM570 840h8v2h-8zM692 840h2v2h-2zM700 840h2v2h-2zM708 840h10v2h-10zM746 840h18v2h-18zM570 842h8v2h-8zM692 842h2v2h-2zM698 842h2v2h-2zM708 842h10v2h-10zM748 842h20v2h-20zM568 844h10v2h-10zM694 844h6v2h-6zM706 844h10v2h-10zM750 844h22v2h-22zM568 846h10v2h-10zM706 846h10v2h-10zM752 846h24v2h-24zM568 848h10v2h-10zM706 848h10v2h-10zM754 848h24v2h-24zM568 850h10v2h-10zM704 850h10v2h-10zM756 850h24v2h-24zM568 852h10v2h-10zM704 852h10v2h-10zM758 852h24v2h-24zM568 854h10v2h-10zM704 854h10v2h-10zM760 854h22v2h-22zM568 856h10v2h-10zM704 856h10v2h-10zM760 856h24v2h-24zM568 858h10v2h-10zM704 858h10v2h-10zM762 858h22v2h-22zM568 860h10v2h-10zM704 860h10v2h-10zM762 860h22v2h-22zM568 862h10v2h-10zM704 862h10v2h-10zM762 862h22v2h-22zM568 864h10v2h-10zM704 864h10v2h-10zM762 864h22v2h-22zM568 866h10v2h-10zM704 866h10v2h-10zM760 866h24v2h-24zM568 868h10v2h-10zM704 868h10v2h-10zM760 868h22v2h-22z"/>
<path fill="#ffb900" d="M602 656h8v2h-8zM776 656h78v2h-78zM602 658h8v2h-8zM776 658h78v2h-78zM602 660h8v2h-8zM776 660h78v2h-78zM602 662h8v2h-8zM776 662h78v2h-78zM600 664h10v2h-10zM776 664h78v2h-78zM600 666h10v2h-10zM776 666h44v2h-44zM826 666h26v2h-26zM600 668h10v2h-10zM774 668h42v2h-42zM834 668h16v2h-16zM598 670h10v2h-10zM772 670h42v2h-42zM874 670h2v2h-2zM596 672h12v2h-12zM772 672h40v2h-40zM868 672h8v2h-8zM534 674h14v2h-14zM594 674h12v2h-12zM770 674h40v2h-40zM864 674h12v2h-12zM524 676h32v2h-32zM590 676h14v2h-14zM638 676h16v2h-16zM768 676h40v2h-40zM862 676h14v2h-14zM472 678h94v2h-94zM582 678h20v2h-20zM622 678h48v2h-48zM766 678h40v2h-40zM860 678h16v2h-16zM472 680h60v2h-60zM552 680h44v2h-44zM616 680h60v2h-60zM764 680h40v2h-40zM860 680h16v2h-16zM490 682h28v2h-28zM566 682h20v2h-20zM614 682h18v2h-18zM660 682h22v2h-22zM764 682h38v2h-38zM858 682h18v2h-18zM614 684h12v2h-12zM668 684h18v2h-18zM762 684h38v2h-38zM858 684h18v2h-18zM614 686h8v2h-8zM674 686h14v2h-14zM762 686h36v2h-36zM858 686h18v2h-18zM614 688h6v2h-6zM678 688h14v2h-14zM762 688h34v2h-34zM856 688h20v2h-20zM612 690h6v2h-6zM682 690h12v2h-12zM760 690h34v2h-34zM856 690h20v2h-20zM608 692h8v2h-8zM686 692h10v2h-10zM760 692h32v2h-32zM856 692h20v2h-20zM606 694h8v2h-8zM688 694h10v2h-10zM760 694h32v2h-32zM854 694h22v2h-22zM604 696h8v2h-8zM690 696h12v2h-12zM760 696h34v2h-34zM852 696h24v2h-24zM602 698h6v2h-6zM694 698h10v2h-10zM762 698h56v2h-56zM848 698h28v2h-28zM600 700h6v2h-6zM696 700h12v2h-12zM762 700h114v2h-114zM598 702h6v2h-6zM700 702h12v2h-12zM762 702h114v2h-114zM596 704h6v2h-6zM704 704h14v2h-14zM764 704h112v2h-112zM592 706h6v2h-6zM710 706h18v2h-18zM764 706h112v2h-112zM588 708h8v2h-8zM716 708h18v2h-18zM766 708h110v2h-110zM584 710h8v2h-8zM724 710h16v2h-16zM768 710h108v2h-108zM578 712h10v2h-10zM730 712h12v2h-12zM770 712h54v2h-54zM852 712h24v2h-24zM572 714h10v2h-10zM734 714h10v2h-10zM770 714h50v2h-50zM858 714h18v2h-18zM564 716h12v2h-12zM736 716h10v2h-10zM772 716h44v2h-44zM860 716h16v2h-16zM558 718h12v2h-12zM738 718h8v2h-8zM774 718h40v2h-40zM862 718h14v2h-14zM554 720h10v2h-10zM740 720h6v2h-6zM774 720h38v2h-38zM864 720h12v2h-12zM548 722h10v2h-10zM742 722h6v2h-6zM776 722h36v2h-36zM866 722h10v2h-10zM544 724h8v2h-8zM742 724h6v2h-6zM778 724h32v2h-32zM868 724h8v2h-8zM540 726h8v2h-8zM742 726h6v2h-6zM778 726h32v2h-32zM868 726h8v2h-8zM536 728h8v2h-8zM744 728h4v2h-4zM780 728h30v2h-30zM870 728h6v2h-6zM532 730h8v2h-8zM744 730h4v2h-4zM780 730h30v2h-30zM872 730h4v2h-4zM528 732h8v2h-8zM734 732h2v2h-2zM744 732h4v2h-4zM782 732h28v2h-28zM874 732h2v2h-2zM526 734h8v2h-8zM744 734h4v2h-4zM782 734h30v2h-30zM522 736h10v2h-10zM744 736h4v2h-4zM784 736h28v2h-28zM518 738h12v2h-12zM744 738h4v2h-4zM784 738h30v2h-30zM514 740h12v2h-12zM728 740h2v2h-2zM744 740h4v2h-4zM786 740h32v2h-32zM508 742h16v2h-16zM728 742h2v2h-2zM736 742h2v2h-2zM744 742h4v2h-4zM786 742h34v2h-34zM500 744h20v2h-20zM738 744h2v2h-2zM744 744h4v2h-4zM786 744h36v2h-36zM472 746h44v2h-44zM744 746h2v2h-2zM786 746h40v2h-40zM472 748h36v2h-36zM740 748h6v2h-6zM786 748h14v2h-14zM818 748h10v2h-10zM472 750h16v2h-16zM742 750h2v2h-2zM786 750h10v2h-10zM822 750h10v2h-10zM784 752h10v2h-10zM826 752h8v2h-8zM784 754h8v2h-8zM830 754h6v2h-6zM782 756h6v2h-6zM832 756h4v2h-4zM782 758h4v2h-4zM834 758h4v2h-4zM780 760h4v2h-4zM834 760h4v2h-4zM734 762h2v2h-2zM778 762h4v2h-4zM836 762h2v2h-2zM732 764h2v2h-2zM778 764h2v2h-2zM836 764h2v2h-2zM778 766h2v2h-2zM836 766h2v2h-2zM730 768h2v2h-2zM778 768h2v2h-2zM836 768h2v2h-2zM778 770h2v2h-2zM836 770h2v2h-2zM728 772h2v2h-2zM778 772h2v2h-2zM836 772h2v2h-2zM778 774h2v2h-2zM836 774h2v2h-2zM836 776h2v2h-2zM836 778h4v2h-4zM836 780h4v2h-4zM780 782h2v2h-2zM836 782h4v2h-4zM484 784h30v2h-30zM780 784h2v2h-2zM838 784h2v2h-2zM476 786h46v2h-46zM728 786h2v2h-2zM780 786h2v2h-2zM838 786h2v2h-2zM472 788h20v2h-20zM508 788h24v2h-24zM728 788h2v2h-2zM838 788h2v2h-2zM472 790h12v2h-12zM520 790h20v2h-20zM728 790h2v2h-2zM838 790h2v2h-2zM472 792h8v2h-8zM528 792h26v2h-26zM728 792h2v2h-2zM838 792h2v2h-2zM472 794h6v2h-6zM538 794h28v2h-28zM728 794h2v2h-2zM778 794h2v2h-2zM838 794h2v2h-2zM472 796h6v2h-6zM554 796h18v2h-18zM728 796h4v2h-4zM776 796h2v2h-2zM838 796h2v2h-2zM472 798h6v2h-6zM566 798h12v2h-12zM728 798h4v2h-4zM774 798h2v2h-2zM838 798h2v2h-2zM472 800h6v2h-6zM574 800h6v2h-6zM726 800h6v2h-6zM774 800h2v2h-2zM838 800h2v2h-2zM472 802h8v2h-8zM578 802h6v2h-6zM726 802h6v2h-6zM772 802h2v2h-2zM838 802h2v2h-2zM472 804h12v2h-12zM582 804h4v2h-4zM724 804h6v2h-6zM770 804h4v2h-4zM838 804h2v2h-2zM472 806h16v2h-16zM584 806h4v2h-4zM724 806h6v2h-6zM768 806h4v2h-4zM838 806h2v2h-2zM476 808h16v2h-16zM586 808h6v2h-6zM722 808h8v2h-8zM766 808h4v2h-4zM838 808h2v2h-2zM480 810h14v2h-14zM590 810h4v2h-4zM722 810h6v2h-6zM762 810h8v2h-8zM838 810h2v2h-2zM484 812h12v2h-12zM592 812h4v2h-4zM720 812h6v2h-6zM760 812h8v2h-8zM838 812h2v2h-2zM486 814h10v2h-10zM594 814h4v2h-4zM718 814h8v2h-8zM756 814h12v2h-12zM838 814h2v2h-2zM486 816h12v2h-12zM594 816h4v2h-4zM716 816h8v2h-8zM752 816h14v2h-14zM838 816h2v2h-2zM486 818h10v2h-10zM596 818h4v2h-4zM706 818h4v2h-4zM716 818h6v2h-6zM750 818h16v2h-16zM838 818h2v2h-2zM484 820h12v2h-12zM596 820h4v2h-4zM682 820h2v2h-2zM704 820h2v2h-2zM710 820h10v2h-10zM750 820h14v2h-14zM838 820h2v2h-2zM482 822h14v2h-14zM598 822h2v2h-2zM710 822h10v2h-10zM750 822h14v2h-14zM838 822h2v2h-2zM472 824h22v2h-22zM598 824h2v2h-2zM686 824h2v2h-2zM702 824h2v2h-2zM710 824h8v2h-8zM750 824h14v2h-14zM838 824h2v2h-2zM866 824h10v2h-10zM472 826h20v2h-20zM596 826h4v2h-4zM708 826h8v2h-8zM750 826h16v2h-16zM838 826h2v2h-2zM860 826h16v2h-16zM472 828h18v2h-18zM596 828h4v2h-4zM682 828h2v2h-2zM700 828h2v2h-2zM708 828h8v2h-8zM750 828h18v2h-18zM838 828h4v2h-4zM858 828h18v2h-18zM472 830h16v2h-16zM592 830h6v2h-6zM706 830h8v2h-8zM752 830h18v2h-18zM840 830h4v2h-4zM854 830h22v2h-22zM472 832h12v2h-12zM584 832h12v2h-12zM706 832h6v2h-6zM752 832h20v2h-20zM840 832h36v2h-36zM582 834h8v2h-8zM696 834h2v2h-2zM706 834h6v2h-6zM754 834h20v2h-20zM842 834h34v2h-34zM580 836h8v2h-8zM694 836h2v2h-2zM704 836h6v2h-6zM758 836h20v2h-20zM842 836h34v2h-34zM578 838h8v2h-8zM692 838h2v2h-2zM704 838h6v2h-6zM760 838h20v2h-20zM842 838h34v2h-34zM578 840h6v2h-6zM690 840h2v2h-2zM702 840h6v2h-6zM764 840h18v2h-18zM844 840h32v2h-32zM578 842h6v2h-6zM690 842h2v2h-2zM700 842h8v2h-8zM768 842h16v2h-16zM844 842h32v2h-32zM578 844h6v2h-6zM692 844h2v2h-2zM700 844h6v2h-6zM772 844h14v2h-14zM844 844h32v2h-32zM578 846h6v2h-6zM692 846h14v2h-14zM776 846h12v2h-12zM844 846h32v2h-32zM578 848h6v2h-6zM694 848h12v2h-12zM778 848h12v2h-12zM846 848h30v2h-30zM578 850h6v2h-6zM694 850h10v2h-10zM780 850h12v2h-12zM846 850h28v2h-28zM578 852h6v2h-6zM694 852h10v2h-10zM782 852h12v2h-12zM846 852h28v2h-28zM578 854h6v2h-6zM694 854h10v2h-10zM782 854h12v2h-12zM846 854h28v2h-28zM578 856h6v2h-6zM694 856h10v2h-10zM784 856h12v2h-12zM846 856h28v2h-28zM578 858h6v2h-6zM694 858h10v2h-10zM784 858h12v2h-12zM846 858h28v2h-28zM578 860h6v2h-6zM694 860h10v2h-10zM784 860h12v2h-12zM846 860h26v2h-26zM578 862h6v2h-6zM694 862h10v2h-10zM784 862h12v2h-12zM846 862h26v2h-26zM578 864h6v2h-6zM694 864h10v2h-10zM784 864h12v2h-12zM846 864h28v2h-28zM578 866h6v2h-6zM694 866h10v2h-10zM784 866h12v2h-12zM846 866h28v2h-28zM578 868h6v2h-6zM694 868h10v2h-10zM782 868h14v2h-14zM846 868h28v2h-28z"/>
<path fill="#ffab00" d="M594 656h8v2h-8zM854 656h22v2h-22zM594 658h8v2h-8zM854 658h22v2h-22zM594 660h8v2h-8zM854 660h22v2h-22zM594 662h8v2h-8zM854 662h22v2h-22zM592 664h8v2h-8zM854 664h22v2h-22zM532 666h14v2h-14zM592 666h8v2h-8zM820 666h6v2h-6zM852 666h24v2h-24zM528 668h22v2h-22zM590 668h10v2h-10zM816 668h18v2h-18zM850 668h26v2h-26zM522 670h32v2h-32zM588 670h10v2h-10zM814 670h60v2h-60zM472 672h22v2h-22zM512 672h48v2h-48zM584 672h12v2h-12zM812 672h56v2h-56zM472 674h62v2h-62zM548 674h20v2h-20zM578 674h16v2h-16zM810 674h54v2h-54zM472 676h52v2h-52zM556 676h34v2h-34zM808 676h54v2h-54zM566 678h16v2h-16zM806 678h54v2h-54zM804 680h56v2h-56zM632 682h28v2h-28zM802 682h56v2h-56zM626 684h42v2h-42zM800 684h58v2h-58zM622 686h14v2h-14zM656 686h18v2h-18zM798 686h60v2h-60zM620 688h8v2h-8zM664 688h14v2h-14zM796 688h60v2h-60zM618 690h8v2h-8zM670 690h12v2h-12zM794 690h62v2h-62zM616 692h6v2h-6zM674 692h12v2h-12zM792 692h64v2h-64zM614 694h6v2h-6zM678 694h10v2h-10zM792 694h62v2h-62zM612 696h4v2h-4zM682 696h8v2h-8zM794 696h58v2h-58zM608 698h6v2h-6zM684 698h10v2h-10zM818 698h30v2h-30zM606 700h6v2h-6zM688 700h8v2h-8zM604 702h4v2h-4zM690 702h10v2h-10zM602 704h4v2h-4zM694 704h10v2h-10zM598 706h6v2h-6zM698 706h12v2h-12zM596 708h6v2h-6zM702 708h14v2h-14zM592 710h6v2h-6zM708 710h16v2h-16zM588 712h8v2h-8zM716 712h14v2h-14zM582 714h10v2h-10zM724 714h10v2h-10zM576 716h10v2h-10zM728 716h8v2h-8zM570 718h10v2h-10zM732 718h6v2h-6zM564 720h10v2h-10zM734 720h6v2h-6zM558 722h8v2h-8zM736 722h6v2h-6zM552 724h10v2h-10zM738 724h4v2h-4zM548 726h8v2h-8zM728 726h2v2h-2zM738 726h4v2h-4zM544 728h8v2h-8zM738 728h6v2h-6zM540 730h8v2h-8zM740 730h4v2h-4zM536 732h8v2h-8zM740 732h4v2h-4zM534 734h6v2h-6zM736 734h2v2h-2zM740 734h4v2h-4zM532 736h6v2h-6zM736 736h2v2h-2zM740 736h4v2h-4zM530 738h6v2h-6zM728 738h2v2h-2zM736 738h2v2h-2zM740 738h4v2h-4zM526 740h8v2h-8zM740 740h4v2h-4zM524 742h8v2h-8zM738 742h6v2h-6zM520 744h10v2h-10zM740 744h4v2h-4zM516 746h12v2h-12zM730 746h2v2h-2zM740 746h4v2h-4zM508 748h18v2h-18zM800 748h18v2h-18zM488 750h36v2h-36zM732 750h2v2h-2zM796 750h26v2h-26zM472 752h50v2h-50zM794 752h8v2h-8zM818 752h8v2h-8zM472 754h44v2h-44zM792 754h6v2h-6zM824 754h6v2h-6zM486 756h20v2h-20zM734 756h2v2h-2zM788 756h6v2h-6zM826 756h6v2h-6zM734 758h2v2h-2zM786 758h6v2h-6zM830 758h4v2h-4zM734 760h2v2h-2zM784 760h6v2h-6zM832 760h2v2h-2zM732 762h2v2h-2zM782 762h4v2h-4zM832 762h4v2h-4zM780 764h4v2h-4zM832 764h4v2h-4zM730 766h2v2h-2zM780 766h2v2h-2zM834 766h2v2h-2zM780 768h2v2h-2zM834 768h2v2h-2zM728 770h2v2h-2zM780 770h2v2h-2zM834 770h2v2h-2zM780 772h2v2h-2zM834 772h2v2h-2zM726 774h2v2h-2zM780 774h2v2h-2zM834 774h2v2h-2zM472 776h36v2h-36zM726 776h2v2h-2zM780 776h2v2h-2zM834 776h2v2h-2zM472 778h46v2h-46zM726 778h2v2h-2zM780 778h2v2h-2zM834 778h2v2h-2zM472 780h52v2h-52zM726 780h2v2h-2zM780 780h2v2h-2zM834 780h2v2h-2zM472 782h58v2h-58zM726 782h2v2h-2zM834 782h2v2h-2zM472 784h12v2h-12zM514 784h24v2h-24zM726 784h2v2h-2zM834 784h4v2h-4zM472 786h4v2h-4zM522 786h26v2h-26zM726 786h2v2h-2zM834 786h4v2h-4zM532 788h32v2h-32zM726 788h2v2h-2zM782 788h2v2h-2zM836 788h2v2h-2zM540 790h32v2h-32zM726 790h2v2h-2zM782 790h2v2h-2zM836 790h2v2h-2zM554 792h22v2h-22zM724 792h4v2h-4zM782 792h2v2h-2zM836 792h2v2h-2zM566 794h14v2h-14zM724 794h4v2h-4zM780 794h2v2h-2zM836 794h2v2h-2zM572 796h10v2h-10zM724 796h4v2h-4zM778 796h2v2h-2zM836 796h2v2h-2zM578 798h6v2h-6zM722 798h6v2h-6zM776 798h2v2h-2zM836 798h2v2h-2zM580 800h6v2h-6zM722 800h4v2h-4zM776 800h2v2h-2zM836 800h2v2h-2zM584 802h4v2h-4zM720 802h6v2h-6zM774 802h2v2h-2zM836 802h2v2h-2zM586 804h4v2h-4zM720 804h4v2h-4zM774 804h2v2h-2zM836 804h2v2h-2zM588 806h6v2h-6zM718 806h6v2h-6zM772 806h4v2h-4zM836 806h2v2h-2zM472 808h4v2h-4zM592 808h4v2h-4zM718 808h4v2h-4zM770 808h4v2h-4zM836 808h2v2h-2zM472 810h8v2h-8zM594 810h4v2h-4zM716 810h6v2h-6zM770 810h4v2h-4zM836 810h2v2h-2zM472 812h12v2h-12zM596 812h2v2h-2zM714 812h6v2h-6zM768 812h6v2h-6zM836 812h2v2h-2zM472 814h14v2h-14zM598 814h2v2h-2zM714 814h4v2h-4zM768 814h6v2h-6zM836 814h2v2h-2zM472 816h14v2h-14zM598 816h2v2h-2zM712 816h4v2h-4zM766 816h8v2h-8zM836 816h2v2h-2zM472 818h14v2h-14zM600 818h2v2h-2zM710 818h6v2h-6zM766 818h8v2h-8zM836 818h2v2h-2zM472 820h12v2h-12zM600 820h2v2h-2zM680 820h2v2h-2zM684 820h2v2h-2zM764 820h10v2h-10zM836 820h2v2h-2zM472 822h10v2h-10zM600 822h2v2h-2zM678 822h2v2h-2zM686 822h2v2h-2zM764 822h10v2h-10zM836 822h2v2h-2zM600 824h2v2h-2zM678 824h2v2h-2zM764 824h12v2h-12zM836 824h2v2h-2zM600 826h2v2h-2zM678 826h2v2h-2zM686 826h2v2h-2zM766 826h10v2h-10zM836 826h2v2h-2zM600 828h2v2h-2zM680 828h2v2h-2zM684 828h2v2h-2zM768 828h10v2h-10zM836 828h2v2h-2zM598 830h4v2h-4zM698 830h2v2h-2zM770 830h10v2h-10zM836 830h4v2h-4zM596 832h4v2h-4zM696 832h2v2h-2zM772 832h10v2h-10zM836 832h4v2h-4zM590 834h8v2h-8zM694 834h2v2h-2zM774 834h8v2h-8zM836 834h6v2h-6zM588 836h6v2h-6zM690 836h4v2h-4zM778 836h6v2h-6zM836 836h6v2h-6zM586 838h6v2h-6zM688 838h4v2h-4zM780 838h6v2h-6zM836 838h6v2h-6zM584 840h8v2h-8zM686 840h4v2h-4zM782 840h6v2h-6zM836 840h8v2h-8zM584 842h6v2h-6zM684 842h6v2h-6zM784 842h6v2h-6zM836 842h8v2h-8zM584 844h6v2h-6zM684 844h8v2h-8zM786 844h8v2h-8zM836 844h8v2h-8zM584 846h6v2h-6zM682 846h10v2h-10zM788 846h10v2h-10zM836 846h8v2h-8zM584 848h6v2h-6zM682 848h12v2h-12zM790 848h10v2h-10zM834 848h12v2h-12zM584 850h6v2h-6zM682 850h12v2h-12zM792 850h12v2h-12zM832 850h14v2h-14zM874 850h2v2h-2zM584 852h6v2h-6zM680 852h14v2h-14zM794 852h12v2h-12zM832 852h14v2h-14zM874 852h2v2h-2zM584 854h6v2h-6zM680 854h14v2h-14zM794 854h14v2h-14zM830 854h16v2h-16zM874 854h2v2h-2zM584 856h6v2h-6zM680 856h14v2h-14zM796 856h12v2h-12zM828 856h18v2h-18zM874 856h2v2h-2zM584 858h6v2h-6zM680 858h14v2h-14zM796 858h12v2h-12zM828 858h18v2h-18zM874 858h2v2h-2zM584 860h6v2h-6zM680 860h14v2h-14zM796 860h14v2h-14zM828 860h18v2h-18zM872 860h4v2h-4zM584 862h6v2h-6zM680 862h14v2h-14zM796 862h14v2h-14zM828 862h18v2h-18zM872 862h4v2h-4zM584 864h6v2h-6zM680 864h14v2h-14zM796 864h14v2h-14zM828 864h18v2h-18zM874 864h2v2h-2zM584 866h6v2h-6zM680 866h14v2h-14zM796 866h12v2h-12zM828 866h18v2h-18zM874 866h2v2h-2zM584 868h6v2h-6zM680 868h14v2h-14zM796 868h12v2h-12zM828 868h18v2h-18zM874 868h2v2h-2z"/>
<path fill="#ff9f00" d="M472 656h22v2h-22zM510 656h48v2h-48zM586 656h8v2h-8zM472 658h22v2h-22zM510 658h48v2h-48zM586 658h8v2h-8zM472 660h24v2h-24zM510 660h48v2h-48zM586 660h8v2h-8zM472 662h86v2h-86zM586 662h8v2h-8zM472 664h88v2h-88zM584 664h8v2h-8zM472 666h60v2h-60zM546 666h16v2h-16zM582 666h10v2h-10zM472 668h56v2h-56zM550 668h16v2h-16zM578 668h12v2h-12zM472 670h50v2h-50zM554 670h34v2h-34zM494 672h18v2h-18zM560 672h24v2h-24zM568 674h10v2h-10zM636 686h20v2h-20zM628 688h36v2h-36zM626 690h10v2h-10zM656 690h14v2h-14zM622 692h8v2h-8zM662 692h12v2h-12zM620 694h6v2h-6zM668 694h10v2h-10zM616 696h6v2h-6zM672 696h10v2h-10zM614 698h6v2h-6zM676 698h8v2h-8zM612 700h4v2h-4zM680 700h8v2h-8zM608 702h6v2h-6zM682 702h8v2h-8zM606 704h4v2h-4zM686 704h8v2h-8zM604 706h4v2h-4zM688 706h10v2h-10zM602 708h4v2h-4zM692 708h10v2h-10zM598 710h6v2h-6zM696 710h12v2h-12zM596 712h6v2h-6zM702 712h14v2h-14zM592 714h6v2h-6zM708 714h16v2h-16zM586 716h8v2h-8zM716 716h12v2h-12zM580 718h8v2h-8zM724 718h8v2h-8zM574 720h8v2h-8zM728 720h6v2h-6zM566 722h10v2h-10zM730 722h6v2h-6zM562 724h8v2h-8zM732 724h6v2h-6zM556 726h8v2h-8zM730 726h8v2h-8zM552 728h8v2h-8zM732 728h6v2h-6zM548 730h8v2h-8zM734 730h6v2h-6zM544 732h8v2h-8zM736 732h4v2h-4zM540 734h8v2h-8zM738 734h2v2h-2zM538 736h6v2h-6zM728 736h2v2h-2zM738 736h2v2h-2zM536 738h4v2h-4zM738 738h2v2h-2zM534 740h4v2h-4zM736 740h4v2h-4zM532 742h4v2h-4zM530 744h4v2h-4zM528 746h6v2h-6zM526 748h8v2h-8zM524 750h8v2h-8zM522 752h10v2h-10zM732 752h2v2h-2zM802 752h16v2h-16zM516 754h16v2h-16zM732 754h2v2h-2zM798 754h26v2h-26zM472 756h14v2h-14zM506 756h26v2h-26zM794 756h8v2h-8zM818 756h8v2h-8zM472 758h60v2h-60zM732 758h2v2h-2zM792 758h6v2h-6zM822 758h8v2h-8zM472 760h60v2h-60zM732 760h2v2h-2zM790 760h6v2h-6zM826 760h6v2h-6zM472 762h60v2h-60zM730 762h2v2h-2zM786 762h6v2h-6zM828 762h4v2h-4zM472 764h60v2h-60zM730 764h2v2h-2zM784 764h6v2h-6zM828 764h4v2h-4zM472 766h60v2h-60zM728 766h2v2h-2zM782 766h6v2h-6zM830 766h4v2h-4zM472 768h62v2h-62zM728 768h2v2h-2zM782 768h4v2h-4zM830 768h4v2h-4zM472 770h64v2h-64zM726 770h2v2h-2zM782 770h2v2h-2zM830 770h4v2h-4zM472 772h66v2h-66zM726 772h2v2h-2zM782 772h2v2h-2zM830 772h4v2h-4zM472 774h70v2h-70zM782 774h2v2h-2zM830 774h4v2h-4zM508 776h38v2h-38zM724 776h2v2h-2zM782 776h2v2h-2zM830 776h4v2h-4zM518 778h34v2h-34zM724 778h2v2h-2zM782 778h2v2h-2zM832 778h2v2h-2zM524 780h36v2h-36zM724 780h2v2h-2zM782 780h2v2h-2zM832 780h2v2h-2zM530 782h40v2h-40zM724 782h2v2h-2zM782 782h2v2h-2zM832 782h2v2h-2zM538 784h38v2h-38zM724 784h2v2h-2zM782 784h2v2h-2zM832 784h2v2h-2zM548 786h32v2h-32zM724 786h2v2h-2zM782 786h2v2h-2zM832 786h2v2h-2zM564 788h18v2h-18zM722 788h4v2h-4zM832 788h4v2h-4zM572 790h12v2h-12zM722 790h4v2h-4zM784 790h2v2h-2zM832 790h4v2h-4zM576 792h10v2h-10zM722 792h2v2h-2zM784 792h2v2h-2zM832 792h4v2h-4zM580 794h8v2h-8zM720 794h4v2h-4zM782 794h2v2h-2zM832 794h4v2h-4zM582 796h8v2h-8zM720 796h4v2h-4zM780 796h2v2h-2zM832 796h4v2h-4zM584 798h6v2h-6zM718 798h4v2h-4zM778 798h4v2h-4zM832 798h4v2h-4zM586 800h6v2h-6zM718 800h4v2h-4zM778 800h2v2h-2zM832 800h4v2h-4zM588 802h6v2h-6zM664 802h8v2h-8zM716 802h4v2h-4zM776 802h4v2h-4zM834 802h2v2h-2zM590 804h6v2h-6zM658 804h12v2h-12zM716 804h4v2h-4zM776 804h4v2h-4zM834 804h2v2h-2zM594 806h4v2h-4zM654 806h14v2h-14zM714 806h4v2h-4zM776 806h4v2h-4zM832 806h4v2h-4zM596 808h4v2h-4zM650 808h16v2h-16zM714 808h4v2h-4zM774 808h4v2h-4zM832 808h4v2h-4zM598 810h2v2h-2zM650 810h14v2h-14zM712 810h4v2h-4zM774 810h4v2h-4zM832 810h4v2h-4zM598 812h4v2h-4zM648 812h14v2h-14zM712 812h2v2h-2zM774 812h4v2h-4zM832 812h4v2h-4zM600 814h2v2h-2zM650 814h8v2h-8zM710 814h4v2h-4zM774 814h4v2h-4zM832 814h4v2h-4zM600 816h4v2h-4zM708 816h4v2h-4zM774 816h4v2h-4zM832 816h4v2h-4zM602 818h2v2h-2zM680 818h4v2h-4zM704 818h2v2h-2zM774 818h4v2h-4zM832 818h4v2h-4zM602 820h2v2h-2zM662 820h8v2h-8zM678 820h2v2h-2zM686 820h2v2h-2zM774 820h6v2h-6zM832 820h4v2h-4zM602 822h2v2h-2zM660 822h18v2h-18zM702 822h2v2h-2zM774 822h6v2h-6zM832 822h4v2h-4zM602 824h4v2h-4zM660 824h18v2h-18zM776 824h6v2h-6zM832 824h4v2h-4zM602 826h4v2h-4zM660 826h18v2h-18zM700 826h2v2h-2zM776 826h6v2h-6zM832 826h4v2h-4zM602 828h4v2h-4zM660 828h20v2h-20zM686 828h2v2h-2zM778 828h6v2h-6zM832 828h4v2h-4zM602 830h2v2h-2zM660 830h28v2h-28zM780 830h6v2h-6zM832 830h4v2h-4zM600 832h4v2h-4zM660 832h28v2h-28zM782 832h6v2h-6zM832 832h4v2h-4zM598 834h4v2h-4zM662 834h32v2h-32zM782 834h6v2h-6zM832 834h4v2h-4zM594 836h8v2h-8zM662 836h28v2h-28zM784 836h6v2h-6zM832 836h4v2h-4zM592 838h6v2h-6zM662 838h26v2h-26zM786 838h8v2h-8zM832 838h4v2h-4zM592 840h6v2h-6zM662 840h24v2h-24zM788 840h8v2h-8zM832 840h4v2h-4zM590 842h6v2h-6zM664 842h20v2h-20zM790 842h10v2h-10zM830 842h6v2h-6zM590 844h6v2h-6zM664 844h20v2h-20zM794 844h12v2h-12zM828 844h8v2h-8zM590 846h6v2h-6zM664 846h18v2h-18zM798 846h16v2h-16zM822 846h14v2h-14zM590 848h6v2h-6zM664 848h18v2h-18zM800 848h34v2h-34zM590 850h6v2h-6zM666 850h16v2h-16zM804 850h28v2h-28zM590 852h6v2h-6zM666 852h14v2h-14zM806 852h26v2h-26zM590 854h6v2h-6zM666 854h14v2h-14zM808 854h22v2h-22zM590 856h6v2h-6zM666 856h14v2h-14zM808 856h20v2h-20zM590 858h6v2h-6zM666 858h14v2h-14zM808 858h20v2h-20zM590 860h6v2h-6zM666 860h14v2h-14zM810 860h18v2h-18zM590 862h6v2h-6zM666 862h14v2h-14zM810 862h18v2h-18zM590 864h6v2h-6zM666 864h14v2h-14zM810 864h18v2h-18zM590 866h6v2h-6zM666 866h14v2h-14zM808 866h20v2h-20zM590 868h6v2h-6zM666 868h14v2h-14zM808 868h20v2h-20z"/>
<path fill="#ff9100" d="M494 656h16v2h-16zM558 656h28v2h-28zM494 658h16v2h-16zM558 658h28v2h-28zM496 660h14v2h-14zM558 660h28v2h-28zM558 662h28v2h-28zM560 664h24v2h-24zM562 666h20v2h-20zM566 668h12v2h-12zM636 690h20v2h-20zM630 692h32v2h-32zM626 694h10v2h-10zM654 694h14v2h-14zM622 696h8v2h-8zM662 696h10v2h-10zM620 698h6v2h-6zM666 698h10v2h-10zM616 700h6v2h-6zM670 700h10v2h-10zM614 702h4v2h-4zM674 702h8v2h-8zM610 704h4v2h-4zM678 704h8v2h-8zM608 706h4v2h-4zM680 706h8v2h-8zM606 708h4v2h-4zM684 708h8v2h-8zM604 710h4v2h-4zM688 710h8v2h-8zM602 712h4v2h-4zM692 712h10v2h-10zM598 714h6v2h-6zM696 714h12v2h-12zM594 716h8v2h-8zM700 716h16v2h-16zM588 718h10v2h-10zM708 718h16v2h-16zM582 720h10v2h-10zM718 720h10v2h-10zM576 722h10v2h-10zM722 722h8v2h-8zM570 724h10v2h-10zM726 724h6v2h-6zM564 726h10v2h-10zM726 726h2v2h-2zM560 728h8v2h-8zM724 728h2v2h-2zM556 730h6v2h-6zM724 730h2v2h-2zM552 732h6v2h-6zM548 734h6v2h-6zM726 734h2v2h-2zM544 736h6v2h-6zM540 738h6v2h-6zM538 740h4v2h-4zM536 742h4v2h-4zM534 744h4v2h-4zM728 744h2v2h-2zM534 746h4v2h-4zM534 748h4v2h-4zM730 748h2v2h-2zM532 750h6v2h-6zM532 752h6v2h-6zM532 754h6v2h-6zM532 756h8v2h-8zM730 756h4v2h-4zM802 756h16v2h-16zM532 758h8v2h-8zM730 758h2v2h-2zM798 758h24v2h-24zM532 760h10v2h-10zM728 760h4v2h-4zM796 760h30v2h-30zM532 762h14v2h-14zM728 762h2v2h-2zM792 762h36v2h-36zM532 764h16v2h-16zM726 764h4v2h-4zM790 764h38v2h-38zM532 766h20v2h-20zM726 766h2v2h-2zM788 766h18v2h-18zM816 766h14v2h-14zM534 768h20v2h-20zM726 768h2v2h-2zM786 768h16v2h-16zM818 768h12v2h-12zM536 770h22v2h-22zM724 770h2v2h-2zM784 770h16v2h-16zM820 770h10v2h-10zM538 772h24v2h-24zM724 772h2v2h-2zM784 772h14v2h-14zM820 772h10v2h-10zM542 774h28v2h-28zM724 774h2v2h-2zM784 774h14v2h-14zM822 774h8v2h-8zM546 776h30v2h-30zM722 776h2v2h-2zM784 776h12v2h-12zM822 776h8v2h-8zM552 778h30v2h-30zM722 778h2v2h-2zM784 778h12v2h-12zM822 778h10v2h-10zM560 780h26v2h-26zM722 780h2v2h-2zM784 780h10v2h-10zM822 780h10v2h-10zM570 782h18v2h-18zM720 782h4v2h-4zM784 782h10v2h-10zM822 782h10v2h-10zM576 784h14v2h-14zM720 784h4v2h-4zM784 784h10v2h-10zM824 784h8v2h-8zM580 786h12v2h-12zM720 786h4v2h-4zM784 786h8v2h-8zM824 786h8v2h-8zM582 788h12v2h-12zM718 788h4v2h-4zM784 788h8v2h-8zM824 788h8v2h-8zM584 790h10v2h-10zM718 790h4v2h-4zM786 790h6v2h-6zM824 790h8v2h-8zM586 792h10v2h-10zM718 792h4v2h-4zM786 792h6v2h-6zM824 792h8v2h-8zM588 794h8v2h-8zM716 794h4v2h-4zM784 794h6v2h-6zM824 794h8v2h-8zM590 796h6v2h-6zM672 796h8v2h-8zM716 796h4v2h-4zM782 796h8v2h-8zM824 796h8v2h-8zM590 798h8v2h-8zM664 798h16v2h-16zM714 798h4v2h-4zM782 798h8v2h-8zM824 798h8v2h-8zM592 800h6v2h-6zM658 800h22v2h-22zM714 800h4v2h-4zM780 800h10v2h-10zM824 800h8v2h-8zM594 802h6v2h-6zM654 802h10v2h-10zM672 802h4v2h-4zM712 802h4v2h-4zM780 802h8v2h-8zM824 802h10v2h-10zM596 804h4v2h-4zM650 804h8v2h-8zM670 804h6v2h-6zM712 804h4v2h-4zM780 804h8v2h-8zM826 804h8v2h-8zM598 806h4v2h-4zM648 806h6v2h-6zM668 806h6v2h-6zM712 806h2v2h-2zM780 806h8v2h-8zM826 806h6v2h-6zM600 808h4v2h-4zM646 808h4v2h-4zM666 808h8v2h-8zM712 808h2v2h-2zM778 808h10v2h-10zM826 808h6v2h-6zM600 810h4v2h-4zM646 810h4v2h-4zM664 810h10v2h-10zM710 810h2v2h-2zM778 810h10v2h-10zM826 810h6v2h-6zM602 812h4v2h-4zM646 812h2v2h-2zM662 812h14v2h-14zM710 812h2v2h-2zM778 812h10v2h-10zM826 812h6v2h-6zM602 814h4v2h-4zM646 814h4v2h-4zM658 814h20v2h-20zM708 814h2v2h-2zM778 814h10v2h-10zM826 814h6v2h-6zM604 816h2v2h-2zM646 816h40v2h-40zM706 816h2v2h-2zM778 816h10v2h-10zM826 816h6v2h-6zM604 818h2v2h-2zM646 818h34v2h-34zM684 818h4v2h-4zM778 818h10v2h-10zM826 818h6v2h-6zM604 820h4v2h-4zM646 820h16v2h-16zM670 820h8v2h-8zM702 820h2v2h-2zM780 820h10v2h-10zM824 820h8v2h-8zM604 822h4v2h-4zM646 822h14v2h-14zM688 822h2v2h-2zM780 822h10v2h-10zM824 822h8v2h-8zM606 824h2v2h-2zM646 824h14v2h-14zM688 824h2v2h-2zM782 824h10v2h-10zM824 824h8v2h-8zM606 826h2v2h-2zM646 826h14v2h-14zM782 826h12v2h-12zM824 826h8v2h-8zM606 828h2v2h-2zM648 828h12v2h-12zM784 828h10v2h-10zM824 828h8v2h-8zM604 830h4v2h-4zM648 830h12v2h-12zM688 830h2v2h-2zM786 830h12v2h-12zM824 830h8v2h-8zM604 832h4v2h-4zM648 832h12v2h-12zM688 832h8v2h-8zM788 832h12v2h-12zM822 832h10v2h-10zM602 834h4v2h-4zM648 834h14v2h-14zM788 834h16v2h-16zM822 834h10v2h-10zM602 836h4v2h-4zM648 836h14v2h-14zM790 836h42v2h-42zM598 838h6v2h-6zM648 838h14v2h-14zM794 838h38v2h-38zM598 840h6v2h-6zM650 840h12v2h-12zM796 840h36v2h-36zM596 842h8v2h-8zM650 842h14v2h-14zM800 842h30v2h-30zM596 844h6v2h-6zM650 844h14v2h-14zM806 844h22v2h-22zM596 846h6v2h-6zM650 846h14v2h-14zM814 846h8v2h-8zM596 848h6v2h-6zM650 848h14v2h-14zM596 850h6v2h-6zM652 850h14v2h-14zM596 852h6v2h-6zM652 852h14v2h-14zM596 854h6v2h-6zM652 854h14v2h-14zM596 856h6v2h-6zM652 856h14v2h-14zM596 858h6v2h-6zM652 858h14v2h-14zM596 860h6v2h-6zM652 860h14v2h-14zM596 862h6v2h-6zM652 862h14v2h-14zM596 864h6v2h-6zM652 864h14v2h-14zM596 866h6v2h-6zM652 866h14v2h-14zM596 868h6v2h-6zM652 868h14v2h-14z"/>
<path fill="#ff8600" d="M636 694h18v2h-18zM630 696h32v2h-32zM626 698h8v2h-8zM654 698h12v2h-12zM622 700h6v2h-6zM662 700h8v2h-8zM618 702h4v2h-4zM666 702h8v2h-8zM614 704h6v2h-6zM670 704h8v2h-8zM612 706h4v2h-4zM674 706h6v2h-6zM610 708h4v2h-4zM678 708h6v2h-6zM608 710h4v2h-4zM680 710h8v2h-8zM606 712h4v2h-4zM684 712h8v2h-8zM604 714h6v2h-6zM688 714h8v2h-8zM602 716h6v2h-6zM690 716h10v2h-10zM598 718h6v2h-6zM694 718h14v2h-14zM592 720h10v2h-10zM700 720h18v2h-18zM586 722h10v2h-10zM708 722h14v2h-14zM580 724h10v2h-10zM716 724h10v2h-10zM574 726h10v2h-10zM722 726h4v2h-4zM568 728h10v2h-10zM562 730h10v2h-10zM558 732h8v2h-8zM724 732h2v2h-2zM554 734h8v2h-8zM550 736h8v2h-8zM726 736h2v2h-2zM546 738h10v2h-10zM542 740h10v2h-10zM726 740h2v2h-2zM540 742h8v2h-8zM726 742h2v2h-2zM538 744h6v2h-6zM538 746h4v2h-4zM728 746h2v2h-2zM538 748h4v2h-4zM728 748h2v2h-2zM538 750h4v2h-4zM728 750h4v2h-4zM538 752h6v2h-6zM728 752h4v2h-4zM538 754h12v2h-12zM726 754h6v2h-6zM540 756h16v2h-16zM726 756h4v2h-4zM540 758h20v2h-20zM726 758h4v2h-4zM542 760h20v2h-20zM724 760h4v2h-4zM546 762h18v2h-18zM724 762h4v2h-4zM548 764h20v2h-20zM722 764h4v2h-4zM552 766h20v2h-20zM722 766h4v2h-4zM806 766h10v2h-10zM554 768h28v2h-28zM720 768h6v2h-6zM802 768h16v2h-16zM558 770h38v2h-38zM720 770h4v2h-4zM800 770h20v2h-20zM562 772h38v2h-38zM720 772h4v2h-4zM798 772h22v2h-22zM570 774h32v2h-32zM718 774h6v2h-6zM798 774h24v2h-24zM576 776h28v2h-28zM718 776h4v2h-4zM796 776h26v2h-26zM582 778h22v2h-22zM718 778h4v2h-4zM796 778h26v2h-26zM586 780h18v2h-18zM716 780h6v2h-6zM794 780h28v2h-28zM588 782h16v2h-16zM716 782h4v2h-4zM794 782h28v2h-28zM590 784h14v2h-14zM716 784h4v2h-4zM794 784h30v2h-30zM592 786h12v2h-12zM716 786h4v2h-4zM792 786h32v2h-32zM594 788h10v2h-10zM714 788h4v2h-4zM792 788h32v2h-32zM594 790h12v2h-12zM714 790h4v2h-4zM792 790h32v2h-32zM596 792h10v2h-10zM714 792h4v2h-4zM792 792h32v2h-32zM596 794h10v2h-10zM650 794h30v2h-30zM712 794h4v2h-4zM790 794h34v2h-34zM596 796h10v2h-10zM646 796h26v2h-26zM680 796h2v2h-2zM712 796h4v2h-4zM790 796h34v2h-34zM598 798h8v2h-8zM644 798h20v2h-20zM680 798h2v2h-2zM712 798h2v2h-2zM790 798h34v2h-34zM598 800h10v2h-10zM642 800h16v2h-16zM680 800h2v2h-2zM710 800h4v2h-4zM790 800h34v2h-34zM600 802h8v2h-8zM640 802h14v2h-14zM676 802h6v2h-6zM710 802h2v2h-2zM788 802h36v2h-36zM600 804h8v2h-8zM640 804h10v2h-10zM676 804h4v2h-4zM710 804h2v2h-2zM788 804h38v2h-38zM602 806h8v2h-8zM638 806h10v2h-10zM674 806h6v2h-6zM710 806h2v2h-2zM788 806h38v2h-38zM604 808h6v2h-6zM638 808h8v2h-8zM674 808h8v2h-8zM710 808h2v2h-2zM788 808h38v2h-38zM604 810h6v2h-6zM638 810h8v2h-8zM674 810h10v2h-10zM788 810h38v2h-38zM606 812h6v2h-6zM636 812h10v2h-10zM676 812h12v2h-12zM708 812h2v2h-2zM788 812h38v2h-38zM606 814h6v2h-6zM636 814h10v2h-10zM678 814h12v2h-12zM788 814h38v2h-38zM606 816h6v2h-6zM636 816h10v2h-10zM686 816h4v2h-4zM788 816h38v2h-38zM606 818h6v2h-6zM636 818h10v2h-10zM688 818h2v2h-2zM788 818h38v2h-38zM608 820h6v2h-6zM634 820h12v2h-12zM688 820h2v2h-2zM790 820h34v2h-34zM608 822h6v2h-6zM634 822h12v2h-12zM790 822h34v2h-34zM608 824h6v2h-6zM634 824h12v2h-12zM700 824h2v2h-2zM792 824h32v2h-32zM608 826h6v2h-6zM634 826h12v2h-12zM688 826h2v2h-2zM794 826h30v2h-30zM608 828h6v2h-6zM634 828h14v2h-14zM688 828h2v2h-2zM698 828h2v2h-2zM794 828h30v2h-30zM608 830h6v2h-6zM634 830h14v2h-14zM690 830h2v2h-2zM696 830h2v2h-2zM798 830h26v2h-26zM608 832h6v2h-6zM634 832h14v2h-14zM800 832h22v2h-22zM606 834h8v2h-8zM634 834h14v2h-14zM804 834h18v2h-18zM606 836h8v2h-8zM634 836h14v2h-14zM604 838h10v2h-10zM634 838h14v2h-14zM604 840h10v2h-10zM634 840h16v2h-16zM604 842h10v2h-10zM634 842h16v2h-16zM602 844h10v2h-10zM634 844h16v2h-16zM602 846h10v2h-10zM634 846h16v2h-16zM602 848h10v2h-10zM634 848h16v2h-16zM602 850h10v2h-10zM636 850h16v2h-16zM602 852h10v2h-10zM636 852h16v2h-16zM602 854h10v2h-10zM636 854h16v2h-16zM602 856h10v2h-10zM636 856h16v2h-16zM602 858h10v2h-10zM636 858h16v2h-16zM602 860h10v2h-10zM636 860h16v2h-16zM602 862h10v2h-10zM636 862h16v2h-16zM602 864h10v2h-10zM636 864h16v2h-16zM602 866h10v2h-10zM636 866h16v2h-16zM602 868h10v2h-10zM636 868h16v2h-16z"/>
<path fill="#ff7700" d="M634 698h20v2h-20zM628 700h12v2h-12zM646 700h16v2h-16zM622 702h8v2h-8zM656 702h10v2h-10zM620 704h4v2h-4zM662 704h8v2h-8zM616 706h4v2h-4zM666 706h8v2h-8zM614 708h4v2h-4zM670 708h8v2h-8zM612 710h4v2h-4zM674 710h6v2h-6zM610 712h4v2h-4zM678 712h6v2h-6zM610 714h4v2h-4zM680 714h8v2h-8zM608 716h4v2h-4zM684 716h6v2h-6zM604 718h6v2h-6zM688 718h6v2h-6zM602 720h6v2h-6zM690 720h10v2h-10zM596 722h10v2h-10zM694 722h14v2h-14zM590 724h12v2h-12zM700 724h16v2h-16zM584 726h12v2h-12zM708 726h14v2h-14zM578 728h14v2h-14zM714 728h10v2h-10zM572 730h14v2h-14zM718 730h6v2h-6zM566 732h14v2h-14zM720 732h4v2h-4zM562 734h14v2h-14zM722 734h4v2h-4zM558 736h14v2h-14zM722 736h4v2h-4zM556 738h12v2h-12zM724 738h4v2h-4zM552 740h14v2h-14zM724 740h2v2h-2zM548 742h16v2h-16zM724 742h2v2h-2zM544 744h20v2h-20zM724 744h4v2h-4zM542 746h24v2h-24zM724 746h4v2h-4zM542 748h26v2h-26zM724 748h4v2h-4zM542 750h28v2h-28zM722 750h6v2h-6zM544 752h28v2h-28zM722 752h6v2h-6zM550 754h24v2h-24zM720 754h6v2h-6zM556 756h22v2h-22zM592 756h14v2h-14zM718 756h8v2h-8zM560 758h52v2h-52zM716 758h10v2h-10zM562 760h52v2h-52zM716 760h8v2h-8zM564 762h52v2h-52zM714 762h10v2h-10zM568 764h50v2h-50zM714 764h8v2h-8zM572 766h48v2h-48zM712 766h10v2h-10zM582 768h42v2h-42zM712 768h8v2h-8zM596 770h30v2h-30zM712 770h8v2h-8zM600 772h28v2h-28zM712 772h8v2h-8zM602 774h28v2h-28zM712 774h6v2h-6zM604 776h28v2h-28zM712 776h6v2h-6zM604 778h32v2h-32zM712 778h6v2h-6zM604 780h36v2h-36zM712 780h4v2h-4zM604 782h50v2h-50zM710 782h6v2h-6zM604 784h58v2h-58zM710 784h6v2h-6zM604 786h62v2h-62zM710 786h6v2h-6zM604 788h64v2h-64zM710 788h4v2h-4zM606 790h70v2h-70zM710 790h4v2h-4zM606 792h76v2h-76zM710 792h4v2h-4zM606 794h44v2h-44zM680 794h4v2h-4zM710 794h2v2h-2zM606 796h40v2h-40zM682 796h2v2h-2zM710 796h2v2h-2zM606 798h38v2h-38zM682 798h2v2h-2zM710 798h2v2h-2zM608 800h34v2h-34zM682 800h4v2h-4zM708 800h2v2h-2zM608 802h32v2h-32zM682 802h4v2h-4zM708 802h2v2h-2zM608 804h32v2h-32zM680 804h6v2h-6zM708 804h2v2h-2zM610 806h28v2h-28zM680 806h10v2h-10zM708 806h2v2h-2zM610 808h28v2h-28zM682 808h10v2h-10zM708 808h2v2h-2zM610 810h28v2h-28zM684 810h8v2h-8zM708 810h2v2h-2zM612 812h24v2h-24zM688 812h4v2h-4zM612 814h24v2h-24zM690 814h2v2h-2zM706 814h2v2h-2zM612 816h24v2h-24zM690 816h2v2h-2zM704 816h2v2h-2zM612 818h24v2h-24zM690 818h2v2h-2zM702 818h2v2h-2zM614 820h20v2h-20zM690 820h2v2h-2zM614 822h20v2h-20zM700 822h2v2h-2zM614 824h20v2h-20zM614 826h20v2h-20zM614 828h20v2h-20zM690 828h2v2h-2zM614 830h20v2h-20zM692 830h4v2h-4zM614 832h20v2h-20zM614 834h20v2h-20zM614 836h20v2h-20zM614 838h20v2h-20zM614 840h20v2h-20zM614 842h20v2h-20zM612 844h22v2h-22zM612 846h22v2h-22zM612 848h22v2h-22zM612 850h24v2h-24zM612 852h24v2h-24zM612 854h24v2h-24zM612 856h24v2h-24zM612 858h24v2h-24zM612 860h24v2h-24zM612 862h24v2h-24zM612 864h24v2h-24zM612 866h24v2h-24zM612 868h24v2h-24z"/>
<path fill="#ff6c00" d="M640 700h6v2h-6zM630 702h26v2h-26zM624 704h6v2h-6zM652 704h10v2h-10zM620 706h4v2h-4zM660 706h6v2h-6zM618 708h4v2h-4zM664 708h6v2h-6zM616 710h4v2h-4zM668 710h6v2h-6zM614 712h4v2h-4zM672 712h6v2h-6zM614 714h4v2h-4zM674 714h6v2h-6zM612 716h4v2h-4zM678 716h6v2h-6zM610 718h6v2h-6zM680 718h8v2h-8zM608 720h8v2h-8zM682 720h8v2h-8zM606 722h8v2h-8zM686 722h8v2h-8zM602 724h10v2h-10zM688 724h12v2h-12zM596 726h14v2h-14zM692 726h16v2h-16zM592 728h16v2h-16zM696 728h18v2h-18zM586 730h20v2h-20zM702 730h16v2h-16zM580 732h24v2h-24zM708 732h12v2h-12zM576 734h28v2h-28zM712 734h10v2h-10zM572 736h34v2h-34zM712 736h10v2h-10zM568 738h40v2h-40zM712 738h12v2h-12zM566 740h44v2h-44zM690 740h12v2h-12zM712 740h12v2h-12zM564 742h50v2h-50zM690 742h34v2h-34zM564 744h54v2h-54zM688 744h36v2h-36zM566 746h52v2h-52zM688 746h36v2h-36zM568 748h50v2h-50zM686 748h38v2h-38zM570 750h48v2h-48zM686 750h36v2h-36zM572 752h46v2h-46zM686 752h36v2h-36zM574 754h44v2h-44zM684 754h36v2h-36zM578 756h14v2h-14zM606 756h12v2h-12zM684 756h34v2h-34zM612 758h6v2h-6zM684 758h32v2h-32zM614 760h4v2h-4zM684 760h32v2h-32zM616 762h4v2h-4zM686 762h28v2h-28zM618 764h4v2h-4zM688 764h26v2h-26zM620 766h8v2h-8zM692 766h20v2h-20zM624 768h10v2h-10zM696 768h16v2h-16zM626 770h12v2h-12zM698 770h14v2h-14zM628 772h16v2h-16zM700 772h12v2h-12zM630 774h22v2h-22zM702 774h10v2h-10zM632 776h28v2h-28zM704 776h8v2h-8zM636 778h30v2h-30zM704 778h8v2h-8zM640 780h30v2h-30zM706 780h6v2h-6zM654 782h20v2h-20zM706 782h4v2h-4zM662 784h14v2h-14zM706 784h4v2h-4zM666 786h12v2h-12zM706 786h4v2h-4zM668 788h12v2h-12zM708 788h2v2h-2zM676 790h8v2h-8zM708 790h2v2h-2zM682 792h2v2h-2zM708 792h2v2h-2zM684 794h2v2h-2zM708 794h2v2h-2zM684 796h4v2h-4zM708 796h2v2h-2zM684 798h6v2h-6zM708 798h2v2h-2zM686 800h4v2h-4zM686 802h6v2h-6zM686 804h8v2h-8zM690 806h4v2h-4zM692 808h2v2h-2zM692 810h2v2h-2zM692 812h2v2h-2zM706 812h2v2h-2zM692 814h2v2h-2zM692 816h2v2h-2zM690 822h2v2h-2zM690 824h2v2h-2zM690 826h2v2h-2zM698 826h2v2h-2z"/>
<path fill="#ff5d00" d="M630 704h22v2h-22zM624 706h6v2h-6zM650 706h10v2h-10zM622 708h4v2h-4zM658 708h6v2h-6zM620 710h4v2h-4zM662 710h6v2h-6zM618 712h4v2h-4zM666 712h6v2h-6zM618 714h4v2h-4zM668 714h6v2h-6zM616 716h6v2h-6zM670 716h8v2h-8zM616 718h6v2h-6zM670 718h10v2h-10zM616 720h6v2h-6zM672 720h10v2h-10zM614 722h8v2h-8zM672 722h14v2h-14zM612 724h10v2h-10zM672 724h16v2h-16zM610 726h10v2h-10zM674 726h18v2h-18zM608 728h12v2h-12zM674 728h22v2h-22zM606 730h14v2h-14zM676 730h26v2h-26zM604 732h18v2h-18zM678 732h30v2h-30zM604 734h20v2h-20zM678 734h34v2h-34zM606 736h20v2h-20zM678 736h34v2h-34zM608 738h20v2h-20zM678 738h34v2h-34zM610 740h20v2h-20zM678 740h12v2h-12zM702 740h10v2h-10zM614 742h16v2h-16zM678 742h12v2h-12zM618 744h14v2h-14zM678 744h10v2h-10zM618 746h16v2h-16zM678 746h10v2h-10zM618 748h16v2h-16zM678 748h8v2h-8zM618 750h6v2h-6zM676 750h10v2h-10zM618 752h4v2h-4zM676 752h10v2h-10zM618 754h2v2h-2zM674 754h10v2h-10zM618 756h2v2h-2zM674 756h10v2h-10zM618 758h2v2h-2zM676 758h8v2h-8zM618 760h2v2h-2zM676 760h8v2h-8zM620 762h4v2h-4zM678 762h8v2h-8zM622 764h6v2h-6zM682 764h6v2h-6zM628 766h6v2h-6zM684 766h8v2h-8zM634 768h6v2h-6zM688 768h8v2h-8zM638 770h10v2h-10zM692 770h6v2h-6zM644 772h14v2h-14zM696 772h4v2h-4zM652 774h14v2h-14zM696 774h6v2h-6zM660 776h12v2h-12zM698 776h6v2h-6zM666 778h8v2h-8zM700 778h4v2h-4zM670 780h8v2h-8zM700 780h6v2h-6zM674 782h8v2h-8zM702 782h4v2h-4zM676 784h8v2h-8zM704 784h2v2h-2zM678 786h8v2h-8zM704 786h2v2h-2zM680 788h6v2h-6zM704 788h4v2h-4zM684 790h4v2h-4zM706 790h2v2h-2zM684 792h6v2h-6zM706 792h2v2h-2zM686 794h4v2h-4zM706 794h2v2h-2zM688 796h4v2h-4zM706 796h2v2h-2zM690 798h4v2h-4zM706 798h2v2h-2zM690 800h4v2h-4zM706 800h2v2h-2zM692 802h2v2h-2zM706 802h2v2h-2zM694 804h2v2h-2zM706 804h2v2h-2zM694 806h2v2h-2zM706 806h2v2h-2zM694 808h2v2h-2zM706 808h2v2h-2zM694 810h2v2h-2zM706 810h2v2h-2zM694 812h2v2h-2zM694 814h2v2h-2zM704 814h2v2h-2zM702 816h2v2h-2zM692 818h2v2h-2zM692 820h2v2h-2zM700 820h2v2h-2zM698 824h2v2h-2zM692 828h2v2h-2zM696 828h2v2h-2z"/>
<path fill="#ff4e00" d="M630 706h20v2h-20zM626 708h6v2h-6zM650 708h8v2h-8zM624 710h4v2h-4zM656 710h6v2h-6zM622 712h4v2h-4zM660 712h6v2h-6zM622 714h4v2h-4zM662 714h6v2h-6zM622 716h4v2h-4zM662 716h8v2h-8zM622 718h4v2h-4zM662 718h8v2h-8zM622 720h6v2h-6zM662 720h10v2h-10zM622 722h8v2h-8zM662 722h10v2h-10zM622 724h8v2h-8zM662 724h10v2h-10zM620 726h12v2h-12zM662 726h12v2h-12zM620 728h12v2h-12zM664 728h10v2h-10zM620 730h14v2h-14zM664 730h12v2h-12zM622 732h14v2h-14zM666 732h12v2h-12zM624 734h12v2h-12zM668 734h10v2h-10zM626 736h12v2h-12zM668 736h10v2h-10zM628 738h12v2h-12zM668 738h10v2h-10zM630 740h12v2h-12zM668 740h10v2h-10zM630 742h14v2h-14zM668 742h10v2h-10zM632 744h14v2h-14zM668 744h10v2h-10zM634 746h14v2h-14zM668 746h10v2h-10zM634 748h18v2h-18zM666 748h12v2h-12zM624 750h30v2h-30zM664 750h12v2h-12zM622 752h54v2h-54zM620 754h2v2h-2zM636 754h38v2h-38zM620 756h2v2h-2zM656 756h18v2h-18zM620 758h2v2h-2zM664 758h12v2h-12zM620 760h4v2h-4zM668 760h8v2h-8zM624 762h4v2h-4zM674 762h4v2h-4zM628 764h6v2h-6zM676 764h6v2h-6zM634 766h6v2h-6zM680 766h4v2h-4zM640 768h10v2h-10zM684 768h4v2h-4zM648 770h10v2h-10zM688 770h4v2h-4zM658 772h10v2h-10zM692 772h4v2h-4zM666 774h6v2h-6zM694 774h2v2h-2zM672 776h4v2h-4zM696 776h2v2h-2zM674 778h6v2h-6zM696 778h4v2h-4zM678 780h6v2h-6zM698 780h2v2h-2zM682 782h4v2h-4zM700 782h2v2h-2zM684 784h4v2h-4zM700 784h4v2h-4zM686 786h2v2h-2zM702 786h2v2h-2zM686 788h4v2h-4zM702 788h2v2h-2zM688 790h4v2h-4zM704 790h2v2h-2zM690 792h2v2h-2zM704 792h2v2h-2zM690 794h4v2h-4zM704 794h2v2h-2zM692 796h4v2h-4zM704 796h2v2h-2zM694 798h2v2h-2zM704 798h2v2h-2zM694 800h2v2h-2zM704 800h2v2h-2zM694 802h2v2h-2zM704 802h2v2h-2zM696 804h2v2h-2zM704 804h2v2h-2zM696 806h2v2h-2zM704 806h2v2h-2zM696 808h2v2h-2zM696 810h2v2h-2zM704 810h2v2h-2zM696 812h2v2h-2zM704 812h2v2h-2zM702 814h2v2h-2zM694 816h2v2h-2zM694 818h2v2h-2zM700 818h2v2h-2zM692 822h2v2h-2zM698 822h2v2h-2zM692 824h2v2h-2zM692 826h2v2h-2zM696 826h2v2h-2zM694 828h2v2h-2z"/>
<path fill="#ff4300" d="M632 708h18v2h-18zM628 710h6v2h-6zM646 710h10v2h-10zM626 712h6v2h-6zM654 712h6v2h-6zM626 714h4v2h-4zM656 714h6v2h-6zM626 716h6v2h-6zM658 716h4v2h-4zM626 718h6v2h-6zM658 718h4v2h-4zM628 720h8v2h-8zM658 720h4v2h-4zM630 722h10v2h-10zM656 722h6v2h-6zM630 724h14v2h-14zM654 724h8v2h-8zM632 726h30v2h-30zM632 728h32v2h-32zM634 730h30v2h-30zM636 732h30v2h-30zM636 734h32v2h-32zM638 736h30v2h-30zM640 738h28v2h-28zM642 740h26v2h-26zM644 742h24v2h-24zM646 744h22v2h-22zM648 746h20v2h-20zM652 748h14v2h-14zM654 750h10v2h-10zM622 754h14v2h-14zM622 756h2v2h-2zM632 756h24v2h-24zM622 758h2v2h-2zM640 758h24v2h-24zM624 760h4v2h-4zM654 760h14v2h-14zM628 762h6v2h-6zM664 762h10v2h-10zM634 764h8v2h-8zM672 764h4v2h-4zM640 766h10v2h-10zM674 766h6v2h-6zM650 768h10v2h-10zM678 768h6v2h-6zM658 770h12v2h-12zM682 770h6v2h-6zM668 772h6v2h-6zM686 772h6v2h-6zM672 774h6v2h-6zM690 774h4v2h-4zM676 776h6v2h-6zM692 776h4v2h-4zM680 778h6v2h-6zM694 778h2v2h-2zM684 780h4v2h-4zM696 780h2v2h-2zM686 782h4v2h-4zM696 782h4v2h-4zM688 784h2v2h-2zM698 784h2v2h-2zM688 786h4v2h-4zM700 786h2v2h-2zM690 788h4v2h-4zM700 788h2v2h-2zM692 790h2v2h-2zM702 790h2v2h-2zM692 792h4v2h-4zM702 792h2v2h-2zM694 794h4v2h-4zM702 794h2v2h-2zM696 796h2v2h-2zM702 796h2v2h-2zM696 798h2v2h-2zM702 798h2v2h-2zM696 800h2v2h-2zM696 802h2v2h-2zM698 804h2v2h-2zM698 806h2v2h-2zM698 808h2v2h-2zM704 808h2v2h-2zM698 810h2v2h-2zM698 812h2v2h-2zM702 812h2v2h-2zM696 814h2v2h-2zM696 816h2v2h-2zM700 816h2v2h-2zM696 818h2v2h-2zM694 820h2v2h-2zM698 820h2v2h-2zM694 822h2v2h-2zM694 824h4v2h-4zM694 826h2v2h-2z"/>
<path fill="#ff3400" d="M634 710h12v2h-12zM632 712h22v2h-22zM630 714h10v2h-10zM648 714h8v2h-8zM632 716h8v2h-8zM650 716h8v2h-8zM632 718h26v2h-26zM636 720h22v2h-22zM640 722h16v2h-16zM644 724h10v2h-10zM624 756h8v2h-8zM624 758h16v2h-16zM628 760h26v2h-26zM634 762h30v2h-30zM642 764h30v2h-30zM650 766h24v2h-24zM660 768h18v2h-18zM670 770h12v2h-12zM674 772h12v2h-12zM678 774h12v2h-12zM682 776h10v2h-10zM686 778h8v2h-8zM688 780h8v2h-8zM690 782h6v2h-6zM690 784h8v2h-8zM692 786h8v2h-8zM694 788h6v2h-6zM694 790h8v2h-8zM696 792h6v2h-6zM698 794h4v2h-4zM698 796h4v2h-4zM698 798h4v2h-4zM698 800h6v2h-6zM698 802h6v2h-6zM700 804h4v2h-4zM700 806h4v2h-4zM700 808h4v2h-4zM700 810h4v2h-4zM700 812h2v2h-2zM698 814h4v2h-4zM698 816h2v2h-2zM698 818h2v2h-2zM696 820h2v2h-2zM696 822h2v2h-2z"/>
<path fill="#ff2900" d="M640 714h8v2h-8zM640 716h10v2h-10z"/>
</g>
<path d="M340.0 247.0L342.6 246.4L345.3 245.8L348.0 246.0L350.6 245.5L352.8 243.9L355.5 243.8L358.0 243.0L360.1 245.4L362.0 248.0L365.3 249.5L368.0 252.0L370.7 252.3L373.4 252.0L376.0 253.0L378.7 252.6L381.3 251.7L384.0 252.0L386.4 253.6L388.1 255.9L390.0 258.0L392.9 257.1L395.1 254.9L398.0 254.0L398.3 250.9L399.5 248.0L400.0 245.0L402.6 245.1L405.0 244.1L407.5 243.4L410.0 243.0L413.1 243.2L415.9 241.4L419.1 242.0L422.0 241.0L422.7 237.9L424.0 235.0L425.1 232.7L426.6 230.7L428.3 228.8L430.0 227.0L432.5 227.2L435.0 226.1L437.5 226.4L440.0 226.0L442.5 225.8L445.0 225.1L447.5 225.0L450.0 224.6L453.0 224.1L456.0 224.2L459.0 224.5L462.0 225.0L463.8 226.9L466.1 228.3L468.0 230.0L470.2 231.6L471.9 233.6L474.0 235.2L476.0 237.0L478.8 238.4L481.1 240.7L484.0 242.0L486.4 243.0L489.1 243.2L491.5 244.3L494.0 245.0L497.0 246.0L500.0 247.0L502.7 246.5L505.1 245.3L507.4 243.7L510.0 243.0L512.5 243.7L515.0 242.5L517.5 242.9L520.0 243.0L522.7 242.1L524.8 240.1L527.5 239.2L530.0 238.0L532.4 236.4L535.4 236.2L538.0 235.0L540.6 234.6L543.0 233.6L545.7 233.3L548.0 232.0L551.0 231.4L554.0 231.6L557.0 231.1L560.0 230.6M736.0 201.0L736.7 198.2L737.2 195.4L739.0 193.0L741.7 191.9L743.7 189.7L746.0 188.0L748.7 188.5L751.3 187.2L754.0 187.4L756.9 187.6L759.1 189.9L762.0 190.0L764.1 192.0L766.7 192.4L769.3 193.0L772.0 193.0L774.4 194.8L777.1 195.6L780.0 196.0L783.0 197.1L785.3 199.4L788.0 201.0L790.4 199.7L793.0 199.0L795.5 200.3L797.0 202.3L798.0 204.7L799.0 207.0L800.6 209.1L800.5 211.9L802.0 214.0L799.9 217.2L800.0 221.0L803.0 222.0L804.9 219.9L807.0 218.0L809.8 219.8L812.7 220.6L816.0 220.0L818.7 219.4L820.0 217.0L822.8 218.0L825.7 219.0L828.0 221.0L830.6 221.1L833.0 221.9L835.4 222.7L837.5 224.5L840.0 225.0" fill="none" stroke="#808080" stroke-width="1.56" stroke-linejoin="round"/>
<path d="M340.0 247.0L344.0 244.6L340.0 244.0M500.0 247.0L495.0 254.0L497.0 249.0L494.0 248.0M446.0 190.6L448.5 190.3L451.0 189.8L453.6 189.7L456.0 189.0L458.9 189.9L462.0 190.0L465.0 190.7L468.0 191.0L470.4 189.8L473.1 189.7L475.5 188.9L478.0 188.0L480.5 188.5L483.0 188.3L485.5 187.8L488.0 188.0L490.7 189.2L493.3 190.8L496.0 192.0L498.3 193.3L500.0 195.3L502.0 197.0L504.6 197.4L507.1 198.1L509.6 198.8L512.0 200.0L514.4 201.2L517.1 201.7L519.6 202.8L522.0 204.0L523.7 205.9L524.9 208.2L527.1 209.7L528.4 212.0L530.0 214.0L531.6 216.2L532.9 218.6L534.5 220.8L536.1 223.0L538.0 225.0L540.6 226.4L543.0 228.1L545.6 229.7L548.0 231.4M427.0 875.0L429.0 879.0L427.6 883.0M436.0 871.0L439.0 875.0M555.0 795.0L557.0 801.0L559.0 805.0L558.0 815.0L560.0 819.0M732.0 205.0L737.0 201.0L742.0 203.0M800.0 221.0L796.0 231.0L799.0 225.0L804.0 225.0L805.0 220.0M789.0 205.0L790.0 201.0M604.0 200.0L610.0 203.0L616.0 204.0L617.0 207.0M840.0 528.0L834.0 533.0L826.0 540.0L816.0 542.0L808.0 543.0L796.0 543.0L786.0 547.0L776.0 552.0L766.0 555.0L756.0 560.0L746.0 566.0L738.0 572.0L732.0 578.0L730.0 587.0L729.6 597.0L730.4 607.0L729.0 617.0L726.0 625.0L720.0 631.0L714.0 637.0L709.0 645.0M888.0 388.0L886.0 384.0L884.0 385.0L885.0 390.0Z" fill="none" stroke="#808080" stroke-width="1.38" stroke-linejoin="round"/>
<path d="M488.0 188.0L500.0 196.0L510.0 201.0L522.0 204.0M524.0 205.0L534.0 221.0L542.0 229.0L549.0 231.0M501.0 153.4L507.0 163.0L510.0 177.0L512.0 191.0L509.0 194.0L522.0 204.0M396.0 209.0L390.6 258.0M312.0 203.0L316.0 209.0L327.0 215.0L330.0 221.0L335.0 225.0L338.0 231.0L350.0 230.0L360.0 226.0L370.0 226.0L378.0 228.0L388.0 232.0L377.0 252.0M280.0 179.0L292.0 183.0L302.0 189.0L306.0 195.0L312.0 203.0L320.0 198.0L332.0 197.0L344.0 198.0L350.0 191.0L359.0 186.0L358.0 181.0L346.0 175.0L334.0 167.0L324.0 162.0L297.0 149.0M297.0 149.0L300.0 141.0L306.0 129.0L310.0 117.0L311.0 112.0M324.0 162.0L324.4 153.0L336.0 147.0L350.0 144.0L364.0 144.0L372.0 135.0L380.0 131.0L392.0 128.0L404.0 122.0L418.0 120.0L424.0 125.0L427.0 130.0L420.0 137.0L418.0 140.0L428.0 145.0L432.0 155.0L434.0 164.0L444.0 171.0L452.0 170.0L458.0 167.0L460.0 172.0L466.0 165.0L478.0 159.0L486.0 150.0L493.0 145.0L492.0 143.0L482.0 142.0L478.0 129.0L472.0 119.0L468.0 113.0L472.0 114.0L480.0 118.0L492.0 117.0L500.0 123.0L506.0 116.0L516.0 112.0L526.0 108.0L532.0 106.0M418.0 120.0L416.0 111.0L417.0 105.0M364.0 144.0L362.0 105.0M364.0 144.0L370.0 150.0L371.0 156.0L380.0 158.0L385.0 159.0L412.0 157.4L413.0 153.4L416.0 156.0L420.0 155.0L426.0 150.0L430.0 155.0L432.0 164.0M385.0 159.0L386.0 170.0L396.0 169.4L399.0 174.0L398.0 177.0L388.0 177.0L384.0 182.0L384.0 189.0L380.0 191.0L384.0 201.0L392.0 204.0L396.0 209.0M359.0 186.0L374.0 187.4L380.0 191.0M280.0 133.0L284.0 145.0L282.0 153.0M280.0 169.0L297.0 149.0M280.0 123.0L286.0 117.0L288.0 105.0M298.0 105.0L299.0 119.0L306.0 125.0L312.0 112.0L310.0 121.0L307.0 127.0M320.0 107.0L328.0 113.0L327.0 121.0L318.0 117.0L316.0 121.0L306.0 129.0M328.0 113.0L334.0 119.0L346.0 115.0L362.0 107.0M280.0 199.0L292.0 195.0L298.0 205.0L299.0 211.0L295.0 211.0L292.0 225.0L280.0 237.0M280.0 218.0L288.0 219.0L294.0 221.0M390.0 258.0L384.0 256.0L376.0 258.0L366.0 263.0L356.0 267.0L348.0 273.0L344.0 277.0L343.0 285.0L340.0 293.0L340.0 301.0L334.0 307.0L332.0 315.0M280.0 297.0L288.0 295.0L292.0 300.0L300.0 298.0L304.0 303.0L303.0 309.0L296.0 309.0L294.0 315.0M332.0 309.4L348.0 314.6M497.0 315.0L499.0 310.6L512.0 310.6L515.0 315.0M495.0 237.0L502.0 240.0M502.0 233.6L508.0 236.0M525.0 230.6L530.0 229.4M516.0 254.0L518.0 252.6M548.0 133.0L552.0 143.0L560.0 155.0M551.0 111.0L553.0 121.0L549.0 131.0L548.0 133.0M560.0 176.0L550.0 176.0L548.0 185.0L540.0 189.0L538.0 193.0L532.0 189.0L526.0 191.0L524.0 199.0L523.0 204.0M280.0 385.0L286.0 395.0L294.0 403.0L300.0 411.0L306.0 416.0L305.0 425.0L310.0 433.0L320.0 440.0L328.0 447.0L338.0 451.0L346.0 455.0L360.0 461.0L370.0 465.0L380.0 468.0L389.0 472.0L391.0 476.0L400.0 481.0L408.0 485.0L410.0 495.0L413.0 507.0L414.4 517.0L416.0 525.0M348.0 315.0L392.0 321.0L420.0 333.0L450.0 344.0M330.0 315.0L335.0 323.0L342.0 335.0L349.0 341.0L346.0 346.0L360.0 348.0L364.0 354.0L376.0 353.0L384.0 347.0L388.0 343.0L389.0 368.0L398.0 367.0L406.0 365.0L418.0 366.0L428.0 363.0L436.0 355.0L450.0 344.0M450.0 344.0L456.0 341.0L468.0 339.0L472.0 341.0L471.0 353.0L464.0 355.0L458.0 367.0L452.0 371.0L450.0 384.0M471.0 353.0L478.0 371.0L488.0 379.0L500.0 383.0L510.0 385.0L520.0 390.0L530.0 397.0L540.0 396.0L548.0 397.0L554.0 389.0L560.0 385.0M494.0 315.0L490.0 321.0L480.0 329.0L472.0 335.0L468.0 339.0M516.0 315.0L526.0 319.0L533.0 322.6L560.0 321.0M533.0 322.6L532.0 345.0L540.0 356.0L560.0 358.0M406.0 365.0L422.0 388.0L418.0 399.0L421.0 415.0L416.0 427.0L418.0 435.0L424.0 455.0L416.0 467.0L418.0 471.0M422.0 388.0L433.0 378.6L450.0 384.0M408.0 485.0L418.0 471.0L424.0 477.0L428.0 489.0L436.0 501.0L434.0 515.0L438.0 525.0M450.0 384.0L448.0 399.0L444.0 415.0L447.0 427.0L454.0 439.0L457.0 455.0L458.0 463.0L452.0 465.0L442.0 471.0L432.0 471.0L424.0 477.0M454.0 439.0L468.0 447.0L476.0 443.0L480.0 437.0L489.0 436.0L510.0 433.0L503.0 411.0L530.0 397.0M489.0 436.0L488.0 451.0L497.0 459.0L490.0 469.0L498.0 479.0L504.0 489.0L507.0 485.0L510.0 507.0L531.0 506.6M458.0 463.0L466.0 475.0L470.0 489.0L450.0 503.0L436.0 501.0M462.0 475.0L472.0 471.0L480.0 477.0L486.0 485.0L491.0 493.0L492.0 499.0L485.0 506.0L486.0 525.0M477.0 477.0L480.0 483.0L496.0 480.0M531.0 506.6L537.0 493.0L560.0 487.0M531.0 506.6L531.0 515.0L530.0 525.0M488.0 517.0L504.0 515.0L531.0 514.0M488.0 517.0L490.0 525.0M408.0 435.0L414.0 439.0L420.0 447.0L428.0 449.0L426.0 453.0L420.0 449.0L416.0 443.0L410.0 439.0ZM418.0 435.0L421.0 443.0L427.0 448.0M455.0 475.0L457.0 481.0L459.0 491.0L457.0 491.0L455.0 483.0L454.0 476.0ZM280.0 334.0L286.0 339.0L294.0 340.0L299.0 343.0L300.0 335.0L295.0 325.0L294.0 315.0M299.0 343.0L306.0 350.0L313.0 345.0L318.0 337.0L323.0 338.0L323.0 351.0L327.0 352.0L330.0 371.0L338.0 369.0L344.0 373.0L346.0 383.0L342.0 393.0L334.0 395.0L328.0 392.0L322.0 392.0L318.0 403.0L313.0 411.0L306.0 416.0M280.0 365.0L286.0 369.0L293.0 367.0L302.0 366.0L292.0 369.0L298.0 383.0L304.0 392.0L313.0 397.0L315.0 403.0M302.0 375.0L310.0 373.0L320.0 370.0L330.0 371.0M327.0 352.0L304.0 359.0L292.0 368.0M280.0 351.0L285.0 355.0L288.0 367.0M280.0 345.0L288.0 351.0L287.0 355.0M346.0 377.0L352.0 375.0L360.0 373.0L366.0 373.0L368.0 375.0L363.0 379.0L364.0 387.0L372.0 394.0L376.0 398.0L390.0 402.0L398.0 400.0L408.0 403.0L418.0 399.0M398.0 400.0L392.0 411.0L391.0 423.0L389.0 429.0L395.0 445.0L395.0 453.0L389.0 457.0L388.0 465.0L390.0 475.0M395.0 445.0L404.0 453.0L408.0 462.0L418.0 467.0M408.0 462.0L400.0 464.0L395.0 475.0M328.0 392.0L334.0 403.0L333.0 408.0L328.0 413.0L330.0 423.0L325.0 426.0L327.0 435.0L332.0 442.0L344.0 447.0L354.0 443.0L360.0 437.0L368.0 431.0L374.0 430.0L380.0 433.0L389.0 429.0M343.0 410.0L348.0 419.0L351.0 433.0L360.0 430.0L368.0 427.0L372.0 419.0L366.0 413.0L356.0 411.0L349.0 412.0L344.0 410.0M322.0 392.0L317.0 407.0L314.0 415.0L318.0 423.0L325.0 426.0M334.0 395.0L340.0 395.0L346.0 405.0L349.0 412.0M452.0 403.0L451.0 408.0M464.0 393.0L466.0 395.0M471.0 390.0L472.0 393.0M496.0 402.0L498.0 404.0M540.0 458.0L542.0 459.0M300.0 377.0L302.0 378.6M415.6 525.0L417.0 537.0L416.0 549.0L413.0 561.0L414.0 569.0L417.0 577.0L419.0 591.0L417.0 605.0L419.0 615.0L417.0 627.0L418.0 639.0L414.0 653.0L417.0 663.0L418.0 673.0L415.0 681.0L418.0 693.0L421.0 705.0L424.0 715.0L422.0 725.0L423.0 735.0M418.0 533.0L428.0 530.0L436.0 527.0M438.0 525.0L443.0 531.0L448.0 541.0L452.0 551.0L462.0 550.0L464.0 561.0L461.0 568.0L450.0 575.0L446.0 581.0L447.6 589.0L450.0 601.0L449.0 609.0L453.0 617.0L446.0 623.0L444.0 631.0L440.0 639.0L437.0 647.0L436.0 661.0L437.0 673.0L434.0 683.0L433.0 691.0L437.0 699.0L439.0 709.0L446.0 723.0L448.0 735.0M418.0 605.0L428.0 601.0L438.0 595.0L447.6 589.0M414.0 657.0L422.0 655.0L430.0 659.0L436.0 663.0M421.0 705.0L428.0 702.0L438.0 705.0M424.0 715.0L430.0 712.0L438.0 717.0L445.0 720.0M434.0 733.0L440.0 730.0L448.0 733.0M462.0 550.0L466.0 541.0L474.0 533.0L480.0 535.0L488.0 536.0L489.0 545.0L496.0 555.0L506.0 556.0L507.0 569.0L502.0 573.0L492.0 572.0L484.0 568.0L479.0 563.0L478.0 558.0L474.0 558.0L475.0 568.0L464.0 566.0M488.0 536.0L487.0 525.0M488.0 536.0L498.0 535.0L503.0 545.0M508.0 532.0L524.0 531.0L532.0 539.0M529.0 525.0L528.0 533.0L532.0 539.0L550.0 555.0L560.0 565.0M532.0 539.0L536.0 563.0L530.0 575.0L521.0 588.0M447.6 589.0L475.0 587.4L477.0 593.0L473.0 595.0L480.0 603.0L490.0 599.0L506.0 600.0M480.0 603.0L488.0 611.0L485.0 619.0L495.0 629.0L500.0 623.0L503.0 609.0L506.0 600.0L509.0 589.0L545.0 587.0L547.0 623.0L560.0 622.6M547.0 623.0L545.0 655.0L546.0 665.0M446.0 631.0L452.0 630.0L460.0 635.0L472.0 636.0L482.0 639.0L492.0 649.0L502.0 659.0L506.0 652.0L516.0 650.0L526.0 653.0L542.0 653.0M500.0 623.0L503.0 637.0L506.0 652.0M440.0 642.0L446.0 645.0L450.0 651.0L450.0 659.0L464.0 663.0L476.0 675.0L480.0 685.0L484.0 691.0L498.0 690.0L506.0 693.0M502.0 659.0L498.0 669.0L497.0 683.0L498.0 690.0M477.0 693.0L484.0 691.0M477.0 693.0L482.0 709.0L486.0 723.0L491.0 735.0M446.0 701.0L454.0 698.0L466.0 697.0L477.0 699.0M506.0 693.0L510.0 697.0L511.0 709.0L513.0 725.0L514.0 735.0M546.0 665.0L548.0 685.0L553.0 697.0L547.0 713.0L542.0 725.0M542.0 725.0L535.0 727.0L536.0 735.0M538.0 545.0L546.0 551.0L554.0 557.0L560.0 555.0M554.0 557.0L560.0 560.0M439.0 580.0L439.4 582.0M534.0 667.4L538.0 665.0L544.0 666.0L543.0 669.0L538.0 670.6ZM423.0 735.0L421.0 745.0L418.0 755.0L417.0 765.0L414.0 781.0L412.0 789.0L408.0 792.0L410.0 803.0L414.0 811.0L416.0 819.0L420.0 825.0L418.0 835.0L417.0 847.0L418.0 857.0L421.0 863.0L420.0 867.0L427.0 865.0L432.0 863.0M420.0 868.0L426.0 867.0L428.0 875.0L429.0 883.0L427.0 891.0L420.0 892.0L421.0 883.0L419.0 875.0ZM432.0 863.0L438.0 867.0L440.0 875.0L438.0 883.0L440.0 891.0L444.0 893.0L449.0 887.0L450.0 895.0L456.0 895.0L454.0 901.0L460.0 903.0L462.0 909.0L458.0 915.0L463.0 919.0L460.0 927.0L466.0 933.0L468.0 937.0L460.0 939.0L456.0 945.0M421.0 745.0L432.0 743.0L444.0 747.0M418.0 755.0L428.0 754.0L440.0 755.0L445.0 757.0M420.0 759.0L424.0 771.0L438.0 774.0L440.0 785.0M414.0 781.0L424.0 789.0L438.0 788.0M416.0 795.0L428.0 797.0L438.0 795.0L440.0 801.0M418.0 807.0L430.0 807.0L442.0 812.0M420.0 825.0L432.0 823.0L442.0 823.0M418.0 841.0L430.0 841.0L440.0 843.0M420.0 851.0L430.0 852.0L438.0 850.0M426.0 762.0L438.0 761.0L440.0 767.0M446.0 735.0L445.0 747.0L446.0 757.0L447.0 769.0L440.0 775.0L439.0 787.0L446.0 801.0L447.0 807.0L442.0 813.0L441.0 823.0L442.0 835.0L440.0 843.0L446.0 845.0L450.0 849.0L444.0 853.0L445.0 861.0L447.0 865.0L445.0 875.0L450.0 883.0L452.0 891.0L456.0 895.0M447.0 769.0L454.0 778.0L468.0 782.0L478.0 784.0L484.0 787.0L488.0 793.0L500.0 797.0L506.0 800.0L520.0 799.0L532.0 800.0L542.0 804.0M474.0 760.0L495.0 756.6L514.0 754.0L515.0 735.0M474.0 760.0L477.0 775.0L480.0 795.0L481.0 809.0L472.0 819.0L462.0 826.0L460.0 835.0L452.0 841.0L450.0 847.0M495.0 756.6L494.0 745.0L492.0 735.0M513.0 737.0L536.0 736.0L546.0 823.0L546.0 827.0L554.0 831.0L560.0 829.0M447.0 863.0L527.0 850.6M560.0 823.0L556.0 827.0L550.0 831.0L538.0 833.0L528.0 830.0L525.0 835.0L528.0 843.0L527.0 850.6L530.0 856.0L537.0 853.0L543.0 849.4L547.0 854.0L545.6 860.6L538.0 863.0L531.0 863.4L532.4 860.0L539.0 857.4M531.0 863.4L534.0 869.0L530.0 875.0L529.0 883.0L530.0 889.0L527.0 895.0L522.0 901.0L516.0 905.0L512.0 909.0L510.0 915.0L508.0 920.0L510.0 927.0L518.0 933.0L530.0 935.0L532.0 945.0M461.0 928.0L508.0 920.0M464.0 745.0L466.0 746.6M434.0 820.0L435.0 829.0M432.0 836.0L434.0 838.0L432.0 839.0M442.0 844.0L450.0 847.0L448.0 849.0M488.0 911.0L492.0 912.0L495.0 916.0L490.0 916.0ZM430.0 852.0L432.0 855.0L430.0 857.0M686.0 105.0L687.7 107.3L689.7 109.3L692.0 111.0L692.3 113.5L692.3 116.0L692.4 118.5L693.0 121.0L694.5 123.6L694.8 126.7L695.5 129.6L696.7 132.3L698.0 135.0L699.1 137.8L700.7 140.3L702.0 143.0L704.7 144.7L707.0 147.0L709.3 148.8L712.0 150.0L713.2 153.4L714.0 157.0L712.7 159.5L711.5 162.1L711.0 165.0L709.6 168.1L708.0 171.0M703.0 142.0L707.0 143.0L706.0 147.0M725.6 186.0L726.0 190.6M774.0 201.0L772.0 209.0L768.0 219.0L760.0 237.0L752.0 249.0L744.0 257.0L734.0 263.0M734.0 263.0L742.0 263.0L752.0 267.0L752.0 285.0L748.0 295.0L758.0 305.0L766.0 305.0L762.0 315.0M734.0 263.0L740.0 268.0L736.0 277.0L730.0 287.0L726.0 292.0L723.0 305.0L720.0 315.0M840.0 233.0L832.0 237.0L826.0 249.0L825.0 265.0L826.0 281.0L810.0 287.0L796.0 294.0L786.0 301.0L781.0 309.0L779.0 315.0M634.0 140.0L635.0 148.0L644.0 152.0L654.0 158.0L660.0 165.0L664.0 177.0L670.0 189.0L675.0 196.0L680.0 198.0M640.0 105.0L646.0 117.0L644.0 129.0L642.0 139.0L634.0 140.0M658.0 105.0L660.0 121.0L658.0 133.0L657.0 140.0L662.0 142.0L668.0 135.0L678.0 119.0L686.0 105.0M574.0 105.0L580.0 115.0L586.0 123.0L592.0 125.0L596.0 135.0L602.0 145.0L610.0 148.0L614.0 147.0L612.0 137.0L610.0 129.0L608.0 125.0L612.0 123.0L622.0 121.0L626.0 113.0L630.0 105.0M596.0 109.0L600.0 115.0L606.0 113.0L610.0 117.0L608.0 125.0M560.0 156.0L568.0 159.0L576.0 153.0L590.0 148.0L596.0 146.0L602.0 145.0M614.0 147.0L626.0 138.0L634.0 140.0M567.0 159.0L569.0 185.0L580.0 203.0L592.0 207.0L608.0 215.0M608.0 219.0L580.0 288.0L584.0 295.0L592.0 315.0M560.0 176.0L568.0 176.0M580.0 288.0L586.0 305.0L581.0 315.0M597.0 226.0L602.0 224.0M592.0 315.0L598.0 322.0L606.0 329.0L708.0 334.4M560.0 320.0L579.0 319.4L580.0 315.0M719.0 315.0L714.0 325.0L708.0 334.4L703.0 347.0L702.0 367.0L700.0 385.0L696.0 401.0L690.0 414.0L684.0 423.0L674.0 435.0L664.0 447.0L664.0 459.0L669.0 471.0L680.0 475.0L690.0 481.0L698.0 484.0M698.0 484.0L706.0 475.0L718.0 469.0L730.0 467.0L744.0 465.0L750.0 459.0L752.0 445.0L749.0 437.0L758.0 431.0L758.0 417.0L764.0 412.0L772.0 415.0L774.0 409.0L769.0 395.0L768.0 379.0L771.0 363.0L765.0 358.0L770.0 347.0L777.0 343.0M762.0 315.0L758.0 320.0L764.0 330.0L768.0 339.0L777.0 343.0L775.0 325.0L777.0 315.0M777.0 343.0L784.0 347.0L792.0 351.0L804.0 345.0L810.0 335.0L809.0 329.0L818.0 328.0L830.0 329.0L840.0 326.0M772.0 415.0L782.0 413.0L790.0 409.0L800.0 405.0L806.0 411.0L818.0 412.0L828.0 415.0L836.0 419.0L840.0 424.0M738.0 423.0L751.0 423.0L752.0 431.0L738.0 431.4ZM698.0 484.0L696.0 491.0L688.0 501.0L682.0 513.0L676.0 525.0M698.0 491.0L704.0 489.0L716.0 491.0L724.0 495.0L726.0 499.0L734.0 495.0L746.0 493.0L752.0 497.0L753.0 507.0L758.0 515.0L760.0 525.0M560.0 438.4L585.0 437.4L585.0 447.0L590.0 453.0L595.0 456.0L598.0 467.0L596.0 481.0L590.0 495.0L595.0 495.0L591.0 501.0L595.0 507.0L596.0 525.0M560.0 486.0L572.0 485.0L584.0 489.0L590.0 493.0M560.0 489.0L568.0 499.0L576.0 507.0L582.0 513.0L593.0 513.0M840.0 495.0L834.0 501.0L830.0 507.0L829.0 515.0L824.0 519.0L822.0 525.0M760.0 525.0L762.0 531.0L766.0 537.0L776.0 535.0L788.0 533.0L794.0 537.0L790.0 543.0M714.0 626.0L704.0 624.0L696.0 617.0L688.0 611.0L678.0 606.0L666.0 604.0L656.0 605.0L646.0 609.0L638.0 615.0L630.0 623.0L624.0 631.0L618.0 639.0L612.0 647.0L608.0 653.0L603.0 663.0M693.0 592.0L700.0 587.0L710.0 590.0L720.0 587.0L730.0 585.0M693.0 592.0L688.0 595.0L672.0 593.0L658.0 591.0M648.0 579.0L654.0 582.0L658.0 589.0L658.0 604.0M653.0 547.0L658.0 539.0L668.0 534.0L680.0 532.0L692.0 535.0L704.0 538.0L712.0 539.0L718.0 545.0L720.0 555.0L722.0 565.0L732.0 568.0L736.0 573.0M676.0 525.0L664.0 533.0L656.0 541.0L653.0 547.0L650.0 557.0L648.0 569.0L648.0 579.0L646.0 585.0M595.0 525.0L597.0 537.0L603.0 549.0L609.0 565.0L610.0 574.0L605.0 582.0M597.0 537.0L612.0 534.0L615.0 525.0M614.0 537.0L620.0 539.0L620.0 549.0L603.0 549.0M620.0 549.0L624.0 557.0L627.0 567.0L618.0 571.0L609.0 572.0M627.0 567.0L626.0 583.0M618.0 571.0L616.0 581.0M560.0 548.0L572.0 551.0L586.0 545.0L597.0 537.0M632.0 555.0L638.0 563.0L635.0 571.0L640.0 577.0L634.0 585.0L633.0 587.0M648.0 553.0L649.0 561.0L648.0 569.0M560.0 574.0L568.0 581.0L574.0 591.0L584.0 597.0L592.0 605.0L588.0 613.0M560.0 622.6L586.0 621.0M626.0 608.0L636.0 601.0L646.0 593.0L646.0 585.0M626.0 608.0L629.0 615.0L631.0 623.0L624.0 631.0M605.0 582.0L600.0 591.0L596.0 597.0L590.0 607.0M603.0 591.0L612.0 601.0L618.0 609.0M605.0 582.0L610.0 587.0L616.0 587.0L626.0 583.0L633.0 587.0L644.0 591.0M616.0 587.0L618.0 599.0L626.0 605.0M603.0 597.0L610.0 594.0L616.0 599.0M611.0 625.0L614.0 622.0L614.4 624.6L611.6 627.0ZM597.0 631.0L599.0 630.4M618.0 735.0L615.0 741.0L617.0 748.0L623.0 750.0L624.4 759.0L620.0 769.0L615.0 775.0L614.0 779.0L606.0 785.0L594.0 790.0L580.0 794.0L568.0 796.6L560.0 798.0M852.0 228.0L849.6 235.0L853.0 245.0L852.4 255.0L855.6 265.0L854.0 275.0L858.0 285.0L863.0 292.0L860.0 300.0L859.0 305.0M850.0 233.0L854.0 249.0L854.4 263.0M916.0 262.0L908.0 265.0L902.0 275.0L896.0 281.0L893.0 286.0L890.0 297.0L892.0 303.0L886.0 307.0L878.0 303.0L872.0 300.0L860.0 300.0M860.0 300.0L859.0 309.0L860.0 315.0M893.0 286.0L904.0 283.0L915.0 281.0L914.0 287.0L911.0 291.0L920.0 293.0L924.0 296.0L927.0 286.0L934.0 287.0L950.0 289.0M892.0 303.0L900.0 305.0L908.0 302.0L916.0 301.0L914.0 307.0L918.0 313.0L928.0 309.0L938.0 307.0L951.0 305.0M912.0 309.0L914.0 315.0M900.0 335.0L894.0 329.0L902.0 325.0L912.0 331.0L918.0 334.0L928.0 329.0L938.0 327.0L946.0 329.0M900.0 335.0L902.0 345.0L894.0 355.0L897.0 363.0L906.0 368.0M900.0 335.0L908.0 339.0L916.0 345.0L923.0 352.0M840.0 327.0L848.0 321.0L856.0 325.0L859.0 331.0L866.0 324.0L872.0 319.0L878.0 315.0M878.0 315.0L890.0 321.0L894.0 329.0M848.0 321.0L854.0 315.0M914.0 315.0L918.0 317.0L922.0 315.0M840.0 429.0L848.0 430.0L862.0 435.0L863.0 443.0L856.0 449.0L853.0 457.0L859.0 465.0L864.0 473.0M849.0 467.0L843.0 471.0L845.0 481.0L842.0 489.0L840.0 493.0M831.0 510.0L836.0 513.0L843.0 517.0M822.0 522.0L812.0 526.0L800.0 529.0L788.0 532.0M856.0 449.0L853.0 457.0L849.0 467.0M600.4 681.1L606.9 678.6L614.6 677.3L624.9 679.9L624.2 688.9L618.4 694.0L614.6 699.1M601.1 691.4L606.9 689.5L612.0 688.2L618.4 688.9M598.5 700.4L604.3 699.1L610.7 698.5L614.6 699.1L615.9 704.3L617.1 712.0L615.9 715.9L609.4 721.0M597.9 711.4L604.3 710.7L612.0 712.0L617.1 712.0M617.1 712.0L622.3 712.0L624.9 708.1L625.5 704.3L632.6 703.0L637.7 700.4L641.6 699.1L642.9 692.7L639.0 689.5L636.4 688.9M625.5 704.3L626.1 717.1L628.7 726.8M626.1 717.1L632.6 715.9L637.7 713.3L640.3 706.9L641.6 699.1M637.7 713.3L639.0 722.3L641.6 726.1M639.0 722.3L645.4 719.7L649.3 713.3L651.9 704.3L650.6 703.0L642.9 701.7M650.6 725.5L651.2 714.6L653.1 703.0L658.3 700.4L663.4 696.6L668.6 694.0M642.9 692.7L649.3 691.4L655.7 690.8L663.4 692.1L669.9 691.4L673.7 688.9M661.5 713.3L662.1 704.3L665.4 696.6M603.6 663.1L610.7 667.0L617.1 665.7L623.6 664.4L628.7 665.7L630.0 669.6L628.7 670.9L624.9 679.9M628.7 669.6L635.1 663.1L641.6 669.6L649.3 673.4L650.6 679.9L649.3 682.4M630.0 670.9L633.9 677.3L642.9 679.9L649.3 682.4M649.3 673.4L655.7 678.6L659.6 682.4L663.4 687.6L668.6 688.9L673.7 683.7M603.6 663.1L606.9 655.4L612.0 650.3L617.1 643.9L619.7 640.0M612.0 651.6L617.1 652.9L623.6 658.0L628.7 664.4M578.6 656.7L585.0 655.4L594.0 654.1L600.4 658.0L603.0 663.1M679.5 678.6L681.4 674.7L685.3 670.9L689.1 665.7L691.7 660.6L692.4 654.1L694.3 651.6L700.7 652.9L702.0 656.7L699.4 661.9L694.3 668.3L689.1 673.4L684.0 678.6L680.1 681.1ZM578.6 708.1L573.4 709.4L567.0 712.0L556.7 723.6L540.0 725.5" fill="none" stroke="#808080" stroke-width="1.10" stroke-linejoin="round"/>
<path d="M439.0 895.0L441.0 901.0L438.0 904.0M416.0 898.0L418.0 897.4M426.0 899.4L429.0 898.6M682.0 199.0L688.0 193.0L694.0 185.0L700.0 179.0L708.0 171.0L712.0 163.0M620.0 212.0L622.8 212.6L625.4 213.5L628.0 214.6L630.7 214.6L633.3 215.2L636.0 215.4L639.0 214.7L642.0 214.6M622.0 214.6L624.7 215.0L627.4 215.2L630.0 216.2L632.6 217.0L635.4 216.6L638.0 217.0M588.0 613.0L586.0 621.0L585.0 633.0L580.0 639.0" fill="none" stroke="#808080" stroke-width="1.47" stroke-linejoin="round"/>
<path d="M560.0 230.6L562.5 231.9L565.1 232.8L568.0 233.0L570.5 231.5L573.2 230.6L576.0 230.0L578.3 227.9L580.8 226.2L583.5 224.7L586.0 223.0L589.1 221.1L592.0 219.0L594.5 218.7L597.0 218.3L599.5 218.9L602.0 219.0L603.9 217.4L606.1 216.1L608.4 215.0L610.0 213.0L612.6 212.5L615.0 211.5L617.5 210.9L620.0 210.0L622.6 210.9L625.5 210.7L628.0 212.0L630.9 213.3L633.9 213.9L636.9 214.8L640.0 215.0L642.9 214.0L645.3 212.2L648.0 211.0L650.4 209.6L652.8 208.0L655.6 207.4L658.0 206.0L660.6 204.4L663.4 203.4L666.3 202.6L669.0 201.6L672.0 201.0L674.5 200.3L676.9 199.4L679.4 198.8L682.0 199.0L683.7 196.7L685.6 194.6L687.9 192.9L690.0 191.0L691.5 188.5L694.4 187.4L696.1 185.1L698.0 183.0L699.1 180.2L700.7 177.8L702.3 175.4L704.0 173.0L705.3 170.9L706.6 168.7L708.9 167.3L710.0 165.0M692.0 181.0L700.0 189.0L698.0 195.0L704.0 196.0M698.0 177.0L704.0 184.0L700.0 187.0L696.0 191.0M690.0 185.0L696.0 184.0L702.0 175.0M620.0 213.0L626.0 215.0L636.0 214.0L640.0 216.0M684.0 199.0L685.9 197.2L688.5 196.2L690.0 194.0L691.8 192.2L692.6 189.7L694.0 187.6L696.0 186.0L697.2 183.0L699.9 181.0L701.0 178.0L703.1 175.6L703.9 172.4L706.0 170.0L708.4 167.3L710.0 164.0M688.0 196.0L690.7 194.6L692.4 192.2L694.4 190.0L696.1 187.2L698.2 184.7L700.0 182.0L701.2 179.0L702.7 176.3L705.0 174.0L707.0 172.0L707.9 169.5L709.0 167.0M560.0 799.4L561.6 801.0" fill="none" stroke="#808080" stroke-width="1.84" stroke-linejoin="round"/>
<path d="M629.0 214.0L627.0 229.0L625.6 236.0L628.0 227.0L631.0 215.0M675.0 203.0L678.0 215.0L681.0 226.0L680.0 217.0L677.0 204.0M687.0 207.0L689.0 214.0L692.0 215.0L691.0 207.0L695.0 209.0L698.0 217.0L699.0 210.0M720.0 208.0L718.0 223.0L717.0 238.0L719.0 229.0L722.0 214.0L725.0 207.0M603.6 663.1L603.0 672.1L600.4 681.1L599.8 683.7L601.1 691.4L598.5 700.4L597.2 708.1L597.9 714.6L599.1 717.1M599.1 717.1L603.0 720.4L609.4 721.0L615.9 720.4L622.3 723.6L628.7 726.8L635.1 725.5L641.6 726.1L645.4 727.4L650.6 725.5L655.7 722.3L659.6 718.4L661.5 713.3L664.1 708.1L667.3 704.3L671.1 700.4L674.4 695.3L676.3 691.4L675.0 687.6" fill="none" stroke="#808080" stroke-width="1.20" stroke-linejoin="round"/>
<path d="M712.0 179.0L714.6 179.9L717.3 179.2L720.0 179.4L722.6 179.7L725.2 179.3L727.8 179.6L730.3 180.3L732.9 180.5L735.4 181.6L738.0 181.4L737.9 184.1L737.4 186.7L736.0 189.0L734.1 191.2L733.5 194.0L732.8 196.8L731.0 199.0L728.5 200.9L726.0 203.0L723.1 204.2L720.0 204.0L718.0 205.5L716.0 207.0L713.7 205.7L711.0 206.0L707.6 204.9L704.0 205.0L702.2 202.8L699.7 201.3L698.0 199.0M840.0 224.0L845.0 227.0L852.0 227.4L864.0 225.8L872.0 226.2L880.0 231.0L888.0 237.0L898.0 247.0L908.0 256.0L916.0 262.0L924.0 265.0L934.0 265.6L942.0 267.4L947.0 274.0L949.6 285.0L951.6 297.0L952.0 305.0L951.0 315.0M951.0 315.0L948.0 323.0L942.0 331.0L934.0 340.0L926.0 349.0L920.0 355.0L912.0 362.0L906.0 368.0L900.0 377.0L894.0 384.0L888.0 388.0L883.0 392.0L880.0 399.0L879.0 409.0L878.0 421.0L879.0 433.0L876.0 445.0L873.0 457.0L870.0 465.0L864.0 473.0L863.0 485.0L859.0 495.0L854.0 503.0L848.0 513.0L842.0 523.0L840.0 525.0M673.7 683.7L671.1 688.9L667.9 694.0L664.1 699.1L662.1 704.3L664.1 706.9L666.6 700.4L669.9 695.3L673.1 690.1L675.0 685.6ZM676.3 691.4L680.1 683.7L685.3 677.3L691.7 669.6L698.1 661.9L704.6 652.9L708.4 645.1L711.0 640.0M578.6 640.0L577.9 650.3L578.6 659.3L576.0 668.3L570.9 676.0L567.0 682.4L566.4 688.9L568.3 697.9L573.4 704.3L578.6 708.1L585.0 710.7L591.4 713.3L597.9 715.9L599.1 717.1M599.1 717.1L600.4 722.3L605.6 726.1L612.0 730.0L617.1 735.1L614.6 741.6L617.1 748.0L622.9 750.6L624.2 758.3L622.3 764.7L618.4 771.1L615.9 775.0" fill="none" stroke="#808080" stroke-width="1.29" stroke-linejoin="round"/>
<path d="M731.0 199.0L729.0 196.0L732.0 197.0M691.0 189.0L694.5 188.0L698.0 187.0L700.2 185.4L701.3 182.9L703.0 181.0L705.2 179.0L706.8 176.6L708.0 174.0M693.0 184.0L696.5 184.2L700.0 185.0L702.4 189.0L700.0 193.0M588.0 613.0L600.0 610.0L612.0 611.0L620.0 610.0L626.0 608.0" fill="none" stroke="#808080" stroke-width="1.66" stroke-linejoin="round"/>
<path d="M780.0 466.0L782.0 469.0L787.0 475.0L784.0 479.0L779.0 478.0L778.0 473.0ZM764.0 503.0L770.0 502.0L776.0 504.0L777.0 510.0L772.0 512.0L775.0 517.0L768.0 516.0L766.0 510.0ZM754.0 498.0L757.0 500.0L760.0 503.0L758.0 503.0ZM789.0 514.0L792.0 517.0L790.0 518.0ZM722.0 543.0L731.0 543.4L730.0 546.6L723.0 547.0ZM732.0 532.6L739.0 533.4L738.0 535.4L732.4 534.6ZM758.0 551.0L762.0 553.0L760.0 555.0ZM730.0 576.0L736.0 572.0L740.0 570.0L737.0 575.0L732.0 580.0ZM727.6 589.0L731.0 588.0L731.0 593.0L728.0 592.0ZM786.0 544.0L790.0 543.0L790.0 546.0L786.0 546.0ZM808.0 538.0L811.0 537.4L811.0 540.6ZM824.0 540.0L829.0 538.0L829.0 542.0ZM729.0 609.0L732.0 608.0L731.6 615.0L729.6 614.0ZM726.0 622.0L729.0 621.0L727.6 626.0ZM862.4 252.0L864.4 249.0L866.4 252.6ZM882.0 282.0L887.0 281.0L887.6 283.4L882.4 283.6ZM900.0 296.0L904.4 296.0L904.4 297.6L900.0 297.6ZM836.0 527.0L839.0 527.0L838.0 530.0ZM788.0 515.0L792.0 517.0L791.0 519.0ZM619.7 695.3L623.6 692.7L628.7 690.8L632.6 688.9L636.4 688.2L635.1 690.8L630.0 692.7L626.1 695.3L622.3 696.6Z" fill="#808080" stroke="#808080" stroke-width="1.10" stroke-linejoin="round"/>
<path d="M613.0 611.0L620.0 611.4L624.4 609.0" fill="none" stroke="#808080" stroke-width="2.21" stroke-linejoin="round"/>
<path d="M432.9 917.6L434.5 915.6L435.9 917.6L436.0 920.2L434.5 920.9L432.9 920.4ZM440.1 924.9L441.8 924.0L442.8 927.0L441.0 928.7L439.1 927.3ZM433.4 932.6L434.4 935.3L433.8 938.0L431.5 937.8L431.7 934.5ZM432.7 935.0L434.1 936.3L433.4 938.9L431.9 938.3L431.2 937.2L431.5 935.6ZM440.4 928.3L441.0 929.9L440.3 931.4L439.3 931.2L438.7 929.9L439.0 927.9ZM431.5 901.4L432.3 904.8L430.7 906.9L428.6 906.7L428.6 903.9L429.2 901.1ZM440.1 927.9L441.2 925.9L442.4 927.5L441.5 928.9ZM436.3 922.0L434.6 922.7L433.3 920.7L435.2 919.6ZM433.5 943.1L432.2 942.1L431.9 939.9L433.1 937.4L435.8 938.3L436.1 942.8ZM431.7 936.8L430.0 932.3L432.4 929.7L434.8 931.0L434.6 934.9ZM439.9 932.7L437.9 933.7L436.9 931.5L436.7 929.0L438.4 927.8L440.2 929.4ZM431.2 915.9L430.5 917.6L429.0 917.4L429.3 915.3L430.4 914.0ZM434.8 916.3L436.1 915.5L437.0 917.4L436.1 919.8L434.9 918.0ZM427.8 917.5L427.6 914.4L429.9 913.8L429.8 917.2ZM441.8 918.6L439.9 921.3L437.8 919.7L439.3 916.0ZM434.6 933.5L432.5 934.0L431.7 930.2L434.4 930.1ZM438.8 938.6L439.9 939.2L439.4 940.8L438.2 941.3L438.2 939.5ZM437.5 941.5L437.5 938.5L438.5 936.3L440.2 938.0L439.6 940.7ZM431.6 927.7L430.9 924.5L432.7 922.4L435.3 924.0L433.7 927.1ZM444.3 939.2L447.3 936.9L448.6 940.3L448.4 943.6L445.5 944.0ZM433.4 937.4L432.9 935.1L433.3 932.0L435.4 932.8L437.1 935.4L435.1 937.1ZM439.7 941.8L441.4 939.0L442.5 942.4L441.8 945.2L439.3 945.2ZM429.9 926.6L428.8 928.3L427.8 926.3L427.9 923.9L429.4 924.2L430.2 925.0ZM438.0 907.1L437.8 909.6L436.5 909.1L435.6 907.9L436.6 906.0ZM439.5 915.2L438.2 917.4L436.3 915.4L437.1 912.3L438.8 913.3ZM428.4 905.1L429.2 903.1L430.8 903.0L432.0 905.2L430.9 907.7L429.1 907.3ZM429.7 908.3L431.3 909.6L431.0 911.8L430.3 913.5L428.7 912.9L428.5 910.4ZM437.3 930.8L436.5 931.9L435.8 930.7L435.9 929.0L437.0 929.4ZM438.0 916.4L436.9 915.4L436.8 913.1L438.8 911.6L439.5 915.0ZM435.3 941.6L434.2 942.0L433.3 940.9L433.6 939.2L434.7 938.9L435.5 940.0ZM431.7 929.3L430.9 928.4L431.6 927.1L432.5 928.2ZM433.8 917.3L435.4 920.1L433.1 922.5L430.7 920.5L431.3 916.0ZM426.1 904.1L426.9 901.7L428.5 903.0L429.6 905.1L428.3 907.4L426.0 907.4ZM433.4 943.9L435.6 943.7L436.5 946.2L435.3 948.3L433.6 947.1ZM436.1 922.7L435.1 921.9L434.9 920.2L435.9 919.7L436.8 920.2L436.9 921.6ZM428.9 911.5L427.0 910.8L427.4 907.7L429.8 908.3ZM425.5 907.6L427.7 906.9L428.8 910.5L425.6 912.1ZM434.2 920.4L432.6 922.9L430.9 923.1L429.1 921.2L430.6 918.8L432.4 917.8ZM440.8 914.5L441.4 911.0L443.3 912.4L443.0 915.3ZM428.9 901.7L429.7 906.7L425.8 907.8L425.9 902.1ZM435.4 932.1L435.6 935.1L433.6 935.6L433.4 932.6ZM438.7 935.1L436.9 935.0L436.7 932.4L438.3 929.6L439.4 932.9ZM439.4 903.3L440.5 903.0L441.2 904.7L440.5 906.5L439.2 906.0L438.3 904.4ZM440.1 927.0L439.1 927.7L438.3 926.6L438.9 925.4L439.9 925.4ZM432.5 930.9L434.4 932.3L433.6 935.6L431.1 935.7L431.1 932.4ZM433.6 929.9L435.3 931.1L435.0 933.7L432.8 933.3ZM419.1 933.5L420.6 931.7L421.9 934.3L420.8 936.3L419.3 938.2L418.7 935.3ZM430.3 930.9L428.5 931.0L427.9 928.3L429.3 927.1L430.4 927.2L431.3 929.0ZM441.5 929.6L439.9 927.5L441.7 926.4L443.0 928.0ZM432.7 919.0L433.6 917.2L434.9 916.7L435.8 919.0L434.2 919.6ZM443.8 925.3L444.7 927.7L444.5 929.7L443.1 930.9L441.4 929.4L441.7 926.2ZM424.7 908.9L425.9 907.8L427.3 910.0L425.3 911.1ZM430.5 924.6L430.0 922.0L430.9 920.1L432.4 921.1L432.4 923.7ZM442.5 939.7L444.9 940.2L445.9 943.4L443.0 943.9ZM427.6 924.7L426.3 924.2L426.0 922.2L427.1 921.7L428.0 921.9L428.4 923.3ZM428.2 911.6L428.2 908.1L430.7 907.0L431.5 912.3ZM434.0 914.9L436.1 913.9L437.0 917.5L435.0 918.8L433.6 918.6L431.7 916.2ZM431.0 904.1L431.6 905.2L431.6 906.3L430.9 906.8L430.2 906.3L430.3 905.1ZM424.6 926.2L424.7 924.4L426.2 924.0L426.8 926.0L426.2 927.8L425.1 927.4ZM432.0 913.4L433.9 911.6L435.3 913.2L435.3 915.8L433.0 917.3ZM433.5 910.6L435.1 909.9L435.2 912.0L433.9 912.9ZM429.4 940.5L430.0 938.3L431.2 937.4L432.0 939.3L430.9 940.5ZM434.6 945.3L434.6 943.4L435.8 943.8L436.2 946.2ZM426.5 911.1L427.9 915.3L426.6 918.8L424.6 916.9L424.0 913.9ZM427.7 943.4L429.6 944.9L428.7 946.8L427.7 946.2ZM431.6 904.5L431.8 903.1L432.9 903.3L433.1 904.6L432.7 905.7L431.9 905.5ZM432.3 936.5L430.6 938.5L429.8 935.5L430.5 933.1L432.2 933.8ZM430.9 928.7L431.2 933.8L428.0 935.9L427.8 930.7ZM436.8 922.1L437.3 920.6L438.6 919.5L439.5 921.6L439.0 923.8L437.5 923.7ZM443.1 922.1L443.7 923.4L444.0 924.8L443.0 925.6L442.3 924.6L442.1 923.1ZM435.4 928.4L435.2 929.9L434.4 930.4L434.0 929.3L434.3 928.2ZM431.9 945.3L431.1 944.3L431.8 943.2L432.6 942.6L433.5 943.8L433.0 945.5ZM440.3 909.7L439.0 908.1L439.8 905.7L441.4 907.5ZM427.4 911.6L425.9 912.7L424.9 910.6L426.4 910.0ZM428.8 906.2L430.3 905.3L431.6 906.9L430.8 908.9L429.6 909.9L428.7 908.3Z" fill="none" stroke="#808080" stroke-width="1.01" stroke-linejoin="round"/>
<clipPath id="c12"><polygon points="627.3,194.0 674.3,201.8 728.6,210.0 782.9,218.1 837.2,225.7 891.4,237.1 945.7,248.8 989.2,257.6 966.8,339.2 944.5,424.6 918.5,524.9 892.6,631.6 855.7,626.1 801.4,616.9 747.2,607.1 692.9,597.9 638.6,588.1 584.3,578.1 537.0,568.2 553.4,504.5 572.0,426.5 590.6,348.4 609.2,270.4"/><polygon points="513.1,658.8 554.3,666.3 608.6,675.8 662.9,685.3 717.2,694.8 771.4,703.7 825.7,713.0 871.8,720.5 843.7,865.7 807.9,860.9 750.7,852.9 693.6,843.7 636.4,834.3 579.3,823.7 522.1,812.9 475.0,802.0"/></clipPath>
<g clip-path="url(#c12)">
<path d="M340.0 247.0L342.6 246.4L345.3 245.8L348.0 246.0L350.6 245.5L352.8 243.9L355.5 243.8L358.0 243.0L360.1 245.4L362.0 248.0L365.3 249.5L368.0 252.0L370.7 252.3L373.4 252.0L376.0 253.0L378.7 252.6L381.3 251.7L384.0 252.0L386.4 253.6L388.1 255.9L390.0 258.0L392.9 257.1L395.1 254.9L398.0 254.0L398.3 250.9L399.5 248.0L400.0 245.0L402.6 245.1L405.0 244.1L407.5 243.4L410.0 243.0L413.1 243.2L415.9 241.4L419.1 242.0L422.0 241.0L422.7 237.9L424.0 235.0L425.1 232.7L426.6 230.7L428.3 228.8L430.0 227.0L432.5 227.2L435.0 226.1L437.5 226.4L440.0 226.0L442.5 225.8L445.0 225.1L447.5 225.0L450.0 224.6L453.0 224.1L456.0 224.2L459.0 224.5L462.0 225.0L463.8 226.9L466.1 228.3L468.0 230.0L470.2 231.6L471.9 233.6L474.0 235.2L476.0 237.0L478.8 238.4L481.1 240.7L484.0 242.0L486.4 243.0L489.1 243.2L491.5 244.3L494.0 245.0L497.0 246.0L500.0 247.0L502.7 246.5L505.1 245.3L507.4 243.7L510.0 243.0L512.5 243.7L515.0 242.5L517.5 242.9L520.0 243.0L522.7 242.1L524.8 240.1L527.5 239.2L530.0 238.0L532.4 236.4L535.4 236.2L538.0 235.0L540.6 234.6L543.0 233.6L545.7 233.3L548.0 232.0L551.0 231.4L554.0 231.6L557.0 231.1L560.0 230.6M736.0 201.0L736.7 198.2L737.2 195.4L739.0 193.0L741.7 191.9L743.7 189.7L746.0 188.0L748.7 188.5L751.3 187.2L754.0 187.4L756.9 187.6L759.1 189.9L762.0 190.0L764.1 192.0L766.7 192.4L769.3 193.0L772.0 193.0L774.4 194.8L777.1 195.6L780.0 196.0L783.0 197.1L785.3 199.4L788.0 201.0L790.4 199.7L793.0 199.0L795.5 200.3L797.0 202.3L798.0 204.7L799.0 207.0L800.6 209.1L800.5 211.9L802.0 214.0L799.9 217.2L800.0 221.0L803.0 222.0L804.9 219.9L807.0 218.0L809.8 219.8L812.7 220.6L816.0 220.0L818.7 219.4L820.0 217.0L822.8 218.0L825.7 219.0L828.0 221.0L830.6 221.1L833.0 221.9L835.4 222.7L837.5 224.5L840.0 225.0" fill="none" stroke="#808080" stroke-width="1.84" stroke-linejoin="round"/>
<path d="M340.0 247.0L344.0 244.6L340.0 244.0M500.0 247.0L495.0 254.0L497.0 249.0L494.0 248.0M446.0 190.6L448.5 190.3L451.0 189.8L453.6 189.7L456.0 189.0L458.9 189.9L462.0 190.0L465.0 190.7L468.0 191.0L470.4 189.8L473.1 189.7L475.5 188.9L478.0 188.0L480.5 188.5L483.0 188.3L485.5 187.8L488.0 188.0L490.7 189.2L493.3 190.8L496.0 192.0L498.3 193.3L500.0 195.3L502.0 197.0L504.6 197.4L507.1 198.1L509.6 198.8L512.0 200.0L514.4 201.2L517.1 201.7L519.6 202.8L522.0 204.0L523.7 205.9L524.9 208.2L527.1 209.7L528.4 212.0L530.0 214.0L531.6 216.2L532.9 218.6L534.5 220.8L536.1 223.0L538.0 225.0L540.6 226.4L543.0 228.1L545.6 229.7L548.0 231.4M427.0 875.0L429.0 879.0L427.6 883.0M436.0 871.0L439.0 875.0M555.0 795.0L557.0 801.0L559.0 805.0L558.0 815.0L560.0 819.0M732.0 205.0L737.0 201.0L742.0 203.0M800.0 221.0L796.0 231.0L799.0 225.0L804.0 225.0L805.0 220.0M789.0 205.0L790.0 201.0M604.0 200.0L610.0 203.0L616.0 204.0L617.0 207.0M840.0 528.0L834.0 533.0L826.0 540.0L816.0 542.0L808.0 543.0L796.0 543.0L786.0 547.0L776.0 552.0L766.0 555.0L756.0 560.0L746.0 566.0L738.0 572.0L732.0 578.0L730.0 587.0L729.6 597.0L730.4 607.0L729.0 617.0L726.0 625.0L720.0 631.0L714.0 637.0L709.0 645.0M888.0 388.0L886.0 384.0L884.0 385.0L885.0 390.0Z" fill="none" stroke="#808080" stroke-width="1.62" stroke-linejoin="round"/>
<path d="M488.0 188.0L500.0 196.0L510.0 201.0L522.0 204.0M524.0 205.0L534.0 221.0L542.0 229.0L549.0 231.0M501.0 153.4L507.0 163.0L510.0 177.0L512.0 191.0L509.0 194.0L522.0 204.0M396.0 209.0L390.6 258.0M312.0 203.0L316.0 209.0L327.0 215.0L330.0 221.0L335.0 225.0L338.0 231.0L350.0 230.0L360.0 226.0L370.0 226.0L378.0 228.0L388.0 232.0L377.0 252.0M280.0 179.0L292.0 183.0L302.0 189.0L306.0 195.0L312.0 203.0L320.0 198.0L332.0 197.0L344.0 198.0L350.0 191.0L359.0 186.0L358.0 181.0L346.0 175.0L334.0 167.0L324.0 162.0L297.0 149.0M297.0 149.0L300.0 141.0L306.0 129.0L310.0 117.0L311.0 112.0M324.0 162.0L324.4 153.0L336.0 147.0L350.0 144.0L364.0 144.0L372.0 135.0L380.0 131.0L392.0 128.0L404.0 122.0L418.0 120.0L424.0 125.0L427.0 130.0L420.0 137.0L418.0 140.0L428.0 145.0L432.0 155.0L434.0 164.0L444.0 171.0L452.0 170.0L458.0 167.0L460.0 172.0L466.0 165.0L478.0 159.0L486.0 150.0L493.0 145.0L492.0 143.0L482.0 142.0L478.0 129.0L472.0 119.0L468.0 113.0L472.0 114.0L480.0 118.0L492.0 117.0L500.0 123.0L506.0 116.0L516.0 112.0L526.0 108.0L532.0 106.0M418.0 120.0L416.0 111.0L417.0 105.0M364.0 144.0L362.0 105.0M364.0 144.0L370.0 150.0L371.0 156.0L380.0 158.0L385.0 159.0L412.0 157.4L413.0 153.4L416.0 156.0L420.0 155.0L426.0 150.0L430.0 155.0L432.0 164.0M385.0 159.0L386.0 170.0L396.0 169.4L399.0 174.0L398.0 177.0L388.0 177.0L384.0 182.0L384.0 189.0L380.0 191.0L384.0 201.0L392.0 204.0L396.0 209.0M359.0 186.0L374.0 187.4L380.0 191.0M280.0 133.0L284.0 145.0L282.0 153.0M280.0 169.0L297.0 149.0M280.0 123.0L286.0 117.0L288.0 105.0M298.0 105.0L299.0 119.0L306.0 125.0L312.0 112.0L310.0 121.0L307.0 127.0M320.0 107.0L328.0 113.0L327.0 121.0L318.0 117.0L316.0 121.0L306.0 129.0M328.0 113.0L334.0 119.0L346.0 115.0L362.0 107.0M280.0 199.0L292.0 195.0L298.0 205.0L299.0 211.0L295.0 211.0L292.0 225.0L280.0 237.0M280.0 218.0L288.0 219.0L294.0 221.0M390.0 258.0L384.0 256.0L376.0 258.0L366.0 263.0L356.0 267.0L348.0 273.0L344.0 277.0L343.0 285.0L340.0 293.0L340.0 301.0L334.0 307.0L332.0 315.0M280.0 297.0L288.0 295.0L292.0 300.0L300.0 298.0L304.0 303.0L303.0 309.0L296.0 309.0L294.0 315.0M332.0 309.4L348.0 314.6M497.0 315.0L499.0 310.6L512.0 310.6L515.0 315.0M495.0 237.0L502.0 240.0M502.0 233.6L508.0 236.0M525.0 230.6L530.0 229.4M516.0 254.0L518.0 252.6M548.0 133.0L552.0 143.0L560.0 155.0M551.0 111.0L553.0 121.0L549.0 131.0L548.0 133.0M560.0 176.0L550.0 176.0L548.0 185.0L540.0 189.0L538.0 193.0L532.0 189.0L526.0 191.0L524.0 199.0L523.0 204.0M280.0 385.0L286.0 395.0L294.0 403.0L300.0 411.0L306.0 416.0L305.0 425.0L310.0 433.0L320.0 440.0L328.0 447.0L338.0 451.0L346.0 455.0L360.0 461.0L370.0 465.0L380.0 468.0L389.0 472.0L391.0 476.0L400.0 481.0L408.0 485.0L410.0 495.0L413.0 507.0L414.4 517.0L416.0 525.0M348.0 315.0L392.0 321.0L420.0 333.0L450.0 344.0M330.0 315.0L335.0 323.0L342.0 335.0L349.0 341.0L346.0 346.0L360.0 348.0L364.0 354.0L376.0 353.0L384.0 347.0L388.0 343.0L389.0 368.0L398.0 367.0L406.0 365.0L418.0 366.0L428.0 363.0L436.0 355.0L450.0 344.0M450.0 344.0L456.0 341.0L468.0 339.0L472.0 341.0L471.0 353.0L464.0 355.0L458.0 367.0L452.0 371.0L450.0 384.0M471.0 353.0L478.0 371.0L488.0 379.0L500.0 383.0L510.0 385.0L520.0 390.0L530.0 397.0L540.0 396.0L548.0 397.0L554.0 389.0L560.0 385.0M494.0 315.0L490.0 321.0L480.0 329.0L472.0 335.0L468.0 339.0M516.0 315.0L526.0 319.0L533.0 322.6L560.0 321.0M533.0 322.6L532.0 345.0L540.0 356.0L560.0 358.0M406.0 365.0L422.0 388.0L418.0 399.0L421.0 415.0L416.0 427.0L418.0 435.0L424.0 455.0L416.0 467.0L418.0 471.0M422.0 388.0L433.0 378.6L450.0 384.0M408.0 485.0L418.0 471.0L424.0 477.0L428.0 489.0L436.0 501.0L434.0 515.0L438.0 525.0M450.0 384.0L448.0 399.0L444.0 415.0L447.0 427.0L454.0 439.0L457.0 455.0L458.0 463.0L452.0 465.0L442.0 471.0L432.0 471.0L424.0 477.0M454.0 439.0L468.0 447.0L476.0 443.0L480.0 437.0L489.0 436.0L510.0 433.0L503.0 411.0L530.0 397.0M489.0 436.0L488.0 451.0L497.0 459.0L490.0 469.0L498.0 479.0L504.0 489.0L507.0 485.0L510.0 507.0L531.0 506.6M458.0 463.0L466.0 475.0L470.0 489.0L450.0 503.0L436.0 501.0M462.0 475.0L472.0 471.0L480.0 477.0L486.0 485.0L491.0 493.0L492.0 499.0L485.0 506.0L486.0 525.0M477.0 477.0L480.0 483.0L496.0 480.0M531.0 506.6L537.0 493.0L560.0 487.0M531.0 506.6L531.0 515.0L530.0 525.0M488.0 517.0L504.0 515.0L531.0 514.0M488.0 517.0L490.0 525.0M408.0 435.0L414.0 439.0L420.0 447.0L428.0 449.0L426.0 453.0L420.0 449.0L416.0 443.0L410.0 439.0ZM418.0 435.0L421.0 443.0L427.0 448.0M455.0 475.0L457.0 481.0L459.0 491.0L457.0 491.0L455.0 483.0L454.0 476.0ZM280.0 334.0L286.0 339.0L294.0 340.0L299.0 343.0L300.0 335.0L295.0 325.0L294.0 315.0M299.0 343.0L306.0 350.0L313.0 345.0L318.0 337.0L323.0 338.0L323.0 351.0L327.0 352.0L330.0 371.0L338.0 369.0L344.0 373.0L346.0 383.0L342.0 393.0L334.0 395.0L328.0 392.0L322.0 392.0L318.0 403.0L313.0 411.0L306.0 416.0M280.0 365.0L286.0 369.0L293.0 367.0L302.0 366.0L292.0 369.0L298.0 383.0L304.0 392.0L313.0 397.0L315.0 403.0M302.0 375.0L310.0 373.0L320.0 370.0L330.0 371.0M327.0 352.0L304.0 359.0L292.0 368.0M280.0 351.0L285.0 355.0L288.0 367.0M280.0 345.0L288.0 351.0L287.0 355.0M346.0 377.0L352.0 375.0L360.0 373.0L366.0 373.0L368.0 375.0L363.0 379.0L364.0 387.0L372.0 394.0L376.0 398.0L390.0 402.0L398.0 400.0L408.0 403.0L418.0 399.0M398.0 400.0L392.0 411.0L391.0 423.0L389.0 429.0L395.0 445.0L395.0 453.0L389.0 457.0L388.0 465.0L390.0 475.0M395.0 445.0L404.0 453.0L408.0 462.0L418.0 467.0M408.0 462.0L400.0 464.0L395.0 475.0M328.0 392.0L334.0 403.0L333.0 408.0L328.0 413.0L330.0 423.0L325.0 426.0L327.0 435.0L332.0 442.0L344.0 447.0L354.0 443.0L360.0 437.0L368.0 431.0L374.0 430.0L380.0 433.0L389.0 429.0M343.0 410.0L348.0 419.0L351.0 433.0L360.0 430.0L368.0 427.0L372.0 419.0L366.0 413.0L356.0 411.0L349.0 412.0L344.0 410.0M322.0 392.0L317.0 407.0L314.0 415.0L318.0 423.0L325.0 426.0M334.0 395.0L340.0 395.0L346.0 405.0L349.0 412.0M452.0 403.0L451.0 408.0M464.0 393.0L466.0 395.0M471.0 390.0L472.0 393.0M496.0 402.0L498.0 404.0M540.0 458.0L542.0 459.0M300.0 377.0L302.0 378.6M415.6 525.0L417.0 537.0L416.0 549.0L413.0 561.0L414.0 569.0L417.0 577.0L419.0 591.0L417.0 605.0L419.0 615.0L417.0 627.0L418.0 639.0L414.0 653.0L417.0 663.0L418.0 673.0L415.0 681.0L418.0 693.0L421.0 705.0L424.0 715.0L422.0 725.0L423.0 735.0M418.0 533.0L428.0 530.0L436.0 527.0M438.0 525.0L443.0 531.0L448.0 541.0L452.0 551.0L462.0 550.0L464.0 561.0L461.0 568.0L450.0 575.0L446.0 581.0L447.6 589.0L450.0 601.0L449.0 609.0L453.0 617.0L446.0 623.0L444.0 631.0L440.0 639.0L437.0 647.0L436.0 661.0L437.0 673.0L434.0 683.0L433.0 691.0L437.0 699.0L439.0 709.0L446.0 723.0L448.0 735.0M418.0 605.0L428.0 601.0L438.0 595.0L447.6 589.0M414.0 657.0L422.0 655.0L430.0 659.0L436.0 663.0M421.0 705.0L428.0 702.0L438.0 705.0M424.0 715.0L430.0 712.0L438.0 717.0L445.0 720.0M434.0 733.0L440.0 730.0L448.0 733.0M462.0 550.0L466.0 541.0L474.0 533.0L480.0 535.0L488.0 536.0L489.0 545.0L496.0 555.0L506.0 556.0L507.0 569.0L502.0 573.0L492.0 572.0L484.0 568.0L479.0 563.0L478.0 558.0L474.0 558.0L475.0 568.0L464.0 566.0M488.0 536.0L487.0 525.0M488.0 536.0L498.0 535.0L503.0 545.0M508.0 532.0L524.0 531.0L532.0 539.0M529.0 525.0L528.0 533.0L532.0 539.0L550.0 555.0L560.0 565.0M532.0 539.0L536.0 563.0L530.0 575.0L521.0 588.0M447.6 589.0L475.0 587.4L477.0 593.0L473.0 595.0L480.0 603.0L490.0 599.0L506.0 600.0M480.0 603.0L488.0 611.0L485.0 619.0L495.0 629.0L500.0 623.0L503.0 609.0L506.0 600.0L509.0 589.0L545.0 587.0L547.0 623.0L560.0 622.6M547.0 623.0L545.0 655.0L546.0 665.0M446.0 631.0L452.0 630.0L460.0 635.0L472.0 636.0L482.0 639.0L492.0 649.0L502.0 659.0L506.0 652.0L516.0 650.0L526.0 653.0L542.0 653.0M500.0 623.0L503.0 637.0L506.0 652.0M440.0 642.0L446.0 645.0L450.0 651.0L450.0 659.0L464.0 663.0L476.0 675.0L480.0 685.0L484.0 691.0L498.0 690.0L506.0 693.0M502.0 659.0L498.0 669.0L497.0 683.0L498.0 690.0M477.0 693.0L484.0 691.0M477.0 693.0L482.0 709.0L486.0 723.0L491.0 735.0M446.0 701.0L454.0 698.0L466.0 697.0L477.0 699.0M506.0 693.0L510.0 697.0L511.0 709.0L513.0 725.0L514.0 735.0M546.0 665.0L548.0 685.0L553.0 697.0L547.0 713.0L542.0 725.0M542.0 725.0L535.0 727.0L536.0 735.0M538.0 545.0L546.0 551.0L554.0 557.0L560.0 555.0M554.0 557.0L560.0 560.0M439.0 580.0L439.4 582.0M534.0 667.4L538.0 665.0L544.0 666.0L543.0 669.0L538.0 670.6ZM423.0 735.0L421.0 745.0L418.0 755.0L417.0 765.0L414.0 781.0L412.0 789.0L408.0 792.0L410.0 803.0L414.0 811.0L416.0 819.0L420.0 825.0L418.0 835.0L417.0 847.0L418.0 857.0L421.0 863.0L420.0 867.0L427.0 865.0L432.0 863.0M420.0 868.0L426.0 867.0L428.0 875.0L429.0 883.0L427.0 891.0L420.0 892.0L421.0 883.0L419.0 875.0ZM432.0 863.0L438.0 867.0L440.0 875.0L438.0 883.0L440.0 891.0L444.0 893.0L449.0 887.0L450.0 895.0L456.0 895.0L454.0 901.0L460.0 903.0L462.0 909.0L458.0 915.0L463.0 919.0L460.0 927.0L466.0 933.0L468.0 937.0L460.0 939.0L456.0 945.0M421.0 745.0L432.0 743.0L444.0 747.0M418.0 755.0L428.0 754.0L440.0 755.0L445.0 757.0M420.0 759.0L424.0 771.0L438.0 774.0L440.0 785.0M414.0 781.0L424.0 789.0L438.0 788.0M416.0 795.0L428.0 797.0L438.0 795.0L440.0 801.0M418.0 807.0L430.0 807.0L442.0 812.0M420.0 825.0L432.0 823.0L442.0 823.0M418.0 841.0L430.0 841.0L440.0 843.0M420.0 851.0L430.0 852.0L438.0 850.0M426.0 762.0L438.0 761.0L440.0 767.0M446.0 735.0L445.0 747.0L446.0 757.0L447.0 769.0L440.0 775.0L439.0 787.0L446.0 801.0L447.0 807.0L442.0 813.0L441.0 823.0L442.0 835.0L440.0 843.0L446.0 845.0L450.0 849.0L444.0 853.0L445.0 861.0L447.0 865.0L445.0 875.0L450.0 883.0L452.0 891.0L456.0 895.0M447.0 769.0L454.0 778.0L468.0 782.0L478.0 784.0L484.0 787.0L488.0 793.0L500.0 797.0L506.0 800.0L520.0 799.0L532.0 800.0L542.0 804.0M474.0 760.0L495.0 756.6L514.0 754.0L515.0 735.0M474.0 760.0L477.0 775.0L480.0 795.0L481.0 809.0L472.0 819.0L462.0 826.0L460.0 835.0L452.0 841.0L450.0 847.0M495.0 756.6L494.0 745.0L492.0 735.0M513.0 737.0L536.0 736.0L546.0 823.0L546.0 827.0L554.0 831.0L560.0 829.0M447.0 863.0L527.0 850.6M560.0 823.0L556.0 827.0L550.0 831.0L538.0 833.0L528.0 830.0L525.0 835.0L528.0 843.0L527.0 850.6L530.0 856.0L537.0 853.0L543.0 849.4L547.0 854.0L545.6 860.6L538.0 863.0L531.0 863.4L532.4 860.0L539.0 857.4M531.0 863.4L534.0 869.0L530.0 875.0L529.0 883.0L530.0 889.0L527.0 895.0L522.0 901.0L516.0 905.0L512.0 909.0L510.0 915.0L508.0 920.0L510.0 927.0L518.0 933.0L530.0 935.0L532.0 945.0M461.0 928.0L508.0 920.0M464.0 745.0L466.0 746.6M434.0 820.0L435.0 829.0M432.0 836.0L434.0 838.0L432.0 839.0M442.0 844.0L450.0 847.0L448.0 849.0M488.0 911.0L492.0 912.0L495.0 916.0L490.0 916.0ZM430.0 852.0L432.0 855.0L430.0 857.0M686.0 105.0L687.7 107.3L689.7 109.3L692.0 111.0L692.3 113.5L692.3 116.0L692.4 118.5L693.0 121.0L694.5 123.6L694.8 126.7L695.5 129.6L696.7 132.3L698.0 135.0L699.1 137.8L700.7 140.3L702.0 143.0L704.7 144.7L707.0 147.0L709.3 148.8L712.0 150.0L713.2 153.4L714.0 157.0L712.7 159.5L711.5 162.1L711.0 165.0L709.6 168.1L708.0 171.0M703.0 142.0L707.0 143.0L706.0 147.0M725.6 186.0L726.0 190.6M774.0 201.0L772.0 209.0L768.0 219.0L760.0 237.0L752.0 249.0L744.0 257.0L734.0 263.0M734.0 263.0L742.0 263.0L752.0 267.0L752.0 285.0L748.0 295.0L758.0 305.0L766.0 305.0L762.0 315.0M734.0 263.0L740.0 268.0L736.0 277.0L730.0 287.0L726.0 292.0L723.0 305.0L720.0 315.0M840.0 233.0L832.0 237.0L826.0 249.0L825.0 265.0L826.0 281.0L810.0 287.0L796.0 294.0L786.0 301.0L781.0 309.0L779.0 315.0M634.0 140.0L635.0 148.0L644.0 152.0L654.0 158.0L660.0 165.0L664.0 177.0L670.0 189.0L675.0 196.0L680.0 198.0M640.0 105.0L646.0 117.0L644.0 129.0L642.0 139.0L634.0 140.0M658.0 105.0L660.0 121.0L658.0 133.0L657.0 140.0L662.0 142.0L668.0 135.0L678.0 119.0L686.0 105.0M574.0 105.0L580.0 115.0L586.0 123.0L592.0 125.0L596.0 135.0L602.0 145.0L610.0 148.0L614.0 147.0L612.0 137.0L610.0 129.0L608.0 125.0L612.0 123.0L622.0 121.0L626.0 113.0L630.0 105.0M596.0 109.0L600.0 115.0L606.0 113.0L610.0 117.0L608.0 125.0M560.0 156.0L568.0 159.0L576.0 153.0L590.0 148.0L596.0 146.0L602.0 145.0M614.0 147.0L626.0 138.0L634.0 140.0M567.0 159.0L569.0 185.0L580.0 203.0L592.0 207.0L608.0 215.0M608.0 219.0L580.0 288.0L584.0 295.0L592.0 315.0M560.0 176.0L568.0 176.0M580.0 288.0L586.0 305.0L581.0 315.0M597.0 226.0L602.0 224.0M592.0 315.0L598.0 322.0L606.0 329.0L708.0 334.4M560.0 320.0L579.0 319.4L580.0 315.0M719.0 315.0L714.0 325.0L708.0 334.4L703.0 347.0L702.0 367.0L700.0 385.0L696.0 401.0L690.0 414.0L684.0 423.0L674.0 435.0L664.0 447.0L664.0 459.0L669.0 471.0L680.0 475.0L690.0 481.0L698.0 484.0M698.0 484.0L706.0 475.0L718.0 469.0L730.0 467.0L744.0 465.0L750.0 459.0L752.0 445.0L749.0 437.0L758.0 431.0L758.0 417.0L764.0 412.0L772.0 415.0L774.0 409.0L769.0 395.0L768.0 379.0L771.0 363.0L765.0 358.0L770.0 347.0L777.0 343.0M762.0 315.0L758.0 320.0L764.0 330.0L768.0 339.0L777.0 343.0L775.0 325.0L777.0 315.0M777.0 343.0L784.0 347.0L792.0 351.0L804.0 345.0L810.0 335.0L809.0 329.0L818.0 328.0L830.0 329.0L840.0 326.0M772.0 415.0L782.0 413.0L790.0 409.0L800.0 405.0L806.0 411.0L818.0 412.0L828.0 415.0L836.0 419.0L840.0 424.0M738.0 423.0L751.0 423.0L752.0 431.0L738.0 431.4ZM698.0 484.0L696.0 491.0L688.0 501.0L682.0 513.0L676.0 525.0M698.0 491.0L704.0 489.0L716.0 491.0L724.0 495.0L726.0 499.0L734.0 495.0L746.0 493.0L752.0 497.0L753.0 507.0L758.0 515.0L760.0 525.0M560.0 438.4L585.0 437.4L585.0 447.0L590.0 453.0L595.0 456.0L598.0 467.0L596.0 481.0L590.0 495.0L595.0 495.0L591.0 501.0L595.0 507.0L596.0 525.0M560.0 486.0L572.0 485.0L584.0 489.0L590.0 493.0M560.0 489.0L568.0 499.0L576.0 507.0L582.0 513.0L593.0 513.0M840.0 495.0L834.0 501.0L830.0 507.0L829.0 515.0L824.0 519.0L822.0 525.0M760.0 525.0L762.0 531.0L766.0 537.0L776.0 535.0L788.0 533.0L794.0 537.0L790.0 543.0M714.0 626.0L704.0 624.0L696.0 617.0L688.0 611.0L678.0 606.0L666.0 604.0L656.0 605.0L646.0 609.0L638.0 615.0L630.0 623.0L624.0 631.0L618.0 639.0L612.0 647.0L608.0 653.0L603.0 663.0M693.0 592.0L700.0 587.0L710.0 590.0L720.0 587.0L730.0 585.0M693.0 592.0L688.0 595.0L672.0 593.0L658.0 591.0M648.0 579.0L654.0 582.0L658.0 589.0L658.0 604.0M653.0 547.0L658.0 539.0L668.0 534.0L680.0 532.0L692.0 535.0L704.0 538.0L712.0 539.0L718.0 545.0L720.0 555.0L722.0 565.0L732.0 568.0L736.0 573.0M676.0 525.0L664.0 533.0L656.0 541.0L653.0 547.0L650.0 557.0L648.0 569.0L648.0 579.0L646.0 585.0M595.0 525.0L597.0 537.0L603.0 549.0L609.0 565.0L610.0 574.0L605.0 582.0M597.0 537.0L612.0 534.0L615.0 525.0M614.0 537.0L620.0 539.0L620.0 549.0L603.0 549.0M620.0 549.0L624.0 557.0L627.0 567.0L618.0 571.0L609.0 572.0M627.0 567.0L626.0 583.0M618.0 571.0L616.0 581.0M560.0 548.0L572.0 551.0L586.0 545.0L597.0 537.0M632.0 555.0L638.0 563.0L635.0 571.0L640.0 577.0L634.0 585.0L633.0 587.0M648.0 553.0L649.0 561.0L648.0 569.0M560.0 574.0L568.0 581.0L574.0 591.0L584.0 597.0L592.0 605.0L588.0 613.0M560.0 622.6L586.0 621.0M626.0 608.0L636.0 601.0L646.0 593.0L646.0 585.0M626.0 608.0L629.0 615.0L631.0 623.0L624.0 631.0M605.0 582.0L600.0 591.0L596.0 597.0L590.0 607.0M603.0 591.0L612.0 601.0L618.0 609.0M605.0 582.0L610.0 587.0L616.0 587.0L626.0 583.0L633.0 587.0L644.0 591.0M616.0 587.0L618.0 599.0L626.0 605.0M603.0 597.0L610.0 594.0L616.0 599.0M611.0 625.0L614.0 622.0L614.4 624.6L611.6 627.0ZM597.0 631.0L599.0 630.4M618.0 735.0L615.0 741.0L617.0 748.0L623.0 750.0L624.4 759.0L620.0 769.0L615.0 775.0L614.0 779.0L606.0 785.0L594.0 790.0L580.0 794.0L568.0 796.6L560.0 798.0M852.0 228.0L849.6 235.0L853.0 245.0L852.4 255.0L855.6 265.0L854.0 275.0L858.0 285.0L863.0 292.0L860.0 300.0L859.0 305.0M850.0 233.0L854.0 249.0L854.4 263.0M916.0 262.0L908.0 265.0L902.0 275.0L896.0 281.0L893.0 286.0L890.0 297.0L892.0 303.0L886.0 307.0L878.0 303.0L872.0 300.0L860.0 300.0M860.0 300.0L859.0 309.0L860.0 315.0M893.0 286.0L904.0 283.0L915.0 281.0L914.0 287.0L911.0 291.0L920.0 293.0L924.0 296.0L927.0 286.0L934.0 287.0L950.0 289.0M892.0 303.0L900.0 305.0L908.0 302.0L916.0 301.0L914.0 307.0L918.0 313.0L928.0 309.0L938.0 307.0L951.0 305.0M912.0 309.0L914.0 315.0M900.0 335.0L894.0 329.0L902.0 325.0L912.0 331.0L918.0 334.0L928.0 329.0L938.0 327.0L946.0 329.0M900.0 335.0L902.0 345.0L894.0 355.0L897.0 363.0L906.0 368.0M900.0 335.0L908.0 339.0L916.0 345.0L923.0 352.0M840.0 327.0L848.0 321.0L856.0 325.0L859.0 331.0L866.0 324.0L872.0 319.0L878.0 315.0M878.0 315.0L890.0 321.0L894.0 329.0M848.0 321.0L854.0 315.0M914.0 315.0L918.0 317.0L922.0 315.0M840.0 429.0L848.0 430.0L862.0 435.0L863.0 443.0L856.0 449.0L853.0 457.0L859.0 465.0L864.0 473.0M849.0 467.0L843.0 471.0L845.0 481.0L842.0 489.0L840.0 493.0M831.0 510.0L836.0 513.0L843.0 517.0M822.0 522.0L812.0 526.0L800.0 529.0L788.0 532.0M856.0 449.0L853.0 457.0L849.0 467.0M600.4 681.1L606.9 678.6L614.6 677.3L624.9 679.9L624.2 688.9L618.4 694.0L614.6 699.1M601.1 691.4L606.9 689.5L612.0 688.2L618.4 688.9M598.5 700.4L604.3 699.1L610.7 698.5L614.6 699.1L615.9 704.3L617.1 712.0L615.9 715.9L609.4 721.0M597.9 711.4L604.3 710.7L612.0 712.0L617.1 712.0M617.1 712.0L622.3 712.0L624.9 708.1L625.5 704.3L632.6 703.0L637.7 700.4L641.6 699.1L642.9 692.7L639.0 689.5L636.4 688.9M625.5 704.3L626.1 717.1L628.7 726.8M626.1 717.1L632.6 715.9L637.7 713.3L640.3 706.9L641.6 699.1M637.7 713.3L639.0 722.3L641.6 726.1M639.0 722.3L645.4 719.7L649.3 713.3L651.9 704.3L650.6 703.0L642.9 701.7M650.6 725.5L651.2 714.6L653.1 703.0L658.3 700.4L663.4 696.6L668.6 694.0M642.9 692.7L649.3 691.4L655.7 690.8L663.4 692.1L669.9 691.4L673.7 688.9M661.5 713.3L662.1 704.3L665.4 696.6M603.6 663.1L610.7 667.0L617.1 665.7L623.6 664.4L628.7 665.7L630.0 669.6L628.7 670.9L624.9 679.9M628.7 669.6L635.1 663.1L641.6 669.6L649.3 673.4L650.6 679.9L649.3 682.4M630.0 670.9L633.9 677.3L642.9 679.9L649.3 682.4M649.3 673.4L655.7 678.6L659.6 682.4L663.4 687.6L668.6 688.9L673.7 683.7M603.6 663.1L606.9 655.4L612.0 650.3L617.1 643.9L619.7 640.0M612.0 651.6L617.1 652.9L623.6 658.0L628.7 664.4M578.6 656.7L585.0 655.4L594.0 654.1L600.4 658.0L603.0 663.1M679.5 678.6L681.4 674.7L685.3 670.9L689.1 665.7L691.7 660.6L692.4 654.1L694.3 651.6L700.7 652.9L702.0 656.7L699.4 661.9L694.3 668.3L689.1 673.4L684.0 678.6L680.1 681.1ZM578.6 708.1L573.4 709.4L567.0 712.0L556.7 723.6L540.0 725.5" fill="none" stroke="#808080" stroke-width="1.30" stroke-linejoin="round"/>
<path d="M439.0 895.0L441.0 901.0L438.0 904.0M416.0 898.0L418.0 897.4M426.0 899.4L429.0 898.6M682.0 199.0L688.0 193.0L694.0 185.0L700.0 179.0L708.0 171.0L712.0 163.0M620.0 212.0L622.8 212.6L625.4 213.5L628.0 214.6L630.7 214.6L633.3 215.2L636.0 215.4L639.0 214.7L642.0 214.6M622.0 214.6L624.7 215.0L627.4 215.2L630.0 216.2L632.6 217.0L635.4 216.6L638.0 217.0M588.0 613.0L586.0 621.0L585.0 633.0L580.0 639.0" fill="none" stroke="#808080" stroke-width="1.73" stroke-linejoin="round"/>
<path d="M560.0 230.6L562.5 231.9L565.1 232.8L568.0 233.0L570.5 231.5L573.2 230.6L576.0 230.0L578.3 227.9L580.8 226.2L583.5 224.7L586.0 223.0L589.1 221.1L592.0 219.0L594.5 218.7L597.0 218.3L599.5 218.9L602.0 219.0L603.9 217.4L606.1 216.1L608.4 215.0L610.0 213.0L612.6 212.5L615.0 211.5L617.5 210.9L620.0 210.0L622.6 210.9L625.5 210.7L628.0 212.0L630.9 213.3L633.9 213.9L636.9 214.8L640.0 215.0L642.9 214.0L645.3 212.2L648.0 211.0L650.4 209.6L652.8 208.0L655.6 207.4L658.0 206.0L660.6 204.4L663.4 203.4L666.3 202.6L669.0 201.6L672.0 201.0L674.5 200.3L676.9 199.4L679.4 198.8L682.0 199.0L683.7 196.7L685.6 194.6L687.9 192.9L690.0 191.0L691.5 188.5L694.4 187.4L696.1 185.1L698.0 183.0L699.1 180.2L700.7 177.8L702.3 175.4L704.0 173.0L705.3 170.9L706.6 168.7L708.9 167.3L710.0 165.0M692.0 181.0L700.0 189.0L698.0 195.0L704.0 196.0M698.0 177.0L704.0 184.0L700.0 187.0L696.0 191.0M690.0 185.0L696.0 184.0L702.0 175.0M620.0 213.0L626.0 215.0L636.0 214.0L640.0 216.0M684.0 199.0L685.9 197.2L688.5 196.2L690.0 194.0L691.8 192.2L692.6 189.7L694.0 187.6L696.0 186.0L697.2 183.0L699.9 181.0L701.0 178.0L703.1 175.6L703.9 172.4L706.0 170.0L708.4 167.3L710.0 164.0M688.0 196.0L690.7 194.6L692.4 192.2L694.4 190.0L696.1 187.2L698.2 184.7L700.0 182.0L701.2 179.0L702.7 176.3L705.0 174.0L707.0 172.0L707.9 169.5L709.0 167.0M560.0 799.4L561.6 801.0" fill="none" stroke="#808080" stroke-width="2.16" stroke-linejoin="round"/>
<path d="M629.0 214.0L627.0 229.0L625.6 236.0L628.0 227.0L631.0 215.0M675.0 203.0L678.0 215.0L681.0 226.0L680.0 217.0L677.0 204.0M687.0 207.0L689.0 214.0L692.0 215.0L691.0 207.0L695.0 209.0L698.0 217.0L699.0 210.0M720.0 208.0L718.0 223.0L717.0 238.0L719.0 229.0L722.0 214.0L725.0 207.0M603.6 663.1L603.0 672.1L600.4 681.1L599.8 683.7L601.1 691.4L598.5 700.4L597.2 708.1L597.9 714.6L599.1 717.1M599.1 717.1L603.0 720.4L609.4 721.0L615.9 720.4L622.3 723.6L628.7 726.8L635.1 725.5L641.6 726.1L645.4 727.4L650.6 725.5L655.7 722.3L659.6 718.4L661.5 713.3L664.1 708.1L667.3 704.3L671.1 700.4L674.4 695.3L676.3 691.4L675.0 687.6" fill="none" stroke="#808080" stroke-width="1.40" stroke-linejoin="round"/>
<path d="M712.0 179.0L714.6 179.9L717.3 179.2L720.0 179.4L722.6 179.7L725.2 179.3L727.8 179.6L730.3 180.3L732.9 180.5L735.4 181.6L738.0 181.4L737.9 184.1L737.4 186.7L736.0 189.0L734.1 191.2L733.5 194.0L732.8 196.8L731.0 199.0L728.5 200.9L726.0 203.0L723.1 204.2L720.0 204.0L718.0 205.5L716.0 207.0L713.7 205.7L711.0 206.0L707.6 204.9L704.0 205.0L702.2 202.8L699.7 201.3L698.0 199.0M840.0 224.0L845.0 227.0L852.0 227.4L864.0 225.8L872.0 226.2L880.0 231.0L888.0 237.0L898.0 247.0L908.0 256.0L916.0 262.0L924.0 265.0L934.0 265.6L942.0 267.4L947.0 274.0L949.6 285.0L951.6 297.0L952.0 305.0L951.0 315.0M951.0 315.0L948.0 323.0L942.0 331.0L934.0 340.0L926.0 349.0L920.0 355.0L912.0 362.0L906.0 368.0L900.0 377.0L894.0 384.0L888.0 388.0L883.0 392.0L880.0 399.0L879.0 409.0L878.0 421.0L879.0 433.0L876.0 445.0L873.0 457.0L870.0 465.0L864.0 473.0L863.0 485.0L859.0 495.0L854.0 503.0L848.0 513.0L842.0 523.0L840.0 525.0M673.7 683.7L671.1 688.9L667.9 694.0L664.1 699.1L662.1 704.3L664.1 706.9L666.6 700.4L669.9 695.3L673.1 690.1L675.0 685.6ZM676.3 691.4L680.1 683.7L685.3 677.3L691.7 669.6L698.1 661.9L704.6 652.9L708.4 645.1L711.0 640.0M578.6 640.0L577.9 650.3L578.6 659.3L576.0 668.3L570.9 676.0L567.0 682.4L566.4 688.9L568.3 697.9L573.4 704.3L578.6 708.1L585.0 710.7L591.4 713.3L597.9 715.9L599.1 717.1M599.1 717.1L600.4 722.3L605.6 726.1L612.0 730.0L617.1 735.1L614.6 741.6L617.1 748.0L622.9 750.6L624.2 758.3L622.3 764.7L618.4 771.1L615.9 775.0" fill="none" stroke="#808080" stroke-width="1.51" stroke-linejoin="round"/>
<path d="M731.0 199.0L729.0 196.0L732.0 197.0M691.0 189.0L694.5 188.0L698.0 187.0L700.2 185.4L701.3 182.9L703.0 181.0L705.2 179.0L706.8 176.6L708.0 174.0M693.0 184.0L696.5 184.2L700.0 185.0L702.4 189.0L700.0 193.0M588.0 613.0L600.0 610.0L612.0 611.0L620.0 610.0L626.0 608.0" fill="none" stroke="#808080" stroke-width="1.94" stroke-linejoin="round"/>
<path d="M780.0 466.0L782.0 469.0L787.0 475.0L784.0 479.0L779.0 478.0L778.0 473.0ZM764.0 503.0L770.0 502.0L776.0 504.0L777.0 510.0L772.0 512.0L775.0 517.0L768.0 516.0L766.0 510.0ZM754.0 498.0L757.0 500.0L760.0 503.0L758.0 503.0ZM789.0 514.0L792.0 517.0L790.0 518.0ZM722.0 543.0L731.0 543.4L730.0 546.6L723.0 547.0ZM732.0 532.6L739.0 533.4L738.0 535.4L732.4 534.6ZM758.0 551.0L762.0 553.0L760.0 555.0ZM730.0 576.0L736.0 572.0L740.0 570.0L737.0 575.0L732.0 580.0ZM727.6 589.0L731.0 588.0L731.0 593.0L728.0 592.0ZM786.0 544.0L790.0 543.0L790.0 546.0L786.0 546.0ZM808.0 538.0L811.0 537.4L811.0 540.6ZM824.0 540.0L829.0 538.0L829.0 542.0ZM729.0 609.0L732.0 608.0L731.6 615.0L729.6 614.0ZM726.0 622.0L729.0 621.0L727.6 626.0ZM862.4 252.0L864.4 249.0L866.4 252.6ZM882.0 282.0L887.0 281.0L887.6 283.4L882.4 283.6ZM900.0 296.0L904.4 296.0L904.4 297.6L900.0 297.6ZM836.0 527.0L839.0 527.0L838.0 530.0ZM788.0 515.0L792.0 517.0L791.0 519.0ZM619.7 695.3L623.6 692.7L628.7 690.8L632.6 688.9L636.4 688.2L635.1 690.8L630.0 692.7L626.1 695.3L622.3 696.6Z" fill="#808080" stroke="#808080" stroke-width="1.30" stroke-linejoin="round"/>
<path d="M613.0 611.0L620.0 611.4L624.4 609.0" fill="none" stroke="#808080" stroke-width="2.59" stroke-linejoin="round"/>
<path d="M432.9 917.6L434.5 915.6L435.9 917.6L436.0 920.2L434.5 920.9L432.9 920.4ZM440.1 924.9L441.8 924.0L442.8 927.0L441.0 928.7L439.1 927.3ZM433.4 932.6L434.4 935.3L433.8 938.0L431.5 937.8L431.7 934.5ZM432.7 935.0L434.1 936.3L433.4 938.9L431.9 938.3L431.2 937.2L431.5 935.6ZM440.4 928.3L441.0 929.9L440.3 931.4L439.3 931.2L438.7 929.9L439.0 927.9ZM431.5 901.4L432.3 904.8L430.7 906.9L428.6 906.7L428.6 903.9L429.2 901.1ZM440.1 927.9L441.2 925.9L442.4 927.5L441.5 928.9ZM436.3 922.0L434.6 922.7L433.3 920.7L435.2 919.6ZM433.5 943.1L432.2 942.1L431.9 939.9L433.1 937.4L435.8 938.3L436.1 942.8ZM431.7 936.8L430.0 932.3L432.4 929.7L434.8 931.0L434.6 934.9ZM439.9 932.7L437.9 933.7L436.9 931.5L436.7 929.0L438.4 927.8L440.2 929.4ZM431.2 915.9L430.5 917.6L429.0 917.4L429.3 915.3L430.4 914.0ZM434.8 916.3L436.1 915.5L437.0 917.4L436.1 919.8L434.9 918.0ZM427.8 917.5L427.6 914.4L429.9 913.8L429.8 917.2ZM441.8 918.6L439.9 921.3L437.8 919.7L439.3 916.0ZM434.6 933.5L432.5 934.0L431.7 930.2L434.4 930.1ZM438.8 938.6L439.9 939.2L439.4 940.8L438.2 941.3L438.2 939.5ZM437.5 941.5L437.5 938.5L438.5 936.3L440.2 938.0L439.6 940.7ZM431.6 927.7L430.9 924.5L432.7 922.4L435.3 924.0L433.7 927.1ZM444.3 939.2L447.3 936.9L448.6 940.3L448.4 943.6L445.5 944.0ZM433.4 937.4L432.9 935.1L433.3 932.0L435.4 932.8L437.1 935.4L435.1 937.1ZM439.7 941.8L441.4 939.0L442.5 942.4L441.8 945.2L439.3 945.2ZM429.9 926.6L428.8 928.3L427.8 926.3L427.9 923.9L429.4 924.2L430.2 925.0ZM438.0 907.1L437.8 909.6L436.5 909.1L435.6 907.9L436.6 906.0ZM439.5 915.2L438.2 917.4L436.3 915.4L437.1 912.3L438.8 913.3ZM428.4 905.1L429.2 903.1L430.8 903.0L432.0 905.2L430.9 907.7L429.1 907.3ZM429.7 908.3L431.3 909.6L431.0 911.8L430.3 913.5L428.7 912.9L428.5 910.4ZM437.3 930.8L436.5 931.9L435.8 930.7L435.9 929.0L437.0 929.4ZM438.0 916.4L436.9 915.4L436.8 913.1L438.8 911.6L439.5 915.0ZM435.3 941.6L434.2 942.0L433.3 940.9L433.6 939.2L434.7 938.9L435.5 940.0ZM431.7 929.3L430.9 928.4L431.6 927.1L432.5 928.2ZM433.8 917.3L435.4 920.1L433.1 922.5L430.7 920.5L431.3 916.0ZM426.1 904.1L426.9 901.7L428.5 903.0L429.6 905.1L428.3 907.4L426.0 907.4ZM433.4 943.9L435.6 943.7L436.5 946.2L435.3 948.3L433.6 947.1ZM436.1 922.7L435.1 921.9L434.9 920.2L435.9 919.7L436.8 920.2L436.9 921.6ZM428.9 911.5L427.0 910.8L427.4 907.7L429.8 908.3ZM425.5 907.6L427.7 906.9L428.8 910.5L425.6 912.1ZM434.2 920.4L432.6 922.9L430.9 923.1L429.1 921.2L430.6 918.8L432.4 917.8ZM440.8 914.5L441.4 911.0L443.3 912.4L443.0 915.3ZM428.9 901.7L429.7 906.7L425.8 907.8L425.9 902.1ZM435.4 932.1L435.6 935.1L433.6 935.6L433.4 932.6ZM438.7 935.1L436.9 935.0L436.7 932.4L438.3 929.6L439.4 932.9ZM439.4 903.3L440.5 903.0L441.2 904.7L440.5 906.5L439.2 906.0L438.3 904.4ZM440.1 927.0L439.1 927.7L438.3 926.6L438.9 925.4L439.9 925.4ZM432.5 930.9L434.4 932.3L433.6 935.6L431.1 935.7L431.1 932.4ZM433.6 929.9L435.3 931.1L435.0 933.7L432.8 933.3ZM419.1 933.5L420.6 931.7L421.9 934.3L420.8 936.3L419.3 938.2L418.7 935.3ZM430.3 930.9L428.5 931.0L427.9 928.3L429.3 927.1L430.4 927.2L431.3 929.0ZM441.5 929.6L439.9 927.5L441.7 926.4L443.0 928.0ZM432.7 919.0L433.6 917.2L434.9 916.7L435.8 919.0L434.2 919.6ZM443.8 925.3L444.7 927.7L444.5 929.7L443.1 930.9L441.4 929.4L441.7 926.2ZM424.7 908.9L425.9 907.8L427.3 910.0L425.3 911.1ZM430.5 924.6L430.0 922.0L430.9 920.1L432.4 921.1L432.4 923.7ZM442.5 939.7L444.9 940.2L445.9 943.4L443.0 943.9ZM427.6 924.7L426.3 924.2L426.0 922.2L427.1 921.7L428.0 921.9L428.4 923.3ZM428.2 911.6L428.2 908.1L430.7 907.0L431.5 912.3ZM434.0 914.9L436.1 913.9L437.0 917.5L435.0 918.8L433.6 918.6L431.7 916.2ZM431.0 904.1L431.6 905.2L431.6 906.3L430.9 906.8L430.2 906.3L430.3 905.1ZM424.6 926.2L424.7 924.4L426.2 924.0L426.8 926.0L426.2 927.8L425.1 927.4ZM432.0 913.4L433.9 911.6L435.3 913.2L435.3 915.8L433.0 917.3ZM433.5 910.6L435.1 909.9L435.2 912.0L433.9 912.9ZM429.4 940.5L430.0 938.3L431.2 937.4L432.0 939.3L430.9 940.5ZM434.6 945.3L434.6 943.4L435.8 943.8L436.2 946.2ZM426.5 911.1L427.9 915.3L426.6 918.8L424.6 916.9L424.0 913.9ZM427.7 943.4L429.6 944.9L428.7 946.8L427.7 946.2ZM431.6 904.5L431.8 903.1L432.9 903.3L433.1 904.6L432.7 905.7L431.9 905.5ZM432.3 936.5L430.6 938.5L429.8 935.5L430.5 933.1L432.2 933.8ZM430.9 928.7L431.2 933.8L428.0 935.9L427.8 930.7ZM436.8 922.1L437.3 920.6L438.6 919.5L439.5 921.6L439.0 923.8L437.5 923.7ZM443.1 922.1L443.7 923.4L444.0 924.8L443.0 925.6L442.3 924.6L442.1 923.1ZM435.4 928.4L435.2 929.9L434.4 930.4L434.0 929.3L434.3 928.2ZM431.9 945.3L431.1 944.3L431.8 943.2L432.6 942.6L433.5 943.8L433.0 945.5ZM440.3 909.7L439.0 908.1L439.8 905.7L441.4 907.5ZM427.4 911.6L425.9 912.7L424.9 910.6L426.4 910.0ZM428.8 906.2L430.3 905.3L431.6 906.9L430.8 908.9L429.6 909.9L428.7 908.3Z" fill="none" stroke="#808080" stroke-width="1.19" stroke-linejoin="round"/>
</g>
<path d="M279.9 617.0L282.8 628.3L285.7 639.6L288.7 650.9L291.6 662.2L294.5 673.6L297.4 684.9L300.4 696.2L303.3 707.5L306.2 718.8L309.1 730.1L312.0 741.4L315.0 752.7L317.9 764.0L320.8 775.3L323.7 786.7L326.6 798.0L329.5 809.3L332.5 820.6L335.4 831.9L338.3 843.2L341.2 854.5L344.1 865.8L347.0 877.1L349.9 888.4L352.8 899.8L355.8 911.1L358.7 922.4L361.6 933.7L364.5 945.0M379.4 105.0L381.1 134.0L382.9 162.9L384.8 191.9L386.9 220.9L389.1 249.8L391.5 278.8L394.0 307.8L396.6 336.7L399.4 365.7L402.3 394.7L405.4 423.6L408.6 452.6L412.0 481.6L415.5 510.5L419.2 539.5L423.0 568.4L426.9 597.4L431.0 626.4L435.2 655.3L439.6 684.3L444.1 713.3L448.8 742.2L453.6 771.2L458.5 800.2L463.6 829.1L468.8 858.1L474.2 887.1L479.7 916.0L485.4 945.0M547.8 105.0L548.6 134.0L549.5 162.9L550.4 191.9L551.4 220.9L552.5 249.8L553.6 278.8L554.8 307.8L556.0 336.7L557.4 365.7L558.8 394.7L560.2 423.6L561.7 452.6L563.3 481.6L565.0 510.5L566.7 539.5L568.5 568.4L570.4 597.4L572.3 626.4L574.3 655.3L576.3 684.3L578.5 713.3L580.6 742.2L582.9 771.2L585.2 800.2L587.6 829.1L590.1 858.1L592.6 887.1L595.2 916.0L597.8 945.0M712.0 105.0L712.0 134.0L711.9 162.9L711.8 191.9L711.8 220.9L711.7 249.8L711.6 278.8L711.5 307.8L711.4 336.7L711.3 365.7L711.2 394.7L711.1 423.6L711.0 452.6L710.9 481.6L710.7 510.5L710.6 539.5L710.5 568.4L710.4 597.4L710.2 626.4L710.1 655.3L710.0 684.3L709.8 713.3L709.7 742.2L709.5 771.2L709.3 800.2L709.2 829.1L709.0 858.1L708.8 887.1L708.7 916.0L708.5 945.0M877.1 105.0L876.1 134.0L875.1 162.9L874.0 191.9L872.8 220.9L871.5 249.8L870.2 278.8L868.7 307.8L867.2 336.7L865.7 365.7L864.0 394.7L862.3 423.6L860.5 452.6L858.6 481.6L856.7 510.5L854.6 539.5L852.5 568.4L850.3 597.4L848.1 626.4L845.7 655.3L843.3 684.3L840.8 713.3L838.3 742.2L835.6 771.2L832.9 800.2L830.1 829.1L827.2 858.1L824.3 887.1L821.2 916.0L818.1 945.0M1044.5 105.0L1042.9 134.0L1041.1 162.9L1039.2 191.9L1037.1 220.9L1034.9 249.8L1032.5 278.8L1029.9 307.8L1027.2 336.7L1024.3 365.7L1021.3 394.7L1018.1 423.6L1014.7 452.6L1011.2 481.6L1007.5 510.5L1003.6 539.5L999.6 568.4L995.4 597.4L991.1 626.4L986.6 655.3L981.9 684.3L977.1 713.3L972.1 742.2L967.0 771.2L961.7 800.2L956.2 829.1L950.6 858.1L944.8 887.1L938.8 916.0L932.7 945.0M1118.2 719.0L1116.0 726.8L1113.8 734.6L1111.7 742.4L1109.5 750.2L1107.3 758.0L1105.1 765.8L1102.9 773.6L1100.8 781.3L1098.6 789.1L1096.4 796.9L1094.2 804.7L1092.0 812.5L1089.9 820.3L1087.7 828.1L1085.5 835.9L1083.3 843.7L1081.1 851.5L1079.0 859.3L1076.8 867.1L1074.6 874.9L1072.4 882.7L1070.2 890.4L1068.1 898.2L1065.9 906.0L1063.7 913.8L1061.5 921.6L1059.3 929.4L1057.2 937.2L1055.0 945.0M280.0 196.0L301.5 194.2L323.1 192.5L344.6 190.9L366.2 189.4L387.7 187.9L409.2 186.6L430.8 185.4L452.3 184.3L473.8 183.2L495.4 182.3L516.9 181.4L538.5 180.7L560.0 180.0L581.5 179.5L603.1 179.0L624.6 178.6L646.2 178.3L667.7 178.2L689.2 178.1L710.8 178.1L732.3 178.2L753.8 178.4L775.4 178.7L796.9 179.0L818.5 179.5L840.0 180.1L861.5 180.8L883.1 181.5L904.6 182.4L926.2 183.3L947.7 184.4L969.2 185.5L990.8 186.8L1012.3 188.1L1033.8 189.5L1055.4 191.1L1076.9 192.7L1098.5 194.4L1120.0 196.2M280.0 446.8L301.5 443.7L323.1 440.7L344.6 437.8L366.2 435.2L387.7 432.7L409.2 430.4L430.8 428.2L452.3 426.2L473.8 424.4L495.4 422.8L516.9 421.3L538.5 419.9L560.0 418.8L581.5 417.8L603.1 417.0L624.6 416.3L646.2 415.8L667.7 415.5L689.2 415.3L710.8 415.3L732.3 415.5L753.8 415.9L775.4 416.4L796.9 417.1L818.5 417.9L840.0 418.9L861.5 420.1L883.1 421.4L904.6 422.9L926.2 424.6L947.7 426.5L969.2 428.5L990.8 430.6L1012.3 433.0L1033.8 435.5L1055.4 438.2L1076.9 441.0L1098.5 444.0L1120.0 447.2M280.0 698.5L301.5 693.6L323.1 688.9L344.6 684.4L366.2 680.3L387.7 676.3L409.2 672.7L430.8 669.3L452.3 666.1L473.8 663.3L495.4 660.7L516.9 658.3L538.5 656.2L560.0 654.4L581.5 652.8L603.1 651.5L624.6 650.5L646.2 649.7L667.7 649.1L689.2 648.9L710.8 648.9L732.3 649.1L753.8 649.6L775.4 650.4L796.9 651.4L818.5 652.7L840.0 654.3L861.5 656.1L883.1 658.2L904.6 660.5L926.2 663.2L947.7 666.0L969.2 669.1L990.8 672.5L1012.3 676.2L1033.8 680.1L1055.4 684.2L1076.9 688.7L1098.5 693.4L1120.0 698.3M334.0 946.2L352.7 940.3L371.4 934.7L390.2 929.4L408.9 924.4L427.6 919.8L446.3 915.4L465.0 911.4L483.7 907.6L502.5 904.2L521.2 901.0L539.9 898.2L558.6 895.7L577.3 893.5L596.1 891.6L614.8 890.0L633.5 888.7L652.2 887.8L670.9 887.1L689.6 886.7L708.4 886.7L727.1 886.9L745.8 887.5L764.5 888.4L783.2 889.5L801.9 891.0L820.7 892.8L839.4 894.9L858.1 897.3L876.8 900.0L895.5 903.0L914.3 906.4L933.0 910.0L951.7 914.0L970.4 918.2L989.1 922.8L1007.8 927.6L1026.6 932.8L1045.3 938.3L1064.0 944.1" fill="none" stroke="#000" stroke-width="2.43" stroke-dasharray="2.43 2.43"/>
</g>
<rect x="280" y="105" width="839.3" height="840" fill="none" stroke="#000" stroke-width="2.3"/>
<text x="700.9" y="68" text-anchor="middle" class="t">NPP ATMS Brightness Temp Channel 21</text>
<text x="699.8" y="92.2" text-anchor="middle" class="t">20171124.0419093-0430209</text>
<text x="274" y="203" text-anchor="end" class="t">0°</text>
<text x="273" y="454.6" text-anchor="end" class="t">15°S</text>
<text x="273" y="705.7" text-anchor="end" class="t">30°S</text>
<text x="363.5" y="969.5" text-anchor="middle" class="t">80°W</text>
<text x="486" y="969.5" text-anchor="middle" class="t">70°W</text>
<text x="598.5" y="969.5" text-anchor="middle" class="t">60°W</text>
<text x="708.5" y="969.5" text-anchor="middle" class="t">50°W</text>
<text x="818.5" y="969.5" text-anchor="middle" class="t">40°W</text>
<text x="933" y="969.5" text-anchor="middle" class="t">30°W</text>
<text x="1055" y="969.5" text-anchor="middle" class="t">20°W</text>
<g shape-rendering="crispEdges">
<rect x="1134" y="723.62" width="42" height="11.18" fill="#0000da"/>
<rect x="1134" y="712.74" width="42" height="11.18" fill="#0000ed"/>
<rect x="1134" y="701.87" width="42" height="11.18" fill="#0000ff"/>
<rect x="1134" y="690.99" width="42" height="11.18" fill="#0000ff"/>
<rect x="1134" y="680.11" width="42" height="11.18" fill="#000cff"/>
<rect x="1134" y="669.23" width="42" height="11.18" fill="#0018ff"/>
<rect x="1134" y="658.36" width="42" height="11.18" fill="#0028ff"/>
<rect x="1134" y="647.48" width="42" height="11.18" fill="#0038ff"/>
<rect x="1134" y="636.60" width="42" height="11.18" fill="#0044ff"/>
<rect x="1134" y="625.72" width="42" height="11.18" fill="#0054ff"/>
<rect x="1134" y="614.84" width="42" height="11.18" fill="#0060ff"/>
<rect x="1134" y="603.97" width="42" height="11.18" fill="#0070ff"/>
<rect x="1134" y="593.09" width="42" height="11.18" fill="#0080ff"/>
<rect x="1134" y="582.21" width="42" height="11.18" fill="#008cff"/>
<rect x="1134" y="571.33" width="42" height="11.18" fill="#009cff"/>
<rect x="1134" y="560.46" width="42" height="11.18" fill="#00a8ff"/>
<rect x="1134" y="549.58" width="42" height="11.18" fill="#00b8ff"/>
<rect x="1134" y="538.70" width="42" height="11.18" fill="#00c4ff"/>
<rect x="1134" y="527.82" width="42" height="11.18" fill="#00d4ff"/>
<rect x="1134" y="516.94" width="42" height="11.18" fill="#00e4f8"/>
<rect x="1134" y="506.07" width="42" height="11.18" fill="#09f0ee"/>
<rect x="1134" y="495.19" width="42" height="11.18" fill="#16ffe1"/>
<rect x="1134" y="484.31" width="42" height="11.18" fill="#1fffd7"/>
<rect x="1134" y="473.43" width="42" height="11.18" fill="#2cffca"/>
<rect x="1134" y="462.56" width="42" height="11.18" fill="#39ffbe"/>
<rect x="1134" y="451.68" width="42" height="11.18" fill="#43ffb4"/>
<rect x="1134" y="440.80" width="42" height="11.18" fill="#50ffa7"/>
<rect x="1134" y="429.92" width="42" height="11.18" fill="#5aff9d"/>
<rect x="1134" y="419.04" width="42" height="11.18" fill="#66ff90"/>
<rect x="1134" y="408.17" width="42" height="11.18" fill="#73ff83"/>
<rect x="1134" y="397.29" width="42" height="11.18" fill="#7dff7a"/>
<rect x="1134" y="386.41" width="42" height="11.18" fill="#8aff6d"/>
<rect x="1134" y="375.53" width="42" height="11.18" fill="#94ff63"/>
<rect x="1134" y="364.66" width="42" height="11.18" fill="#a0ff56"/>
<rect x="1134" y="353.78" width="42" height="11.18" fill="#aaff4d"/>
<rect x="1134" y="342.90" width="42" height="11.18" fill="#b7ff40"/>
<rect x="1134" y="332.02" width="42" height="11.18" fill="#c4ff33"/>
<rect x="1134" y="321.14" width="42" height="11.18" fill="#ceff29"/>
<rect x="1134" y="310.27" width="42" height="11.18" fill="#dbff1c"/>
<rect x="1134" y="299.39" width="42" height="11.18" fill="#e4ff13"/>
<rect x="1134" y="288.51" width="42" height="11.18" fill="#f1fc06"/>
<rect x="1134" y="277.63" width="42" height="11.18" fill="#feed00"/>
<rect x="1134" y="266.76" width="42" height="11.18" fill="#ffe200"/>
<rect x="1134" y="255.88" width="42" height="11.18" fill="#ffd300"/>
<rect x="1134" y="245.00" width="42" height="11.18" fill="#ffc800"/>
<rect x="1134" y="234.12" width="42" height="11.18" fill="#ffb900"/>
<rect x="1134" y="223.24" width="42" height="11.18" fill="#ffab00"/>
<rect x="1134" y="212.37" width="42" height="11.18" fill="#ff9f00"/>
<rect x="1134" y="201.49" width="42" height="11.18" fill="#ff9100"/>
<rect x="1134" y="190.61" width="42" height="11.18" fill="#ff8600"/>
<rect x="1134" y="179.73" width="42" height="11.18" fill="#ff7700"/>
<rect x="1134" y="168.86" width="42" height="11.18" fill="#ff6c00"/>
<rect x="1134" y="157.98" width="42" height="11.18" fill="#ff5d00"/>
<rect x="1134" y="147.10" width="42" height="11.18" fill="#ff4e00"/>
<rect x="1134" y="136.22" width="42" height="11.18" fill="#ff4300"/>
<rect x="1134" y="125.34" width="42" height="11.18" fill="#ff3400"/>
<rect x="1134" y="114.47" width="42" height="11.18" fill="#ff2900"/>
<rect x="1134" y="105.00" width="42" height="9.77" fill="#ff1a00"/>
</g>
<rect x="1134.1" y="105" width="41.9" height="629.5" fill="none" stroke="#000" stroke-width="2.2"/>
<path d="M1166 734.5H1176" stroke="#000" stroke-width="1.2"/>
<text x="1183" y="743.1" class="t">181</text>
<path d="M1166 669.2H1176" stroke="#000" stroke-width="1.2"/>
<text x="1183" y="677.8" class="t">190</text>
<path d="M1166 604.0H1176" stroke="#000" stroke-width="1.2"/>
<text x="1183" y="612.6" class="t">199</text>
<path d="M1166 538.7H1176" stroke="#000" stroke-width="1.2"/>
<text x="1183" y="547.3" class="t">208</text>
<path d="M1166 473.4H1176" stroke="#000" stroke-width="1.2"/>
<text x="1183" y="482.0" class="t">217</text>
<path d="M1166 408.2H1176" stroke="#000" stroke-width="1.2"/>
<text x="1183" y="416.8" class="t">226</text>
<path d="M1166 342.9H1176" stroke="#000" stroke-width="1.2"/>
<text x="1183" y="351.5" class="t">235</text>
<path d="M1166 277.6H1176" stroke="#000" stroke-width="1.2"/>
<text x="1183" y="286.2" class="t">244</text>
<path d="M1166 212.4H1176" stroke="#000" stroke-width="1.2"/>
<text x="1183" y="221.0" class="t">253</text>
<path d="M1166 147.1H1176" stroke="#000" stroke-width="1.2"/>
<text x="1183" y="155.7" class="t">262</text>
<text transform="translate(1250.8 419.5) rotate(-90)" text-anchor="middle" class="t">Brightness Temp (K)</text>
<clipPath id="rob"><path d="M1327.1 786.3L1329.6 787.1L1332.1 787.8L1335.2 789.0L1338.3 790.2L1341.6 791.6L1344.8 793.1L1347.7 794.7L1350.5 796.3L1353.1 798.0L1355.7 799.7L1358.2 801.5L1360.6 803.3L1362.9 805.1L1365.2 806.9L1367.3 808.8L1369.4 810.7L1371.1 812.7L1372.9 814.6L1374.5 816.6L1376.1 818.5L1377.5 820.5L1378.8 822.5L1379.9 824.4L1381.0 826.4L1381.8 828.4L1382.6 830.4L1383.2 832.4L1383.8 834.4L1384.2 836.3L1384.7 838.3L1385.1 840.3L1385.4 842.3L1385.6 844.3L1385.8 846.2L1385.9 848.2L1386.0 850.2L1385.9 852.2L1385.8 854.2L1385.6 856.1L1385.4 858.1L1385.1 860.1L1384.7 862.1L1384.2 864.1L1383.8 866.0L1383.2 868.0L1382.6 870.0L1381.8 872.0L1381.0 874.0L1379.9 876.0L1378.8 877.9L1377.5 879.9L1376.1 881.9L1374.5 883.8L1372.9 885.8L1371.1 887.7L1369.4 889.7L1367.3 891.6L1365.2 893.5L1362.9 895.3L1360.6 897.1L1358.2 898.9L1355.7 900.7L1353.1 902.4L1350.5 904.1L1347.7 905.7L1344.8 907.3L1341.6 908.8L1338.3 910.2L1335.2 911.4L1332.1 912.6L1329.6 913.3L1327.1 914.1L1192.9 914.1L1190.4 913.3L1187.9 912.6L1184.8 911.4L1181.7 910.2L1178.4 908.8L1175.2 907.3L1172.3 905.7L1169.5 904.1L1166.9 902.4L1164.3 900.7L1161.8 898.9L1159.4 897.1L1157.1 895.3L1154.8 893.5L1152.7 891.6L1150.6 889.7L1148.9 887.7L1147.1 885.8L1145.5 883.8L1143.9 881.9L1142.5 879.9L1141.2 877.9L1140.1 876.0L1139.0 874.0L1138.2 872.0L1137.4 870.0L1136.8 868.0L1136.2 866.0L1135.8 864.1L1135.3 862.1L1134.9 860.1L1134.6 858.1L1134.4 856.1L1134.2 854.2L1134.1 852.2L1134.0 850.2L1134.1 848.2L1134.2 846.2L1134.4 844.3L1134.6 842.3L1134.9 840.3L1135.3 838.3L1135.8 836.3L1136.2 834.4L1136.8 832.4L1137.4 830.4L1138.2 828.4L1139.0 826.4L1140.1 824.4L1141.2 822.5L1142.5 820.5L1143.9 818.5L1145.5 816.6L1147.1 814.6L1148.9 812.7L1150.6 810.7L1152.7 808.8L1154.8 806.9L1157.1 805.1L1159.4 803.3L1161.8 801.5L1164.3 799.7L1166.9 798.0L1169.5 796.3L1172.3 794.7L1175.2 793.1L1178.4 791.6L1181.7 790.2L1184.8 789.0L1187.9 787.8L1190.4 787.1L1192.9 786.3Z"/></clipPath>
<g clip-path="url(#rob)">
<path d="M1164.0 807.5L1168.0 805.5L1168.5 803.5L1170.0 802.0L1166.0 799.5L1169.0 798.0L1174.0 799.0L1177.0 797.0L1182.0 795.5L1186.0 796.5L1190.0 797.0L1194.0 796.0L1199.0 795.0L1203.0 792.5L1208.0 792.0L1213.0 793.0L1218.0 790.0L1223.0 789.5L1230.0 789.0L1226.0 791.0L1224.0 794.0L1226.0 797.0L1225.0 800.0L1223.0 803.0L1220.0 803.2L1226.0 806.0L1225.5 810.0L1227.5 812.5L1225.0 813.5L1222.0 812.0L1218.0 814.5L1215.0 816.5L1211.0 819.0L1209.0 822.0L1207.0 825.0L1205.0 827.0L1205.2 830.0L1204.0 828.0L1202.0 826.5L1199.0 827.0L1196.0 828.0L1194.0 830.0L1193.5 833.0L1195.0 836.0L1199.0 834.5L1200.0 837.0L1198.0 839.0L1200.0 840.0L1202.0 842.0L1204.0 844.0L1207.0 842.2L1207.2 845.5L1203.2 845.5L1199.5 843.2L1196.2 840.2L1193.5 838.0L1190.0 837.7L1187.0 835.0L1185.0 832.0L1184.0 829.0L1185.5 827.0L1182.0 824.0L1180.0 820.0L1179.5 818.0L1182.0 815.0L1184.0 812.0L1184.5 808.0L1183.0 805.0L1180.0 803.5L1176.0 803.5L1172.0 804.5L1168.0 806.2ZM1231.0 791.0L1236.0 789.5L1243.0 789.0L1250.0 788.5L1254.0 789.5L1251.5 792.0L1249.5 795.0L1246.0 797.0L1242.0 799.5L1238.0 802.0L1235.0 804.0L1233.0 801.5L1232.0 798.0L1233.0 795.0L1231.0 793.0ZM1247.5 799.2L1252.5 799.0L1252.8 800.5L1248.0 800.8ZM1207.0 842.0L1210.0 840.8L1213.0 841.8L1217.0 842.5L1220.0 845.0L1224.0 846.5L1226.5 849.0L1230.0 851.2L1235.0 853.5L1235.8 858.0L1233.8 865.0L1231.0 868.0L1227.2 870.0L1226.0 872.2L1223.2 875.0L1221.2 879.0L1220.0 882.0L1219.2 884.5L1218.2 888.0L1219.2 891.0L1221.7 893.2L1218.2 893.7L1215.7 891.2L1214.2 888.2L1213.2 885.0L1212.8 880.0L1213.2 876.0L1213.0 872.0L1212.0 868.0L1210.0 864.0L1207.0 860.0L1204.5 857.0L1203.0 854.0L1203.5 850.0L1204.5 846.0ZM1254.5 821.5L1254.5 816.5L1258.5 816.2L1259.5 813.0L1258.0 810.5L1258.5 809.2L1261.0 809.0L1264.0 807.5L1266.0 806.2L1263.0 803.5L1262.5 801.5L1265.5 799.5L1268.5 797.2L1275.0 795.8L1280.0 797.5L1283.5 800.0L1286.0 798.5L1285.0 795.0L1289.0 792.5L1293.5 795.0L1300.0 793.0L1302.0 790.5L1307.0 791.0L1312.0 793.0L1317.0 794.0L1323.0 794.2L1325.0 792.5L1331.0 795.0L1338.0 796.0L1345.0 796.5L1350.0 796.5L1355.0 799.5L1358.0 801.5L1354.0 802.5L1355.0 807.0L1354.0 810.0L1351.0 807.2L1349.5 804.5L1347.0 802.5L1343.0 804.0L1340.0 805.8L1341.2 808.0L1345.0 808.8L1347.0 812.0L1345.0 815.0L1343.0 820.0L1344.5 823.0L1342.5 823.2L1341.0 823.0L1342.2 827.0L1340.0 830.0L1337.0 832.2L1335.0 834.5L1334.0 837.5L1335.6 840.5L1334.2 843.2L1332.2 840.2L1331.0 837.2L1329.2 839.8L1330.0 844.0L1332.2 849.0L1332.5 852.0L1330.5 851.5L1328.5 848.0L1326.8 845.5L1327.2 841.0L1325.0 836.0L1324.0 833.0L1322.0 832.0L1319.5 835.5L1317.2 840.0L1316.5 845.5L1314.2 843.2L1312.0 839.0L1310.0 834.8L1308.0 832.0L1306.0 829.8L1303.0 830.8L1300.2 832.0L1301.2 834.0L1299.8 836.0L1295.5 839.2L1291.8 840.2L1290.0 838.5L1287.0 833.5L1284.2 828.5L1283.3 824.8L1283.0 822.3L1279.5 821.8L1277.5 820.5L1276.0 819.5L1274.5 821.5L1273.0 819.5L1272.0 818.0L1271.0 819.0L1269.5 821.0L1268.0 819.0L1267.0 817.0L1265.0 816.5L1262.0 817.5L1260.0 819.5L1259.0 822.0ZM1255.0 824.0L1250.0 828.0L1248.5 834.0L1249.0 840.0L1252.0 844.0L1255.0 846.5L1260.0 846.0L1264.0 845.0L1266.5 848.0L1268.0 854.0L1268.8 860.0L1268.0 864.0L1270.0 870.0L1272.0 876.0L1273.5 878.2L1278.0 877.2L1281.2 874.0L1284.0 869.0L1285.0 865.0L1288.0 862.0L1288.6 858.0L1287.2 854.0L1289.0 850.0L1292.0 847.0L1295.0 843.2L1296.2 841.2L1291.8 841.4L1289.0 840.0L1286.0 835.3L1283.3 830.3L1282.2 826.2L1283.0 825.0L1278.0 824.6L1274.0 824.1L1272.0 825.1L1268.0 823.1L1267.0 821.6L1261.5 821.6L1259.5 822.3ZM1257.0 809.0L1258.0 805.0L1259.5 804.5L1260.0 807.5L1259.2 809.8ZM1255.5 807.5L1256.7 807.2L1256.7 809.0L1255.5 809.0ZM1265.0 790.3L1271.5 790.0L1268.5 792.2ZM1285.5 794.2L1289.0 792.2L1291.8 792.6L1288.2 794.0L1286.6 795.4ZM1349.0 813.5L1351.5 816.0L1352.5 820.0L1351.0 822.5L1347.0 824.7L1346.0 823.7L1349.5 821.0L1350.0 818.0L1348.5 815.5ZM1347.5 811.0L1349.7 812.0L1348.5 813.7ZM1346.4 805.8L1347.6 810.0L1346.8 810.6ZM1340.8 829.4L1341.7 829.6L1341.4 831.0L1340.7 830.6ZM1343.5 836.0L1345.5 839.0L1346.5 843.0L1348.0 845.0L1346.5 845.5L1344.5 842.0ZM1336.5 849.0L1340.0 846.0L1342.5 846.5L1342.0 851.0L1340.0 853.5L1337.5 852.0ZM1326.5 846.0L1329.0 848.0L1332.5 853.0L1335.0 855.5L1334.0 856.5L1330.5 853.5L1327.5 849.5ZM1335.0 856.5L1340.0 857.5L1344.0 858.5L1343.8 859.4L1339.5 858.6L1335.0 857.6ZM1343.5 850.0L1346.0 849.5L1345.5 854.0L1344.0 854.5ZM1353.5 852.0L1357.0 851.5L1361.0 853.5L1366.0 854.0L1366.5 855.5L1363.0 857.0L1359.0 857.0L1355.0 854.5ZM1315.8 846.2L1316.7 846.4L1316.5 847.4L1315.8 847.2ZM1293.5 860.5L1295.0 860.0L1294.5 865.0L1292.5 870.0L1290.0 870.5L1289.5 868.0L1291.5 864.0ZM1336.5 877.5L1337.8 874.0L1337.2 870.0L1339.8 867.2L1345.0 864.5L1347.5 862.0L1351.0 860.0L1353.5 859.5L1355.0 862.5L1358.0 863.5L1359.5 860.0L1361.0 863.0L1363.0 868.0L1364.0 872.0L1362.5 876.0L1360.0 879.5L1357.0 881.0L1355.0 882.8L1352.5 882.0L1351.2 879.5L1350.0 876.8L1345.0 875.0L1341.0 876.0ZM1352.5 883.5L1354.5 883.0L1354.0 884.8ZM1364.0 886.5L1370.0 883.0L1375.0 880.5L1376.0 881.0L1371.0 884.5L1365.0 887.8ZM1374.3 877.2L1375.0 879.5L1376.6 880.0L1375.6 877.8ZM1179.0 909.5L1186.0 909.0L1192.0 907.5L1200.0 906.5L1209.0 907.0L1211.0 906.0L1215.0 906.5L1222.0 906.0L1224.0 903.5L1227.0 900.5L1229.0 899.5L1230.0 904.0L1233.0 907.5L1238.0 909.0L1245.0 908.5L1250.0 906.0L1256.0 904.5L1263.0 904.0L1270.0 904.5L1275.0 904.2L1281.0 903.0L1287.0 901.5L1293.0 902.2L1298.0 904.2L1303.0 902.0L1309.0 901.5L1315.0 901.2L1323.0 901.8L1331.0 901.5L1337.0 902.5L1344.5 904.8L1339.0 906.8L1335.0 909.0L1341.0 909.0L1341.0 916.0L1175.0 916.0L1170.0 916.0Z" fill="#808080" stroke="#000" stroke-width="0.7" stroke-linejoin="round"/>
<path d="M1208.0 803.5L1212.0 801.5L1217.0 802.0L1218.0 805.0L1215.0 807.5L1213.0 809.0L1210.0 806.5ZM1278.5 814.5L1282.0 813.5L1285.0 815.5L1286.0 817.5L1282.0 818.5L1278.5 817.5ZM1289.5 814.0L1291.5 813.5L1293.5 817.0L1295.0 820.0L1293.5 821.0L1291.5 818.5ZM1296.3 814.0L1297.7 814.0L1297.8 815.5L1296.4 815.6ZM1292.5 826.5L1294.5 828.5L1297.5 830.5L1296.5 831.5L1294.0 830.0ZM1269.0 803.2L1271.0 802.2L1272.5 804.5L1271.0 806.2L1269.5 805.5ZM1340.0 804.5L1345.5 803.2L1346.5 805.0L1342.0 806.2ZM1337.0 819.5L1338.5 818.5L1339.0 820.5L1337.5 821.0Z" fill="#fff" stroke="#000" stroke-width="0.5"/>
<path d="M1282.6 826.2L1284.8 830.5L1287.5 835.0L1290.2 839.3L1293.0 840.6L1296.2 840.6" fill="none" stroke="#fff" stroke-width="1.3"/>
<path d="M1199.0 796.2L1206.0 795.0L1212.0 793.8L1220.0 792.0M1218.0 797.2L1220.5 800.0L1223.0 802.6M1220.5 811.2L1223.5 812.2L1226.2 813.0M1206.0 797.8L1210.0 799.0L1215.0 798.2" fill="none" stroke="#fff" stroke-width="1.1"/>
<path d="M1202.5 832.5L1207.0 833.5L1212.0 835.5M1207.0 836.0L1210.0 836.5M1209.0 853.5L1213.0 852.0L1216.0 851.0L1218.0 852.5L1220.0 851.5M1194.0 799.0L1200.0 798.0L1206.0 796.5M1200.0 801.5L1195.0 802.5M1202.0 796.0L1208.0 795.0L1214.0 794.5M1216.0 792.0L1220.0 793.5L1224.0 792.5M1212.0 797.5L1218.0 796.5L1222.0 798.5M1204.0 813.0L1209.0 814.0L1207.0 816.5M1202.0 808.0L1201.5 810.5M1294.5 797.0L1299.0 801.0L1302.0 802.5M1303.0 796.0L1307.0 800.0L1309.0 801.5M1324.0 796.0L1329.0 799.0L1334.0 801.5M1325.0 803.0L1330.0 803.5M1323.0 807.0L1324.0 809.5M1306.0 813.5L1309.0 813.0M1285.0 805.5L1288.0 806.5M1289.0 823.5L1291.5 825.0M1255.0 839.0L1259.0 837.5M1269.0 839.5L1270.0 840.5M1264.0 844.0L1265.0 845.5M1271.5 852.0L1273.0 849.0L1276.5 849.0M1280.0 853.5L1281.5 857.0M1283.5 858.0L1284.5 863.0M1306.5 828.5L1307.0 831.0" fill="none" stroke="#000" stroke-width="0.8"/>
<path d="M1220.5 851.2L1238.0 853.2L1235.8 873.5L1217.0 870.5ZM1216.6 873.8L1226.0 875.8L1236.0 876.8L1236.0 885.0L1226.0 884.5L1220.5 883.2L1215.0 881.2Z" fill="#f00"/>
<path d="M1230.0 851.2L1235.0 853.5L1235.8 858.0L1233.8 865.0L1231.0 868.0L1227.2 870.0L1226.0 872.2L1223.2 875.0L1221.2 879.0L1220.0 882.0M1220.5 874.0L1219.5 877.0L1221.5 878.0L1220.5 880.5M1220.5 851.2L1224.0 851.4L1230.0 851.2" fill="none" stroke="#000" stroke-width="0.7"/>
<circle cx="1153" cy="835" r="0.9" fill="#777"/>
</g>
<path d="M1327.1 786.3L1329.6 787.1L1332.1 787.8L1335.2 789.0L1338.3 790.2L1341.6 791.6L1344.8 793.1L1347.7 794.7L1350.5 796.3L1353.1 798.0L1355.7 799.7L1358.2 801.5L1360.6 803.3L1362.9 805.1L1365.2 806.9L1367.3 808.8L1369.4 810.7L1371.1 812.7L1372.9 814.6L1374.5 816.6L1376.1 818.5L1377.5 820.5L1378.8 822.5L1379.9 824.4L1381.0 826.4L1381.8 828.4L1382.6 830.4L1383.2 832.4L1383.8 834.4L1384.2 836.3L1384.7 838.3L1385.1 840.3L1385.4 842.3L1385.6 844.3L1385.8 846.2L1385.9 848.2L1386.0 850.2L1385.9 852.2L1385.8 854.2L1385.6 856.1L1385.4 858.1L1385.1 860.1L1384.7 862.1L1384.2 864.1L1383.8 866.0L1383.2 868.0L1382.6 870.0L1381.8 872.0L1381.0 874.0L1379.9 876.0L1378.8 877.9L1377.5 879.9L1376.1 881.9L1374.5 883.8L1372.9 885.8L1371.1 887.7L1369.4 889.7L1367.3 891.6L1365.2 893.5L1362.9 895.3L1360.6 897.1L1358.2 898.9L1355.7 900.7L1353.1 902.4L1350.5 904.1L1347.7 905.7L1344.8 907.3L1341.6 908.8L1338.3 910.2L1335.2 911.4L1332.1 912.6L1329.6 913.3L1327.1 914.1L1192.9 914.1L1190.4 913.3L1187.9 912.6L1184.8 911.4L1181.7 910.2L1178.4 908.8L1175.2 907.3L1172.3 905.7L1169.5 904.1L1166.9 902.4L1164.3 900.7L1161.8 898.9L1159.4 897.1L1157.1 895.3L1154.8 893.5L1152.7 891.6L1150.6 889.7L1148.9 887.7L1147.1 885.8L1145.5 883.8L1143.9 881.9L1142.5 879.9L1141.2 877.9L1140.1 876.0L1139.0 874.0L1138.2 872.0L1137.4 870.0L1136.8 868.0L1136.2 866.0L1135.8 864.1L1135.3 862.1L1134.9 860.1L1134.6 858.1L1134.4 856.1L1134.2 854.2L1134.1 852.2L1134.0 850.2L1134.1 848.2L1134.2 846.2L1134.4 844.3L1134.6 842.3L1134.9 840.3L1135.3 838.3L1135.8 836.3L1136.2 834.4L1136.8 832.4L1137.4 830.4L1138.2 828.4L1139.0 826.4L1140.1 824.4L1141.2 822.5L1142.5 820.5L1143.9 818.5L1145.5 816.6L1147.1 814.6L1148.9 812.7L1150.6 810.7L1152.7 808.8L1154.8 806.9L1157.1 805.1L1159.4 803.3L1161.8 801.5L1164.3 799.7L1166.9 798.0L1169.5 796.3L1172.3 794.7L1175.2 793.1L1178.4 791.6L1181.7 790.2L1184.8 789.0L1187.9 787.8L1190.4 787.1L1192.9 786.3Z" fill="none" stroke="#999" stroke-width="0.8"/>
</svg>
</body></html>
